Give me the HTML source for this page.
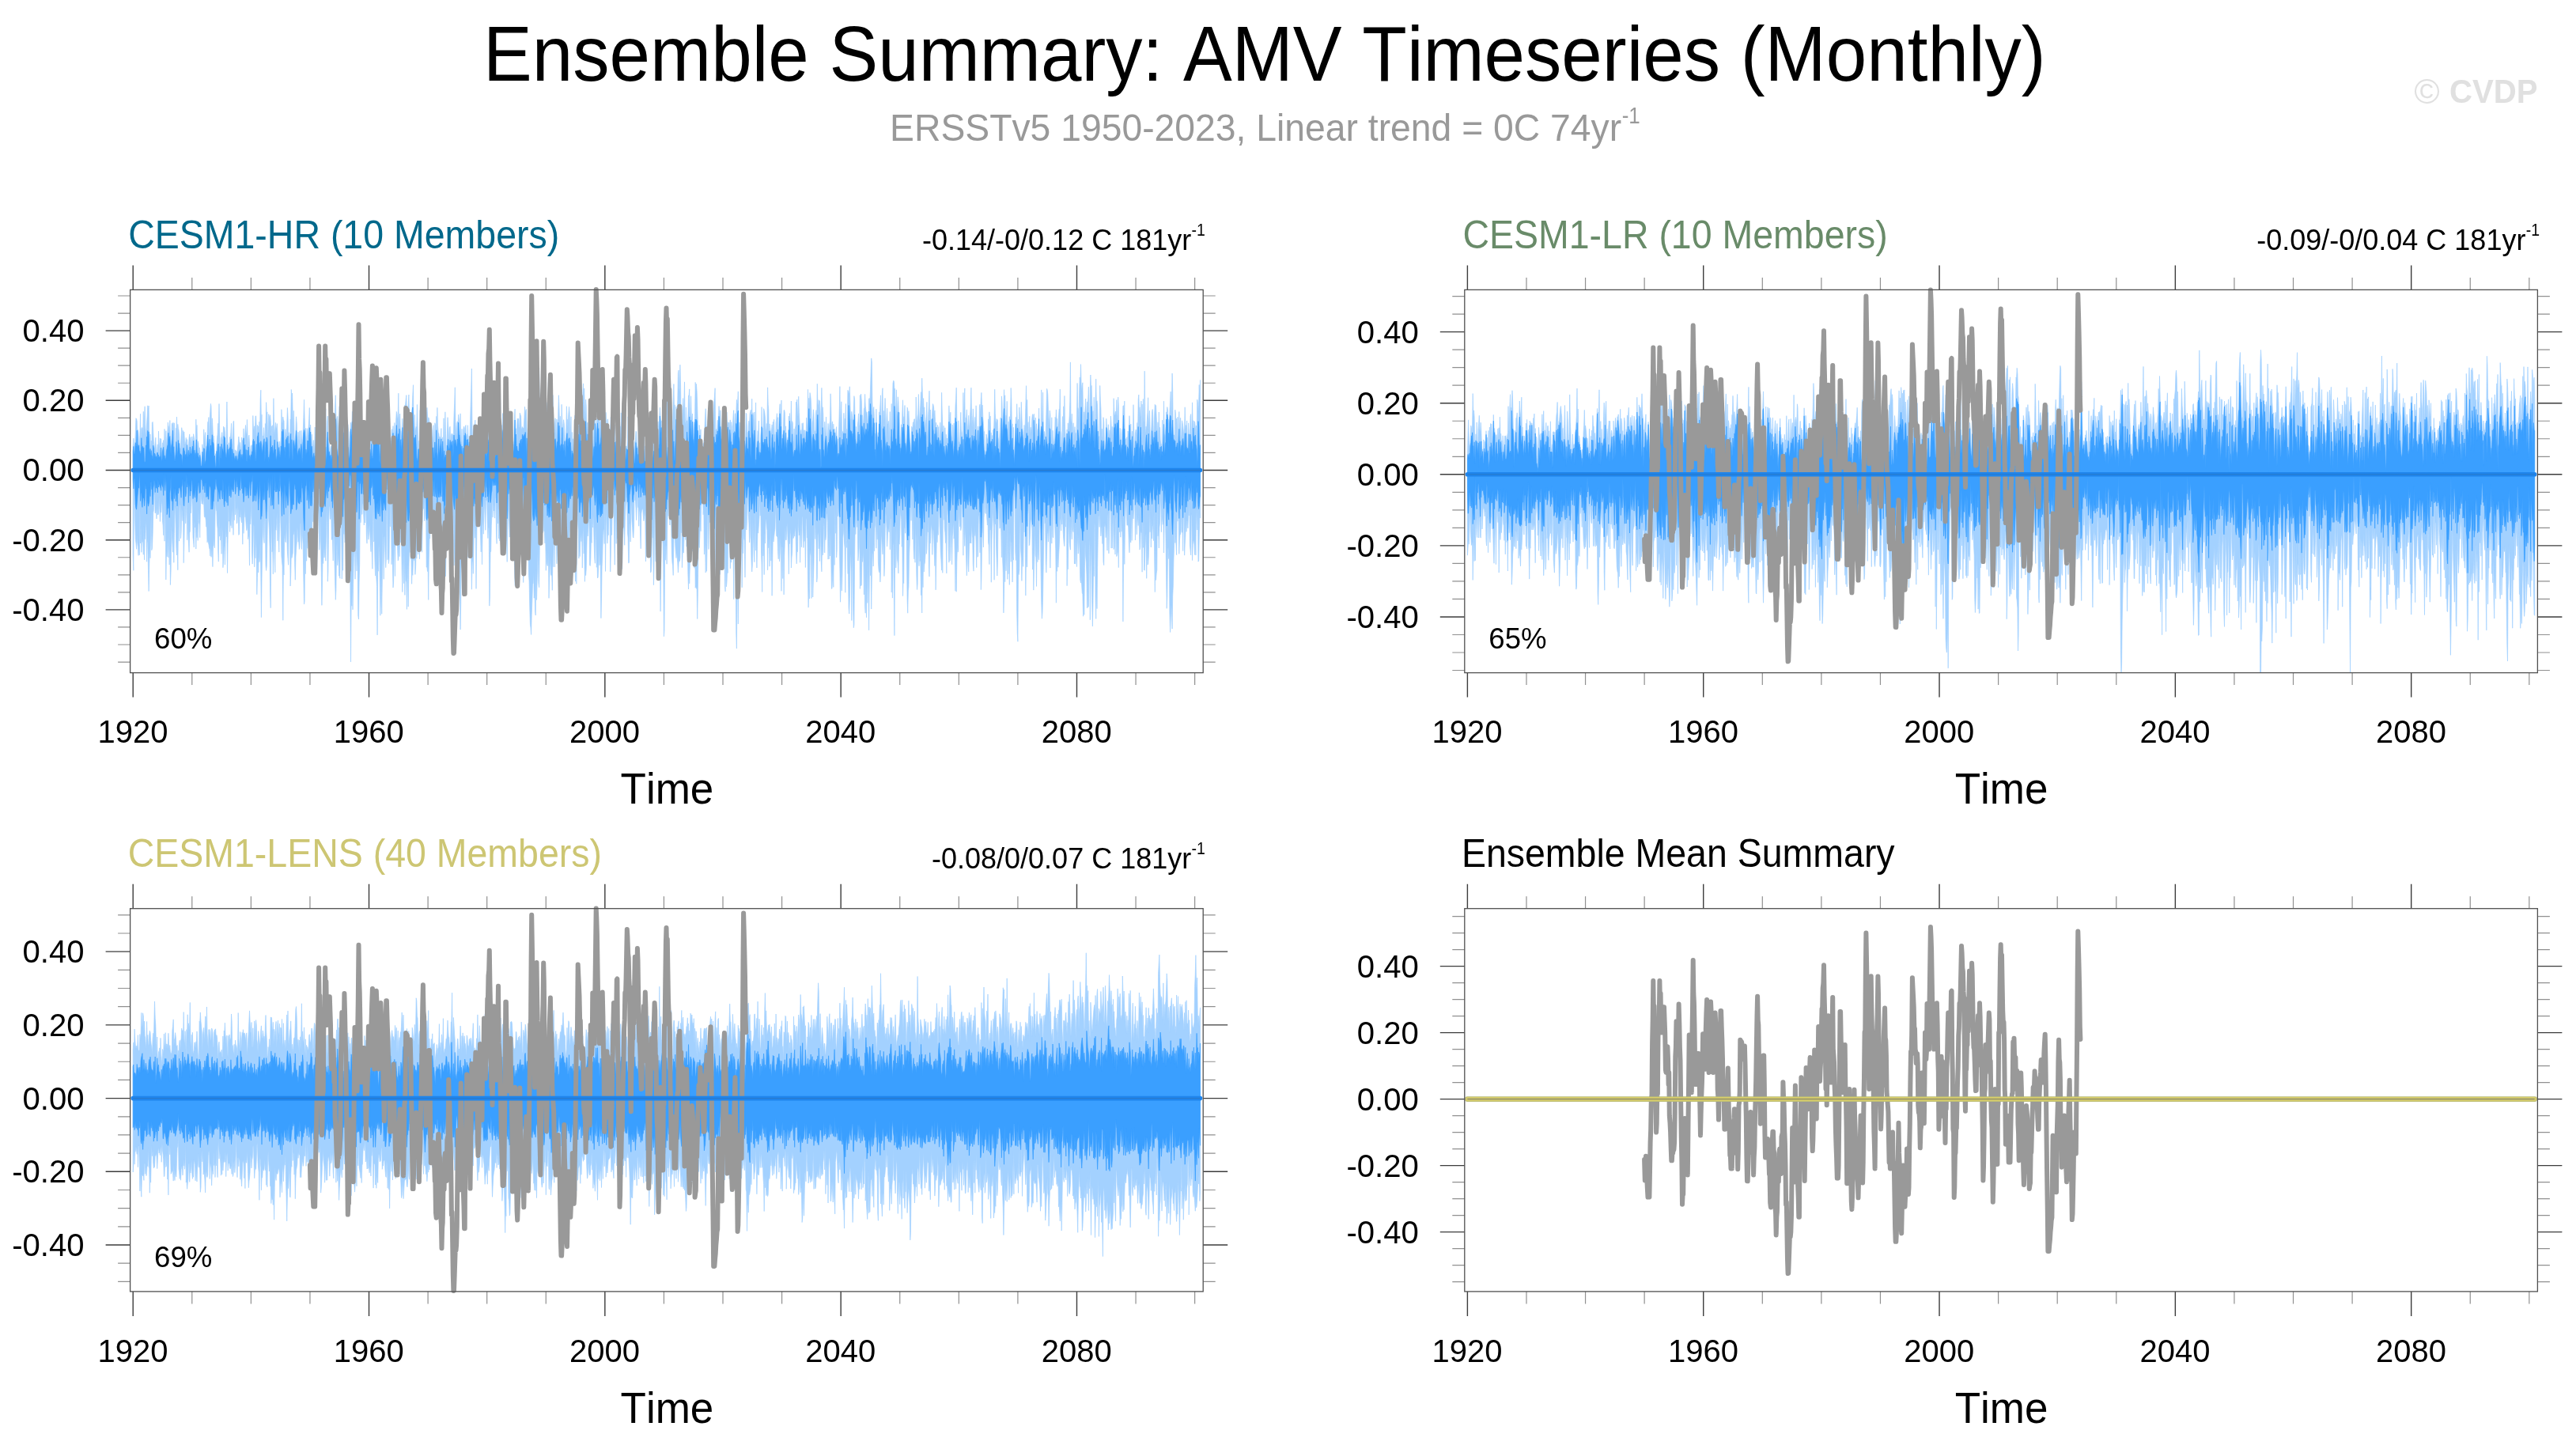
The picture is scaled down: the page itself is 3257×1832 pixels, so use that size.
<!DOCTYPE html>
<html lang="en"><head><meta charset="utf-8"><title>Ensemble Summary: AMV Timeseries (Monthly)</title>
<style>
html,body{margin:0;padding:0;background:#fff;}
body{width:3257px;height:1832px;overflow:hidden;}
svg{display:block;will-change:transform;}
svg text{font-family:"Liberation Sans", sans-serif;font-kerning:none;}
</style></head><body>
<svg width="3257" height="1832" viewBox="0 0 3257 1832">
<rect width="3257" height="1832" fill="#fff"/>
<text transform="translate(611.00 102.00) scale(1 1.065)" font-size="92.6">Ensemble Summary: AMV Timeseries (Monthly)</text>
<text transform="translate(1125.10 177.80) scale(1 1.045)" font-size="46.3" fill="#999">ERSSTv5 1950-2023, Linear trend = 0C 74yr</text>
<text transform="translate(2050.70 155.80) scale(1 1.14)" font-size="26" fill="#999">-1</text>
<text transform="translate(3052.20 130.50) scale(1 1.0)" font-size="44" fill="#e0e0e0">©</text>
<text transform="translate(3097.00 130.30) scale(1 1.06)" font-size="40.2" fill="#e0e0e0" font-weight="bold">CVDP</text>

<g id="panel1">
<clipPath id="cp0"><rect x="164.6" y="366.4" width="1356.6" height="484.2"/></clipPath>
<g clip-path="url(#cp0)">
<polygon points="168.2,564.8 168.8,554.1 169.4,565.1 170.1,562.7 170.7,560.1 171.3,546.3 171.9,528.7 172.6,529.7 173.2,532.4 173.8,555.8 174.4,543.4 175.0,546.5 175.7,557.1 176.3,567.1 176.9,550.7 177.5,523.2 178.1,566.0 178.8,542.6 179.4,540.5 180.0,541.1 180.6,551.1 181.3,520.3 181.9,549.7 182.5,529.1 183.1,513.8 183.7,536.8 184.4,553.6 185.0,546.8 185.6,534.6 186.2,525.5 186.8,512.8 187.5,517.8 188.1,513.0 188.7,552.2 189.3,569.8 190.0,548.8 190.6,570.5 191.2,557.1 191.8,571.6 192.4,534.3 193.1,533.4 193.7,545.3 194.3,557.9 194.9,566.0 195.5,567.2 196.2,560.3 196.8,553.3 197.4,569.7 198.0,578.3 198.7,567.2 199.3,561.9 199.9,574.2 200.5,545.1 201.1,569.9 201.8,560.8 202.4,554.2 203.0,573.2 203.6,554.7 204.2,566.4 204.9,582.0 205.5,560.0 206.1,560.5 206.7,556.5 207.4,569.3 208.0,542.4 208.6,560.4 209.2,577.5 209.8,544.7 210.5,565.8 211.1,554.9 211.7,550.1 212.3,534.0 212.9,537.9 213.6,540.6 214.2,547.1 214.8,531.5 215.4,553.3 216.1,566.6 216.7,556.0 217.3,535.3 217.9,538.5 218.5,534.6 219.2,534.6 219.8,549.8 220.4,534.8 221.0,575.2 221.6,577.4 222.3,541.4 222.9,542.8 223.5,527.0 224.1,551.9 224.8,536.4 225.4,541.7 226.0,544.0 226.6,551.0 227.2,565.4 227.9,567.3 228.5,566.7 229.1,551.4 229.7,540.7 230.3,544.5 231.0,574.8 231.6,544.5 232.2,549.1 232.8,546.0 233.5,560.7 234.1,561.9 234.7,558.9 235.3,553.4 235.9,561.6 236.6,555.6 237.2,575.3 237.8,571.0 238.4,563.9 239.1,553.3 239.7,548.9 240.3,557.1 240.9,552.7 241.5,560.7 242.2,567.9 242.8,551.9 243.4,557.1 244.0,561.8 244.6,548.7 245.3,552.7 245.9,557.0 246.5,564.8 247.1,569.7 247.8,530.2 248.4,546.3 249.0,537.4 249.6,564.9 250.2,557.7 250.9,560.3 251.5,570.2 252.1,565.8 252.7,568.7 253.3,574.0 254.0,581.6 254.6,588.6 255.2,583.6 255.8,561.8 256.5,567.5 257.1,574.4 257.7,542.8 258.3,563.6 258.9,550.5 259.6,546.6 260.2,568.6 260.8,564.3 261.4,564.2 262.0,551.2 262.7,533.5 263.3,533.8 263.9,527.5 264.5,563.6 265.2,530.8 265.8,520.5 266.4,510.4 267.0,513.8 267.6,547.0 268.3,528.8 268.9,539.3 269.5,553.4 270.1,550.9 270.7,557.8 271.4,572.9 272.0,579.6 272.6,573.6 273.2,579.0 273.9,564.3 274.5,553.6 275.1,549.3 275.7,535.3 276.3,546.2 277.0,510.5 277.6,541.9 278.2,560.6 278.8,569.8 279.4,554.3 280.1,552.3 280.7,546.6 281.3,555.3 281.9,555.6 282.6,539.1 283.2,543.5 283.8,540.3 284.4,547.1 285.0,568.0 285.7,576.7 286.3,542.2 286.9,508.0 287.5,542.5 288.1,569.9 288.8,565.1 289.4,559.8 290.0,564.3 290.6,552.4 291.3,554.8 291.9,546.7 292.5,535.3 293.1,561.0 293.7,563.0 294.4,548.7 295.0,532.8 295.6,532.4 296.2,567.2 296.9,580.8 297.5,568.8 298.1,581.5 298.7,569.8 299.3,574.2 300.0,570.1 300.6,564.9 301.2,561.0 301.8,552.0 302.4,557.9 303.1,564.2 303.7,559.4 304.3,567.0 304.9,573.0 305.6,553.0 306.2,556.9 306.8,556.6 307.4,563.4 308.0,541.9 308.7,566.2 309.3,558.9 309.9,546.7 310.5,537.5 311.1,547.0 311.8,550.2 312.4,530.5 313.0,549.2 313.6,568.4 314.3,553.6 314.9,550.1 315.5,561.1 316.1,576.7 316.7,569.4 317.4,563.3 318.0,574.9 318.6,562.5 319.2,564.9 319.8,525.5 320.5,544.0 321.1,542.2 321.7,538.7 322.3,553.0 323.0,526.0 323.6,525.9 324.2,540.1 324.8,578.9 325.4,537.3 326.1,542.9 326.7,538.7 327.3,554.3 327.9,533.1 328.5,550.9 329.2,504.5 329.8,493.2 330.4,535.2 331.0,524.1 331.7,567.9 332.3,550.9 332.9,553.1 333.5,540.6 334.1,548.8 334.8,575.8 335.4,535.5 336.0,541.6 336.6,508.7 337.2,523.0 337.9,520.9 338.5,556.2 339.1,543.0 339.7,523.6 340.4,526.9 341.0,534.2 341.6,524.7 342.2,531.6 342.8,545.5 343.5,538.7 344.1,564.0 344.7,537.6 345.3,553.4 345.9,503.7 346.6,542.2 347.2,550.1 347.8,542.2 348.4,534.3 349.1,542.3 349.7,541.0 350.3,535.5 350.9,547.0 351.5,569.1 352.2,564.9 352.8,562.2 353.4,558.1 354.0,578.3 354.6,563.6 355.3,551.8 355.9,517.7 356.5,533.1 357.1,535.3 357.8,527.0 358.4,531.3 359.0,531.7 359.6,567.6 360.2,553.5 360.9,542.4 361.5,549.2 362.1,552.3 362.7,537.9 363.4,515.6 364.0,525.7 364.6,545.8 365.2,547.2 365.8,549.6 366.5,562.6 367.1,530.1 367.7,531.7 368.3,492.5 368.9,506.3 369.6,497.0 370.2,523.9 370.8,545.1 371.4,519.3 372.1,552.1 372.7,561.5 373.3,554.5 373.9,547.1 374.5,526.8 375.2,535.1 375.8,560.0 376.4,566.9 377.0,546.2 377.6,554.4 378.3,557.6 378.9,544.7 379.5,575.1 380.1,554.8 380.8,544.3 381.4,554.6 382.0,560.2 382.6,558.7 383.2,545.8 383.9,527.3 384.5,505.3 385.1,528.2 385.7,547.0 386.3,541.4 387.0,551.8 387.6,562.3 388.2,541.6 388.8,552.2 389.5,548.0 390.1,540.4 390.7,529.5 391.3,515.5 391.9,568.6 392.6,537.1 393.2,549.7 393.8,563.7 394.4,549.1 395.0,573.1 395.7,562.6 396.3,556.5 396.9,563.3 397.5,574.6 398.2,540.0 398.8,566.8 399.4,546.5 400.0,554.3 400.6,547.3 401.3,558.0 401.9,560.9 402.5,546.4 403.1,560.9 403.7,552.7 404.4,516.1 405.0,551.0 405.6,515.0 406.2,543.9 406.9,535.0 407.5,510.4 408.1,526.8 408.7,534.8 409.3,538.1 410.0,545.8 410.6,529.2 411.2,522.8 411.8,516.8 412.4,546.0 413.1,571.8 413.7,533.0 414.3,526.0 414.9,549.2 415.6,565.4 416.2,560.6 416.8,571.5 417.4,574.4 418.0,566.3 418.7,563.7 419.3,566.2 419.9,531.6 420.5,541.6 421.2,538.1 421.8,524.3 422.4,526.5 423.0,543.2 423.6,515.7 424.3,499.7 424.9,526.2 425.5,530.8 426.1,533.1 426.7,526.3 427.4,550.3 428.0,537.0 428.6,528.7 429.2,513.8 429.9,541.3 430.5,519.6 431.1,527.2 431.7,532.9 432.3,518.1 433.0,521.6 433.6,537.1 434.2,536.3 434.8,538.3 435.4,549.2 436.1,564.0 436.7,567.3 437.3,552.1 437.9,536.9 438.6,561.6 439.2,560.3 439.8,536.7 440.4,544.6 441.0,575.6 441.7,559.4 442.3,545.8 442.9,545.4 443.5,534.2 444.1,535.7 444.8,540.4 445.4,520.2 446.0,522.9 446.6,543.9 447.3,532.0 447.9,537.7 448.5,536.4 449.1,522.2 449.7,523.8 450.4,552.9 451.0,540.3 451.6,554.8 452.2,549.2 452.8,542.4 453.5,543.5 454.1,545.4 454.7,550.9 455.3,565.5 456.0,563.1 456.6,544.7 457.2,572.3 457.8,551.8 458.4,576.3 459.1,560.2 459.7,552.9 460.3,575.7 460.9,571.6 461.5,558.9 462.2,574.3 462.8,554.2 463.4,565.8 464.0,551.1 464.7,541.0 465.3,544.6 465.9,557.2 466.5,540.4 467.1,525.7 467.8,522.6 468.4,521.2 469.0,547.4 469.6,544.5 470.2,518.4 470.9,557.4 471.5,548.2 472.1,556.7 472.7,518.3 473.4,524.8 474.0,498.8 474.6,534.5 475.2,535.8 475.8,513.9 476.5,520.7 477.1,507.0 477.7,507.9 478.3,546.2 479.0,536.4 479.6,541.3 480.2,550.2 480.8,539.6 481.4,531.8 482.1,551.9 482.7,544.4 483.3,510.6 483.9,525.2 484.5,535.8 485.2,528.3 485.8,539.3 486.4,547.2 487.0,528.5 487.7,524.5 488.3,545.8 488.9,517.8 489.5,542.5 490.1,551.9 490.8,551.2 491.4,548.1 492.0,559.4 492.6,558.1 493.2,573.2 493.9,554.0 494.5,566.3 495.1,544.7 495.7,542.5 496.4,550.8 497.0,538.5 497.6,550.2 498.2,561.9 498.8,534.5 499.5,549.2 500.1,558.1 500.7,531.1 501.3,520.4 501.9,522.7 502.6,531.1 503.2,526.9 503.8,497.2 504.4,540.4 505.1,526.1 505.7,523.1 506.3,543.4 506.9,545.1 507.5,552.7 508.2,544.1 508.8,529.1 509.4,539.8 510.0,547.6 510.6,522.1 511.3,526.0 511.9,512.0 512.5,512.8 513.1,506.2 513.8,499.6 514.4,525.9 515.0,541.3 515.6,516.8 516.2,511.9 516.9,499.0 517.5,523.8 518.1,527.3 518.7,532.8 519.3,536.6 520.0,521.6 520.6,519.4 521.2,516.0 521.8,499.4 522.5,486.7 523.1,539.2 523.7,544.2 524.3,524.4 524.9,544.7 525.6,542.3 526.2,539.6 526.8,538.7 527.4,511.5 528.0,537.0 528.7,557.6 529.3,557.2 529.9,573.2 530.5,549.7 531.2,518.5 531.8,539.7 532.4,541.8 533.0,563.0 533.6,560.2 534.3,568.3 534.9,557.7 535.5,564.7 536.1,546.4 536.7,573.7 537.4,568.0 538.0,552.3 538.6,549.2 539.2,526.6 539.9,515.4 540.5,523.7 541.1,537.6 541.7,527.8 542.3,528.9 543.0,534.5 543.6,544.3 544.2,555.7 544.8,556.9 545.5,538.6 546.1,544.1 546.7,560.9 547.3,550.6 547.9,537.6 548.6,562.5 549.2,570.8 549.8,534.7 550.4,536.6 551.0,567.6 551.7,526.4 552.3,564.0 552.9,515.4 553.5,538.4 554.2,547.7 554.8,547.7 555.4,554.1 556.0,552.1 556.6,557.0 557.3,551.8 557.9,541.6 558.5,576.3 559.1,567.6 559.7,552.8 560.4,566.8 561.0,528.7 561.6,562.7 562.2,554.7 562.9,520.8 563.5,548.5 564.1,567.3 564.7,585.1 565.3,549.9 566.0,527.7 566.6,537.0 567.2,548.7 567.8,565.4 568.4,540.8 569.1,539.3 569.7,563.6 570.3,550.9 570.9,548.5 571.6,548.0 572.2,552.2 572.8,549.3 573.4,551.6 574.0,525.5 574.7,509.2 575.3,489.8 575.9,533.7 576.5,546.7 577.1,551.2 577.8,534.8 578.4,532.8 579.0,539.1 579.6,524.1 580.3,529.8 580.9,543.2 581.5,547.4 582.1,522.9 582.7,558.8 583.4,559.1 584.0,542.4 584.6,571.3 585.2,582.3 585.8,543.6 586.5,539.2 587.1,540.7 587.7,553.4 588.3,539.2 589.0,537.5 589.6,574.8 590.2,548.9 590.8,552.3 591.4,537.7 592.1,558.8 592.7,555.7 593.3,551.0 593.9,559.0 594.5,536.3 595.2,511.2 595.8,490.5 596.4,466.0 597.0,540.5 597.7,560.6 598.3,549.9 598.9,536.8 599.5,536.9 600.1,538.4 600.8,531.1 601.4,555.3 602.0,547.5 602.6,538.3 603.2,559.9 603.9,552.2 604.5,560.7 605.1,561.2 605.7,563.5 606.4,561.5 607.0,530.2 607.6,559.9 608.2,555.2 608.8,565.5 609.5,572.6 610.1,553.8 610.7,547.9 611.3,559.2 612.0,548.7 612.6,573.2 613.2,558.1 613.8,564.4 614.4,570.1 615.1,557.6 615.7,580.1 616.3,550.1 616.9,530.0 617.5,551.1 618.2,544.6 618.8,540.6 619.4,549.6 620.0,544.3 620.7,524.4 621.3,499.9 621.9,584.2 622.5,575.6 623.1,557.4 623.8,559.4 624.4,574.6 625.0,566.9 625.6,554.5 626.2,570.2 626.9,565.1 627.5,531.0 628.1,555.2 628.7,565.3 629.4,548.4 630.0,523.4 630.6,533.8 631.2,540.7 631.8,563.9 632.5,495.7 633.1,528.8 633.7,539.8 634.3,537.5 634.9,551.0 635.6,522.6 636.2,528.9 636.8,525.1 637.4,536.8 638.1,573.8 638.7,537.4 639.3,559.6 639.9,573.0 640.5,550.8 641.2,551.7 641.8,545.0 642.4,579.1 643.0,563.6 643.6,560.5 644.3,571.6 644.9,551.7 645.5,540.8 646.1,553.6 646.8,569.5 647.4,574.1 648.0,567.6 648.6,558.5 649.2,568.0 649.9,556.8 650.5,526.1 651.1,517.2 651.7,548.0 652.3,541.7 653.0,567.5 653.6,539.1 654.2,529.0 654.8,532.3 655.5,529.2 656.1,539.7 656.7,540.8 657.3,522.1 657.9,524.0 658.6,526.1 659.2,542.9 659.8,541.4 660.4,539.6 661.0,540.8 661.7,542.2 662.3,540.4 662.9,528.4 663.5,514.2 664.2,523.2 664.8,519.0 665.4,517.5 666.0,540.4 666.6,554.6 667.3,553.9 667.9,547.5 668.5,530.8 669.1,555.8 669.8,540.7 670.4,539.5 671.0,498.7 671.6,516.8 672.2,532.0 672.9,503.7 673.5,500.6 674.1,489.2 674.7,468.0 675.3,486.9 676.0,511.6 676.6,488.2 677.2,482.6 677.8,502.8 678.5,531.1 679.1,499.5 679.7,516.3 680.3,484.3 680.9,487.6 681.6,465.1 682.2,513.5 682.8,530.0 683.4,545.2 684.0,550.4 684.7,535.2 685.3,536.6 685.9,523.3 686.5,543.9 687.2,559.3 687.8,557.8 688.4,549.3 689.0,549.1 689.6,530.8 690.3,536.0 690.9,512.5 691.5,525.0 692.1,508.8 692.7,519.1 693.4,477.3 694.0,474.8 694.6,511.4 695.2,540.4 695.9,524.8 696.5,541.9 697.1,519.0 697.7,520.3 698.3,516.4 699.0,499.6 699.6,526.6 700.2,538.3 700.8,548.6 701.4,536.1 702.1,528.7 702.7,542.4 703.3,554.8 703.9,530.0 704.6,536.5 705.2,554.1 705.8,520.6 706.4,499.7 707.0,514.7 707.7,544.9 708.3,526.3 708.9,552.5 709.5,556.4 710.1,511.3 710.8,530.9 711.4,542.2 712.0,548.6 712.6,530.7 713.3,536.0 713.9,548.7 714.5,567.9 715.1,562.0 715.7,549.4 716.4,513.7 717.0,531.0 717.6,530.5 718.2,547.5 718.8,524.8 719.5,514.3 720.1,521.2 720.7,556.3 721.3,546.9 722.0,526.8 722.6,575.8 723.2,546.4 723.8,566.4 724.4,554.7 725.1,567.2 725.7,569.7 726.3,532.6 726.9,525.1 727.5,543.2 728.2,514.8 728.8,520.0 729.4,536.4 730.0,562.4 730.7,525.2 731.3,501.9 731.9,518.2 732.5,518.5 733.1,521.8 733.8,510.8 734.4,508.8 735.0,509.2 735.6,530.0 736.3,525.6 736.9,494.6 737.5,484.9 738.1,508.8 738.7,491.0 739.4,519.9 740.0,528.3 740.6,505.1 741.2,513.1 741.8,546.3 742.5,534.9 743.1,534.0 743.7,559.3 744.3,563.7 745.0,543.7 745.6,544.1 746.2,504.3 746.8,499.8 747.4,560.0 748.1,517.9 748.7,526.6 749.3,561.9 749.9,564.4 750.5,554.4 751.2,529.4 751.8,527.4 752.4,525.3 753.0,547.9 753.7,540.0 754.3,531.9 754.9,529.7 755.5,498.6 756.1,530.1 756.8,519.4 757.4,522.0 758.0,553.1 758.6,532.8 759.2,535.7 759.9,514.6 760.5,523.5 761.1,498.6 761.7,489.3 762.4,522.8 763.0,529.2 763.6,532.7 764.2,558.6 764.8,579.0 765.5,546.1 766.1,521.4 766.7,536.8 767.3,568.7 767.9,530.5 768.6,529.9 769.2,547.1 769.8,555.0 770.4,571.6 771.1,542.4 771.7,542.5 772.3,527.2 772.9,546.6 773.5,522.2 774.2,562.4 774.8,559.6 775.4,545.0 776.0,567.0 776.6,556.6 777.3,537.1 777.9,559.7 778.5,564.7 779.1,552.5 779.8,550.4 780.4,556.0 781.0,579.2 781.6,553.7 782.2,575.6 782.9,566.4 783.5,566.9 784.1,538.8 784.7,565.6 785.3,521.9 786.0,528.8 786.6,512.6 787.2,513.7 787.8,554.7 788.5,553.6 789.1,563.3 789.7,552.1 790.3,565.3 790.9,563.6 791.6,564.8 792.2,564.3 792.8,565.5 793.4,556.8 794.1,526.8 794.7,539.7 795.3,540.1 795.9,569.9 796.5,553.1 797.2,563.0 797.8,560.4 798.4,564.9 799.0,554.0 799.6,560.9 800.3,546.8 800.9,553.5 801.5,570.0 802.1,583.9 802.8,558.4 803.4,556.5 804.0,545.3 804.6,545.9 805.2,564.6 805.9,564.3 806.5,570.5 807.1,543.9 807.7,526.9 808.3,549.0 809.0,555.6 809.6,538.1 810.2,536.9 810.8,561.2 811.5,560.2 812.1,567.3 812.7,561.3 813.3,566.3 813.9,543.0 814.6,557.5 815.2,574.5 815.8,563.9 816.4,569.9 817.0,561.4 817.7,533.2 818.3,552.2 818.9,551.9 819.5,537.4 820.2,528.6 820.8,528.3 821.4,549.8 822.0,528.1 822.6,530.8 823.3,534.9 823.9,519.9 824.5,563.2 825.1,552.3 825.7,562.7 826.4,563.7 827.0,537.8 827.6,551.8 828.2,550.5 828.9,520.5 829.5,515.2 830.1,531.6 830.7,559.0 831.3,544.0 832.0,532.8 832.6,540.9 833.2,561.3 833.8,526.8 834.4,515.2 835.1,529.0 835.7,534.3 836.3,531.8 836.9,552.3 837.6,549.2 838.2,544.1 838.8,524.3 839.4,506.4 840.0,500.6 840.7,490.7 841.3,491.8 841.9,535.4 842.5,493.6 843.1,496.1 843.8,507.7 844.4,544.3 845.0,544.6 845.6,538.7 846.3,574.7 846.9,547.6 847.5,558.4 848.1,558.3 848.7,553.6 849.4,546.5 850.0,541.7 850.6,532.0 851.2,508.1 851.9,485.5 852.5,519.2 853.1,511.8 853.7,540.0 854.3,534.5 855.0,514.1 855.6,536.6 856.2,515.7 856.8,505.4 857.4,471.7 858.1,468.0 858.7,490.9 859.3,495.6 859.9,461.2 860.6,489.4 861.2,536.1 861.8,559.4 862.4,571.1 863.0,518.9 863.7,503.6 864.3,524.3 864.9,509.9 865.5,482.9 866.1,532.9 866.8,536.5 867.4,514.9 868.0,540.7 868.6,531.8 869.3,537.0 869.9,526.8 870.5,500.1 871.1,500.2 871.7,491.9 872.4,539.7 873.0,523.6 873.6,500.8 874.2,525.0 874.8,531.3 875.5,523.0 876.1,549.1 876.7,542.6 877.3,533.5 878.0,537.5 878.6,526.7 879.2,483.4 879.8,498.9 880.4,485.4 881.1,495.1 881.7,512.8 882.3,535.3 882.9,561.1 883.5,574.4 884.2,537.4 884.8,544.7 885.4,553.9 886.0,542.9 886.7,577.0 887.3,577.0 887.9,566.6 888.5,573.1 889.1,560.3 889.8,561.4 890.4,548.5 891.0,540.2 891.6,526.3 892.2,516.7 892.9,535.5 893.5,545.0 894.1,550.0 894.7,570.5 895.4,551.8 896.0,517.7 896.6,555.0 897.2,547.3 897.8,584.9 898.5,568.3 899.1,537.0 899.7,548.3 900.3,556.0 900.9,570.4 901.6,568.0 902.2,522.8 902.8,508.8 903.4,502.0 904.1,490.7 904.7,549.3 905.3,543.7 905.9,542.7 906.5,541.5 907.2,531.2 907.8,547.5 908.4,528.6 909.0,513.5 909.6,521.3 910.3,532.3 910.9,518.7 911.5,545.2 912.1,542.4 912.8,550.7 913.4,551.1 914.0,573.3 914.6,532.2 915.2,544.9 915.9,546.5 916.5,526.1 917.1,543.0 917.7,543.8 918.4,525.8 919.0,521.1 919.6,539.9 920.2,533.6 920.8,540.7 921.5,534.1 922.1,545.7 922.7,535.0 923.3,530.9 923.9,552.8 924.6,533.5 925.2,539.0 925.8,559.1 926.4,541.6 927.1,525.0 927.7,518.7 928.3,559.2 928.9,535.0 929.5,522.7 930.2,538.6 930.8,524.1 931.4,505.4 932.0,510.7 932.6,509.5 933.3,494.9 933.9,532.5 934.5,548.7 935.1,534.0 935.8,543.6 936.4,538.0 937.0,540.0 937.6,511.5 938.2,533.4 938.9,553.2 939.5,507.4 940.1,517.2 940.7,531.9 941.3,538.2 942.0,556.0 942.6,566.3 943.2,522.3 943.8,523.2 944.5,546.6 945.1,546.3 945.7,566.2 946.3,538.3 946.9,532.1 947.6,535.9 948.2,522.7 948.8,520.3 949.4,518.2 950.0,534.8 950.7,504.2 951.3,534.4 951.9,521.7 952.5,526.0 953.2,533.1 953.8,520.9 954.4,542.7 955.0,542.4 955.6,509.0 956.3,580.2 956.9,561.3 957.5,556.6 958.1,544.7 958.7,549.2 959.4,532.1 960.0,569.7 960.6,559.7 961.2,569.4 961.9,549.8 962.5,543.0 963.1,514.6 963.7,541.5 964.3,541.1 965.0,547.4 965.6,516.6 966.2,518.8 966.8,522.0 967.4,528.0 968.1,543.0 968.7,545.7 969.3,535.4 969.9,542.3 970.6,489.9 971.2,511.4 971.8,518.6 972.4,561.4 973.0,535.8 973.7,541.0 974.3,546.6 974.9,549.1 975.5,543.6 976.1,536.9 976.8,544.1 977.4,533.1 978.0,559.3 978.6,530.3 979.3,549.8 979.9,549.2 980.5,569.9 981.1,534.6 981.7,529.9 982.4,522.7 983.0,549.8 983.6,527.7 984.2,558.2 984.9,535.3 985.5,518.1 986.1,510.7 986.7,540.7 987.3,523.9 988.0,506.0 988.6,551.5 989.2,549.3 989.8,551.4 990.4,541.7 991.1,518.6 991.7,518.4 992.3,521.8 992.9,556.0 993.6,538.8 994.2,559.2 994.8,560.9 995.4,558.6 996.0,553.0 996.7,552.7 997.3,526.1 997.9,551.0 998.5,522.6 999.1,544.5 999.8,533.4 1000.4,507.0 1001.0,538.4 1001.6,532.6 1002.3,534.4 1002.9,557.9 1003.5,557.6 1004.1,542.1 1004.7,562.7 1005.4,541.2 1006.0,538.1 1006.6,508.1 1007.2,511.9 1007.8,505.1 1008.5,525.6 1009.1,525.8 1009.7,501.2 1010.3,521.4 1011.0,534.0 1011.6,544.4 1012.2,548.1 1012.8,543.6 1013.4,555.0 1014.1,535.2 1014.7,543.6 1015.3,534.6 1015.9,545.7 1016.5,543.8 1017.2,552.0 1017.8,543.8 1018.4,547.3 1019.0,558.0 1019.7,528.1 1020.3,541.8 1020.9,533.5 1021.5,492.4 1022.1,525.7 1022.8,503.3 1023.4,511.6 1024.0,496.5 1024.6,499.4 1025.2,504.8 1025.9,519.6 1026.5,565.2 1027.1,534.0 1027.7,531.2 1028.4,517.8 1029.0,524.0 1029.6,552.5 1030.2,544.6 1030.8,551.7 1031.5,523.4 1032.1,518.5 1032.7,529.9 1033.3,485.3 1033.9,510.6 1034.6,513.6 1035.2,505.6 1035.8,527.1 1036.4,506.6 1037.1,521.4 1037.7,553.5 1038.3,517.0 1038.9,490.4 1039.5,518.3 1040.2,514.7 1040.8,523.1 1041.4,556.5 1042.0,568.3 1042.7,533.2 1043.3,547.0 1043.9,550.4 1044.5,527.1 1045.1,550.0 1045.8,573.9 1046.4,549.9 1047.0,535.4 1047.6,543.9 1048.2,559.8 1048.9,536.8 1049.5,532.2 1050.1,497.8 1050.7,515.8 1051.4,550.1 1052.0,535.4 1052.6,532.9 1053.2,557.7 1053.8,536.2 1054.5,550.5 1055.1,542.1 1055.7,550.9 1056.3,549.6 1056.9,546.5 1057.6,539.6 1058.2,554.1 1058.8,571.9 1059.4,554.8 1060.1,556.1 1060.7,539.4 1061.3,516.6 1061.9,488.6 1062.5,544.2 1063.2,523.0 1063.8,507.8 1064.4,542.9 1065.0,549.5 1065.6,545.5 1066.3,547.5 1066.9,522.3 1067.5,549.6 1068.1,529.2 1068.8,530.7 1069.4,510.5 1070.0,556.5 1070.6,542.4 1071.2,542.9 1071.9,493.4 1072.5,494.1 1073.1,496.7 1073.7,498.1 1074.3,488.8 1075.0,512.6 1075.6,529.8 1076.2,530.0 1076.8,520.3 1077.5,525.8 1078.1,532.1 1078.7,533.9 1079.3,517.6 1079.9,500.7 1080.6,505.3 1081.2,548.8 1081.8,555.6 1082.4,539.4 1083.0,558.6 1083.7,557.9 1084.3,537.1 1084.9,532.5 1085.5,522.9 1086.2,537.4 1086.8,538.1 1087.4,499.6 1088.0,520.2 1088.6,498.1 1089.3,506.5 1089.9,525.4 1090.5,525.0 1091.1,542.0 1091.7,535.0 1092.4,516.9 1093.0,515.3 1093.6,498.4 1094.2,513.3 1094.9,519.2 1095.5,523.5 1096.1,520.8 1096.7,527.0 1097.3,537.0 1098.0,536.3 1098.6,504.9 1099.2,503.4 1099.8,511.7 1100.5,492.4 1101.1,471.2 1101.7,452.9 1102.3,457.7 1102.9,506.7 1103.6,532.4 1104.2,516.8 1104.8,514.5 1105.4,527.5 1106.0,548.7 1106.7,547.9 1107.3,552.4 1107.9,517.2 1108.5,545.0 1109.2,549.9 1109.8,553.8 1110.4,546.8 1111.0,554.3 1111.6,521.0 1112.3,521.6 1112.9,511.9 1113.5,499.8 1114.1,537.2 1114.7,544.1 1115.4,496.6 1116.0,490.7 1116.6,534.6 1117.2,519.3 1117.9,532.8 1118.5,519.6 1119.1,503.4 1119.7,527.9 1120.3,566.8 1121.0,527.1 1121.6,516.2 1122.2,535.5 1122.8,536.6 1123.4,532.4 1124.1,558.3 1124.7,539.0 1125.3,520.5 1125.9,551.2 1126.6,552.1 1127.2,510.5 1127.8,554.2 1128.4,513.4 1129.0,484.6 1129.7,481.2 1130.3,482.2 1130.9,492.2 1131.5,491.4 1132.1,531.8 1132.8,514.8 1133.4,492.8 1134.0,525.0 1134.6,519.9 1135.3,501.8 1135.9,508.3 1136.5,528.0 1137.1,521.5 1137.7,543.8 1138.4,566.2 1139.0,550.1 1139.6,536.7 1140.2,554.1 1140.8,522.8 1141.5,505.8 1142.1,538.1 1142.7,526.8 1143.3,526.7 1144.0,512.5 1144.6,548.4 1145.2,560.9 1145.8,563.4 1146.4,558.5 1147.1,515.2 1147.7,517.3 1148.3,530.2 1148.9,519.6 1149.5,532.2 1150.2,550.8 1150.8,564.7 1151.4,568.2 1152.0,559.8 1152.7,539.3 1153.3,540.3 1153.9,542.3 1154.5,533.6 1155.1,538.9 1155.8,529.9 1156.4,529.7 1157.0,537.5 1157.6,548.5 1158.2,502.0 1158.9,530.8 1159.5,534.6 1160.1,526.8 1160.7,523.7 1161.4,498.5 1162.0,529.4 1162.6,532.0 1163.2,521.1 1163.8,513.1 1164.5,495.7 1165.1,502.7 1165.7,478.2 1166.3,495.7 1167.0,516.1 1167.6,503.6 1168.2,521.3 1168.8,514.9 1169.4,547.2 1170.1,534.7 1170.7,530.8 1171.3,523.9 1171.9,508.3 1172.5,553.1 1173.2,543.7 1173.8,523.5 1174.4,512.9 1175.0,494.2 1175.7,538.7 1176.3,518.0 1176.9,540.5 1177.5,530.3 1178.1,532.9 1178.8,519.8 1179.4,510.6 1180.0,511.8 1180.6,515.0 1181.2,528.8 1181.9,518.9 1182.5,532.6 1183.1,538.7 1183.7,534.3 1184.4,557.2 1185.0,548.0 1185.6,537.2 1186.2,542.8 1186.8,539.6 1187.5,563.6 1188.1,557.9 1188.7,534.1 1189.3,544.0 1189.9,552.2 1190.6,496.3 1191.2,521.0 1191.8,538.1 1192.4,555.9 1193.1,538.2 1193.7,548.6 1194.3,569.8 1194.9,540.7 1195.5,560.2 1196.2,549.2 1196.8,559.4 1197.4,554.1 1198.0,568.1 1198.6,551.9 1199.3,534.8 1199.9,512.9 1200.5,526.6 1201.1,533.7 1201.8,521.2 1202.4,550.1 1203.0,552.4 1203.6,557.1 1204.2,536.9 1204.9,554.5 1205.5,543.7 1206.1,534.9 1206.7,548.3 1207.3,543.9 1208.0,512.7 1208.6,504.8 1209.2,490.2 1209.8,528.1 1210.5,561.8 1211.1,552.2 1211.7,531.9 1212.3,558.0 1212.9,559.1 1213.6,559.8 1214.2,537.4 1214.8,521.3 1215.4,544.0 1216.0,546.7 1216.7,558.8 1217.3,553.1 1217.9,496.5 1218.5,534.3 1219.2,509.1 1219.8,490.9 1220.4,559.5 1221.0,528.1 1221.6,529.8 1222.3,517.9 1222.9,534.8 1223.5,546.2 1224.1,535.9 1224.7,525.2 1225.4,544.1 1226.0,536.4 1226.6,526.9 1227.2,514.6 1227.9,490.2 1228.5,525.7 1229.1,541.3 1229.7,530.6 1230.3,516.9 1231.0,530.6 1231.6,539.4 1232.2,549.3 1232.8,527.4 1233.5,535.0 1234.1,512.8 1234.7,530.8 1235.3,560.7 1235.9,545.8 1236.6,538.9 1237.2,542.5 1237.8,558.6 1238.4,514.0 1239.0,511.2 1239.7,525.8 1240.3,505.3 1240.9,496.4 1241.5,515.0 1242.2,512.1 1242.8,526.6 1243.4,535.5 1244.0,546.3 1244.6,545.6 1245.3,583.5 1245.9,574.6 1246.5,568.7 1247.1,549.1 1247.7,552.6 1248.4,554.9 1249.0,556.1 1249.6,529.9 1250.2,534.8 1250.9,520.8 1251.5,532.2 1252.1,526.0 1252.7,547.0 1253.3,547.2 1254.0,568.0 1254.6,550.5 1255.2,555.1 1255.8,543.3 1256.4,547.2 1257.1,527.8 1257.7,492.3 1258.3,522.5 1258.9,532.1 1259.6,537.0 1260.2,529.8 1260.8,530.1 1261.4,531.4 1262.0,552.3 1262.7,557.5 1263.3,564.3 1263.9,550.8 1264.5,539.2 1265.1,528.1 1265.8,551.7 1266.4,500.9 1267.0,509.7 1267.6,544.5 1268.3,528.6 1268.9,516.6 1269.5,492.7 1270.1,503.9 1270.7,499.9 1271.4,534.5 1272.0,525.2 1272.6,526.6 1273.2,507.3 1273.8,532.3 1274.5,555.4 1275.1,533.2 1275.7,535.5 1276.3,526.7 1277.0,537.5 1277.6,522.5 1278.2,490.5 1278.8,505.3 1279.4,540.9 1280.1,535.9 1280.7,575.7 1281.3,540.3 1281.9,576.7 1282.5,573.4 1283.2,561.0 1283.8,544.8 1284.4,527.4 1285.0,544.2 1285.7,510.7 1286.3,531.7 1286.9,532.3 1287.5,530.2 1288.1,541.9 1288.8,515.0 1289.4,526.4 1290.0,560.8 1290.6,539.1 1291.3,508.3 1291.9,526.7 1292.5,540.4 1293.1,543.9 1293.7,548.4 1294.4,562.9 1295.0,537.4 1295.6,547.0 1296.2,535.6 1296.8,515.6 1297.5,487.7 1298.1,522.6 1298.7,505.5 1299.3,540.6 1300.0,533.7 1300.6,558.6 1301.2,537.1 1301.8,526.3 1302.4,552.7 1303.1,540.3 1303.7,547.3 1304.3,541.8 1304.9,528.4 1305.5,523.7 1306.2,524.3 1306.8,534.5 1307.4,523.2 1308.0,535.6 1308.7,561.3 1309.3,528.0 1309.9,542.5 1310.5,535.8 1311.1,558.9 1311.8,543.8 1312.4,541.5 1313.0,534.4 1313.6,516.1 1314.2,549.5 1314.9,560.7 1315.5,557.8 1316.1,539.9 1316.7,492.9 1317.4,532.6 1318.0,533.0 1318.6,496.1 1319.2,541.9 1319.8,549.8 1320.5,545.5 1321.1,550.1 1321.7,570.8 1322.3,545.2 1322.9,523.6 1323.6,491.4 1324.2,493.3 1324.8,498.9 1325.4,517.7 1326.1,530.9 1326.7,543.5 1327.3,519.0 1327.9,524.1 1328.5,577.8 1329.2,564.2 1329.8,527.8 1330.4,569.8 1331.0,544.2 1331.6,551.5 1332.3,567.0 1332.9,557.5 1333.5,552.1 1334.1,527.4 1334.8,531.1 1335.4,517.9 1336.0,529.7 1336.6,529.5 1337.2,569.3 1337.9,538.6 1338.5,527.8 1339.1,517.3 1339.7,517.6 1340.3,492.1 1341.0,544.4 1341.6,548.7 1342.2,570.0 1342.8,558.9 1343.5,526.6 1344.1,568.5 1344.7,513.8 1345.3,538.8 1345.9,500.5 1346.6,542.7 1347.2,551.4 1347.8,568.5 1348.4,570.9 1349.1,543.0 1349.7,553.0 1350.3,534.8 1350.9,545.3 1351.5,537.0 1352.2,525.5 1352.8,507.0 1353.4,457.9 1354.0,532.6 1354.6,535.2 1355.3,523.2 1355.9,565.4 1356.5,541.0 1357.1,534.7 1357.8,558.8 1358.4,546.5 1359.0,539.6 1359.6,549.4 1360.2,547.3 1360.9,557.1 1361.5,523.7 1362.1,484.4 1362.7,514.7 1363.3,517.0 1364.0,530.2 1364.6,497.8 1365.2,477.0 1365.8,483.8 1366.5,460.6 1367.1,485.0 1367.7,494.2 1368.3,487.9 1368.9,483.8 1369.6,534.4 1370.2,534.2 1370.8,520.8 1371.4,526.8 1372.0,515.4 1372.7,504.0 1373.3,539.4 1373.9,519.9 1374.5,507.9 1375.2,515.9 1375.8,504.0 1376.4,489.1 1377.0,550.5 1377.6,535.2 1378.3,493.1 1378.9,474.0 1379.5,490.7 1380.1,487.4 1380.7,506.7 1381.4,528.1 1382.0,519.8 1382.6,544.3 1383.2,502.2 1383.9,556.4 1384.5,556.9 1385.1,504.8 1385.7,479.1 1386.3,508.7 1387.0,506.8 1387.6,513.6 1388.2,539.9 1388.8,565.3 1389.4,553.1 1390.1,550.5 1390.7,487.5 1391.3,506.0 1391.9,516.4 1392.6,548.5 1393.2,542.0 1393.8,551.6 1394.4,556.6 1395.0,527.7 1395.7,533.7 1396.3,556.4 1396.9,562.1 1397.5,568.9 1398.1,557.7 1398.8,529.3 1399.4,540.7 1400.0,542.3 1400.6,549.6 1401.3,536.7 1401.9,548.0 1402.5,551.0 1403.1,543.8 1403.7,551.1 1404.4,526.1 1405.0,535.2 1405.6,551.7 1406.2,539.4 1406.8,545.7 1407.5,558.8 1408.1,503.7 1408.7,518.5 1409.3,525.3 1410.0,524.8 1410.6,520.1 1411.2,525.3 1411.8,505.5 1412.4,524.1 1413.1,531.5 1413.7,502.1 1414.3,514.2 1414.9,561.6 1415.6,560.1 1416.2,541.3 1416.8,547.4 1417.4,576.7 1418.0,558.9 1418.7,543.1 1419.3,541.9 1419.9,513.2 1420.5,512.8 1421.1,527.2 1421.8,507.1 1422.4,565.0 1423.0,563.2 1423.6,554.6 1424.3,579.3 1424.9,552.5 1425.5,560.9 1426.1,545.0 1426.7,551.5 1427.4,544.7 1428.0,525.7 1428.6,539.3 1429.2,546.9 1429.8,536.1 1430.5,558.3 1431.1,555.0 1431.7,545.1 1432.3,571.8 1433.0,511.7 1433.6,541.0 1434.2,567.7 1434.8,562.4 1435.4,547.9 1436.1,543.1 1436.7,545.0 1437.3,550.4 1437.9,534.4 1438.5,551.6 1439.2,505.2 1439.8,499.0 1440.4,516.4 1441.0,514.9 1441.7,528.0 1442.3,525.0 1442.9,507.0 1443.5,576.0 1444.1,511.1 1444.8,557.5 1445.4,504.4 1446.0,533.0 1446.6,532.8 1447.2,469.2 1447.9,538.4 1448.5,550.4 1449.1,539.2 1449.7,543.3 1450.4,530.5 1451.0,521.4 1451.6,502.8 1452.2,543.8 1452.8,530.8 1453.5,519.2 1454.1,545.0 1454.7,564.7 1455.3,549.0 1455.9,539.7 1456.6,521.1 1457.2,517.5 1457.8,527.1 1458.4,553.2 1459.1,545.8 1459.7,522.7 1460.3,511.3 1460.9,524.3 1461.5,512.4 1462.2,527.8 1462.8,542.2 1463.4,549.0 1464.0,533.8 1464.6,562.5 1465.3,521.0 1465.9,546.1 1466.5,540.3 1467.1,555.9 1467.8,561.0 1468.4,562.0 1469.0,567.0 1469.6,531.1 1470.2,564.5 1470.9,554.3 1471.5,507.2 1472.1,547.4 1472.7,552.9 1473.4,548.0 1474.0,539.1 1474.6,520.9 1475.2,522.9 1475.8,514.6 1476.5,518.9 1477.1,560.3 1477.7,530.3 1478.3,537.2 1478.9,522.3 1479.6,506.5 1480.2,495.0 1480.8,539.0 1481.4,512.3 1482.1,472.0 1482.7,494.4 1483.3,549.2 1483.9,549.8 1484.5,550.2 1485.2,549.7 1485.8,518.2 1486.4,522.9 1487.0,563.3 1487.6,529.0 1488.3,546.1 1488.9,527.2 1489.5,571.1 1490.1,545.1 1490.8,520.5 1491.4,539.4 1492.0,545.3 1492.6,528.3 1493.2,556.9 1493.9,549.4 1494.5,531.8 1495.1,534.5 1495.7,538.9 1496.3,544.7 1497.0,557.2 1497.6,541.1 1498.2,514.8 1498.8,542.5 1499.5,537.7 1500.1,542.0 1500.7,531.9 1501.3,568.1 1501.9,562.8 1502.6,534.8 1503.2,545.0 1503.8,571.5 1504.4,564.0 1505.0,526.6 1505.7,523.6 1506.3,552.1 1506.9,550.7 1507.5,508.9 1508.2,543.3 1508.8,531.8 1509.4,558.3 1510.0,532.6 1510.6,533.8 1511.3,539.5 1511.9,548.5 1512.5,538.0 1513.1,557.8 1513.7,505.1 1514.4,508.6 1515.0,519.9 1515.6,512.3 1516.2,486.5 1516.9,503.1 1517.5,480.5 1517.5,654.9 1516.9,649.1 1516.2,681.1 1515.6,708.9 1515.0,710.1 1514.4,634.7 1513.7,670.0 1513.1,657.7 1512.5,638.0 1511.9,701.9 1511.3,677.5 1510.6,701.5 1510.0,688.6 1509.4,682.2 1508.8,684.3 1508.2,688.1 1507.5,708.5 1506.9,652.6 1506.3,649.8 1505.7,701.9 1505.0,695.3 1504.4,689.0 1503.8,627.7 1503.2,651.8 1502.6,650.2 1501.9,667.9 1501.3,658.4 1500.7,659.1 1500.1,672.3 1499.5,654.9 1498.8,678.0 1498.2,688.1 1497.6,702.1 1497.0,626.0 1496.3,652.1 1495.7,696.6 1495.1,666.9 1494.5,673.2 1493.9,636.9 1493.2,670.6 1492.6,675.6 1492.0,676.2 1491.4,683.2 1490.8,700.3 1490.1,652.6 1489.5,635.1 1488.9,659.1 1488.3,639.5 1487.6,701.6 1487.0,689.3 1486.4,678.6 1485.8,686.4 1485.2,641.3 1484.5,689.9 1483.9,709.1 1483.3,740.7 1482.7,753.8 1482.1,795.1 1481.4,771.2 1480.8,764.7 1480.2,781.7 1479.6,799.4 1478.9,774.9 1478.3,699.3 1477.7,706.5 1477.1,692.1 1476.5,696.1 1475.8,753.7 1475.2,769.3 1474.6,724.3 1474.0,682.1 1473.4,646.2 1472.7,631.9 1472.1,658.8 1471.5,699.0 1470.9,657.2 1470.2,663.3 1469.6,656.7 1469.0,638.1 1468.4,672.7 1467.8,624.9 1467.1,637.9 1466.5,661.2 1465.9,666.7 1465.3,693.0 1464.6,669.9 1464.0,677.7 1463.4,625.0 1462.8,720.6 1462.2,724.7 1461.5,733.5 1460.9,682.5 1460.3,748.5 1459.7,707.9 1459.1,644.5 1458.4,683.6 1457.8,665.8 1457.2,663.9 1456.6,681.1 1455.9,656.2 1455.3,692.0 1454.7,647.5 1454.1,672.7 1453.5,643.1 1452.8,681.9 1452.2,704.3 1451.6,713.0 1451.0,714.1 1450.4,682.0 1449.7,731.3 1449.1,674.0 1448.5,679.7 1447.9,692.9 1447.2,721.2 1446.6,720.4 1446.0,652.9 1445.4,692.4 1444.8,639.2 1444.1,723.2 1443.5,674.5 1442.9,673.1 1442.3,670.1 1441.7,691.8 1441.0,695.1 1440.4,671.7 1439.8,650.8 1439.2,664.5 1438.5,653.5 1437.9,660.3 1437.3,675.7 1436.7,634.2 1436.1,665.7 1435.4,683.0 1434.8,631.7 1434.2,621.3 1433.6,646.0 1433.0,655.9 1432.3,646.6 1431.7,662.9 1431.1,683.4 1430.5,637.5 1429.8,686.0 1429.2,683.8 1428.6,677.7 1428.0,698.8 1427.4,688.5 1426.7,666.5 1426.1,663.4 1425.5,663.8 1424.9,664.2 1424.3,643.1 1423.6,630.4 1423.0,649.3 1422.4,666.6 1421.8,713.4 1421.1,676.1 1420.5,715.0 1419.9,785.9 1419.3,685.9 1418.7,662.5 1418.0,672.1 1417.4,645.5 1416.8,679.2 1416.2,637.0 1415.6,672.7 1414.9,653.2 1414.3,717.6 1413.7,678.4 1413.1,697.9 1412.4,701.7 1411.8,703.5 1411.2,652.6 1410.6,658.9 1410.0,701.0 1409.3,658.2 1408.7,691.8 1408.1,694.6 1407.5,651.8 1406.8,664.6 1406.2,693.0 1405.6,649.9 1405.0,693.1 1404.4,638.3 1403.7,644.7 1403.1,642.3 1402.5,679.9 1401.9,699.8 1401.3,645.7 1400.6,655.6 1400.0,696.0 1399.4,677.8 1398.8,663.7 1398.1,679.7 1397.5,660.7 1396.9,665.7 1396.3,660.6 1395.7,714.6 1395.0,710.5 1394.4,669.7 1393.8,687.5 1393.2,665.1 1392.6,669.1 1391.9,677.8 1391.3,665.6 1390.7,642.6 1390.1,666.4 1389.4,652.0 1388.8,652.7 1388.2,682.2 1387.6,717.7 1387.0,769.6 1386.3,736.7 1385.7,782.4 1385.1,755.6 1384.5,667.5 1383.9,660.2 1383.2,728.7 1382.6,717.6 1382.0,762.0 1381.4,791.9 1380.7,762.1 1380.1,708.9 1379.5,682.6 1378.9,728.0 1378.3,783.7 1377.6,679.7 1377.0,690.7 1376.4,766.5 1375.8,767.8 1375.2,744.3 1374.5,768.9 1373.9,726.2 1373.3,711.2 1372.7,702.9 1372.0,684.0 1371.4,718.7 1370.8,777.3 1370.2,751.2 1369.6,779.2 1368.9,751.1 1368.3,750.1 1367.7,740.5 1367.1,728.2 1366.5,737.1 1365.8,733.0 1365.2,702.5 1364.6,687.1 1364.0,676.1 1363.3,700.0 1362.7,685.0 1362.1,674.4 1361.5,716.5 1360.9,707.1 1360.2,661.1 1359.6,713.1 1359.0,710.5 1358.4,712.9 1357.8,659.5 1357.1,672.6 1356.5,669.6 1355.9,635.5 1355.3,681.7 1354.6,667.8 1354.0,658.9 1353.4,695.2 1352.8,691.3 1352.2,685.7 1351.5,652.1 1350.9,675.1 1350.3,719.8 1349.7,688.7 1349.1,740.6 1348.4,626.1 1347.8,646.7 1347.2,666.2 1346.6,663.4 1345.9,690.6 1345.3,687.3 1344.7,680.5 1344.1,670.0 1343.5,652.3 1342.8,663.0 1342.2,638.5 1341.6,671.1 1341.0,658.5 1340.3,654.6 1339.7,678.9 1339.1,693.0 1338.5,702.9 1337.9,717.2 1337.2,696.5 1336.6,722.3 1336.0,701.7 1335.4,762.2 1334.8,696.2 1334.1,675.9 1333.5,656.1 1332.9,644.8 1332.3,619.8 1331.6,679.9 1331.0,678.7 1330.4,645.8 1329.8,687.1 1329.2,646.4 1328.5,679.0 1327.9,718.1 1327.3,688.4 1326.7,658.7 1326.1,669.8 1325.4,685.1 1324.8,670.8 1324.2,675.3 1323.6,695.4 1322.9,724.0 1322.3,711.3 1321.7,660.5 1321.1,661.7 1320.5,643.6 1319.8,671.4 1319.2,715.1 1318.6,752.5 1318.0,773.9 1317.4,782.2 1316.7,758.8 1316.1,722.5 1315.5,674.3 1314.9,646.4 1314.2,651.4 1313.6,707.8 1313.0,704.0 1312.4,690.0 1311.8,710.6 1311.1,677.1 1310.5,741.4 1309.9,704.8 1309.3,702.3 1308.7,660.7 1308.0,699.7 1307.4,720.1 1306.8,746.1 1306.2,692.8 1305.5,720.1 1304.9,667.9 1304.3,661.7 1303.7,656.2 1303.1,658.1 1302.4,675.8 1301.8,688.4 1301.2,689.7 1300.6,626.9 1300.0,645.5 1299.3,650.6 1298.7,716.7 1298.1,716.7 1297.5,700.6 1296.8,753.0 1296.2,679.1 1295.6,639.4 1295.0,672.8 1294.4,659.5 1293.7,716.3 1293.1,709.1 1292.5,708.6 1291.9,734.4 1291.3,706.1 1290.6,694.8 1290.0,653.6 1289.4,666.8 1288.8,720.7 1288.1,726.6 1287.5,723.6 1286.9,811.2 1286.3,800.5 1285.7,772.4 1285.0,689.4 1284.4,708.5 1283.8,698.2 1283.2,629.9 1282.5,615.6 1281.9,636.8 1281.3,708.1 1280.7,704.6 1280.1,736.0 1279.4,685.7 1278.8,685.6 1278.2,710.3 1277.6,685.6 1277.0,673.1 1276.3,739.4 1275.7,698.4 1275.1,725.6 1274.5,655.6 1273.8,732.4 1273.2,660.4 1272.6,704.4 1272.0,721.7 1271.4,688.7 1270.7,735.7 1270.1,710.1 1269.5,750.8 1268.9,774.9 1268.3,723.9 1267.6,705.3 1267.0,667.2 1266.4,704.7 1265.8,673.4 1265.1,652.4 1264.5,667.3 1263.9,668.2 1263.3,645.1 1262.7,631.1 1262.0,658.9 1261.4,711.4 1260.8,728.1 1260.2,709.0 1259.6,691.2 1258.9,656.3 1258.3,662.9 1257.7,658.5 1257.1,733.2 1256.4,667.2 1255.8,655.9 1255.2,639.1 1254.6,661.1 1254.0,683.1 1253.3,736.2 1252.7,666.4 1252.1,670.2 1251.5,661.1 1250.9,713.6 1250.2,689.6 1249.6,685.7 1249.0,657.0 1248.4,664.0 1247.7,653.9 1247.1,641.5 1246.5,649.5 1245.9,648.4 1245.3,616.3 1244.6,645.4 1244.0,654.6 1243.4,691.9 1242.8,674.9 1242.2,666.5 1241.5,687.8 1240.9,730.4 1240.3,745.6 1239.7,677.3 1239.0,698.8 1238.4,663.5 1237.8,650.9 1237.2,652.8 1236.6,703.0 1235.9,704.3 1235.3,656.4 1234.7,717.6 1234.1,684.8 1233.5,670.4 1232.8,677.5 1232.2,665.1 1231.6,688.0 1231.0,722.1 1230.3,713.9 1229.7,680.6 1229.1,673.8 1228.5,661.3 1227.9,687.0 1227.2,684.9 1226.6,686.9 1226.0,674.9 1225.4,691.1 1224.7,723.0 1224.1,712.3 1223.5,667.3 1222.9,712.2 1222.3,727.8 1221.6,702.8 1221.0,680.7 1220.4,665.0 1219.8,690.4 1219.2,677.5 1218.5,634.8 1217.9,702.2 1217.3,630.2 1216.7,616.2 1216.0,644.7 1215.4,667.1 1214.8,670.7 1214.2,664.0 1213.6,665.8 1212.9,654.6 1212.3,629.7 1211.7,695.0 1211.1,698.1 1210.5,687.1 1209.8,710.5 1209.2,748.2 1208.6,691.8 1208.0,747.2 1207.3,701.6 1206.7,676.1 1206.1,681.0 1205.5,659.5 1204.9,666.9 1204.2,678.3 1203.6,713.7 1203.0,693.6 1202.4,653.0 1201.8,679.3 1201.1,709.2 1200.5,668.7 1199.9,711.1 1199.3,693.6 1198.6,646.4 1198.0,643.4 1197.4,652.5 1196.8,724.9 1196.2,683.5 1195.5,686.5 1194.9,673.2 1194.3,667.7 1193.7,641.5 1193.1,657.4 1192.4,633.1 1191.8,724.3 1191.2,685.0 1190.6,721.1 1189.9,707.7 1189.3,698.1 1188.7,676.3 1188.1,664.6 1187.5,630.6 1186.8,651.4 1186.2,676.5 1185.6,671.3 1185.0,685.7 1184.4,675.3 1183.7,712.1 1183.1,745.8 1182.5,694.5 1181.9,715.5 1181.2,695.6 1180.6,676.8 1180.0,669.6 1179.4,670.7 1178.8,701.4 1178.1,669.0 1177.5,661.4 1176.9,671.5 1176.3,686.9 1175.7,687.3 1175.0,729.0 1174.4,716.2 1173.8,645.0 1173.2,672.7 1172.5,670.8 1171.9,693.8 1171.3,700.3 1170.7,643.8 1170.1,699.4 1169.4,711.1 1168.8,713.7 1168.2,723.1 1167.6,699.7 1167.0,742.6 1166.3,723.9 1165.7,775.0 1165.1,746.3 1164.5,752.5 1163.8,706.9 1163.2,709.7 1162.6,687.4 1162.0,715.6 1161.4,698.2 1160.7,665.9 1160.1,738.8 1159.5,745.5 1158.9,728.3 1158.2,680.7 1157.6,663.5 1157.0,711.2 1156.4,687.4 1155.8,706.8 1155.1,693.6 1154.5,644.5 1153.9,682.0 1153.3,646.0 1152.7,630.9 1152.0,658.3 1151.4,630.2 1150.8,657.0 1150.2,687.4 1149.5,703.9 1148.9,741.8 1148.3,746.9 1147.7,775.2 1147.1,757.3 1146.4,701.2 1145.8,636.9 1145.2,656.3 1144.6,674.2 1144.0,666.0 1143.3,668.8 1142.7,737.5 1142.1,733.6 1141.5,753.5 1140.8,683.2 1140.2,691.3 1139.6,656.3 1139.0,651.6 1138.4,645.4 1137.7,674.0 1137.1,688.2 1136.5,684.8 1135.9,724.9 1135.3,712.5 1134.6,707.3 1134.0,662.8 1133.4,698.7 1132.8,717.9 1132.1,670.2 1131.5,716.9 1130.9,803.6 1130.3,746.7 1129.7,689.2 1129.0,685.8 1128.4,756.1 1127.8,718.7 1127.2,748.9 1126.6,656.3 1125.9,655.4 1125.3,694.8 1124.7,651.0 1124.1,672.8 1123.4,669.2 1122.8,667.2 1122.2,681.3 1121.6,691.0 1121.0,667.9 1120.3,652.5 1119.7,647.2 1119.1,673.8 1118.5,715.7 1117.9,728.5 1117.2,695.1 1116.6,676.2 1116.0,700.9 1115.4,692.0 1114.7,679.8 1114.1,672.8 1113.5,723.6 1112.9,735.9 1112.3,720.8 1111.6,723.7 1111.0,720.5 1110.4,710.7 1109.8,661.8 1109.2,682.1 1108.5,665.2 1107.9,693.2 1107.3,642.7 1106.7,661.7 1106.0,668.3 1105.4,696.7 1104.8,687.8 1104.2,716.0 1103.6,701.1 1102.9,698.7 1102.3,732.4 1101.7,770.0 1101.1,705.8 1100.5,727.7 1099.8,675.7 1099.2,733.2 1098.6,796.8 1098.0,752.1 1097.3,711.4 1096.7,762.3 1096.1,714.8 1095.5,780.7 1094.9,734.6 1094.2,775.2 1093.6,766.0 1093.0,708.2 1092.4,751.8 1091.7,694.2 1091.1,705.7 1090.5,710.4 1089.9,700.4 1089.3,739.7 1088.6,740.7 1088.0,716.1 1087.4,744.4 1086.8,661.6 1086.2,692.2 1085.5,701.9 1084.9,709.0 1084.3,667.1 1083.7,666.1 1083.0,643.0 1082.4,659.8 1081.8,675.6 1081.2,662.4 1080.6,703.3 1079.9,789.8 1079.3,793.7 1078.7,767.2 1078.1,709.0 1077.5,700.1 1076.8,784.5 1076.2,722.8 1075.6,705.5 1075.0,700.5 1074.3,756.6 1073.7,776.0 1073.1,768.5 1072.5,726.3 1071.9,724.9 1071.2,684.2 1070.6,692.4 1070.0,656.2 1069.4,683.7 1068.8,749.2 1068.1,692.5 1067.5,685.5 1066.9,663.4 1066.3,674.0 1065.6,680.7 1065.0,725.1 1064.4,746.9 1063.8,714.3 1063.2,742.9 1062.5,761.2 1061.9,719.8 1061.3,688.5 1060.7,636.9 1060.1,650.3 1059.4,652.8 1058.8,631.4 1058.2,695.9 1057.6,704.9 1056.9,646.7 1056.3,674.3 1055.7,638.0 1055.1,714.4 1054.5,683.6 1053.8,742.4 1053.2,720.6 1052.6,730.8 1052.0,744.2 1051.4,744.3 1050.7,701.3 1050.1,672.1 1049.5,703.0 1048.9,669.3 1048.2,706.9 1047.6,679.3 1047.0,707.1 1046.4,660.6 1045.8,650.0 1045.1,648.8 1044.5,677.7 1043.9,682.7 1043.3,676.4 1042.7,698.9 1042.0,660.6 1041.4,665.6 1040.8,697.6 1040.2,702.0 1039.5,687.6 1038.9,722.8 1038.3,710.9 1037.7,656.2 1037.1,690.1 1036.4,709.5 1035.8,676.2 1035.2,693.8 1034.6,671.7 1033.9,676.8 1033.3,730.4 1032.7,736.0 1032.1,689.8 1031.5,665.0 1030.8,681.5 1030.2,643.9 1029.6,660.4 1029.0,710.8 1028.4,731.7 1027.7,755.0 1027.1,704.5 1026.5,677.2 1025.9,756.5 1025.2,703.3 1024.6,698.9 1024.0,695.3 1023.4,757.0 1022.8,745.6 1022.1,768.1 1021.5,734.7 1020.9,679.6 1020.3,680.0 1019.7,654.7 1019.0,656.9 1018.4,717.5 1017.8,680.2 1017.2,684.4 1016.5,669.4 1015.9,692.5 1015.3,680.6 1014.7,652.8 1014.1,653.9 1013.4,691.7 1012.8,660.9 1012.2,679.0 1011.6,711.2 1011.0,672.3 1010.3,676.9 1009.7,668.5 1009.1,653.2 1008.5,697.6 1007.8,697.2 1007.2,712.8 1006.6,699.2 1006.0,672.4 1005.4,664.4 1004.7,678.1 1004.1,672.6 1003.5,679.6 1002.9,680.7 1002.3,671.6 1001.6,699.3 1001.0,704.9 1000.4,718.0 999.8,676.0 999.1,669.1 998.5,687.2 997.9,688.1 997.3,725.8 996.7,694.0 996.0,679.6 995.4,661.0 994.8,666.3 994.2,682.8 993.6,682.7 992.9,666.7 992.3,685.3 991.7,703.5 991.1,751.8 990.4,678.8 989.8,731.5 989.2,692.0 988.6,690.8 988.0,747.3 987.3,695.3 986.7,676.5 986.1,700.2 985.5,709.9 984.9,673.3 984.2,706.8 983.6,697.6 983.0,679.4 982.4,678.3 981.7,677.4 981.1,656.5 980.5,639.2 979.9,668.5 979.3,672.5 978.6,679.2 978.0,685.0 977.4,672.4 976.8,704.6 976.1,753.2 975.5,695.0 974.9,709.1 974.3,662.7 973.7,694.3 973.0,716.1 972.4,678.9 971.8,692.8 971.2,681.8 970.6,720.8 969.9,670.5 969.3,664.9 968.7,657.6 968.1,656.4 967.4,687.0 966.8,672.0 966.2,726.6 965.6,688.8 965.0,702.9 964.3,664.9 963.7,748.4 963.1,714.1 962.5,696.4 961.9,645.7 961.2,652.2 960.6,627.3 960.0,653.7 959.4,662.8 958.7,674.1 958.1,666.5 957.5,690.3 956.9,718.0 956.3,685.9 955.6,696.0 955.0,643.5 954.4,675.2 953.8,710.6 953.2,700.8 952.5,677.9 951.9,656.6 951.3,714.8 950.7,722.9 950.0,707.1 949.4,673.9 948.8,646.6 948.2,679.4 947.6,686.0 946.9,661.1 946.3,650.0 945.7,627.0 945.1,631.8 944.5,658.7 943.8,670.0 943.2,645.2 942.6,679.2 942.0,730.0 941.3,683.8 940.7,681.0 940.1,660.0 939.5,699.6 938.9,686.2 938.2,742.8 937.6,679.1 937.0,679.9 936.4,645.5 935.8,656.7 935.1,745.5 934.5,696.2 933.9,731.7 933.3,788.9 932.6,731.8 932.0,735.6 931.4,820.0 930.8,801.0 930.2,721.6 929.5,690.4 928.9,698.5 928.3,687.4 927.7,757.6 927.1,696.6 926.4,675.5 925.8,658.5 925.2,668.8 924.6,711.1 923.9,701.3 923.3,718.8 922.7,695.8 922.1,660.4 921.5,671.2 920.8,649.2 920.2,724.6 919.6,718.9 919.0,735.8 918.4,741.8 917.7,693.3 917.1,747.9 916.5,739.9 915.9,686.5 915.2,697.4 914.6,674.7 914.0,658.2 913.4,652.0 912.8,671.7 912.1,657.7 911.5,648.9 910.9,703.1 910.3,726.4 909.6,707.8 909.0,705.5 908.4,742.5 907.8,717.0 907.2,695.0 906.5,649.1 905.9,703.3 905.3,715.2 904.7,667.4 904.1,722.5 903.4,748.1 902.8,735.5 902.2,652.5 901.6,636.7 900.9,673.7 900.3,685.1 899.7,698.1 899.1,657.4 898.5,632.8 897.8,641.9 897.2,660.8 896.6,653.0 896.0,694.5 895.4,662.8 894.7,631.8 894.1,688.5 893.5,722.3 892.9,673.1 892.2,724.0 891.6,685.9 891.0,693.5 890.4,701.0 889.8,640.1 889.1,650.8 888.5,622.3 887.9,632.0 887.3,626.6 886.7,633.5 886.0,671.7 885.4,659.0 884.8,677.8 884.2,692.6 883.5,688.4 882.9,701.2 882.3,752.0 881.7,782.5 881.1,741.4 880.4,744.3 879.8,739.9 879.2,743.2 878.6,681.2 878.0,718.3 877.3,693.0 876.7,695.0 876.1,667.5 875.5,697.1 874.8,675.7 874.2,708.3 873.6,699.2 873.0,687.8 872.4,712.2 871.7,737.8 871.1,714.8 870.5,745.0 869.9,726.5 869.3,690.7 868.6,682.8 868.0,691.1 867.4,650.0 866.8,682.6 866.1,644.9 865.5,649.1 864.9,683.7 864.3,699.0 863.7,695.1 863.0,701.5 862.4,717.6 861.8,637.2 861.2,673.8 860.6,667.3 859.9,705.1 859.3,709.7 858.7,706.7 858.1,712.1 857.4,723.9 856.8,711.6 856.2,705.1 855.6,697.8 855.0,705.5 854.3,697.6 853.7,687.5 853.1,667.7 852.5,672.7 851.9,681.8 851.2,727.4 850.6,715.3 850.0,711.3 849.4,701.1 848.7,663.0 848.1,629.6 847.5,646.7 846.9,664.0 846.3,635.8 845.6,635.3 845.0,652.5 844.4,642.2 843.8,661.2 843.1,713.2 842.5,691.7 841.9,689.1 841.3,708.2 840.7,682.2 840.0,796.5 839.4,804.7 838.8,716.1 838.2,687.7 837.6,681.8 836.9,667.1 836.3,665.3 835.7,727.0 835.1,773.1 834.4,699.5 833.8,691.2 833.2,653.2 832.6,677.2 832.0,626.7 831.3,663.6 830.7,698.9 830.1,677.2 829.5,710.4 828.9,709.4 828.2,659.0 827.6,647.2 827.0,717.1 826.4,739.7 825.7,666.2 825.1,680.2 824.5,669.1 823.9,709.7 823.3,722.5 822.6,723.9 822.0,676.5 821.4,687.8 820.8,666.5 820.2,682.5 819.5,688.3 818.9,677.0 818.3,638.6 817.7,688.8 817.0,695.8 816.4,709.9 815.8,653.7 815.2,645.5 814.6,653.7 813.9,658.7 813.3,651.5 812.7,641.9 812.1,643.9 811.5,644.8 810.8,649.5 810.2,693.7 809.6,677.0 809.0,647.8 808.3,642.7 807.7,665.2 807.1,642.6 806.5,640.8 805.9,608.8 805.2,640.2 804.6,657.7 804.0,642.7 803.4,631.2 802.8,632.6 802.1,612.2 801.5,665.4 800.9,680.0 800.3,678.3 799.6,666.4 799.0,657.9 798.4,631.1 797.8,646.8 797.2,685.1 796.5,661.2 795.9,663.2 795.3,711.4 794.7,711.9 794.1,679.9 793.4,672.9 792.8,638.9 792.2,629.5 791.6,628.6 790.9,643.2 790.3,659.9 789.7,689.3 789.1,668.7 788.5,664.4 787.8,672.2 787.2,681.1 786.6,719.4 786.0,678.7 785.3,675.8 784.7,676.0 784.1,698.6 783.5,646.7 782.9,638.2 782.2,635.7 781.6,676.0 781.0,631.6 780.4,681.1 779.8,655.0 779.1,687.4 778.5,641.7 777.9,662.2 777.3,714.2 776.6,681.6 776.0,633.2 775.4,648.2 774.8,652.7 774.2,645.7 773.5,676.5 772.9,667.3 772.3,699.1 771.7,722.9 771.1,659.6 770.4,641.2 769.8,649.0 769.2,676.7 768.6,672.8 767.9,687.1 767.3,672.2 766.7,637.1 766.1,664.6 765.5,722.4 764.8,629.6 764.2,687.5 763.6,668.0 763.0,669.9 762.4,676.8 761.7,704.2 761.1,716.6 760.5,756.4 759.9,781.6 759.2,715.0 758.6,707.5 758.0,714.7 757.4,685.9 756.8,715.1 756.1,730.0 755.5,730.9 754.9,706.1 754.3,717.3 753.7,683.5 753.0,666.1 752.4,712.2 751.8,706.6 751.2,688.6 750.5,658.9 749.9,651.5 749.3,667.0 748.7,649.0 748.1,686.4 747.4,682.5 746.8,707.1 746.2,715.4 745.6,714.1 745.0,662.3 744.3,655.0 743.7,669.6 743.1,678.0 742.5,666.6 741.8,694.7 741.2,719.9 740.6,727.6 740.0,716.9 739.4,735.3 738.7,687.7 738.1,699.9 737.5,663.5 736.9,675.8 736.3,718.1 735.6,673.4 735.0,684.6 734.4,672.3 733.8,683.2 733.1,703.6 732.5,691.7 731.9,706.1 731.3,671.1 730.7,660.8 730.0,644.7 729.4,696.3 728.8,738.2 728.2,686.9 727.5,735.1 726.9,715.2 726.3,676.9 725.7,631.7 725.1,662.6 724.4,701.5 723.8,675.5 723.2,660.2 722.6,683.5 722.0,665.0 721.3,678.9 720.7,670.8 720.1,660.3 719.5,692.2 718.8,723.0 718.2,683.7 717.6,712.1 717.0,718.9 716.4,732.3 715.7,655.3 715.1,713.6 714.5,695.2 713.9,680.2 713.3,698.0 712.6,670.1 712.0,703.3 711.4,722.9 710.8,658.7 710.1,656.3 709.5,681.0 708.9,670.0 708.3,714.5 707.7,686.2 707.0,683.3 706.4,689.1 705.8,706.0 705.2,670.9 704.6,695.0 703.9,712.8 703.3,680.8 702.7,674.9 702.1,654.4 701.4,716.8 700.8,657.9 700.2,688.6 699.6,716.7 699.0,697.2 698.3,746.3 697.7,726.8 697.1,727.6 696.5,726.0 695.9,703.0 695.2,717.1 694.6,733.0 694.0,756.3 693.4,695.9 692.7,715.1 692.1,715.6 691.5,711.4 690.9,694.7 690.3,721.3 689.6,672.7 689.0,686.9 688.4,672.8 687.8,670.9 687.2,653.4 686.5,673.5 685.9,655.8 685.3,670.1 684.7,657.2 684.0,668.2 683.4,666.8 682.8,641.7 682.2,696.6 681.6,742.7 680.9,736.9 680.3,688.6 679.7,712.7 679.1,737.1 678.5,758.5 677.8,720.7 677.2,778.0 676.6,773.2 676.0,744.4 675.3,756.2 674.7,723.7 674.1,737.7 673.5,738.0 672.9,758.0 672.2,777.7 671.6,802.4 671.0,793.8 670.4,789.2 669.8,768.8 669.1,734.9 668.5,727.2 667.9,693.0 667.3,647.0 666.6,621.9 666.0,636.6 665.4,641.3 664.8,667.1 664.2,724.4 663.5,711.5 662.9,699.5 662.3,683.4 661.7,736.5 661.0,657.4 660.4,710.4 659.8,682.5 659.2,686.7 658.6,689.0 657.9,690.6 657.3,652.6 656.7,662.3 656.1,717.2 655.5,742.9 654.8,719.7 654.2,689.3 653.6,699.8 653.0,679.8 652.3,695.3 651.7,740.5 651.1,740.5 650.5,717.2 649.9,678.9 649.2,702.0 648.6,695.3 648.0,683.6 647.4,631.7 646.8,631.5 646.1,685.8 645.5,636.9 644.9,664.6 644.3,679.1 643.6,659.2 643.0,647.3 642.4,644.5 641.8,669.9 641.2,710.4 640.5,685.1 639.9,675.4 639.3,685.7 638.7,696.5 638.1,669.2 637.4,641.6 636.8,696.1 636.2,659.8 635.6,691.2 634.9,697.4 634.3,673.3 633.7,673.5 633.1,680.7 632.5,677.1 631.8,683.9 631.2,675.5 630.6,681.0 630.0,641.4 629.4,661.9 628.7,634.7 628.1,687.5 627.5,675.8 626.9,626.3 626.2,630.8 625.6,655.1 625.0,644.2 624.4,645.8 623.8,633.5 623.1,654.1 622.5,613.4 621.9,651.8 621.3,664.7 620.7,697.1 620.0,698.5 619.4,754.9 618.8,766.1 618.2,667.4 617.5,667.6 616.9,680.6 616.3,662.6 615.7,633.1 615.1,632.9 614.4,631.2 613.8,670.3 613.2,654.8 612.6,639.9 612.0,632.2 611.3,675.2 610.7,654.7 610.1,665.3 609.5,713.7 608.8,665.4 608.2,697.8 607.6,678.0 607.0,659.1 606.4,665.8 605.7,628.9 605.1,647.9 604.5,636.6 603.9,625.8 603.2,647.4 602.6,691.5 602.0,744.4 601.4,670.2 600.8,680.2 600.1,656.6 599.5,663.6 598.9,696.9 598.3,725.3 597.7,706.6 597.0,711.6 596.4,745.2 595.8,703.6 595.2,684.8 594.5,696.6 593.9,703.1 593.3,679.0 592.7,666.8 592.1,705.6 591.4,640.6 590.8,645.0 590.2,710.3 589.6,670.1 589.0,711.5 588.3,703.0 587.7,687.2 587.1,674.9 586.5,652.5 585.8,629.2 585.2,621.7 584.6,633.0 584.0,649.2 583.4,651.5 582.7,763.4 582.1,796.1 581.5,754.9 580.9,701.4 580.3,678.4 579.6,679.4 579.0,677.7 578.4,682.4 577.8,715.5 577.1,701.4 576.5,720.9 575.9,707.6 575.3,710.5 574.7,689.9 574.0,715.0 573.4,674.8 572.8,640.8 572.2,697.7 571.6,715.9 570.9,684.1 570.3,715.7 569.7,679.5 569.1,698.4 568.4,676.4 567.8,661.7 567.2,670.5 566.6,638.5 566.0,673.3 565.3,661.3 564.7,643.0 564.1,689.8 563.5,728.7 562.9,722.0 562.2,684.9 561.6,696.8 561.0,654.3 560.4,679.0 559.7,669.2 559.1,664.9 558.5,629.3 557.9,683.7 557.3,663.1 556.6,673.9 556.0,680.8 555.4,643.5 554.8,674.1 554.2,674.0 553.5,636.4 552.9,700.3 552.3,697.7 551.7,710.5 551.0,681.5 550.4,687.8 549.8,670.3 549.2,692.6 548.6,675.3 547.9,665.9 547.3,651.4 546.7,655.7 546.1,656.5 545.5,651.3 544.8,670.5 544.2,654.1 543.6,680.8 543.0,680.4 542.3,707.0 541.7,758.4 541.1,713.3 540.5,722.6 539.9,716.9 539.2,717.1 538.6,642.0 538.0,624.5 537.4,650.8 536.7,658.7 536.1,634.2 535.5,643.0 534.9,643.4 534.3,646.5 533.6,698.2 533.0,663.1 532.4,691.3 531.8,680.3 531.2,657.9 530.5,706.8 529.9,635.7 529.3,661.8 528.7,701.1 528.0,679.3 527.4,676.7 526.8,706.1 526.2,690.7 525.6,717.2 524.9,726.4 524.3,696.6 523.7,708.7 523.1,696.9 522.5,708.4 521.8,727.3 521.2,719.4 520.6,738.3 520.0,705.8 519.3,706.9 518.7,676.4 518.1,698.5 517.5,695.2 516.9,717.0 516.2,767.1 515.6,732.6 515.0,712.9 514.4,770.4 513.8,735.8 513.1,734.6 512.5,710.3 511.9,752.4 511.3,693.3 510.6,737.6 510.0,693.1 509.4,715.2 508.8,748.5 508.2,722.4 507.5,677.4 506.9,629.4 506.3,686.1 505.7,677.4 505.1,703.7 504.4,679.1 503.8,707.6 503.2,708.9 502.6,691.6 501.9,660.4 501.3,680.2 500.7,685.9 500.1,664.1 499.5,728.4 498.8,689.5 498.2,692.5 497.6,735.9 497.0,743.0 496.4,716.0 495.7,688.4 495.1,713.6 494.5,640.8 493.9,623.1 493.2,665.8 492.6,652.3 492.0,707.1 491.4,712.6 490.8,702.1 490.1,707.7 489.5,623.6 488.9,648.2 488.3,707.1 487.7,717.7 487.0,698.4 486.4,677.3 485.8,679.4 485.2,732.3 484.5,694.9 483.9,672.7 483.3,733.1 482.7,776.2 482.1,729.3 481.4,759.3 480.8,778.2 480.2,730.3 479.6,698.0 479.0,688.0 478.3,722.3 477.7,717.5 477.1,802.9 476.5,741.6 475.8,728.9 475.2,694.2 474.6,728.0 474.0,711.7 473.4,682.3 472.7,685.0 472.1,637.3 471.5,659.4 470.9,719.2 470.2,697.0 469.6,666.2 469.0,697.5 468.4,686.3 467.8,674.2 467.1,661.9 466.5,673.8 465.9,682.2 465.3,671.0 464.7,660.2 464.0,687.1 463.4,678.3 462.8,645.0 462.2,633.9 461.5,661.0 460.9,641.7 460.3,664.0 459.7,650.7 459.1,637.9 458.4,636.2 457.8,650.4 457.2,624.4 456.6,649.3 456.0,660.8 455.3,645.8 454.7,713.8 454.1,736.2 453.5,783.0 452.8,778.2 452.2,717.2 451.6,700.2 451.0,721.9 450.4,694.1 449.7,693.0 449.1,732.2 448.5,689.5 447.9,691.7 447.3,705.3 446.6,738.7 446.0,770.8 445.4,733.3 444.8,766.2 444.1,758.8 443.5,836.9 442.9,749.1 442.3,623.1 441.7,637.2 441.0,662.9 440.4,664.0 439.8,671.2 439.2,644.9 438.6,665.2 437.9,687.3 437.3,639.9 436.7,682.2 436.1,685.9 435.4,669.7 434.8,675.4 434.2,665.7 433.6,721.2 433.0,705.3 432.3,731.9 431.7,664.9 431.1,658.1 430.5,636.2 429.9,731.3 429.2,727.5 428.6,728.2 428.0,699.4 427.4,707.0 426.7,714.9 426.1,685.3 425.5,697.4 424.9,744.9 424.3,758.3 423.6,734.5 423.0,710.1 422.4,667.5 421.8,646.7 421.2,708.9 420.5,683.9 419.9,679.2 419.3,682.5 418.7,644.4 418.0,656.6 417.4,656.1 416.8,640.0 416.2,640.7 415.6,660.7 414.9,721.9 414.3,735.2 413.7,660.4 413.1,640.7 412.4,682.1 411.8,709.2 411.2,686.8 410.6,700.4 410.0,705.1 409.3,686.5 408.7,712.5 408.1,701.2 407.5,736.9 406.9,765.3 406.2,718.2 405.6,686.9 405.0,651.8 404.4,682.4 403.7,695.3 403.1,649.1 402.5,637.7 401.9,665.6 401.3,692.0 400.6,719.4 400.0,692.3 399.4,646.0 398.8,636.0 398.2,668.0 397.5,662.9 396.9,660.6 396.3,649.0 395.7,659.7 395.0,640.3 394.4,699.4 393.8,700.9 393.2,688.6 392.6,680.5 391.9,700.4 391.3,696.5 390.7,689.6 390.1,669.0 389.5,672.2 388.8,693.3 388.2,676.1 387.6,709.3 387.0,668.4 386.3,725.6 385.7,673.6 385.1,760.4 384.5,764.0 383.9,732.8 383.2,687.7 382.6,679.2 382.0,667.3 381.4,694.4 380.8,683.1 380.1,660.7 379.5,663.8 378.9,691.9 378.3,694.5 377.6,682.4 377.0,685.2 376.4,672.6 375.8,666.4 375.2,686.2 374.5,695.1 373.9,704.7 373.3,733.2 372.7,713.9 372.1,671.2 371.4,675.3 370.8,676.5 370.2,699.0 369.6,702.5 368.9,705.5 368.3,697.5 367.7,725.7 367.1,741.0 366.5,662.1 365.8,609.3 365.2,662.4 364.6,714.3 364.0,706.4 363.4,697.5 362.7,674.0 362.1,660.1 361.5,685.7 360.9,685.3 360.2,673.9 359.6,682.3 359.0,726.9 358.4,715.1 357.8,784.3 357.1,715.9 356.5,710.0 355.9,703.0 355.3,674.7 354.6,651.7 354.0,608.8 353.4,662.6 352.8,698.1 352.2,684.0 351.5,645.6 350.9,683.8 350.3,648.3 349.7,657.5 349.1,670.3 348.4,668.8 347.8,723.7 347.2,696.3 346.6,638.1 345.9,703.3 345.3,725.8 344.7,689.5 344.1,697.8 343.5,652.7 342.8,687.3 342.2,768.6 341.6,749.2 341.0,691.3 340.4,669.4 339.7,656.3 339.1,609.3 338.5,648.7 337.9,684.2 337.2,716.3 336.6,721.4 336.0,714.9 335.4,659.7 334.8,636.6 334.1,686.6 333.5,680.4 332.9,645.0 332.3,673.1 331.7,689.6 331.0,732.9 330.4,780.6 329.8,725.1 329.2,677.0 328.5,707.5 327.9,710.8 327.3,697.7 326.7,723.9 326.1,703.5 325.4,730.6 324.8,751.6 324.2,696.0 323.6,674.0 323.0,705.7 322.3,689.6 321.7,716.8 321.1,665.4 320.5,661.8 319.8,699.2 319.2,713.1 318.6,699.9 318.0,623.5 317.4,650.8 316.7,662.8 316.1,646.2 315.5,715.0 314.9,679.9 314.3,676.0 313.6,681.7 313.0,659.2 312.4,667.5 311.8,670.7 311.1,662.6 310.5,652.7 309.9,653.7 309.3,640.4 308.7,656.5 308.0,674.4 307.4,649.9 306.8,688.2 306.2,650.1 305.6,660.8 304.9,656.5 304.3,644.3 303.7,654.0 303.1,645.9 302.4,675.6 301.8,676.4 301.2,645.8 300.6,637.0 300.0,660.6 299.3,662.0 298.7,641.8 298.1,643.5 297.5,650.8 296.9,617.0 296.2,657.9 295.6,649.1 295.0,676.4 294.4,640.1 293.7,649.9 293.1,667.7 292.5,644.3 291.9,664.6 291.3,657.7 290.6,672.5 290.0,657.4 289.4,659.1 288.8,633.5 288.1,682.6 287.5,724.5 286.9,673.2 286.3,678.8 285.7,664.3 285.0,688.7 284.4,714.0 283.8,688.5 283.2,692.1 282.6,709.2 281.9,717.7 281.3,674.4 280.7,663.3 280.1,700.4 279.4,678.7 278.8,683.1 278.2,666.1 277.6,678.2 277.0,654.8 276.3,710.1 275.7,696.0 275.1,668.3 274.5,662.5 273.9,646.4 273.2,643.9 272.6,626.1 272.0,652.3 271.4,692.8 270.7,678.3 270.1,689.6 269.5,691.5 268.9,716.6 268.3,691.8 267.6,700.6 267.0,704.3 266.4,684.2 265.8,702.9 265.2,694.7 264.5,692.4 263.9,688.0 263.3,686.3 262.7,681.7 262.0,685.7 261.4,662.2 260.8,666.3 260.2,657.1 259.6,652.8 258.9,654.1 258.3,652.5 257.7,634.6 257.1,629.0 256.5,637.7 255.8,633.0 255.2,637.1 254.6,631.0 254.0,622.0 253.3,645.8 252.7,679.6 252.1,663.2 251.5,660.2 250.9,644.3 250.2,683.4 249.6,659.4 249.0,679.7 248.4,671.3 247.8,694.1 247.1,664.4 246.5,667.0 245.9,658.0 245.3,692.0 244.6,684.5 244.0,679.1 243.4,644.2 242.8,630.2 242.2,624.2 241.5,648.8 240.9,638.4 240.3,671.9 239.7,673.4 239.1,698.2 238.4,686.3 237.8,673.6 237.2,642.2 236.6,682.7 235.9,610.6 235.3,649.3 234.7,661.9 234.1,632.0 233.5,647.8 232.8,686.0 232.2,711.7 231.6,649.6 231.0,658.7 230.3,647.2 229.7,641.8 229.1,672.7 228.5,680.7 227.9,637.3 227.2,639.4 226.6,684.1 226.0,639.3 225.4,671.2 224.8,720.7 224.1,680.0 223.5,702.0 222.9,693.3 222.3,668.2 221.6,640.4 221.0,643.4 220.4,674.4 219.8,711.3 219.2,670.1 218.5,698.2 217.9,687.8 217.3,675.5 216.7,664.3 216.1,721.7 215.4,739.5 214.8,669.2 214.2,714.1 213.6,679.2 212.9,704.8 212.3,672.6 211.7,694.7 211.1,703.9 210.5,697.0 209.8,733.0 209.2,655.9 208.6,640.1 208.0,684.2 207.4,615.6 206.7,676.8 206.1,664.5 205.5,658.4 204.9,633.6 204.2,637.4 203.6,647.9 203.0,643.9 202.4,659.4 201.8,641.9 201.1,628.4 200.5,649.1 199.9,651.0 199.3,650.2 198.7,634.8 198.0,655.9 197.4,643.4 196.8,647.8 196.2,648.9 195.5,624.8 194.9,625.5 194.3,645.3 193.7,648.2 193.1,675.4 192.4,693.0 191.8,695.7 191.2,646.6 190.6,672.9 190.0,705.6 189.3,691.4 188.7,717.6 188.1,747.5 187.5,721.3 186.8,686.2 186.2,680.8 185.6,710.2 185.0,667.8 184.4,657.5 183.7,681.7 183.1,672.1 182.5,707.9 181.9,665.5 181.3,701.2 180.6,680.8 180.0,685.5 179.4,679.0 178.8,698.3 178.1,665.1 177.5,686.9 176.9,635.4 176.3,701.8 175.7,689.7 175.0,702.3 174.4,691.7 173.8,686.4 173.2,676.6 172.6,694.3 171.9,686.6 171.3,681.3 170.7,659.3 170.1,610.2 169.4,639.5 168.8,721.3 168.2,701.2" fill="#a3d1ff" stroke="#a3d1ff" stroke-width="0.7" stroke-linejoin="round"/>
<polygon points="168.2,570.8 168.8,564.4 169.4,573.9 170.1,574.0 170.7,569.3 171.3,559.7 171.9,564.4 172.6,563.6 173.2,544.2 173.8,561.1 174.4,564.2 175.0,565.6 175.7,562.8 176.3,573.0 176.9,570.2 177.5,574.5 178.1,572.4 178.8,553.7 179.4,565.0 180.0,565.9 180.6,564.4 181.3,567.8 181.9,565.9 182.5,584.4 183.1,583.8 183.7,585.1 184.4,563.0 185.0,563.7 185.6,552.1 186.2,559.8 186.8,544.4 187.5,558.8 188.1,545.9 188.7,567.4 189.3,573.6 190.0,567.5 190.6,576.8 191.2,569.6 191.8,575.1 192.4,576.9 193.1,581.3 193.7,563.2 194.3,566.4 194.9,579.0 195.5,573.0 196.2,574.5 196.8,577.8 197.4,577.1 198.0,579.4 198.7,572.3 199.3,572.2 199.9,580.0 200.5,574.9 201.1,578.8 201.8,577.3 202.4,579.8 203.0,575.7 203.6,566.0 204.2,580.9 204.9,583.5 205.5,570.4 206.1,567.4 206.7,565.4 207.4,579.2 208.0,575.8 208.6,578.5 209.2,582.3 209.8,578.6 210.5,569.7 211.1,567.2 211.7,563.8 212.3,561.9 212.9,547.3 213.6,556.1 214.2,554.2 214.8,551.6 215.4,564.3 216.1,575.2 216.7,563.7 217.3,560.6 217.9,555.5 218.5,544.2 219.2,573.0 219.8,564.8 220.4,579.0 221.0,583.6 221.6,579.6 222.3,571.5 222.9,558.5 223.5,565.7 224.1,578.8 224.8,569.4 225.4,556.6 226.0,571.8 226.6,560.5 227.2,572.6 227.9,575.5 228.5,573.8 229.1,575.8 229.7,575.5 230.3,589.1 231.0,578.2 231.6,567.2 232.2,566.2 232.8,569.1 233.5,570.9 234.1,579.6 234.7,574.5 235.3,578.2 235.9,572.2 236.6,562.5 237.2,577.5 237.8,577.4 238.4,569.3 239.1,574.9 239.7,576.0 240.3,565.1 240.9,573.0 241.5,573.9 242.2,573.2 242.8,567.4 243.4,564.2 244.0,572.3 244.6,557.2 245.3,579.7 245.9,569.2 246.5,575.6 247.1,572.7 247.8,578.7 248.4,555.9 249.0,568.9 249.6,578.9 250.2,572.8 250.9,577.0 251.5,578.9 252.1,581.9 252.7,575.4 253.3,578.3 254.0,590.0 254.6,588.9 255.2,588.4 255.8,571.2 256.5,578.9 257.1,589.6 257.7,566.7 258.3,567.3 258.9,587.2 259.6,583.6 260.2,581.8 260.8,572.0 261.4,567.4 262.0,562.7 262.7,550.0 263.3,559.2 263.9,564.7 264.5,579.7 265.2,555.3 265.8,571.3 266.4,563.2 267.0,568.4 267.6,558.3 268.3,549.7 268.9,558.6 269.5,559.5 270.1,561.4 270.7,579.3 271.4,576.1 272.0,584.3 272.6,592.7 273.2,588.5 273.9,570.4 274.5,580.6 275.1,566.7 275.7,561.4 276.3,561.1 277.0,591.4 277.6,576.9 278.2,564.5 278.8,578.5 279.4,580.0 280.1,561.2 280.7,564.9 281.3,567.9 281.9,569.7 282.6,573.6 283.2,551.6 283.8,556.3 284.4,553.2 285.0,571.1 285.7,578.0 286.3,578.2 286.9,572.3 287.5,562.2 288.1,572.5 288.8,568.2 289.4,581.3 290.0,567.1 290.6,566.5 291.3,564.8 291.9,555.6 292.5,555.1 293.1,584.6 293.7,567.8 294.4,572.6 295.0,579.1 295.6,573.0 296.2,578.7 296.9,582.6 297.5,576.5 298.1,582.1 298.7,579.2 299.3,576.3 300.0,582.9 300.6,581.8 301.2,579.6 301.8,574.3 302.4,570.8 303.1,571.2 303.7,568.6 304.3,584.0 304.9,574.4 305.6,576.2 306.2,580.7 306.8,574.4 307.4,574.3 308.0,553.8 308.7,570.6 309.3,564.1 309.9,562.1 310.5,579.6 311.1,568.5 311.8,582.7 312.4,583.6 313.0,569.1 313.6,574.1 314.3,565.0 314.9,580.8 315.5,575.7 316.1,582.4 316.7,577.2 317.4,574.8 318.0,576.2 318.6,570.8 319.2,571.6 319.8,557.9 320.5,555.3 321.1,573.2 321.7,557.6 322.3,568.5 323.0,584.1 323.6,578.3 324.2,561.5 324.8,583.7 325.4,552.4 326.1,550.6 326.7,546.8 327.3,564.1 327.9,559.6 328.5,570.3 329.2,559.9 329.8,557.7 330.4,560.7 331.0,567.9 331.7,574.5 332.3,566.2 332.9,561.6 333.5,557.2 334.1,554.7 334.8,584.3 335.4,574.8 336.0,558.5 336.6,566.2 337.2,553.0 337.9,555.4 338.5,568.5 339.1,584.2 339.7,577.9 340.4,581.4 341.0,573.4 341.6,565.4 342.2,550.8 342.8,571.7 343.5,565.1 344.1,570.0 344.7,563.2 345.3,574.1 345.9,572.2 346.6,564.3 347.2,556.0 347.8,569.8 348.4,568.3 349.1,582.6 349.7,579.3 350.3,575.1 350.9,558.5 351.5,581.6 352.2,568.8 352.8,565.6 353.4,573.5 354.0,579.0 354.6,574.8 355.3,563.9 355.9,571.2 356.5,545.4 357.1,554.9 357.8,542.9 358.4,546.2 359.0,564.6 359.6,572.0 360.2,565.4 360.9,579.5 361.5,555.6 362.1,568.4 362.7,553.3 363.4,563.7 364.0,551.2 364.6,572.0 365.2,560.5 365.8,581.5 366.5,574.9 367.1,552.0 367.7,548.3 368.3,576.7 368.9,555.8 369.6,583.4 370.2,580.3 370.8,559.6 371.4,556.7 372.1,561.8 372.7,567.0 373.3,567.0 373.9,558.6 374.5,544.4 375.2,552.5 375.8,571.7 376.4,577.6 377.0,570.6 377.6,569.0 378.3,566.6 378.9,569.0 379.5,577.1 380.1,566.9 380.8,561.4 381.4,565.9 382.0,585.6 382.6,578.3 383.2,559.9 383.9,546.9 384.5,543.4 385.1,545.6 385.7,554.0 386.3,577.6 387.0,568.2 387.6,574.4 388.2,571.7 388.8,557.0 389.5,557.4 390.1,573.2 390.7,552.3 391.3,540.7 391.9,577.1 392.6,546.0 393.2,562.8 393.8,570.1 394.4,564.3 395.0,578.3 395.7,578.5 396.3,575.1 396.9,572.8 397.5,581.3 398.2,576.3 398.8,582.7 399.4,556.2 400.0,568.6 400.6,563.3 401.3,576.1 401.9,570.6 402.5,564.2 403.1,567.1 403.7,566.4 404.4,566.5 405.0,564.6 405.6,558.6 406.2,555.5 406.9,543.6 407.5,548.4 408.1,564.8 408.7,558.4 409.3,554.8 410.0,555.6 410.6,557.4 411.2,568.4 411.8,565.5 412.4,585.4 413.1,576.2 413.7,556.3 414.3,546.2 414.9,562.9 415.6,575.5 416.2,570.8 416.8,576.2 417.4,577.1 418.0,575.4 418.7,585.1 419.3,575.5 419.9,565.6 420.5,566.8 421.2,551.1 421.8,556.8 422.4,579.0 423.0,556.3 423.6,533.5 424.3,529.7 424.9,538.0 425.5,566.3 426.1,569.3 426.7,573.5 427.4,577.3 428.0,577.0 428.6,558.2 429.2,567.7 429.9,557.9 430.5,564.0 431.1,538.7 431.7,563.0 432.3,550.7 433.0,541.4 433.6,544.9 434.2,555.9 434.8,546.8 435.4,555.6 436.1,570.7 436.7,576.2 437.3,571.3 437.9,565.3 438.6,567.6 439.2,564.4 439.8,564.6 440.4,566.8 441.0,577.1 441.7,581.4 442.3,574.2 442.9,564.3 443.5,542.6 444.1,553.2 444.8,548.6 445.4,533.0 446.0,575.0 446.6,561.7 447.3,554.7 447.9,560.6 448.5,544.5 449.1,548.7 449.7,544.1 450.4,557.3 451.0,551.6 451.6,560.3 452.2,564.0 452.8,550.0 453.5,557.5 454.1,554.6 454.7,569.9 455.3,580.0 456.0,566.8 456.6,562.1 457.2,579.6 457.8,571.7 458.4,577.8 459.1,571.5 459.7,573.6 460.3,576.6 460.9,583.6 461.5,572.7 462.2,575.5 462.8,575.5 463.4,569.1 464.0,569.6 464.7,561.7 465.3,552.7 465.9,562.7 466.5,558.4 467.1,580.5 467.8,568.1 468.4,573.1 469.0,581.4 469.6,561.3 470.2,575.7 470.9,579.7 471.5,578.6 472.1,564.0 472.7,545.5 473.4,538.2 474.0,542.9 474.6,547.3 475.2,552.3 475.8,540.3 476.5,540.1 477.1,528.2 477.7,574.8 478.3,553.6 479.0,558.0 479.6,581.5 480.2,586.1 480.8,569.5 481.4,551.4 482.1,557.2 482.7,551.7 483.3,528.9 483.9,542.6 484.5,544.9 485.2,544.3 485.8,572.8 486.4,569.1 487.0,542.6 487.7,554.1 488.3,555.5 488.9,555.5 489.5,570.8 490.1,562.9 490.8,565.3 491.4,568.8 492.0,567.6 492.6,570.1 493.2,582.2 493.9,578.4 494.5,570.7 495.1,557.9 495.7,555.6 496.4,556.3 497.0,547.5 497.6,562.0 498.2,568.0 498.8,581.0 499.5,568.8 500.1,576.7 500.7,553.8 501.3,537.6 501.9,547.9 502.6,557.4 503.2,554.5 503.8,548.3 504.4,554.3 505.1,542.1 505.7,573.8 506.3,558.8 506.9,555.6 507.5,572.7 508.2,559.2 508.8,540.5 509.4,565.2 510.0,554.7 510.6,553.5 511.3,549.3 511.9,549.0 512.5,561.7 513.1,549.3 513.8,515.6 514.4,547.6 515.0,555.6 515.6,550.4 516.2,538.1 516.9,562.0 517.5,551.7 518.1,558.3 518.7,571.5 519.3,553.9 520.0,550.3 520.6,563.2 521.2,540.9 521.8,515.0 522.5,531.5 523.1,561.4 523.7,553.6 524.3,553.1 524.9,556.5 525.6,549.9 526.2,564.3 526.8,578.1 527.4,581.4 528.0,582.7 528.7,569.0 529.3,567.6 529.9,579.2 530.5,572.9 531.2,578.9 531.8,563.2 532.4,562.9 533.0,571.6 533.6,570.7 534.3,579.9 534.9,574.0 535.5,569.6 536.1,579.1 536.7,580.1 537.4,576.6 538.0,575.0 538.6,576.7 539.2,537.7 539.9,559.5 540.5,548.9 541.1,557.2 541.7,539.7 542.3,553.5 543.0,546.8 543.6,557.1 544.2,565.5 544.8,575.5 545.5,550.0 546.1,573.9 546.7,565.8 547.3,567.2 547.9,565.8 548.6,579.2 549.2,578.5 549.8,558.9 550.4,571.8 551.0,574.4 551.7,543.8 552.3,571.7 552.9,575.6 553.5,586.6 554.2,565.5 554.8,554.9 555.4,576.4 556.0,570.1 556.6,565.7 557.3,560.2 557.9,554.8 558.5,581.1 559.1,571.2 559.7,557.9 560.4,574.0 561.0,583.5 561.6,569.9 562.2,578.5 562.9,578.2 563.5,575.0 564.1,576.5 564.7,587.1 565.3,563.2 566.0,566.9 566.6,555.4 567.2,566.9 567.8,569.3 568.4,565.2 569.1,556.4 569.7,567.9 570.3,558.5 570.9,562.5 571.6,564.0 572.2,557.6 572.8,580.3 573.4,566.8 574.0,550.0 574.7,561.6 575.3,560.1 575.9,555.8 576.5,558.8 577.1,563.9 577.8,564.9 578.4,555.0 579.0,562.2 579.6,534.1 580.3,551.0 580.9,549.9 581.5,556.8 582.1,561.6 582.7,562.4 583.4,573.3 584.0,564.0 584.6,575.6 585.2,584.9 585.8,567.0 586.5,565.5 587.1,550.3 587.7,561.7 588.3,547.7 589.0,551.9 589.6,578.5 590.2,556.1 590.8,569.1 591.4,555.3 592.1,568.2 592.7,568.4 593.3,559.1 593.9,563.8 594.5,551.1 595.2,560.2 595.8,576.9 596.4,576.3 597.0,555.6 597.7,568.7 598.3,559.7 598.9,569.9 599.5,556.2 600.1,552.2 600.8,540.1 601.4,560.1 602.0,553.0 602.6,559.5 603.2,566.9 603.9,588.0 604.5,567.0 605.1,575.5 605.7,584.9 606.4,570.7 607.0,569.1 607.6,569.3 608.2,569.9 608.8,582.0 609.5,581.6 610.1,569.0 610.7,584.0 611.3,570.8 612.0,591.2 612.6,579.8 613.2,564.7 613.8,571.6 614.4,579.9 615.1,569.2 615.7,581.3 616.3,568.6 616.9,560.1 617.5,557.1 618.2,555.3 618.8,552.2 619.4,556.3 620.0,552.5 620.7,569.3 621.3,590.3 621.9,588.7 622.5,586.2 623.1,570.8 623.8,571.5 624.4,580.3 625.0,579.5 625.6,578.4 626.2,577.4 626.9,568.8 627.5,578.5 628.1,567.7 628.7,573.1 629.4,560.4 630.0,580.4 630.6,572.2 631.2,554.6 631.8,582.5 632.5,588.8 633.1,570.1 633.7,577.2 634.3,555.8 634.9,559.6 635.6,546.3 636.2,543.3 636.8,546.6 637.4,567.3 638.1,577.9 638.7,546.7 639.3,579.6 639.9,573.9 640.5,572.3 641.2,556.9 641.8,570.3 642.4,579.7 643.0,567.5 643.6,592.7 644.3,577.4 644.9,565.4 645.5,561.1 646.1,574.3 646.8,572.6 647.4,581.1 648.0,569.7 648.6,561.6 649.2,573.2 649.9,568.5 650.5,552.1 651.1,531.0 651.7,560.1 652.3,549.1 653.0,569.9 653.6,564.2 654.2,570.1 654.8,569.7 655.5,570.9 656.1,569.9 656.7,560.4 657.3,564.6 657.9,556.8 658.6,556.5 659.2,555.1 659.8,566.2 660.4,549.3 661.0,550.6 661.7,551.4 662.3,554.6 662.9,549.3 663.5,550.7 664.2,546.4 664.8,556.2 665.4,581.4 666.0,553.9 666.6,564.0 667.3,575.5 667.9,555.1 668.5,562.9 669.1,563.4 669.8,559.9 670.4,553.6 671.0,554.1 671.6,546.8 672.2,557.3 672.9,520.4 673.5,523.0 674.1,521.4 674.7,533.3 675.3,523.7 676.0,541.7 676.6,527.9 677.2,546.7 677.8,553.9 678.5,547.1 679.1,556.6 679.7,573.6 680.3,575.8 680.9,542.1 681.6,571.6 682.2,568.1 682.8,543.4 683.4,564.6 684.0,569.6 684.7,576.9 685.3,581.3 685.9,568.9 686.5,577.3 687.2,569.1 687.8,564.4 688.4,566.6 689.0,561.5 689.6,559.4 690.3,547.4 690.9,530.6 691.5,542.2 692.1,535.4 692.7,544.5 693.4,578.2 694.0,555.4 694.6,526.3 695.2,548.5 695.9,534.3 696.5,564.9 697.1,562.5 697.7,543.1 698.3,552.9 699.0,547.5 699.6,555.8 700.2,547.2 700.8,581.1 701.4,557.1 702.1,554.7 702.7,558.9 703.3,569.8 703.9,565.8 704.6,558.6 705.2,558.0 705.8,534.1 706.4,559.8 707.0,538.2 707.7,562.2 708.3,563.5 708.9,571.1 709.5,561.6 710.1,570.6 710.8,540.5 711.4,571.0 712.0,561.8 712.6,570.7 713.3,568.5 713.9,557.6 714.5,574.3 715.1,578.5 715.7,558.1 716.4,553.4 717.0,547.7 717.6,562.3 718.2,565.8 718.8,555.3 719.5,553.8 720.1,553.9 720.7,562.0 721.3,559.4 722.0,571.2 722.6,581.9 723.2,569.9 723.8,572.4 724.4,573.5 725.1,576.8 725.7,574.6 726.3,559.7 726.9,534.6 727.5,551.0 728.2,563.3 728.8,553.5 729.4,546.3 730.0,569.8 730.7,551.0 731.3,549.0 731.9,555.6 732.5,561.7 733.1,536.3 733.8,562.2 734.4,557.2 735.0,570.7 735.6,553.3 736.3,543.8 736.9,538.3 737.5,584.6 738.1,565.0 738.7,578.2 739.4,553.6 740.0,538.6 740.6,532.6 741.2,552.3 741.8,565.7 742.5,578.4 743.1,548.8 743.7,568.3 744.3,566.8 745.0,567.6 745.6,565.3 746.2,548.4 746.8,556.3 747.4,573.3 748.1,571.7 748.7,539.4 749.3,575.8 749.9,579.6 750.5,568.8 751.2,564.5 751.8,572.4 752.4,535.5 753.0,558.2 753.7,563.7 754.3,565.4 754.9,543.4 755.5,534.9 756.1,542.6 756.8,541.8 757.4,568.7 758.0,561.9 758.6,562.4 759.2,559.1 759.9,552.3 760.5,534.5 761.1,545.2 761.7,572.4 762.4,582.7 763.0,592.7 763.6,558.2 764.2,566.0 764.8,579.0 765.5,556.7 766.1,569.7 766.7,592.0 767.3,575.5 767.9,554.6 768.6,544.9 769.2,563.5 769.8,565.8 770.4,580.2 771.1,547.7 771.7,549.6 772.3,554.2 772.9,568.7 773.5,552.9 774.2,566.3 774.8,567.5 775.4,563.2 776.0,569.3 776.6,573.6 777.3,559.0 777.9,573.9 778.5,568.1 779.1,558.0 779.8,578.3 780.4,567.7 781.0,581.4 781.6,568.6 782.2,579.7 782.9,575.6 783.5,577.2 784.1,564.2 784.7,570.6 785.3,573.6 786.0,571.3 786.6,523.5 787.2,565.0 787.8,566.4 788.5,558.8 789.1,573.6 789.7,570.6 790.3,569.5 790.9,578.8 791.6,583.3 792.2,567.4 792.8,571.6 793.4,568.3 794.1,582.6 794.7,561.5 795.3,567.2 795.9,574.6 796.5,579.6 797.2,566.6 797.8,572.4 798.4,584.5 799.0,576.5 799.6,565.7 800.3,561.6 800.9,564.9 801.5,571.3 802.1,587.1 802.8,584.6 803.4,573.3 804.0,559.5 804.6,568.9 805.2,566.2 805.9,585.9 806.5,575.4 807.1,573.5 807.7,561.5 808.3,576.4 809.0,582.2 809.6,581.7 810.2,574.8 810.8,576.9 811.5,576.8 812.1,582.4 812.7,564.7 813.3,569.6 813.9,568.2 814.6,575.2 815.2,584.1 815.8,583.1 816.4,585.5 817.0,566.1 817.7,566.6 818.3,592.7 818.9,560.0 819.5,546.0 820.2,554.0 820.8,568.4 821.4,564.2 822.0,567.5 822.6,539.3 823.3,547.3 823.9,540.6 824.5,574.9 825.1,577.9 825.7,578.6 826.4,570.7 827.0,570.4 827.6,571.6 828.2,572.1 828.9,556.1 829.5,561.6 830.1,541.0 830.7,567.9 831.3,577.9 832.0,584.7 832.6,567.1 833.2,567.0 833.8,560.3 834.4,526.0 835.1,555.0 835.7,545.2 836.3,540.5 836.9,561.7 837.6,561.0 838.2,556.2 838.8,540.7 839.4,544.3 840.0,524.0 840.7,553.0 841.3,552.9 841.9,552.5 842.5,568.2 843.1,575.4 843.8,584.0 844.4,565.6 845.0,581.6 845.6,592.7 846.3,589.4 846.9,554.0 847.5,564.4 848.1,581.8 848.7,568.5 849.4,574.0 850.0,566.8 850.6,543.7 851.2,565.6 851.9,557.9 852.5,584.0 853.1,581.3 853.7,565.1 854.3,555.5 855.0,530.2 855.6,543.6 856.2,531.7 856.8,569.5 857.4,578.0 858.1,560.7 858.7,560.4 859.3,538.4 859.9,591.1 860.6,574.4 861.2,565.6 861.8,588.6 862.4,573.5 863.0,565.6 863.7,572.5 864.3,555.1 864.9,570.8 865.5,574.5 866.1,568.9 866.8,574.4 867.4,587.0 868.0,571.9 868.6,546.1 869.3,556.4 869.9,559.1 870.5,570.5 871.1,566.4 871.7,526.9 872.4,559.3 873.0,544.2 873.6,531.2 874.2,548.9 874.8,558.9 875.5,533.2 876.1,555.1 876.7,556.5 877.3,565.2 878.0,551.0 878.6,539.5 879.2,530.0 879.8,535.0 880.4,530.4 881.1,532.2 881.7,552.8 882.3,544.2 882.9,563.8 883.5,575.0 884.2,560.6 884.8,550.1 885.4,567.3 886.0,558.7 886.7,578.8 887.3,585.1 887.9,579.4 888.5,580.3 889.1,568.4 889.8,579.6 890.4,564.5 891.0,570.2 891.6,552.5 892.2,551.3 892.9,566.2 893.5,549.8 894.1,566.7 894.7,572.6 895.4,562.6 896.0,553.1 896.6,564.1 897.2,557.3 897.8,585.1 898.5,587.7 899.1,547.6 899.7,553.2 900.3,567.6 900.9,576.1 901.6,573.5 902.2,555.3 902.8,552.3 903.4,559.5 904.1,561.4 904.7,558.9 905.3,563.6 905.9,549.2 906.5,555.9 907.2,544.8 907.8,555.0 908.4,547.1 909.0,526.3 909.6,538.2 910.3,548.3 910.9,539.4 911.5,559.0 912.1,554.7 912.8,566.0 913.4,563.6 914.0,576.5 914.6,553.8 915.2,562.5 915.9,556.0 916.5,548.1 917.1,552.9 917.7,549.3 918.4,552.1 919.0,542.9 919.6,557.2 920.2,540.1 920.8,552.2 921.5,564.1 922.1,556.1 922.7,543.4 923.3,549.1 923.9,558.5 924.6,558.8 925.2,574.7 925.8,562.0 926.4,562.8 927.1,562.8 927.7,547.2 928.3,566.0 928.9,545.6 929.5,548.8 930.2,552.3 930.8,535.4 931.4,544.7 932.0,534.5 932.6,522.9 933.3,519.0 933.9,551.7 934.5,555.0 935.1,558.4 935.8,576.6 936.4,584.6 937.0,548.5 937.6,552.6 938.2,555.5 938.9,556.4 939.5,534.2 940.1,551.6 940.7,559.3 941.3,557.5 942.0,563.4 942.6,578.1 943.2,567.3 943.8,552.7 944.5,565.1 945.1,568.1 945.7,567.6 946.3,574.7 946.9,544.8 947.6,562.8 948.2,553.4 948.8,573.6 949.4,584.7 950.0,558.9 950.7,523.9 951.3,546.8 951.9,549.5 952.5,564.0 953.2,555.2 953.8,544.1 954.4,554.9 955.0,589.3 955.6,581.3 956.3,581.6 956.9,565.6 957.5,570.0 958.1,558.3 958.7,557.5 959.4,575.9 960.0,571.4 960.6,579.3 961.2,572.1 961.9,575.4 962.5,564.9 963.1,539.6 963.7,551.8 964.3,563.1 965.0,559.1 965.6,564.0 966.2,561.3 966.8,555.2 967.4,565.9 968.1,555.1 968.7,574.5 969.3,552.3 969.9,559.8 970.6,565.4 971.2,565.3 971.8,568.9 972.4,572.0 973.0,544.7 973.7,562.6 974.3,570.3 974.9,582.0 975.5,576.0 976.1,554.3 976.8,549.3 977.4,566.7 978.0,565.7 978.6,573.2 979.3,558.5 979.9,592.1 980.5,576.0 981.1,569.7 981.7,546.2 982.4,553.7 983.0,556.4 983.6,542.9 984.2,564.2 984.9,563.2 985.5,538.8 986.1,522.8 986.7,547.2 987.3,539.2 988.0,566.9 988.6,567.6 989.2,554.1 989.8,563.8 990.4,553.4 991.1,544.3 991.7,552.6 992.3,569.1 992.9,563.1 993.6,547.2 994.2,564.3 994.8,575.5 995.4,566.0 996.0,556.1 996.7,567.8 997.3,543.6 997.9,562.6 998.5,532.2 999.1,561.7 999.8,558.8 1000.4,560.7 1001.0,561.3 1001.6,548.8 1002.3,570.1 1002.9,577.4 1003.5,576.6 1004.1,571.4 1004.7,569.2 1005.4,570.1 1006.0,569.0 1006.6,565.4 1007.2,549.7 1007.8,568.0 1008.5,572.0 1009.1,558.6 1009.7,537.5 1010.3,562.9 1011.0,573.2 1011.6,574.9 1012.2,561.9 1012.8,548.8 1013.4,558.2 1014.1,562.6 1014.7,572.8 1015.3,554.4 1015.9,565.3 1016.5,553.6 1017.2,555.5 1017.8,568.7 1018.4,559.3 1019.0,561.3 1019.7,545.3 1020.3,558.9 1020.9,545.9 1021.5,565.0 1022.1,543.2 1022.8,516.6 1023.4,540.0 1024.0,541.5 1024.6,529.4 1025.2,548.8 1025.9,555.5 1026.5,572.3 1027.1,569.9 1027.7,553.9 1028.4,549.0 1029.0,554.6 1029.6,555.7 1030.2,569.5 1030.8,556.7 1031.5,576.5 1032.1,548.2 1032.7,563.7 1033.3,531.2 1033.9,524.4 1034.6,546.9 1035.2,568.2 1035.8,575.2 1036.4,567.8 1037.1,568.6 1037.7,592.7 1038.3,588.8 1038.9,549.4 1039.5,561.6 1040.2,540.6 1040.8,567.9 1041.4,569.2 1042.0,578.4 1042.7,575.7 1043.3,559.8 1043.9,554.9 1044.5,551.3 1045.1,562.5 1045.8,577.1 1046.4,568.2 1047.0,562.4 1047.6,559.3 1048.2,562.3 1048.9,554.3 1049.5,543.5 1050.1,554.7 1050.7,545.8 1051.4,555.3 1052.0,559.7 1052.6,550.7 1053.2,568.5 1053.8,542.9 1054.5,569.3 1055.1,546.9 1055.7,555.5 1056.3,562.7 1056.9,561.9 1057.6,551.5 1058.2,558.2 1058.8,579.8 1059.4,574.4 1060.1,573.0 1060.7,577.1 1061.3,572.5 1061.9,553.1 1062.5,566.9 1063.2,565.6 1063.8,562.2 1064.4,568.2 1065.0,555.3 1065.6,564.7 1066.3,557.9 1066.9,547.7 1067.5,564.8 1068.1,573.1 1068.8,547.9 1069.4,581.6 1070.0,573.3 1070.6,554.4 1071.2,563.9 1071.9,561.6 1072.5,544.2 1073.1,512.5 1073.7,520.6 1074.3,535.1 1075.0,550.0 1075.6,544.3 1076.2,547.2 1076.8,545.4 1077.5,556.4 1078.1,548.1 1078.7,557.8 1079.3,530.7 1079.9,540.9 1080.6,524.2 1081.2,554.8 1081.8,558.9 1082.4,572.3 1083.0,560.8 1083.7,562.3 1084.3,558.6 1084.9,546.0 1085.5,568.6 1086.2,549.0 1086.8,565.3 1087.4,559.0 1088.0,555.4 1088.6,524.6 1089.3,550.2 1089.9,538.7 1090.5,541.2 1091.1,555.8 1091.7,545.2 1092.4,534.9 1093.0,549.0 1093.6,551.3 1094.2,546.2 1094.9,542.3 1095.5,543.9 1096.1,550.7 1096.7,535.2 1097.3,546.5 1098.0,545.1 1098.6,520.0 1099.2,526.8 1099.8,543.4 1100.5,510.5 1101.1,523.9 1101.7,524.7 1102.3,551.1 1102.9,552.4 1103.6,543.7 1104.2,528.6 1104.8,549.0 1105.4,534.7 1106.0,573.3 1106.7,568.3 1107.3,586.1 1107.9,534.4 1108.5,557.2 1109.2,561.8 1109.8,566.8 1110.4,552.3 1111.0,557.2 1111.6,535.9 1112.3,544.5 1112.9,525.0 1113.5,558.3 1114.1,556.4 1114.7,564.2 1115.4,571.2 1116.0,589.8 1116.6,541.8 1117.2,554.9 1117.9,539.4 1118.5,549.3 1119.1,559.8 1119.7,568.2 1120.3,571.1 1121.0,560.8 1121.6,558.8 1122.2,569.0 1122.8,563.1 1123.4,569.7 1124.1,563.6 1124.7,564.8 1125.3,587.8 1125.9,567.7 1126.6,566.2 1127.2,542.8 1127.8,559.7 1128.4,558.1 1129.0,563.4 1129.7,544.2 1130.3,540.5 1130.9,513.5 1131.5,541.8 1132.1,561.1 1132.8,554.7 1133.4,563.0 1134.0,564.2 1134.6,560.2 1135.3,527.2 1135.9,520.9 1136.5,549.5 1137.1,563.6 1137.7,561.2 1138.4,576.4 1139.0,566.3 1139.6,570.4 1140.2,559.3 1140.8,540.2 1141.5,549.0 1142.1,543.6 1142.7,536.0 1143.3,547.6 1144.0,561.4 1144.6,560.5 1145.2,565.4 1145.8,575.3 1146.4,566.9 1147.1,553.2 1147.7,537.0 1148.3,540.3 1148.9,538.8 1149.5,552.7 1150.2,560.1 1150.8,573.9 1151.4,573.6 1152.0,570.7 1152.7,574.0 1153.3,545.7 1153.9,565.7 1154.5,549.8 1155.1,571.1 1155.8,557.6 1156.4,558.9 1157.0,567.1 1157.6,554.4 1158.2,559.2 1158.9,543.5 1159.5,557.6 1160.1,547.4 1160.7,559.5 1161.4,584.7 1162.0,550.4 1162.6,541.7 1163.2,553.0 1163.8,556.9 1164.5,547.4 1165.1,527.0 1165.7,546.6 1166.3,524.1 1167.0,541.0 1167.6,532.9 1168.2,539.4 1168.8,547.2 1169.4,553.8 1170.1,546.1 1170.7,550.9 1171.3,576.0 1171.9,576.0 1172.5,574.8 1173.2,564.9 1173.8,577.0 1174.4,543.5 1175.0,531.7 1175.7,559.0 1176.3,560.7 1176.9,571.4 1177.5,562.0 1178.1,574.2 1178.8,529.4 1179.4,541.9 1180.0,545.0 1180.6,569.6 1181.2,577.9 1181.9,548.5 1182.5,572.6 1183.1,546.8 1183.7,540.2 1184.4,561.7 1185.0,556.0 1185.6,561.5 1186.2,553.0 1186.8,553.8 1187.5,569.3 1188.1,562.9 1188.7,556.7 1189.3,562.3 1189.9,560.9 1190.6,566.1 1191.2,548.4 1191.8,545.8 1192.4,565.2 1193.1,573.7 1193.7,564.2 1194.3,572.1 1194.9,574.7 1195.5,579.3 1196.2,563.1 1196.8,564.3 1197.4,570.8 1198.0,574.3 1198.6,560.6 1199.3,562.0 1199.9,533.2 1200.5,546.2 1201.1,557.3 1201.8,535.5 1202.4,556.6 1203.0,559.9 1203.6,564.6 1204.2,557.5 1204.9,567.4 1205.5,579.1 1206.1,570.1 1206.7,563.5 1207.3,553.3 1208.0,528.4 1208.6,544.3 1209.2,533.0 1209.8,566.6 1210.5,577.9 1211.1,569.4 1211.7,578.4 1212.3,571.7 1212.9,565.3 1213.6,566.0 1214.2,561.7 1214.8,582.3 1215.4,561.8 1216.0,552.1 1216.7,583.0 1217.3,567.8 1217.9,555.4 1218.5,583.5 1219.2,573.6 1219.8,534.3 1220.4,562.0 1221.0,557.6 1221.6,548.8 1222.3,553.6 1222.9,553.1 1223.5,552.8 1224.1,543.3 1224.7,554.1 1225.4,554.5 1226.0,563.4 1226.6,553.2 1227.2,566.0 1227.9,569.3 1228.5,567.7 1229.1,550.5 1229.7,558.1 1230.3,558.3 1231.0,556.0 1231.6,551.1 1232.2,555.9 1232.8,564.6 1233.5,543.0 1234.1,559.8 1234.7,556.5 1235.3,568.7 1235.9,583.5 1236.6,544.0 1237.2,561.8 1237.8,564.4 1238.4,556.3 1239.0,539.3 1239.7,543.7 1240.3,538.2 1240.9,553.0 1241.5,527.3 1242.2,534.0 1242.8,546.4 1243.4,560.6 1244.0,568.5 1244.6,571.9 1245.3,585.0 1245.9,574.8 1246.5,576.1 1247.1,570.6 1247.7,574.3 1248.4,560.7 1249.0,567.0 1249.6,565.4 1250.2,557.4 1250.9,544.3 1251.5,557.2 1252.1,560.8 1252.7,561.3 1253.3,557.8 1254.0,572.7 1254.6,555.1 1255.2,560.1 1255.8,585.0 1256.4,562.0 1257.1,541.8 1257.7,581.9 1258.3,564.1 1258.9,577.2 1259.6,568.5 1260.2,557.8 1260.8,545.0 1261.4,566.9 1262.0,566.9 1262.7,567.7 1263.3,575.6 1263.9,572.2 1264.5,592.7 1265.1,570.9 1265.8,554.8 1266.4,529.1 1267.0,541.4 1267.6,563.9 1268.3,542.8 1268.9,531.8 1269.5,516.5 1270.1,534.2 1270.7,542.1 1271.4,542.1 1272.0,536.6 1272.6,540.7 1273.2,543.0 1273.8,552.1 1274.5,561.8 1275.1,567.0 1275.7,557.0 1276.3,564.8 1277.0,561.4 1277.6,530.7 1278.2,540.4 1278.8,576.3 1279.4,559.1 1280.1,553.9 1280.7,576.4 1281.3,568.6 1281.9,578.1 1282.5,588.8 1283.2,570.4 1283.8,555.6 1284.4,535.8 1285.0,555.8 1285.7,562.1 1286.3,541.2 1286.9,541.7 1287.5,558.4 1288.1,560.6 1288.8,562.1 1289.4,546.0 1290.0,563.6 1290.6,554.6 1291.3,550.5 1291.9,542.5 1292.5,548.7 1293.1,553.6 1293.7,565.9 1294.4,571.9 1295.0,565.5 1295.6,563.1 1296.2,563.8 1296.8,553.9 1297.5,556.0 1298.1,547.5 1298.7,554.6 1299.3,550.8 1300.0,568.8 1300.6,583.2 1301.2,560.7 1301.8,560.3 1302.4,556.6 1303.1,554.9 1303.7,580.7 1304.3,569.0 1304.9,571.7 1305.5,559.8 1306.2,565.8 1306.8,570.9 1307.4,531.3 1308.0,559.7 1308.7,565.0 1309.3,572.6 1309.9,577.2 1310.5,557.2 1311.1,562.5 1311.8,556.4 1312.4,551.4 1313.0,555.4 1313.6,529.6 1314.2,577.0 1314.9,563.3 1315.5,560.9 1316.1,546.5 1316.7,539.2 1317.4,544.4 1318.0,552.6 1318.6,533.6 1319.2,562.7 1319.8,566.5 1320.5,555.8 1321.1,564.1 1321.7,575.0 1322.3,552.1 1322.9,556.2 1323.6,562.3 1324.2,561.5 1324.8,566.6 1325.4,570.5 1326.1,560.3 1326.7,559.8 1327.3,541.7 1327.9,543.4 1328.5,580.7 1329.2,578.3 1329.8,561.1 1330.4,572.8 1331.0,573.4 1331.6,562.3 1332.3,570.6 1332.9,571.6 1333.5,561.9 1334.1,560.6 1334.8,552.8 1335.4,544.6 1336.0,541.7 1336.6,539.6 1337.2,570.2 1337.9,548.7 1338.5,551.2 1339.1,545.4 1339.7,565.9 1340.3,583.9 1341.0,565.0 1341.6,576.5 1342.2,580.3 1342.8,573.6 1343.5,570.2 1344.1,573.4 1344.7,560.9 1345.3,554.4 1345.9,553.0 1346.6,558.0 1347.2,580.8 1347.8,572.4 1348.4,571.8 1349.1,548.0 1349.7,576.8 1350.3,566.3 1350.9,558.6 1351.5,545.5 1352.2,554.6 1352.8,556.6 1353.4,576.8 1354.0,557.3 1354.6,549.3 1355.3,546.7 1355.9,567.0 1356.5,565.3 1357.1,575.7 1357.8,562.0 1358.4,570.8 1359.0,571.2 1359.6,566.0 1360.2,580.8 1360.9,563.0 1361.5,557.0 1362.1,592.7 1362.7,543.6 1363.3,549.8 1364.0,555.3 1364.6,570.3 1365.2,589.2 1365.8,559.8 1366.5,543.7 1367.1,514.7 1367.7,557.8 1368.3,553.6 1368.9,555.0 1369.6,549.2 1370.2,554.1 1370.8,542.5 1371.4,550.2 1372.0,536.5 1372.7,543.7 1373.3,549.0 1373.9,539.0 1374.5,530.3 1375.2,541.2 1375.8,521.5 1376.4,554.1 1377.0,560.4 1377.6,541.1 1378.3,551.6 1378.9,563.0 1379.5,544.3 1380.1,513.6 1380.7,547.6 1381.4,537.7 1382.0,558.0 1382.6,556.7 1383.2,532.5 1383.9,565.2 1384.5,567.5 1385.1,541.0 1385.7,530.3 1386.3,530.5 1387.0,548.3 1387.6,572.1 1388.2,545.1 1388.8,583.0 1389.4,568.2 1390.1,574.7 1390.7,588.4 1391.3,583.8 1391.9,568.3 1392.6,556.7 1393.2,570.4 1393.8,567.4 1394.4,558.9 1395.0,557.3 1395.7,569.6 1396.3,572.2 1396.9,568.5 1397.5,570.2 1398.1,566.0 1398.8,540.5 1399.4,547.9 1400.0,570.1 1400.6,560.7 1401.3,552.9 1401.9,553.4 1402.5,563.6 1403.1,553.6 1403.7,566.4 1404.4,573.8 1405.0,558.7 1405.6,575.4 1406.2,576.3 1406.8,578.6 1407.5,565.3 1408.1,567.6 1408.7,540.5 1409.3,544.9 1410.0,535.7 1410.6,539.4 1411.2,563.3 1411.8,543.3 1412.4,534.6 1413.1,543.9 1413.7,536.4 1414.3,531.1 1414.9,566.4 1415.6,562.5 1416.2,573.6 1416.8,555.9 1417.4,576.9 1418.0,567.1 1418.7,562.4 1419.3,570.7 1419.9,548.1 1420.5,525.1 1421.1,542.9 1421.8,542.2 1422.4,566.1 1423.0,564.4 1423.6,562.6 1424.3,579.3 1424.9,575.4 1425.5,564.8 1426.1,566.6 1426.7,567.8 1427.4,582.2 1428.0,537.4 1428.6,562.5 1429.2,556.0 1429.8,560.5 1430.5,583.6 1431.1,557.3 1431.7,551.7 1432.3,591.1 1433.0,586.1 1433.6,576.7 1434.2,575.9 1434.8,566.1 1435.4,578.0 1436.1,557.6 1436.7,566.0 1437.3,564.8 1437.9,560.6 1438.5,559.2 1439.2,539.5 1439.8,588.9 1440.4,569.3 1441.0,564.2 1441.7,551.1 1442.3,540.2 1442.9,571.4 1443.5,582.7 1444.1,562.7 1444.8,571.2 1445.4,568.9 1446.0,592.7 1446.6,571.3 1447.2,583.5 1447.9,572.4 1448.5,563.9 1449.1,554.1 1449.7,549.8 1450.4,568.7 1451.0,571.6 1451.6,564.1 1452.2,548.3 1452.8,566.9 1453.5,568.3 1454.1,579.6 1454.7,573.5 1455.3,562.1 1455.9,576.0 1456.6,544.7 1457.2,554.7 1457.8,559.0 1458.4,562.2 1459.1,552.9 1459.7,573.1 1460.3,546.2 1460.9,561.7 1461.5,558.4 1462.2,544.7 1462.8,555.8 1463.4,567.6 1464.0,558.7 1464.6,565.1 1465.3,576.2 1465.9,567.8 1466.5,572.1 1467.1,565.1 1467.8,581.2 1468.4,564.2 1469.0,577.1 1469.6,570.9 1470.2,573.1 1470.9,560.7 1471.5,536.4 1472.1,568.4 1472.7,575.4 1473.4,561.6 1474.0,558.7 1474.6,530.2 1475.2,535.7 1475.8,524.1 1476.5,529.7 1477.1,568.6 1477.7,547.4 1478.3,559.4 1478.9,533.4 1479.6,525.2 1480.2,526.5 1480.8,546.7 1481.4,554.2 1482.1,540.9 1482.7,531.1 1483.3,552.8 1483.9,559.1 1484.5,555.8 1485.2,560.9 1485.8,557.2 1486.4,571.8 1487.0,565.0 1487.6,565.9 1488.3,560.4 1488.9,559.9 1489.5,576.5 1490.1,558.9 1490.8,542.3 1491.4,564.8 1492.0,557.7 1492.6,575.3 1493.2,567.3 1493.9,562.8 1494.5,564.7 1495.1,556.5 1495.7,554.5 1496.3,559.9 1497.0,576.9 1497.6,564.2 1498.2,547.8 1498.8,571.6 1499.5,547.6 1500.1,564.6 1500.7,567.6 1501.3,569.1 1501.9,566.3 1502.6,571.9 1503.2,548.8 1503.8,573.3 1504.4,572.4 1505.0,549.1 1505.7,561.7 1506.3,558.3 1506.9,557.8 1507.5,569.8 1508.2,566.9 1508.8,541.0 1509.4,560.9 1510.0,551.4 1510.6,563.4 1511.3,550.0 1511.9,561.7 1512.5,563.8 1513.1,568.5 1513.7,590.1 1514.4,575.5 1515.0,532.6 1515.6,539.5 1516.2,561.4 1516.9,575.1 1517.5,562.6 1517.5,627.6 1516.9,629.1 1516.2,640.5 1515.6,643.6 1515.0,639.2 1514.4,618.0 1513.7,622.9 1513.1,615.1 1512.5,620.9 1511.9,630.9 1511.3,640.5 1510.6,642.6 1510.0,633.1 1509.4,614.1 1508.8,643.1 1508.2,615.2 1507.5,633.4 1506.9,628.8 1506.3,606.1 1505.7,615.6 1505.0,625.6 1504.4,631.8 1503.8,614.4 1503.2,617.4 1502.6,610.7 1501.9,633.7 1501.3,618.6 1500.7,629.9 1500.1,641.2 1499.5,630.5 1498.8,602.0 1498.2,647.9 1497.6,609.9 1497.0,611.6 1496.3,629.6 1495.7,654.7 1495.1,625.3 1494.5,639.1 1493.9,616.2 1493.2,614.3 1492.6,643.6 1492.0,640.5 1491.4,636.8 1490.8,655.5 1490.1,605.5 1489.5,609.2 1488.9,623.5 1488.3,619.9 1487.6,647.4 1487.0,646.5 1486.4,637.9 1485.8,632.1 1485.2,613.8 1484.5,600.9 1483.9,614.3 1483.3,651.2 1482.7,675.8 1482.1,668.6 1481.4,646.6 1480.8,642.1 1480.2,616.4 1479.6,622.9 1478.9,636.4 1478.3,633.6 1477.7,657.2 1477.1,650.4 1476.5,647.1 1475.8,642.8 1475.2,665.1 1474.6,636.7 1474.0,634.1 1473.4,621.6 1472.7,615.6 1472.1,634.6 1471.5,643.1 1470.9,617.5 1470.2,607.2 1469.6,620.5 1469.0,613.1 1468.4,609.4 1467.8,611.7 1467.1,619.5 1466.5,624.9 1465.9,624.9 1465.3,617.4 1464.6,637.4 1464.0,620.4 1463.4,612.0 1462.8,626.2 1462.2,620.4 1461.5,647.9 1460.9,626.7 1460.3,632.3 1459.7,630.1 1459.1,607.3 1458.4,613.8 1457.8,621.6 1457.2,631.7 1456.6,637.6 1455.9,630.8 1455.3,623.9 1454.7,617.0 1454.1,622.8 1453.5,623.8 1452.8,638.0 1452.2,629.1 1451.6,645.2 1451.0,628.6 1450.4,638.4 1449.7,627.7 1449.1,625.5 1448.5,638.9 1447.9,620.2 1447.2,630.3 1446.6,628.7 1446.0,623.2 1445.4,635.7 1444.8,619.8 1444.1,660.4 1443.5,640.1 1442.9,641.3 1442.3,639.0 1441.7,618.7 1441.0,615.7 1440.4,639.3 1439.8,625.9 1439.2,637.6 1438.5,619.2 1437.9,635.3 1437.3,626.8 1436.7,618.6 1436.1,628.9 1435.4,638.4 1434.8,609.6 1434.2,612.3 1433.6,625.4 1433.0,631.5 1432.3,615.0 1431.7,625.6 1431.1,645.3 1430.5,602.5 1429.8,638.8 1429.2,627.6 1428.6,640.0 1428.0,650.9 1427.4,607.5 1426.7,631.8 1426.1,629.9 1425.5,632.3 1424.9,608.5 1424.3,620.9 1423.6,613.3 1423.0,624.2 1422.4,620.5 1421.8,630.6 1421.1,628.5 1420.5,652.4 1419.9,628.2 1419.3,606.0 1418.7,634.1 1418.0,629.8 1417.4,626.9 1416.8,644.8 1416.2,617.3 1415.6,638.8 1414.9,625.9 1414.3,666.9 1413.7,629.3 1413.1,605.2 1412.4,648.3 1411.8,642.4 1411.2,626.4 1410.6,627.1 1410.0,638.6 1409.3,629.3 1408.7,622.7 1408.1,651.3 1407.5,613.1 1406.8,620.7 1406.2,620.7 1405.6,618.4 1405.0,646.3 1404.4,610.6 1403.7,622.2 1403.1,618.6 1402.5,620.5 1401.9,645.6 1401.3,622.5 1400.6,629.2 1400.0,634.1 1399.4,628.0 1398.8,629.3 1398.1,642.7 1397.5,635.6 1396.9,599.7 1396.3,632.7 1395.7,630.3 1395.0,623.9 1394.4,626.9 1393.8,624.5 1393.2,631.5 1392.6,640.1 1391.9,620.9 1391.3,636.2 1390.7,622.6 1390.1,628.0 1389.4,625.2 1388.8,629.6 1388.2,646.0 1387.6,625.0 1387.0,634.8 1386.3,619.8 1385.7,631.3 1385.1,649.7 1384.5,628.3 1383.9,630.2 1383.2,627.5 1382.6,626.3 1382.0,636.3 1381.4,626.7 1380.7,619.3 1380.1,634.3 1379.5,626.9 1378.9,650.5 1378.3,650.8 1377.6,638.5 1377.0,625.7 1376.4,634.4 1375.8,641.2 1375.2,655.7 1374.5,669.8 1373.9,653.1 1373.3,648.9 1372.7,654.6 1372.0,636.5 1371.4,639.1 1370.8,627.3 1370.2,671.9 1369.6,660.3 1368.9,683.4 1368.3,672.5 1367.7,668.6 1367.1,668.0 1366.5,657.5 1365.8,648.9 1365.2,629.5 1364.6,645.5 1364.0,638.0 1363.3,648.1 1362.7,639.2 1362.1,638.2 1361.5,656.3 1360.9,637.4 1360.2,632.9 1359.6,660.9 1359.0,620.5 1358.4,628.4 1357.8,625.9 1357.1,641.2 1356.5,632.2 1355.9,612.0 1355.3,626.7 1354.6,636.2 1354.0,633.6 1353.4,653.4 1352.8,650.0 1352.2,645.0 1351.5,622.7 1350.9,636.7 1350.3,620.6 1349.7,631.8 1349.1,626.8 1348.4,610.7 1347.8,622.6 1347.2,633.3 1346.6,613.3 1345.9,648.9 1345.3,630.9 1344.7,632.5 1344.1,622.8 1343.5,618.6 1342.8,634.6 1342.2,620.3 1341.6,619.3 1341.0,614.7 1340.3,623.1 1339.7,637.3 1339.1,640.0 1338.5,616.6 1337.9,620.1 1337.2,616.7 1336.6,665.8 1336.0,647.0 1335.4,662.3 1334.8,640.6 1334.1,620.2 1333.5,625.4 1332.9,624.6 1332.3,608.7 1331.6,638.1 1331.0,640.3 1330.4,623.7 1329.8,642.1 1329.2,626.7 1328.5,625.9 1327.9,664.6 1327.3,630.5 1326.7,627.4 1326.1,638.5 1325.4,618.5 1324.8,639.0 1324.2,630.0 1323.6,654.4 1322.9,643.2 1322.3,651.4 1321.7,624.5 1321.1,635.6 1320.5,625.4 1319.8,635.0 1319.2,623.4 1318.6,652.8 1318.0,650.1 1317.4,654.7 1316.7,683.1 1316.1,663.7 1315.5,639.2 1314.9,619.6 1314.2,610.6 1313.6,658.4 1313.0,656.8 1312.4,637.2 1311.8,619.6 1311.1,644.2 1310.5,614.9 1309.9,600.5 1309.3,611.7 1308.7,632.0 1308.0,647.8 1307.4,665.5 1306.8,622.2 1306.2,621.5 1305.5,663.3 1304.9,639.0 1304.3,631.7 1303.7,610.8 1303.1,624.8 1302.4,633.3 1301.8,632.9 1301.2,637.3 1300.6,613.1 1300.0,612.8 1299.3,625.0 1298.7,665.6 1298.1,633.1 1297.5,646.2 1296.8,678.4 1296.2,609.2 1295.6,619.7 1295.0,627.7 1294.4,616.3 1293.7,613.9 1293.1,620.9 1292.5,660.7 1291.9,645.9 1291.3,643.6 1290.6,626.1 1290.0,631.1 1289.4,617.8 1288.8,609.5 1288.1,612.1 1287.5,611.3 1286.9,608.2 1286.3,599.9 1285.7,607.6 1285.0,630.1 1284.4,642.8 1283.8,613.5 1283.2,604.8 1282.5,602.9 1281.9,619.7 1281.3,616.7 1280.7,623.2 1280.1,628.0 1279.4,646.7 1278.8,620.9 1278.2,652.6 1277.6,648.4 1277.0,634.5 1276.3,626.1 1275.7,642.8 1275.1,656.6 1274.5,632.1 1273.8,633.2 1273.2,635.1 1272.6,655.4 1272.0,662.8 1271.4,642.0 1270.7,623.5 1270.1,641.7 1269.5,670.5 1268.9,660.3 1268.3,660.4 1267.6,630.7 1267.0,637.6 1266.4,629.3 1265.8,622.6 1265.1,626.5 1264.5,624.3 1263.9,618.0 1263.3,623.7 1262.7,617.9 1262.0,625.5 1261.4,624.5 1260.8,656.2 1260.2,647.2 1259.6,639.7 1258.9,632.9 1258.3,628.0 1257.7,634.3 1257.1,629.7 1256.4,629.3 1255.8,618.7 1255.2,606.8 1254.6,634.6 1254.0,621.7 1253.3,616.3 1252.7,617.9 1252.1,631.2 1251.5,633.7 1250.9,654.7 1250.2,636.1 1249.6,635.2 1249.0,608.8 1248.4,636.4 1247.7,622.6 1247.1,616.0 1246.5,608.1 1245.9,605.4 1245.3,608.6 1244.6,607.0 1244.0,624.2 1243.4,630.7 1242.8,636.4 1242.2,630.4 1241.5,644.0 1240.9,667.0 1240.3,679.2 1239.7,636.3 1239.0,647.5 1238.4,634.2 1237.8,624.9 1237.2,630.8 1236.6,629.3 1235.9,616.0 1235.3,626.3 1234.7,644.0 1234.1,635.1 1233.5,638.3 1232.8,641.2 1232.2,636.5 1231.6,644.4 1231.0,630.0 1230.3,644.1 1229.7,641.6 1229.1,628.8 1228.5,621.4 1227.9,639.5 1227.2,639.5 1226.6,635.2 1226.0,633.6 1225.4,621.6 1224.7,627.9 1224.1,638.6 1223.5,636.5 1222.9,630.3 1222.3,632.3 1221.6,639.1 1221.0,642.8 1220.4,630.7 1219.8,631.3 1219.2,634.3 1218.5,615.7 1217.9,653.9 1217.3,616.6 1216.7,602.2 1216.0,624.0 1215.4,637.7 1214.8,638.1 1214.2,636.4 1213.6,628.4 1212.9,630.9 1212.3,606.3 1211.7,639.3 1211.1,633.3 1210.5,630.8 1209.8,644.8 1209.2,633.8 1208.6,640.1 1208.0,658.5 1207.3,632.2 1206.7,615.5 1206.1,614.6 1205.5,619.3 1204.9,638.6 1204.2,630.1 1203.6,604.9 1203.0,613.0 1202.4,630.6 1201.8,641.5 1201.1,645.6 1200.5,628.0 1199.9,660.9 1199.3,647.7 1198.6,614.3 1198.0,619.3 1197.4,613.1 1196.8,608.5 1196.2,634.7 1195.5,631.2 1194.9,624.0 1194.3,626.9 1193.7,609.1 1193.1,616.9 1192.4,610.6 1191.8,639.3 1191.2,629.4 1190.6,628.3 1189.9,619.2 1189.3,654.6 1188.7,637.9 1188.1,611.1 1187.5,612.4 1186.8,618.4 1186.2,642.0 1185.6,640.7 1185.0,646.5 1184.4,615.6 1183.7,631.2 1183.1,622.7 1182.5,621.7 1181.9,622.3 1181.2,636.6 1180.6,628.5 1180.0,637.9 1179.4,633.9 1178.8,650.3 1178.1,639.9 1177.5,628.2 1176.9,637.5 1176.3,625.0 1175.7,628.5 1175.0,641.5 1174.4,654.3 1173.8,625.7 1173.2,633.8 1172.5,620.6 1171.9,631.5 1171.3,646.5 1170.7,621.1 1170.1,636.8 1169.4,625.0 1168.8,660.3 1168.2,654.9 1167.6,643.5 1167.0,633.2 1166.3,668.5 1165.7,647.9 1165.1,669.7 1164.5,677.7 1163.8,635.0 1163.2,655.1 1162.6,645.5 1162.0,609.3 1161.4,636.3 1160.7,636.8 1160.1,633.0 1159.5,654.2 1158.9,653.0 1158.2,628.4 1157.6,634.2 1157.0,619.0 1156.4,642.2 1155.8,623.6 1155.1,618.8 1154.5,618.6 1153.9,608.1 1153.3,616.4 1152.7,612.8 1152.0,613.5 1151.4,615.6 1150.8,622.7 1150.2,641.9 1149.5,630.9 1148.9,677.5 1148.3,648.7 1147.7,683.0 1147.1,675.5 1146.4,632.1 1145.8,614.2 1145.2,617.1 1144.6,640.6 1144.0,628.0 1143.3,628.3 1142.7,626.7 1142.1,605.3 1141.5,645.1 1140.8,633.1 1140.2,620.5 1139.6,630.6 1139.0,609.8 1138.4,624.6 1137.7,635.5 1137.1,639.8 1136.5,630.4 1135.9,625.9 1135.3,632.0 1134.6,632.5 1134.0,635.5 1133.4,651.2 1132.8,638.3 1132.1,626.1 1131.5,659.9 1130.9,661.4 1130.3,665.8 1129.7,637.7 1129.0,623.3 1128.4,606.1 1127.8,611.1 1127.2,600.9 1126.6,627.5 1125.9,617.1 1125.3,621.3 1124.7,629.1 1124.1,631.4 1123.4,622.5 1122.8,632.5 1122.2,634.3 1121.6,629.6 1121.0,628.0 1120.3,630.8 1119.7,622.0 1119.1,641.3 1118.5,624.6 1117.9,661.6 1117.2,628.0 1116.6,634.4 1116.0,611.9 1115.4,644.6 1114.7,622.2 1114.1,624.1 1113.5,656.6 1112.9,637.7 1112.3,664.1 1111.6,632.0 1111.0,643.9 1110.4,633.0 1109.8,625.2 1109.2,630.0 1108.5,620.2 1107.9,653.2 1107.3,622.2 1106.7,624.5 1106.0,626.2 1105.4,646.1 1104.8,645.6 1104.2,636.1 1103.6,636.0 1102.9,653.3 1102.3,660.9 1101.7,646.4 1101.1,657.4 1100.5,667.6 1099.8,640.0 1099.2,645.6 1098.6,647.9 1098.0,658.5 1097.3,643.5 1096.7,668.4 1096.1,661.9 1095.5,693.7 1094.9,661.6 1094.2,667.1 1093.6,662.2 1093.0,638.1 1092.4,637.8 1091.7,647.3 1091.1,644.1 1090.5,657.6 1089.9,654.4 1089.3,659.1 1088.6,670.2 1088.0,642.4 1087.4,622.7 1086.8,635.2 1086.2,631.6 1085.5,624.7 1084.9,658.3 1084.3,631.0 1083.7,628.4 1083.0,607.5 1082.4,608.4 1081.8,631.1 1081.2,619.4 1080.6,642.8 1079.9,666.6 1079.3,662.0 1078.7,637.6 1078.1,639.0 1077.5,623.3 1076.8,614.0 1076.2,639.5 1075.6,635.8 1075.0,654.0 1074.3,653.7 1073.7,681.9 1073.1,680.6 1072.5,653.7 1071.9,656.1 1071.2,647.2 1070.6,644.3 1070.0,626.0 1069.4,615.0 1068.8,616.3 1068.1,622.1 1067.5,615.8 1066.9,625.0 1066.3,614.8 1065.6,625.2 1065.0,662.2 1064.4,615.0 1063.8,636.5 1063.2,616.9 1062.5,621.1 1061.9,653.7 1061.3,646.7 1060.7,610.6 1060.1,618.0 1059.4,615.3 1058.8,602.1 1058.2,603.9 1057.6,619.6 1056.9,616.7 1056.3,617.6 1055.7,615.2 1055.1,606.9 1054.5,608.9 1053.8,638.6 1053.2,623.8 1052.6,623.4 1052.0,633.3 1051.4,621.8 1050.7,632.3 1050.1,639.7 1049.5,628.9 1048.9,627.3 1048.2,621.7 1047.6,636.0 1047.0,630.4 1046.4,628.4 1045.8,623.0 1045.1,617.0 1044.5,642.1 1043.9,638.4 1043.3,641.7 1042.7,655.3 1042.0,618.5 1041.4,634.9 1040.8,654.6 1040.2,640.1 1039.5,631.7 1038.9,653.1 1038.3,654.4 1037.7,624.4 1037.1,633.9 1036.4,657.6 1035.8,634.5 1035.2,642.8 1034.6,637.9 1033.9,637.4 1033.3,658.4 1032.7,657.8 1032.1,630.4 1031.5,624.4 1030.8,627.2 1030.2,622.8 1029.6,634.8 1029.0,639.7 1028.4,624.3 1027.7,664.2 1027.1,615.3 1026.5,641.6 1025.9,640.7 1025.2,648.3 1024.6,640.4 1024.0,639.5 1023.4,646.8 1022.8,634.0 1022.1,638.2 1021.5,643.3 1020.9,641.4 1020.3,635.1 1019.7,629.5 1019.0,623.6 1018.4,644.2 1017.8,612.3 1017.2,638.3 1016.5,637.4 1015.9,627.1 1015.3,634.3 1014.7,624.8 1014.1,623.6 1013.4,621.3 1012.8,631.2 1012.2,621.6 1011.6,620.2 1011.0,640.4 1010.3,626.5 1009.7,635.8 1009.1,629.4 1008.5,631.6 1007.8,624.1 1007.2,646.7 1006.6,627.5 1006.0,628.7 1005.4,617.0 1004.7,620.4 1004.1,620.7 1003.5,597.7 1002.9,619.5 1002.3,630.0 1001.6,644.2 1001.0,634.7 1000.4,652.7 999.8,636.7 999.1,635.8 998.5,649.1 997.9,638.6 997.3,633.0 996.7,643.0 996.0,636.7 995.4,624.7 994.8,626.6 994.2,614.5 993.6,631.3 992.9,617.9 992.3,634.7 991.7,634.1 991.1,626.1 990.4,642.4 989.8,604.2 989.2,632.5 988.6,614.5 988.0,604.2 987.3,613.8 986.7,637.2 986.1,638.7 985.5,657.7 984.9,619.5 984.2,632.0 983.6,642.2 983.0,631.2 982.4,639.1 981.7,634.2 981.1,621.9 980.5,620.5 979.9,604.0 979.3,626.9 978.6,626.2 978.0,626.0 977.4,618.8 976.8,647.0 976.1,611.2 975.5,621.2 974.9,633.0 974.3,620.5 973.7,644.7 973.0,631.8 972.4,623.6 971.8,646.9 971.2,634.5 970.6,642.5 969.9,626.8 969.3,623.7 968.7,630.5 968.1,614.5 967.4,630.0 966.8,640.8 966.2,614.5 965.6,625.9 965.0,610.3 964.3,621.2 963.7,610.8 963.1,634.6 962.5,624.8 961.9,626.0 961.2,613.3 960.6,609.5 960.0,614.3 959.4,616.2 958.7,627.4 958.1,627.5 957.5,623.2 956.9,628.6 956.3,647.1 955.6,622.6 955.0,621.9 954.4,628.2 953.8,648.9 953.2,645.1 952.5,627.4 951.9,620.3 951.3,636.0 950.7,638.5 950.0,644.2 949.4,626.9 948.8,621.8 948.2,630.0 947.6,646.9 946.9,615.6 946.3,615.6 945.7,614.3 945.1,618.1 944.5,625.0 943.8,629.5 943.2,617.5 942.6,604.0 942.0,623.9 941.3,637.4 940.7,631.4 940.1,630.7 939.5,633.7 938.9,628.4 938.2,620.9 937.6,631.4 937.0,641.5 936.4,620.9 935.8,629.7 935.1,627.4 934.5,638.1 933.9,620.5 933.3,653.0 932.6,654.6 932.0,635.3 931.4,648.9 930.8,628.2 930.2,660.9 929.5,635.4 928.9,614.3 928.3,615.1 927.7,610.6 927.1,614.0 926.4,620.4 925.8,627.7 925.2,631.0 924.6,644.2 923.9,642.1 923.3,650.0 922.7,648.4 922.1,625.5 921.5,629.1 920.8,614.8 920.2,643.3 919.6,625.7 919.0,623.0 918.4,627.6 917.7,620.5 917.1,613.3 916.5,620.8 915.9,640.2 915.2,635.1 914.6,635.1 914.0,629.9 913.4,626.7 912.8,623.9 912.1,631.4 911.5,617.7 910.9,655.4 910.3,636.3 909.6,646.8 909.0,656.8 908.4,661.1 907.8,610.1 907.2,627.0 906.5,626.0 905.9,638.0 905.3,618.2 904.7,630.8 904.1,637.0 903.4,668.6 902.8,625.4 902.2,621.1 901.6,610.0 900.9,618.3 900.3,624.1 899.7,635.2 899.1,628.3 898.5,613.5 897.8,605.4 897.2,613.4 896.6,628.5 896.0,651.1 895.4,619.0 894.7,615.1 894.1,618.8 893.5,640.8 892.9,640.2 892.2,626.8 891.6,636.5 891.0,619.7 890.4,597.6 889.8,619.4 889.1,620.0 888.5,608.8 887.9,610.8 887.3,604.1 886.7,607.7 886.0,638.4 885.4,609.9 884.8,623.1 884.2,644.0 883.5,627.8 882.9,629.5 882.3,648.7 881.7,632.9 881.1,652.8 880.4,640.5 879.8,648.5 879.2,648.1 878.6,644.0 878.0,663.6 877.3,646.0 876.7,641.9 876.1,635.8 875.5,642.0 874.8,620.8 874.2,632.6 873.6,649.7 873.0,640.7 872.4,658.1 871.7,640.0 871.1,650.6 870.5,639.3 869.9,654.4 869.3,639.0 868.6,627.6 868.0,637.0 867.4,619.5 866.8,621.4 866.1,617.3 865.5,627.2 864.9,638.3 864.3,654.1 863.7,631.0 863.0,646.0 862.4,631.3 861.8,619.0 861.2,635.1 860.6,625.3 859.9,635.0 859.3,643.4 858.7,641.6 858.1,651.6 857.4,620.9 856.8,648.8 856.2,637.1 855.6,635.1 855.0,655.2 854.3,650.3 853.7,622.1 853.1,634.6 852.5,609.7 851.9,643.7 851.2,643.4 850.6,649.9 850.0,631.7 849.4,625.0 848.7,633.7 848.1,616.2 847.5,622.9 846.9,635.4 846.3,610.0 845.6,619.0 845.0,621.8 844.4,623.2 843.8,631.5 843.1,630.4 842.5,643.8 841.9,641.6 841.3,646.8 840.7,637.7 840.0,652.1 839.4,645.8 838.8,651.3 838.2,633.0 837.6,635.0 836.9,614.0 836.3,615.9 835.7,620.3 835.1,619.4 834.4,653.5 833.8,634.0 833.2,617.1 832.6,634.3 832.0,609.3 831.3,625.3 830.7,649.9 830.1,637.3 829.5,653.5 828.9,619.5 828.2,627.8 827.6,622.0 827.0,634.5 826.4,601.6 825.7,629.8 825.1,612.8 824.5,637.0 823.9,657.2 823.3,637.8 822.6,643.8 822.0,630.6 821.4,641.8 820.8,632.4 820.2,633.0 819.5,637.3 818.9,640.0 818.3,620.4 817.7,633.1 817.0,628.3 816.4,621.1 815.8,626.3 815.2,623.0 814.6,611.6 813.9,626.4 813.3,618.4 812.7,622.9 812.1,616.3 811.5,615.4 810.8,618.6 810.2,628.5 809.6,613.3 809.0,612.5 808.3,609.9 807.7,629.2 807.1,617.0 806.5,607.9 805.9,603.7 805.2,620.2 804.6,621.7 804.0,621.5 803.4,609.7 802.8,614.5 802.1,602.3 801.5,623.3 800.9,626.7 800.3,635.1 799.6,631.1 799.0,616.8 798.4,607.0 797.8,610.2 797.2,616.3 796.5,622.5 795.9,626.2 795.3,649.3 794.7,648.9 794.1,625.0 793.4,634.7 792.8,618.2 792.2,611.3 791.6,611.0 790.9,607.9 790.3,607.8 789.7,634.1 789.1,614.5 788.5,621.2 787.8,623.0 787.2,638.8 786.6,634.4 786.0,626.4 785.3,636.3 784.7,614.6 784.1,609.0 783.5,625.4 782.9,608.0 782.2,612.6 781.6,610.6 781.0,617.1 780.4,626.1 779.8,609.3 779.1,620.3 778.5,611.8 777.9,616.5 777.3,626.2 776.6,606.7 776.0,605.3 775.4,618.7 774.8,611.1 774.2,616.9 773.5,624.3 772.9,626.7 772.3,625.9 771.7,643.3 771.1,628.6 770.4,607.3 769.8,605.4 769.2,608.9 768.6,619.7 767.9,615.9 767.3,636.2 766.7,619.1 766.1,632.8 765.5,613.9 764.8,611.8 764.2,622.4 763.6,633.1 763.0,615.7 762.4,634.0 761.7,649.7 761.1,639.5 760.5,651.9 759.9,645.3 759.2,653.7 758.6,649.0 758.0,635.9 757.4,639.4 756.8,651.2 756.1,632.3 755.5,660.6 754.9,652.9 754.3,630.8 753.7,618.1 753.0,634.4 752.4,639.0 751.8,630.6 751.2,618.6 750.5,612.8 749.9,617.3 749.3,626.3 748.7,625.1 748.1,624.7 747.4,615.7 746.8,631.1 746.2,656.0 745.6,620.6 745.0,615.4 744.3,612.2 743.7,635.0 743.1,640.4 742.5,613.0 741.8,635.7 741.2,657.8 740.6,648.6 740.0,635.9 739.4,630.5 738.7,625.9 738.1,630.0 737.5,633.2 736.9,639.7 736.3,653.4 735.6,626.4 735.0,635.5 734.4,631.2 733.8,638.8 733.1,648.2 732.5,646.7 731.9,626.4 731.3,628.3 730.7,630.4 730.0,613.2 729.4,621.2 728.8,633.5 728.2,639.9 727.5,660.5 726.9,632.0 726.3,620.4 725.7,615.2 725.1,626.5 724.4,616.0 723.8,616.2 723.2,627.2 722.6,621.1 722.0,626.0 721.3,630.8 720.7,624.5 720.1,629.0 719.5,635.3 718.8,642.2 718.2,622.9 717.6,617.6 717.0,647.1 716.4,648.7 715.7,626.5 715.1,616.3 714.5,634.9 713.9,620.5 713.3,629.0 712.6,625.5 712.0,647.3 711.4,625.8 710.8,628.2 710.1,630.2 709.5,643.2 708.9,617.8 708.3,618.8 707.7,621.2 707.0,642.3 706.4,639.4 705.8,628.9 705.2,620.9 704.6,633.8 703.9,624.1 703.3,627.0 702.7,635.7 702.1,611.4 701.4,615.1 700.8,613.3 700.2,644.6 699.6,641.2 699.0,648.5 698.3,637.5 697.7,658.9 697.1,624.1 696.5,624.2 695.9,653.6 695.2,638.9 694.6,649.5 694.0,654.2 693.4,644.3 692.7,639.8 692.1,652.1 691.5,637.2 690.9,638.0 690.3,628.7 689.6,630.2 689.0,638.9 688.4,623.7 687.8,636.1 687.2,623.4 686.5,622.8 685.9,624.0 685.3,634.3 684.7,625.7 684.0,627.1 683.4,634.0 682.8,620.0 682.2,648.8 681.6,655.2 680.9,645.6 680.3,642.3 679.7,650.5 679.1,664.6 678.5,655.3 677.8,652.3 677.2,643.9 676.6,642.6 676.0,657.3 675.3,641.6 674.7,658.7 674.1,655.8 673.5,649.9 672.9,624.9 672.2,618.1 671.6,645.5 671.0,661.7 670.4,596.8 669.8,601.6 669.1,596.3 668.5,613.5 667.9,620.0 667.3,596.3 666.6,604.1 666.0,618.7 665.4,622.2 664.8,614.0 664.2,642.2 663.5,652.7 662.9,641.8 662.3,603.8 661.7,604.8 661.0,628.2 660.4,651.4 659.8,630.2 659.2,634.9 658.6,644.8 657.9,639.8 657.3,622.5 656.7,618.1 656.1,606.6 655.5,601.7 654.8,632.9 654.2,618.1 653.6,619.0 653.0,618.3 652.3,618.7 651.7,631.0 651.1,647.3 650.5,622.1 649.9,634.6 649.2,616.1 648.6,619.9 648.0,631.6 647.4,610.9 646.8,614.4 646.1,605.8 645.5,607.8 644.9,617.8 644.3,618.5 643.6,617.1 643.0,624.6 642.4,598.8 641.8,633.4 641.2,655.8 640.5,642.1 639.9,628.4 639.3,639.5 638.7,624.5 638.1,635.5 637.4,619.6 636.8,625.0 636.2,621.1 635.6,646.6 634.9,633.0 634.3,631.4 633.7,630.2 633.1,622.2 632.5,637.1 631.8,630.7 631.2,621.0 630.6,621.7 630.0,610.4 629.4,623.3 628.7,616.9 628.1,636.0 627.5,607.7 626.9,613.7 626.2,607.5 625.6,613.7 625.0,608.8 624.4,611.3 623.8,614.2 623.1,608.4 622.5,606.2 621.9,620.5 621.3,623.3 620.7,631.4 620.0,635.6 619.4,631.9 618.8,605.8 618.2,620.7 617.5,635.1 616.9,621.1 616.3,628.0 615.7,617.5 615.1,615.3 614.4,596.4 613.8,629.0 613.2,609.1 612.6,612.0 612.0,617.0 611.3,627.7 610.7,627.7 610.1,625.8 609.5,640.7 608.8,633.5 608.2,625.4 607.6,626.0 607.0,631.0 606.4,622.0 605.7,600.6 605.1,618.2 604.5,615.9 603.9,605.1 603.2,621.6 602.6,617.5 602.0,621.3 601.4,619.4 600.8,637.2 600.1,629.4 599.5,631.8 598.9,640.2 598.3,631.8 597.7,630.5 597.0,651.1 596.4,638.7 595.8,651.5 595.2,631.1 594.5,643.8 593.9,640.0 593.3,628.4 592.7,618.7 592.1,601.3 591.4,621.1 590.8,618.1 590.2,626.7 589.6,603.0 589.0,621.6 588.3,649.9 587.7,620.5 587.1,629.8 586.5,615.0 585.8,615.2 585.2,611.0 584.6,611.9 584.0,615.7 583.4,616.6 582.7,612.0 582.1,622.7 581.5,613.3 580.9,600.9 580.3,614.4 579.6,628.3 579.0,630.2 578.4,639.2 577.8,636.0 577.1,636.4 576.5,650.8 575.9,624.0 575.3,627.6 574.7,644.2 574.0,640.3 573.4,632.7 572.8,618.6 572.2,629.3 571.6,649.4 570.9,635.5 570.3,625.8 569.7,627.3 569.1,645.4 568.4,630.0 567.8,624.8 567.2,621.6 566.6,611.9 566.0,633.9 565.3,627.8 564.7,621.8 564.1,614.0 563.5,610.8 562.9,639.4 562.2,632.4 561.6,649.4 561.0,624.3 560.4,634.1 559.7,633.3 559.1,612.8 558.5,598.2 557.9,627.8 557.3,623.2 556.6,623.7 556.0,628.6 555.4,617.8 554.8,628.7 554.2,626.6 553.5,617.0 552.9,636.2 552.3,607.3 551.7,628.7 551.0,615.1 550.4,623.2 549.8,628.0 549.2,605.1 548.6,616.6 547.9,627.3 547.3,609.2 546.7,603.7 546.1,623.1 545.5,617.3 544.8,621.4 544.2,626.3 543.6,637.6 543.0,639.4 542.3,637.0 541.7,633.7 541.1,655.5 540.5,638.1 539.9,657.6 539.2,655.4 538.6,614.4 538.0,612.0 537.4,621.5 536.7,622.1 536.1,616.9 535.5,617.9 534.9,622.3 534.3,616.7 533.6,612.2 533.0,630.3 532.4,638.0 531.8,638.8 531.2,624.6 530.5,603.9 529.9,610.4 529.3,627.8 528.7,629.1 528.0,626.1 527.4,627.0 526.8,640.3 526.2,634.2 525.6,651.4 524.9,640.6 524.3,637.7 523.7,630.0 523.1,637.8 522.5,655.2 521.8,649.5 521.2,657.1 520.6,642.8 520.0,641.0 519.3,639.9 518.7,631.0 518.1,648.3 517.5,648.5 516.9,658.9 516.2,658.6 515.6,656.9 515.0,643.2 514.4,628.0 513.8,660.7 513.1,650.5 512.5,640.3 511.9,626.5 511.3,632.7 510.6,640.5 510.0,646.8 509.4,628.1 508.8,636.6 508.2,622.4 507.5,634.4 506.9,614.7 506.3,637.1 505.7,630.5 505.1,634.3 504.4,638.3 503.8,650.5 503.2,645.6 502.6,642.8 501.9,628.5 501.3,633.1 500.7,640.3 500.1,616.1 499.5,617.8 498.8,614.2 498.2,598.2 497.6,614.0 497.0,613.9 496.4,616.8 495.7,615.0 495.1,612.1 494.5,619.7 493.9,611.2 493.2,601.0 492.6,623.0 492.0,624.7 491.4,618.5 490.8,620.8 490.1,603.7 489.5,605.9 488.9,619.0 488.3,609.5 487.7,645.3 487.0,643.6 486.4,639.1 485.8,636.2 485.2,634.0 484.5,645.2 483.9,630.8 483.3,659.4 482.7,646.2 482.1,637.1 481.4,622.2 480.8,630.4 480.2,652.8 479.6,640.0 479.0,631.4 478.3,649.9 477.7,646.9 477.1,635.2 476.5,638.2 475.8,656.4 475.2,640.0 474.6,655.6 474.0,638.0 473.4,627.9 472.7,631.0 472.1,610.9 471.5,626.3 470.9,604.0 470.2,614.3 469.6,616.8 469.0,616.4 468.4,638.7 467.8,632.5 467.1,615.9 466.5,634.8 465.9,627.5 465.3,633.3 464.7,621.9 464.0,620.8 463.4,616.2 462.8,622.5 462.2,613.6 461.5,614.2 460.9,614.4 460.3,613.6 459.7,625.2 459.1,610.6 458.4,612.5 457.8,624.4 457.2,611.7 456.6,624.4 456.0,607.4 455.3,611.3 454.7,612.0 454.1,656.4 453.5,609.2 452.8,609.2 452.2,609.0 451.6,641.4 451.0,647.7 450.4,630.5 449.7,623.9 449.1,627.5 448.5,638.5 447.9,624.7 447.3,615.1 446.6,623.4 446.0,625.6 445.4,634.5 444.8,631.8 444.1,621.5 443.5,602.4 442.9,600.2 442.3,599.2 441.7,614.5 441.0,609.6 440.4,627.1 439.8,632.4 439.2,619.4 438.6,621.2 437.9,622.5 437.3,619.2 436.7,638.8 436.1,631.3 435.4,626.1 434.8,631.6 434.2,632.3 433.6,653.4 433.0,629.5 432.3,623.3 431.7,624.1 431.1,616.9 430.5,618.0 429.9,637.2 429.2,620.0 428.6,643.0 428.0,645.9 427.4,642.4 426.7,632.3 426.1,624.7 425.5,633.1 424.9,646.8 424.3,632.0 423.6,644.2 423.0,619.8 422.4,625.3 421.8,622.7 421.2,623.8 420.5,642.2 419.9,627.7 419.3,634.1 418.7,619.8 418.0,605.4 417.4,610.3 416.8,616.3 416.2,615.3 415.6,621.4 414.9,608.2 414.3,629.8 413.7,620.6 413.1,614.7 412.4,624.1 411.8,630.7 411.2,640.5 410.6,637.3 410.0,637.0 409.3,624.6 408.7,641.3 408.1,642.2 407.5,647.3 406.9,631.8 406.2,653.4 405.6,639.8 405.0,622.1 404.4,624.4 403.7,606.7 403.1,617.9 402.5,612.9 401.9,624.3 401.3,630.5 400.6,640.7 400.0,640.2 399.4,620.7 398.8,611.5 398.2,613.2 397.5,629.9 396.9,604.4 396.3,617.6 395.7,621.9 395.0,604.8 394.4,637.3 393.8,639.9 393.2,627.4 392.6,639.4 391.9,607.1 391.3,628.9 390.7,643.1 390.1,634.4 389.5,619.9 388.8,619.6 388.2,632.6 387.6,603.7 387.0,614.1 386.3,614.3 385.7,624.0 385.1,670.8 384.5,666.6 383.9,655.6 383.2,627.8 382.6,615.8 382.0,617.3 381.4,606.2 380.8,634.9 380.1,628.8 379.5,629.1 378.9,637.0 378.3,637.0 377.6,635.5 377.0,635.4 376.4,621.7 375.8,633.4 375.2,643.0 374.5,644.7 373.9,611.5 373.3,618.7 372.7,612.5 372.1,612.4 371.4,637.8 370.8,638.2 370.2,632.1 369.6,643.8 368.9,636.2 368.3,645.2 367.7,649.6 367.1,634.1 366.5,615.9 365.8,602.4 365.2,612.4 364.6,632.8 364.0,639.3 363.4,633.8 362.7,625.1 362.1,627.0 361.5,642.2 360.9,627.7 360.2,615.7 359.6,610.2 359.0,650.5 358.4,636.2 357.8,618.2 357.1,623.8 356.5,652.4 355.9,629.0 355.3,621.1 354.6,612.9 354.0,597.5 353.4,621.1 352.8,608.5 352.2,637.6 351.5,622.5 350.9,620.5 350.3,616.0 349.7,622.0 349.1,615.0 348.4,622.1 347.8,598.8 347.2,620.1 346.6,619.4 345.9,643.6 345.3,627.5 344.7,638.8 344.1,599.7 343.5,625.7 342.8,639.4 342.2,620.5 341.6,602.2 341.0,613.7 340.4,629.3 339.7,611.7 339.1,603.3 338.5,619.3 337.9,620.9 337.2,644.5 336.6,655.6 336.0,637.6 335.4,630.3 334.8,608.5 334.1,631.7 333.5,632.0 332.9,618.7 332.3,628.5 331.7,636.7 331.0,652.7 330.4,651.3 329.8,656.6 329.2,624.7 328.5,605.4 327.9,626.6 327.3,631.6 326.7,645.0 326.1,628.8 325.4,611.5 324.8,620.4 324.2,625.1 323.6,633.6 323.0,621.5 322.3,626.5 321.7,626.6 321.1,633.2 320.5,619.0 319.8,634.3 319.2,599.4 318.6,608.3 318.0,609.3 317.4,613.5 316.7,626.7 316.1,609.3 315.5,610.0 314.9,618.9 314.3,629.9 313.6,621.0 313.0,626.5 312.4,618.4 311.8,616.4 311.1,627.1 310.5,616.5 309.9,615.6 309.3,615.9 308.7,626.8 308.0,634.7 307.4,624.3 306.8,623.7 306.2,612.5 305.6,617.9 304.9,608.6 304.3,597.0 303.7,620.0 303.1,615.5 302.4,619.4 301.8,627.0 301.2,619.7 300.6,611.0 300.0,616.0 299.3,604.8 298.7,610.4 298.1,621.5 297.5,624.8 296.9,604.2 296.2,607.8 295.6,617.5 295.0,621.9 294.4,620.2 293.7,618.8 293.1,613.8 292.5,622.6 291.9,628.9 291.3,613.0 290.6,626.1 290.0,627.2 289.4,608.9 288.8,616.6 288.1,639.4 287.5,618.6 286.9,635.5 286.3,622.3 285.7,611.2 285.0,633.7 284.4,627.1 283.8,640.8 283.2,638.2 282.6,622.8 281.9,604.7 281.3,631.0 280.7,627.6 280.1,618.6 279.4,620.2 278.8,618.7 278.2,631.3 277.6,629.8 277.0,623.2 276.3,619.2 275.7,634.2 275.1,620.4 274.5,617.0 273.9,614.8 273.2,606.4 272.6,606.0 272.0,618.7 271.4,616.7 270.7,624.2 270.1,634.0 269.5,633.6 268.9,643.4 268.3,643.9 267.6,616.9 267.0,644.0 266.4,620.0 265.8,614.5 265.2,615.4 264.5,611.4 263.9,631.3 263.3,631.0 262.7,626.0 262.0,628.0 261.4,616.0 260.8,628.6 260.2,609.9 259.6,611.7 258.9,622.9 258.3,610.6 257.7,614.7 257.1,610.0 256.5,619.2 255.8,608.8 255.2,604.6 254.6,606.6 254.0,603.7 253.3,622.4 252.7,621.9 252.1,623.5 251.5,610.3 250.9,610.2 250.2,615.4 249.6,623.6 249.0,634.3 248.4,634.7 247.8,621.4 247.1,613.8 246.5,629.1 245.9,626.3 245.3,619.5 244.6,627.4 244.0,630.6 243.4,622.4 242.8,605.7 242.2,608.4 241.5,621.0 240.9,619.4 240.3,627.1 239.7,615.4 239.1,611.4 238.4,635.5 237.8,614.2 237.2,608.9 236.6,615.9 235.9,598.8 235.3,623.7 234.7,627.9 234.1,607.2 233.5,611.1 232.8,639.7 232.2,638.9 231.6,624.2 231.0,604.9 230.3,613.0 229.7,616.2 229.1,629.3 228.5,623.8 227.9,618.9 227.2,615.0 226.6,616.9 226.0,616.8 225.4,623.9 224.8,619.7 224.1,639.8 223.5,624.8 222.9,625.9 222.3,633.9 221.6,619.5 221.0,617.4 220.4,630.6 219.8,616.1 219.2,629.8 218.5,645.3 217.9,630.0 217.3,633.6 216.7,630.9 216.1,601.1 215.4,617.7 214.8,623.6 214.2,654.5 213.6,632.7 212.9,642.7 212.3,629.6 211.7,647.4 211.1,650.6 210.5,624.0 209.8,600.8 209.2,610.7 208.6,620.3 208.0,612.7 207.4,598.5 206.7,626.4 206.1,616.5 205.5,614.9 204.9,613.2 204.2,609.0 203.6,620.3 203.0,617.0 202.4,615.8 201.8,612.8 201.1,612.3 200.5,616.0 199.9,605.4 199.3,622.9 198.7,617.1 198.0,617.4 197.4,616.4 196.8,609.2 196.2,622.6 195.5,610.1 194.9,606.5 194.3,614.0 193.7,617.9 193.1,638.0 192.4,619.4 191.8,618.8 191.2,608.4 190.6,610.7 190.0,627.6 189.3,616.5 188.7,634.1 188.1,637.3 187.5,640.1 186.8,635.8 186.2,627.7 185.6,649.9 185.0,617.8 184.4,617.9 183.7,610.6 183.1,632.4 182.5,639.7 181.9,629.5 181.3,629.9 180.6,628.0 180.0,641.4 179.4,638.1 178.8,623.5 178.1,623.0 177.5,633.4 176.9,608.5 176.3,596.3 175.7,617.2 175.0,614.7 174.4,622.1 173.8,628.2 173.2,636.7 172.6,644.2 171.9,642.4 171.3,637.6 170.7,618.5 170.1,604.1 169.4,606.6 168.8,617.9 168.2,606.2" fill="#3a9fff" stroke="#3a9fff" stroke-width="0.7" stroke-linejoin="round"/>
</g>
<polyline points="391.9,674.8 392.6,702.5 393.2,683.1 393.8,670.4 394.4,696.1 395.0,697.3 395.7,713.6 396.3,724.6 396.9,713.6 397.5,713.6 398.2,724.6 398.8,691.2 399.4,651.8 400.0,634.8 400.6,594.5 401.3,589.0 401.9,520.5 402.5,489.6 403.1,437.5 403.7,482.3 404.4,471.1 405.0,532.1 405.6,578.3 406.2,578.9 406.9,638.6 407.5,627.7 408.1,585.0 408.7,587.5 409.3,509.4 410.0,505.4 410.6,483.8 411.2,437.5 411.8,473.1 412.4,454.1 413.1,506.3 413.7,502.1 414.3,506.3 414.9,476.0 415.6,472.3 416.2,488.6 416.8,472.3 417.4,489.8 418.0,506.7 418.7,555.5 419.3,559.2 419.9,559.2 420.5,529.4 421.2,524.8 421.8,540.8 422.4,575.0 423.0,559.3 423.6,616.5 424.3,625.9 424.9,638.4 425.5,659.1 426.1,676.1 426.7,676.1 427.4,661.2 428.0,666.2 428.6,651.8 429.2,662.0 429.9,651.8 430.5,611.6 431.1,538.4 431.7,525.2 432.3,491.3 433.0,528.4 433.6,528.4 434.2,520.3 434.8,514.3 435.4,468.4 436.1,494.7 436.7,526.0 437.3,542.8 437.9,594.5 438.6,645.6 439.2,676.7 439.8,734.3 440.4,720.8 441.0,720.8 441.7,658.8 442.3,630.6 442.9,620.1 443.5,647.0 444.1,648.4 444.8,667.0 445.4,675.1 446.0,663.1 446.6,695.0 447.3,626.9 447.9,573.9 448.5,509.4 449.1,520.6 449.7,537.9 450.4,563.5 451.0,570.3 451.6,585.7 452.2,514.5 452.8,475.8 453.5,410.2 454.1,453.9 454.7,466.8 455.3,498.6 456.0,558.9 456.6,575.1 457.2,575.1 457.8,540.3 458.4,552.8 459.1,534.1 459.7,548.2 460.3,534.1 460.9,556.6 461.5,571.9 462.2,606.5 462.8,642.6 463.4,614.8 464.0,591.9 464.7,573.6 465.3,551.6 465.9,508.1 466.5,521.9 467.1,540.6 467.8,529.3 468.4,554.8 469.0,539.7 469.6,501.6 470.2,481.2 470.9,462.6 471.5,471.6 472.1,507.1 472.7,546.0 473.4,559.2 474.0,543.7 474.6,510.8 475.2,509.0 475.8,465.3 476.5,480.7 477.1,525.1 477.7,557.1 478.3,559.2 479.0,559.2 479.6,524.0 480.2,522.3 480.8,513.8 481.4,479.8 482.1,495.7 482.7,499.4 483.3,506.3 483.9,528.4 484.5,581.9 485.2,592.2 485.8,621.8 486.4,589.5 487.0,544.8 487.7,507.7 488.3,477.2 488.9,477.2 489.5,499.0 490.1,514.9 490.8,541.2 491.4,593.4 492.0,594.5 492.6,594.5 493.2,634.6 493.9,634.6 494.5,601.5 495.1,615.0 495.7,580.9 496.4,592.0 497.0,573.6 497.6,553.5 498.2,589.5 498.8,620.3 499.5,638.6 500.1,669.4 500.7,669.9 501.3,686.7 501.9,671.8 502.6,686.7 503.2,647.9 503.8,654.4 504.4,629.9 505.1,620.1 505.7,607.7 506.3,607.7 506.9,654.7 507.5,659.6 508.2,639.6 508.8,667.2 509.4,658.1 510.0,687.6 510.6,664.5 511.3,602.9 511.9,598.7 512.5,584.6 513.1,516.0 513.8,541.6 514.4,517.7 515.0,519.2 515.6,541.6 516.2,541.6 516.9,523.9 517.5,541.6 518.1,541.6 518.7,523.9 519.3,548.1 520.0,590.5 520.6,617.5 521.2,671.7 521.8,703.4 522.5,703.4 523.1,682.0 523.7,654.0 524.3,653.9 524.9,628.1 525.6,630.3 526.2,611.7 526.8,628.3 527.4,645.2 528.0,646.3 528.7,666.0 529.3,655.2 529.9,695.0 530.5,672.0 531.2,658.5 531.8,616.0 532.4,594.5 533.0,569.6 533.6,527.5 534.3,484.3 534.9,458.2 535.5,490.0 536.1,496.1 536.7,538.8 537.4,563.4 538.0,580.6 538.6,627.1 539.2,618.5 539.9,607.5 540.5,581.3 541.1,574.1 541.7,587.6 542.3,536.7 543.0,536.7 543.6,575.3 544.2,639.9 544.8,672.1 545.5,672.1 546.1,664.9 546.7,672.1 547.3,654.4 547.9,647.4 548.6,668.4 549.2,673.6 549.8,694.3 550.4,695.1 551.0,732.2 551.7,738.3 552.3,714.7 552.9,683.2 553.5,652.1 554.2,637.7 554.8,637.7 555.4,661.8 556.0,665.9 556.6,708.3 557.3,738.0 557.9,746.0 558.5,774.9 559.1,750.8 559.7,743.9 560.4,705.3 561.0,702.2 561.6,704.2 562.2,666.8 562.9,660.6 563.5,682.5 564.1,692.4 564.7,693.7 565.3,644.6 566.0,641.5 566.6,639.1 567.2,572.0 567.8,591.7 568.4,600.2 569.1,637.0 569.7,652.1 570.3,682.7 570.9,734.6 571.6,731.0 572.2,767.8 572.8,806.6 573.4,826.0 574.0,825.7 574.7,806.4 575.3,788.5 575.9,770.9 576.5,777.6 577.1,770.9 577.8,747.9 578.4,690.6 579.0,632.9 579.6,673.3 580.3,674.6 580.9,704.8 581.5,662.3 582.1,621.2 582.7,576.4 583.4,624.6 584.0,660.3 584.6,679.2 585.2,704.8 585.8,704.8 586.5,724.6 587.1,751.1 587.7,751.1 588.3,651.7 589.0,664.2 589.6,625.4 590.2,565.8 590.8,571.1 591.4,595.6 592.1,631.2 592.7,638.6 593.3,646.5 593.9,677.6 594.5,703.0 595.2,647.8 595.8,604.8 596.4,553.0 597.0,565.9 597.7,570.9 598.3,597.6 598.9,607.7 599.5,607.7 600.1,604.9 600.8,558.2 601.4,539.4 602.0,557.2 602.6,582.6 603.2,577.8 603.9,646.6 604.5,663.3 605.1,649.1 605.7,620.3 606.4,575.8 607.0,529.2 607.6,541.2 608.2,552.1 608.8,613.8 609.5,620.5 610.1,551.5 610.7,554.9 611.3,556.7 612.0,498.4 612.6,525.2 613.2,570.7 613.8,570.7 614.4,553.3 615.1,542.3 615.7,506.3 616.3,474.7 616.9,477.9 617.5,447.0 618.2,440.8 618.8,416.8 619.4,456.6 620.0,481.2 620.7,528.4 621.3,581.0 621.9,562.0 622.5,602.4 623.1,570.0 623.8,501.0 624.4,483.8 625.0,520.6 625.6,543.8 626.2,522.2 626.9,559.5 627.5,572.5 628.1,526.6 628.7,517.5 629.4,497.3 630.0,459.6 630.6,527.7 631.2,535.8 631.8,545.7 632.5,579.6 633.1,594.5 633.7,634.4 634.3,656.1 634.9,672.5 635.6,699.5 636.2,696.4 636.8,699.5 637.4,682.7 638.1,615.2 638.7,553.0 639.3,478.5 639.9,478.5 640.5,516.8 641.2,528.3 641.8,585.7 642.4,585.7 643.0,568.8 643.6,583.2 644.3,525.0 644.9,543.8 645.5,522.6 646.1,577.3 646.8,596.3 647.4,632.2 648.0,706.5 648.6,706.5 649.2,658.4 649.9,613.3 650.5,602.2 651.1,581.3 651.7,616.0 652.3,694.5 653.0,690.5 653.6,730.0 654.2,740.9 654.8,724.0 655.5,696.9 656.1,652.3 656.7,636.6 657.3,582.2 657.9,618.5 658.6,638.8 659.2,669.0 659.8,682.7 660.4,694.3 661.0,694.4 661.7,704.9 662.3,725.5 662.9,700.6 663.5,679.8 664.2,656.2 664.8,643.0 665.4,616.5 666.0,627.4 666.6,625.6 667.3,691.9 667.9,705.6 668.5,678.3 669.1,610.3 669.8,565.4 670.4,505.5 671.0,514.7 671.6,430.6 672.2,374.0 672.9,413.6 673.5,458.8 674.1,493.3 674.7,508.7 675.3,525.7 676.0,581.3 676.6,545.4 677.2,503.6 677.8,476.2 678.5,431.3 679.1,472.9 679.7,501.1 680.3,509.8 680.9,538.9 681.6,588.5 682.2,637.4 682.8,657.5 683.4,686.7 684.0,626.9 684.7,590.7 685.3,559.3 685.9,504.0 686.5,482.3 687.2,431.8 687.8,454.8 688.4,524.3 689.0,532.7 689.6,587.6 690.3,588.9 690.9,634.2 691.5,614.7 692.1,575.4 692.7,577.1 693.4,560.0 694.0,538.5 694.6,511.5 695.2,494.0 695.9,473.7 696.5,513.4 697.1,516.3 697.7,536.6 698.3,584.2 699.0,594.5 699.6,602.3 700.2,611.0 700.8,646.1 701.4,678.6 702.1,669.7 702.7,686.7 703.3,686.7 703.9,659.3 704.6,662.2 705.2,661.2 705.8,638.6 706.4,681.1 707.0,679.0 707.7,685.9 708.3,726.0 708.9,764.8 709.5,783.7 710.1,783.7 710.8,768.5 711.4,687.4 712.0,688.0 712.6,672.3 713.3,626.3 713.9,666.2 714.5,680.2 715.1,720.1 715.7,699.7 716.4,762.4 717.0,772.7 717.6,741.4 718.2,700.5 718.8,682.7 719.5,682.7 720.1,697.6 720.7,714.0 721.3,737.4 722.0,721.0 722.6,717.8 723.2,701.0 723.8,660.6 724.4,697.4 725.1,676.0 725.7,721.1 726.3,711.7 726.9,662.3 727.5,626.7 728.2,572.5 728.8,531.5 729.4,535.2 730.0,508.5 730.7,433.5 731.3,446.8 731.9,458.9 732.5,471.9 733.1,498.9 733.8,501.1 734.4,528.4 735.0,531.6 735.6,546.9 736.3,546.9 736.9,534.2 737.5,546.9 738.1,602.8 738.7,612.7 739.4,613.4 740.0,623.9 740.6,659.3 741.2,635.5 741.8,631.5 742.5,559.7 743.1,559.7 743.7,562.1 744.3,585.6 745.0,601.2 745.6,626.7 746.2,572.0 746.8,506.3 747.4,515.0 748.1,541.6 748.7,531.3 749.3,467.9 749.9,467.9 750.5,476.7 751.2,513.0 751.8,528.4 752.4,464.5 753.0,419.9 753.7,366.1 754.3,378.3 754.9,396.6 755.5,435.5 756.1,472.7 756.8,470.1 757.4,486.7 758.0,528.4 758.6,516.1 759.2,489.5 759.9,502.4 760.5,475.3 761.1,488.6 761.7,467.1 762.4,495.4 763.0,540.6 763.6,558.1 764.2,634.6 764.8,618.5 765.5,618.2 766.1,611.3 766.7,591.7 767.3,538.1 767.9,564.7 768.6,544.3 769.2,554.9 769.8,596.4 770.4,581.6 771.1,618.8 771.7,620.1 772.3,652.7 772.9,608.2 773.5,607.7 774.2,553.7 774.8,540.5 775.4,505.6 776.0,479.8 776.6,491.1 777.3,506.4 777.9,515.1 778.5,482.8 779.1,499.1 779.8,451.7 780.4,450.7 781.0,530.8 781.6,560.6 782.2,634.4 782.9,639.1 783.5,725.0 784.1,711.1 784.7,668.3 785.3,665.9 786.0,631.3 786.6,633.6 787.2,603.1 787.8,572.5 788.5,551.8 789.1,510.2 789.7,500.1 790.3,467.4 790.9,474.4 791.6,449.6 792.2,420.6 792.8,391.2 793.4,400.3 794.1,420.5 794.7,425.1 795.3,451.4 795.9,460.9 796.5,505.5 797.2,589.3 797.8,610.4 798.4,553.9 799.0,555.3 799.6,524.2 800.3,522.6 800.9,461.2 801.5,504.3 802.1,465.3 802.8,424.3 803.4,424.3 804.0,462.2 804.6,457.8 805.2,456.9 805.9,414.1 806.5,428.5 807.1,467.2 807.7,505.8 808.3,526.1 809.0,528.4 809.6,546.4 810.2,568.1 810.8,583.5 811.5,583.1 812.1,532.2 812.7,506.3 813.3,498.7 813.9,483.7 814.6,492.9 815.2,489.9 815.8,467.1 816.4,484.8 817.0,520.0 817.7,550.4 818.3,550.4 818.9,587.1 819.5,626.8 820.2,702.5 820.8,684.0 821.4,643.6 822.0,586.6 822.6,580.4 823.3,522.6 823.9,541.6 824.5,529.9 825.1,541.6 825.7,523.8 826.4,520.6 827.0,499.7 827.6,479.8 828.2,489.1 828.9,559.3 829.5,544.0 830.1,594.5 830.7,622.9 831.3,632.1 832.0,686.3 832.6,731.2 833.2,704.3 833.8,664.2 834.4,587.5 835.1,581.3 835.7,599.2 836.3,614.6 836.9,655.0 837.6,680.9 838.2,680.9 838.8,597.1 839.4,601.8 840.0,506.3 840.7,506.3 841.3,452.3 841.9,407.5 842.5,389.4 843.1,413.3 843.8,403.3 844.4,442.0 845.0,476.5 845.6,492.2 846.3,492.2 846.9,517.8 847.5,581.6 848.1,594.2 848.7,654.5 849.4,654.0 850.0,640.1 850.6,616.5 851.2,624.8 851.9,638.3 852.5,678.3 853.1,678.3 853.7,678.3 854.3,678.3 855.0,641.5 855.6,608.1 856.2,594.5 856.8,587.5 857.4,587.1 858.1,518.6 858.7,533.7 859.3,513.8 859.9,540.5 860.6,558.5 861.2,539.2 861.8,581.3 862.4,577.9 863.0,556.6 863.7,561.4 864.3,627.0 864.9,640.5 865.5,676.1 866.1,641.4 866.8,632.8 867.4,583.3 868.0,559.7 868.6,578.7 869.3,618.5 869.9,650.7 870.5,654.2 871.1,687.7 871.7,708.3 872.4,687.7 873.0,691.5 873.6,637.5 874.2,626.7 874.8,603.3 875.5,611.3 876.1,620.2 876.7,653.2 877.3,686.7 878.0,675.2 878.6,713.6 879.2,709.1 879.8,705.8 880.4,665.2 881.1,665.2 881.7,640.8 882.3,616.5 882.9,604.8 883.5,578.5 884.2,578.4 884.8,578.2 885.4,557.5 886.0,573.0 886.7,566.4 887.3,587.2 887.9,605.0 888.5,596.8 889.1,619.5 889.8,634.6 890.4,634.6 891.0,597.0 891.6,582.7 892.2,568.3 892.9,558.4 893.5,542.5 894.1,556.5 894.7,556.6 895.4,569.3 896.0,572.5 896.6,560.8 897.2,533.6 897.8,520.5 898.5,508.5 899.1,539.0 899.7,583.4 900.3,638.6 900.9,691.8 901.6,741.8 902.2,796.5 902.8,780.5 903.4,796.5 904.1,787.5 904.7,781.5 905.3,770.9 905.9,764.5 906.5,755.5 907.2,751.9 907.8,697.5 908.4,643.0 909.0,653.4 909.6,668.4 910.3,687.0 910.9,690.7 911.5,683.2 912.1,718.0 912.8,718.0 913.4,645.3 914.0,623.7 914.6,601.3 915.2,546.0 915.9,516.0 916.5,541.9 917.1,545.7 917.7,568.1 918.4,651.3 919.0,641.7 919.6,684.9 920.2,682.0 920.8,655.8 921.5,622.9 922.1,640.0 922.7,616.5 923.3,632.7 923.9,679.7 924.6,662.9 925.2,689.2 925.8,704.3 926.4,649.6 927.1,649.3 927.7,643.5 928.3,608.8 928.9,590.5 929.5,569.4 930.2,622.9 930.8,653.6 931.4,702.1 932.0,696.0 932.6,754.6 933.3,746.8 933.9,718.0 934.5,685.6 935.1,638.6 935.8,649.6 936.4,660.7 937.0,639.9 937.6,666.8 938.2,591.1 938.9,522.0 939.5,429.0 940.1,371.8 940.7,392.5 941.3,415.9 942.0,449.0 942.6,498.5 943.2,515.1" fill="none" stroke="#999999" stroke-width="6" stroke-linejoin="round" stroke-linecap="round"/>
<path d="M168.2 594.5H1517.5" stroke="#1f85ec" stroke-width="5.6" stroke-linecap="round" fill="none"/>
<path d="M168.2 594.5H1517.5" stroke="#2a78c8" stroke-width="1" fill="none"/>
<path d="M242.78 366.40v-15.5M242.78 850.60v15.5M317.36 366.40v-15.5M317.36 850.60v15.5M391.94 366.40v-15.5M391.94 850.60v15.5M541.10 366.40v-15.5M541.10 850.60v15.5M615.68 366.40v-15.5M615.68 850.60v15.5M690.26 366.40v-15.5M690.26 850.60v15.5M839.42 366.40v-15.5M839.42 850.60v15.5M914.00 366.40v-15.5M914.00 850.60v15.5M988.58 366.40v-15.5M988.58 850.60v15.5M1137.74 366.40v-15.5M1137.74 850.60v15.5M1212.32 366.40v-15.5M1212.32 850.60v15.5M1286.90 366.40v-15.5M1286.90 850.60v15.5M1436.06 366.40v-15.5M1436.06 850.60v15.5M1510.64 366.40v-15.5M1510.64 850.60v15.5M164.60 837.05h-15.5M1521.20 837.05h15.5M164.60 815.00h-15.5M1521.20 815.00h15.5M164.60 792.95h-15.5M1521.20 792.95h15.5M164.60 748.85h-15.5M1521.20 748.85h15.5M164.60 726.80h-15.5M1521.20 726.80h15.5M164.60 704.75h-15.5M1521.20 704.75h15.5M164.60 660.65h-15.5M1521.20 660.65h15.5M164.60 638.60h-15.5M1521.20 638.60h15.5M164.60 616.55h-15.5M1521.20 616.55h15.5M164.60 572.45h-15.5M1521.20 572.45h15.5M164.60 550.40h-15.5M1521.20 550.40h15.5M164.60 528.35h-15.5M1521.20 528.35h15.5M164.60 484.25h-15.5M1521.20 484.25h15.5M164.60 462.20h-15.5M1521.20 462.20h15.5M164.60 440.15h-15.5M1521.20 440.15h15.5M164.60 396.05h-15.5M1521.20 396.05h15.5M164.60 374.00h-15.5M1521.20 374.00h15.5" stroke="#909090" stroke-width="1.2" fill="none"/>
<path d="M168.20 366.40v-31M168.20 850.60v31M466.52 366.40v-31M466.52 850.60v31M764.84 366.40v-31M764.84 850.60v31M1063.16 366.40v-31M1063.16 850.60v31M1361.48 366.40v-31M1361.48 850.60v31M164.60 770.90h-31M1521.20 770.90h31M164.60 682.70h-31M1521.20 682.70h31M164.60 594.50h-31M1521.20 594.50h31M164.60 506.30h-31M1521.20 506.30h31M164.60 418.10h-31M1521.20 418.10h31" stroke="#3c3c3c" stroke-width="1.4" fill="none"/>
<rect x="164.60" y="366.40" width="1356.60" height="484.20" fill="none" stroke="#505050" stroke-width="1.3"/>
<text transform="translate(106.60 432.00) scale(1 1.025)" font-size="40.1" text-anchor="end">0.40</text>
<text transform="translate(106.60 520.20) scale(1 1.025)" font-size="40.1" text-anchor="end">0.20</text>
<text transform="translate(106.60 608.40) scale(1 1.025)" font-size="40.1" text-anchor="end">0.00</text>
<text transform="translate(106.60 696.60) scale(1 1.025)" font-size="40.1" text-anchor="end">-0.20</text>
<text transform="translate(106.60 784.80) scale(1 1.025)" font-size="40.1" text-anchor="end">-0.40</text>
<text transform="translate(167.90 939.30) scale(1 1.025)" font-size="40.0" text-anchor="middle">1920</text>
<text transform="translate(466.22 939.30) scale(1 1.025)" font-size="40.0" text-anchor="middle">1960</text>
<text transform="translate(764.54 939.30) scale(1 1.025)" font-size="40.0" text-anchor="middle">2000</text>
<text transform="translate(1062.86 939.30) scale(1 1.025)" font-size="40.0" text-anchor="middle">2040</text>
<text transform="translate(1361.18 939.30) scale(1 1.025)" font-size="40.0" text-anchor="middle">2080</text>
<text transform="translate(843.40 1016.20) scale(1 1.06)" font-size="53.0" text-anchor="middle">Time</text>
<text transform="translate(162.20 313.80) scale(1 1.055)" font-size="46.5" fill="#00688b">CESM1-HR (10 Members)</text>
<text transform="translate(1506.20 315.80) scale(1 1.02)" font-size="36.0" text-anchor="end">-0.14/-0/0.12 C 181yr</text>
<text transform="translate(1506.60 298.00) scale(1 1.1)" font-size="19.5">-1</text>
<text transform="translate(195.10 820.10) scale(1 1.02)" font-size="36.6">60%</text>
</g>
<g id="panel2">
<clipPath id="cp1"><rect x="1851.8" y="366.4" width="1356.6" height="484.2"/></clipPath>
<g clip-path="url(#cp1)">
<polygon points="1855.4,577.4 1856.0,550.4 1856.6,530.9 1857.3,556.9 1857.9,563.1 1858.5,569.0 1859.1,556.9 1859.8,538.1 1860.4,540.5 1861.0,554.2 1861.6,537.1 1862.2,497.6 1862.9,527.5 1863.5,518.9 1864.1,526.9 1864.7,561.1 1865.3,572.5 1866.0,548.8 1866.6,563.4 1867.2,533.9 1867.8,561.4 1868.5,572.3 1869.1,543.0 1869.7,534.9 1870.3,525.3 1870.9,542.7 1871.6,546.8 1872.2,534.2 1872.8,544.4 1873.4,560.6 1874.0,570.1 1874.7,567.9 1875.3,583.1 1875.9,555.9 1876.5,558.5 1877.2,570.4 1877.8,558.2 1878.4,562.9 1879.0,544.7 1879.6,564.7 1880.3,553.0 1880.9,562.9 1881.5,557.4 1882.1,544.4 1882.7,579.9 1883.4,540.1 1884.0,557.6 1884.6,535.5 1885.2,554.6 1885.9,535.9 1886.5,552.8 1887.1,560.1 1887.7,550.4 1888.3,524.4 1889.0,543.9 1889.6,541.5 1890.2,549.5 1890.8,549.2 1891.4,551.9 1892.1,549.6 1892.7,556.9 1893.3,559.3 1893.9,541.9 1894.6,556.5 1895.2,540.8 1895.8,555.4 1896.4,527.2 1897.0,548.3 1897.7,548.5 1898.3,560.1 1898.9,557.3 1899.5,575.8 1900.1,550.8 1900.8,561.6 1901.4,574.0 1902.0,567.4 1902.6,551.3 1903.3,551.5 1903.9,550.8 1904.5,557.3 1905.1,556.1 1905.7,551.6 1906.4,546.9 1907.0,513.7 1907.6,543.1 1908.2,546.0 1908.8,517.1 1909.5,498.7 1910.1,540.4 1910.7,515.3 1911.3,515.9 1912.0,493.7 1912.6,505.9 1913.2,537.4 1913.8,560.9 1914.4,565.1 1915.1,544.3 1915.7,545.9 1916.3,557.5 1916.9,528.5 1917.5,528.5 1918.2,521.9 1918.8,533.5 1919.4,561.1 1920.0,546.0 1920.7,528.4 1921.3,507.0 1921.9,518.5 1922.5,525.8 1923.1,535.7 1923.8,502.2 1924.4,547.2 1925.0,540.0 1925.6,561.5 1926.3,576.2 1926.9,550.9 1927.5,551.9 1928.1,557.4 1928.7,562.4 1929.4,535.2 1930.0,540.7 1930.6,530.4 1931.2,549.3 1931.8,550.5 1932.5,543.3 1933.1,545.7 1933.7,548.4 1934.3,532.1 1935.0,545.4 1935.6,534.3 1936.2,556.7 1936.8,534.9 1937.4,543.3 1938.1,560.0 1938.7,528.6 1939.3,541.5 1939.9,523.1 1940.5,563.8 1941.2,541.6 1941.8,565.6 1942.4,552.0 1943.0,554.2 1943.7,578.4 1944.3,582.4 1944.9,564.0 1945.5,540.3 1946.1,549.1 1946.8,551.5 1947.4,564.3 1948.0,548.2 1948.6,561.9 1949.2,546.3 1949.9,523.8 1950.5,548.8 1951.1,538.5 1951.7,519.6 1952.4,551.0 1953.0,543.8 1953.6,546.9 1954.2,557.0 1954.8,534.4 1955.5,567.2 1956.1,548.4 1956.7,538.6 1957.3,538.5 1957.9,554.9 1958.6,544.8 1959.2,554.4 1959.8,556.2 1960.4,532.8 1961.1,566.5 1961.7,569.6 1962.3,562.1 1962.9,561.9 1963.5,546.0 1964.2,546.0 1964.8,545.9 1965.4,554.8 1966.0,546.3 1966.6,569.1 1967.3,535.8 1967.9,525.5 1968.5,520.5 1969.1,508.5 1969.8,537.1 1970.4,550.0 1971.0,532.7 1971.6,532.0 1972.2,523.9 1972.9,515.7 1973.5,513.5 1974.1,522.5 1974.7,527.2 1975.3,545.7 1976.0,541.4 1976.6,567.8 1977.2,555.5 1977.8,536.5 1978.5,512.5 1979.1,547.0 1979.7,569.3 1980.3,564.4 1980.9,556.3 1981.6,520.1 1982.2,532.3 1982.8,554.0 1983.4,566.5 1984.1,545.6 1984.7,498.9 1985.3,533.1 1985.9,546.2 1986.5,579.5 1987.2,570.1 1987.8,566.4 1988.4,548.9 1989.0,560.7 1989.6,564.1 1990.3,561.6 1990.9,563.8 1991.5,559.0 1992.1,542.7 1992.8,535.4 1993.4,525.5 1994.0,491.1 1994.6,543.0 1995.2,517.1 1995.9,557.3 1996.5,550.9 1997.1,553.9 1997.7,564.5 1998.3,565.1 1999.0,570.1 1999.6,584.0 2000.2,568.8 2000.8,568.2 2001.5,567.8 2002.1,545.9 2002.7,538.3 2003.3,518.4 2003.9,544.3 2004.6,538.1 2005.2,542.7 2005.8,549.0 2006.4,558.1 2007.0,554.1 2007.7,561.9 2008.3,567.5 2008.9,570.9 2009.5,542.2 2010.2,565.5 2010.8,577.8 2011.4,551.4 2012.0,580.3 2012.6,544.1 2013.3,553.4 2013.9,525.3 2014.5,539.3 2015.1,539.0 2015.7,558.8 2016.4,547.5 2017.0,560.5 2017.6,563.3 2018.2,547.9 2018.9,532.4 2019.5,516.4 2020.1,527.9 2020.7,521.1 2021.3,531.5 2022.0,492.8 2022.6,543.6 2023.2,558.4 2023.8,532.6 2024.4,564.9 2025.1,542.4 2025.7,560.9 2026.3,561.8 2026.9,560.4 2027.6,526.6 2028.2,509.1 2028.8,551.6 2029.4,532.6 2030.0,515.8 2030.7,507.3 2031.3,545.4 2031.9,542.2 2032.5,550.5 2033.1,554.9 2033.8,539.0 2034.4,532.0 2035.0,571.6 2035.6,532.3 2036.3,565.8 2036.9,549.0 2037.5,544.2 2038.1,548.6 2038.7,576.4 2039.4,576.1 2040.0,532.1 2040.6,546.5 2041.2,547.8 2041.8,542.7 2042.5,528.4 2043.1,534.6 2043.7,546.6 2044.3,539.3 2045.0,526.8 2045.6,528.0 2046.2,523.8 2046.8,537.4 2047.4,550.7 2048.1,536.7 2048.7,517.3 2049.3,548.1 2049.9,529.0 2050.6,535.1 2051.2,551.4 2051.8,544.6 2052.4,558.6 2053.0,556.2 2053.7,528.2 2054.3,533.0 2054.9,557.4 2055.5,570.1 2056.1,542.8 2056.8,543.7 2057.4,525.1 2058.0,528.3 2058.6,524.7 2059.3,515.2 2059.9,541.4 2060.5,540.5 2061.1,537.6 2061.7,527.5 2062.4,543.2 2063.0,533.4 2063.6,525.4 2064.2,550.2 2064.8,547.5 2065.5,536.4 2066.1,526.2 2066.7,532.7 2067.3,553.7 2068.0,542.5 2068.6,530.4 2069.2,560.5 2069.8,502.3 2070.4,527.7 2071.1,547.5 2071.7,552.6 2072.3,511.9 2072.9,518.5 2073.5,514.4 2074.2,515.8 2074.8,520.1 2075.4,518.4 2076.0,497.8 2076.7,522.6 2077.3,529.5 2077.9,542.5 2078.5,543.4 2079.1,552.0 2079.8,537.0 2080.4,531.7 2081.0,523.8 2081.6,560.2 2082.2,558.8 2082.9,551.4 2083.5,549.7 2084.1,533.3 2084.7,543.5 2085.4,566.5 2086.0,558.5 2086.6,550.9 2087.2,540.1 2087.8,535.5 2088.5,552.5 2089.1,517.6 2089.7,554.7 2090.3,546.4 2090.9,529.7 2091.6,521.7 2092.2,533.3 2092.8,545.3 2093.4,547.8 2094.1,550.9 2094.7,561.8 2095.3,566.6 2095.9,543.6 2096.5,532.4 2097.2,539.8 2097.8,539.5 2098.4,521.9 2099.0,503.1 2099.6,516.2 2100.3,517.6 2100.9,501.3 2101.5,494.4 2102.1,526.2 2102.8,525.2 2103.4,512.4 2104.0,525.7 2104.6,517.9 2105.2,514.2 2105.9,528.0 2106.5,533.5 2107.1,525.0 2107.7,550.2 2108.4,529.0 2109.0,524.6 2109.6,517.2 2110.2,545.1 2110.8,499.2 2111.5,518.0 2112.1,543.7 2112.7,505.5 2113.3,508.9 2113.9,514.8 2114.6,534.1 2115.2,536.9 2115.8,528.3 2116.4,545.7 2117.1,527.6 2117.7,542.0 2118.3,528.5 2118.9,542.9 2119.5,538.8 2120.2,537.3 2120.8,533.1 2121.4,529.9 2122.0,529.7 2122.6,512.1 2123.3,505.8 2123.9,518.0 2124.5,504.4 2125.1,525.4 2125.8,519.9 2126.4,506.9 2127.0,527.9 2127.6,532.2 2128.2,564.8 2128.9,531.2 2129.5,556.6 2130.1,511.7 2130.7,515.7 2131.3,513.6 2132.0,538.9 2132.6,558.6 2133.2,518.7 2133.8,517.4 2134.5,534.1 2135.1,544.9 2135.7,549.9 2136.3,551.4 2136.9,548.5 2137.6,559.2 2138.2,544.1 2138.8,552.1 2139.4,570.7 2140.0,546.7 2140.7,536.7 2141.3,517.9 2141.9,527.7 2142.5,547.5 2143.2,533.9 2143.8,547.0 2144.4,520.6 2145.0,516.0 2145.6,546.2 2146.3,524.2 2146.9,498.0 2147.5,532.6 2148.1,495.7 2148.7,524.9 2149.4,529.6 2150.0,527.7 2150.6,533.7 2151.2,533.0 2151.9,544.2 2152.5,542.9 2153.1,519.2 2153.7,487.6 2154.3,536.0 2155.0,566.1 2155.6,532.9 2156.2,522.2 2156.8,507.8 2157.4,528.9 2158.1,526.6 2158.7,553.4 2159.3,541.2 2159.9,556.1 2160.6,537.6 2161.2,540.8 2161.8,534.6 2162.4,492.9 2163.0,550.8 2163.7,544.0 2164.3,546.4 2164.9,554.4 2165.5,544.4 2166.2,530.4 2166.8,524.9 2167.4,545.5 2168.0,540.8 2168.6,534.0 2169.3,547.1 2169.9,536.7 2170.5,549.7 2171.1,543.1 2171.7,553.9 2172.4,549.2 2173.0,508.6 2173.6,528.2 2174.2,534.9 2174.9,560.4 2175.5,541.5 2176.1,533.0 2176.7,549.0 2177.3,540.5 2178.0,514.4 2178.6,539.8 2179.2,557.6 2179.8,519.9 2180.4,524.2 2181.1,541.3 2181.7,509.8 2182.3,497.9 2182.9,529.3 2183.6,540.8 2184.2,510.9 2184.8,553.3 2185.4,531.7 2186.0,535.8 2186.7,555.9 2187.3,541.1 2187.9,545.9 2188.5,536.7 2189.1,548.9 2189.8,524.4 2190.4,524.7 2191.0,500.4 2191.6,519.3 2192.3,530.3 2192.9,520.6 2193.5,527.2 2194.1,537.3 2194.7,531.2 2195.4,523.6 2196.0,513.1 2196.6,498.5 2197.2,523.1 2197.8,520.6 2198.5,544.7 2199.1,558.5 2199.7,558.7 2200.3,565.0 2201.0,562.9 2201.6,558.2 2202.2,531.2 2202.8,538.5 2203.4,572.2 2204.1,568.7 2204.7,567.4 2205.3,549.1 2205.9,545.6 2206.5,561.4 2207.2,561.2 2207.8,565.2 2208.4,540.2 2209.0,556.9 2209.7,536.2 2210.3,519.5 2210.9,489.4 2211.5,553.4 2212.1,513.8 2212.8,540.4 2213.4,556.9 2214.0,541.6 2214.6,563.7 2215.2,548.3 2215.9,546.0 2216.5,559.9 2217.1,551.8 2217.7,559.6 2218.4,554.8 2219.0,558.8 2219.6,523.3 2220.2,525.5 2220.8,545.7 2221.5,557.5 2222.1,525.8 2222.7,498.9 2223.3,547.7 2223.9,532.1 2224.6,523.7 2225.2,527.3 2225.8,541.4 2226.4,537.8 2227.1,549.4 2227.7,530.3 2228.3,541.1 2228.9,510.8 2229.5,494.9 2230.2,527.8 2230.8,539.8 2231.4,538.4 2232.0,551.9 2232.7,514.1 2233.3,552.9 2233.9,565.3 2234.5,529.6 2235.1,514.8 2235.8,536.7 2236.4,524.6 2237.0,516.1 2237.6,531.5 2238.2,527.8 2238.9,529.8 2239.5,551.3 2240.1,542.3 2240.7,557.5 2241.4,528.1 2242.0,561.0 2242.6,552.2 2243.2,567.4 2243.8,542.5 2244.5,531.7 2245.1,544.5 2245.7,555.1 2246.3,557.7 2246.9,535.5 2247.6,549.9 2248.2,575.9 2248.8,573.4 2249.4,545.0 2250.1,546.8 2250.7,529.2 2251.3,551.0 2251.9,549.4 2252.5,558.0 2253.2,562.2 2253.8,554.2 2254.4,563.0 2255.0,572.0 2255.6,560.2 2256.3,549.3 2256.9,565.6 2257.5,556.1 2258.1,558.1 2258.8,525.7 2259.4,562.0 2260.0,556.2 2260.6,561.2 2261.2,535.3 2261.9,530.1 2262.5,571.7 2263.1,554.8 2263.7,552.1 2264.3,529.5 2265.0,557.8 2265.6,545.3 2266.2,534.7 2266.8,534.7 2267.5,550.2 2268.1,499.3 2268.7,564.8 2269.3,538.4 2269.9,531.1 2270.6,527.4 2271.2,531.6 2271.8,543.7 2272.4,510.8 2273.0,515.3 2273.7,562.0 2274.3,548.8 2274.9,573.1 2275.5,544.1 2276.2,532.4 2276.8,569.9 2277.4,541.2 2278.0,548.2 2278.6,543.3 2279.3,561.3 2279.9,556.1 2280.5,545.3 2281.1,515.8 2281.7,537.1 2282.4,549.1 2283.0,525.4 2283.6,535.6 2284.2,540.5 2284.9,556.8 2285.5,564.1 2286.1,573.8 2286.7,578.3 2287.3,535.5 2288.0,535.1 2288.6,559.0 2289.2,557.5 2289.8,541.2 2290.4,545.6 2291.1,529.9 2291.7,536.3 2292.3,513.4 2292.9,484.6 2293.6,498.6 2294.2,551.9 2294.8,528.9 2295.4,523.8 2296.0,519.9 2296.7,545.5 2297.3,552.5 2297.9,548.9 2298.5,515.3 2299.2,518.1 2299.8,514.1 2300.4,492.5 2301.0,504.8 2301.6,477.0 2302.3,489.4 2302.9,517.9 2303.5,501.2 2304.1,523.5 2304.7,517.9 2305.4,512.5 2306.0,520.3 2306.6,558.9 2307.2,552.0 2307.9,558.8 2308.5,545.5 2309.1,548.4 2309.7,524.0 2310.3,508.8 2311.0,506.4 2311.6,539.5 2312.2,523.9 2312.8,545.8 2313.4,498.2 2314.1,513.6 2314.7,554.0 2315.3,543.1 2315.9,556.8 2316.6,574.1 2317.2,550.5 2317.8,563.3 2318.4,524.3 2319.0,554.1 2319.7,542.3 2320.3,566.2 2320.9,517.6 2321.5,510.3 2322.1,536.6 2322.8,533.4 2323.4,537.9 2324.0,532.7 2324.6,525.5 2325.3,496.8 2325.9,515.6 2326.5,515.7 2327.1,503.9 2327.7,483.6 2328.4,513.0 2329.0,520.5 2329.6,513.3 2330.2,550.5 2330.8,544.4 2331.5,546.2 2332.1,551.1 2332.7,523.2 2333.3,552.4 2334.0,504.6 2334.6,561.5 2335.2,543.1 2335.8,557.0 2336.4,557.1 2337.1,527.9 2337.7,556.0 2338.3,553.5 2338.9,553.0 2339.5,570.7 2340.2,571.5 2340.8,540.8 2341.4,572.5 2342.0,548.4 2342.7,580.9 2343.3,559.7 2343.9,557.7 2344.5,549.5 2345.1,539.6 2345.8,534.7 2346.4,550.7 2347.0,532.7 2347.6,525.7 2348.2,515.3 2348.9,540.8 2349.5,539.2 2350.1,563.3 2350.7,564.6 2351.4,552.7 2352.0,566.9 2352.6,544.7 2353.2,572.8 2353.8,521.0 2354.5,505.1 2355.1,508.1 2355.7,530.6 2356.3,548.3 2357.0,526.4 2357.6,519.8 2358.2,547.0 2358.8,548.8 2359.4,575.6 2360.1,560.5 2360.7,555.5 2361.3,547.3 2361.9,571.6 2362.5,556.2 2363.2,511.0 2363.8,539.1 2364.4,541.6 2365.0,538.2 2365.7,559.7 2366.3,558.0 2366.9,559.7 2367.5,572.7 2368.1,533.0 2368.8,558.2 2369.4,561.4 2370.0,517.5 2370.6,512.1 2371.2,481.3 2371.9,526.6 2372.5,547.1 2373.1,523.7 2373.7,525.8 2374.4,581.7 2375.0,561.5 2375.6,561.4 2376.2,554.7 2376.8,520.7 2377.5,523.1 2378.1,544.5 2378.7,531.5 2379.3,552.1 2379.9,552.7 2380.6,572.9 2381.2,546.9 2381.8,534.6 2382.4,560.9 2383.1,515.9 2383.7,521.3 2384.3,501.1 2384.9,514.5 2385.5,525.3 2386.2,527.9 2386.8,544.3 2387.4,553.8 2388.0,541.7 2388.6,511.8 2389.3,516.5 2389.9,508.0 2390.5,495.6 2391.1,491.6 2391.8,509.9 2392.4,498.7 2393.0,505.5 2393.6,560.2 2394.2,583.2 2394.9,545.6 2395.5,525.5 2396.1,533.4 2396.7,565.0 2397.3,543.2 2398.0,538.8 2398.6,559.6 2399.2,544.9 2399.8,536.3 2400.5,518.6 2401.1,493.9 2401.7,536.8 2402.3,503.1 2402.9,532.2 2403.6,489.7 2404.2,496.2 2404.8,528.3 2405.4,497.1 2406.0,520.7 2406.7,493.4 2407.3,497.2 2407.9,492.9 2408.5,526.4 2409.2,508.0 2409.8,522.2 2410.4,551.4 2411.0,530.5 2411.6,505.5 2412.3,534.7 2412.9,532.0 2413.5,500.8 2414.1,523.1 2414.8,545.5 2415.4,565.3 2416.0,536.4 2416.6,526.4 2417.2,563.3 2417.9,576.1 2418.5,536.9 2419.1,530.6 2419.7,550.3 2420.3,528.4 2421.0,535.4 2421.6,565.2 2422.2,540.5 2422.8,552.1 2423.5,575.7 2424.1,509.5 2424.7,535.0 2425.3,568.5 2425.9,551.4 2426.6,554.9 2427.2,549.6 2427.8,552.6 2428.4,572.9 2429.0,547.5 2429.7,568.8 2430.3,549.8 2430.9,561.4 2431.5,549.4 2432.2,551.7 2432.8,553.7 2433.4,564.7 2434.0,535.6 2434.6,539.4 2435.3,536.1 2435.9,572.0 2436.5,570.5 2437.1,565.7 2437.7,543.6 2438.4,515.7 2439.0,537.6 2439.6,518.6 2440.2,573.0 2440.9,556.3 2441.5,541.4 2442.1,517.3 2442.7,546.3 2443.3,532.7 2444.0,548.3 2444.6,480.3 2445.2,499.0 2445.8,525.1 2446.4,539.2 2447.1,476.8 2447.7,500.9 2448.3,545.2 2448.9,537.9 2449.6,559.9 2450.2,548.2 2450.8,524.0 2451.4,546.6 2452.0,540.6 2452.7,564.1 2453.3,534.4 2453.9,544.3 2454.5,521.4 2455.1,525.4 2455.8,514.4 2456.4,490.8 2457.0,487.4 2457.6,521.9 2458.3,523.4 2458.9,548.4 2459.5,519.7 2460.1,499.2 2460.7,520.8 2461.4,513.4 2462.0,501.5 2462.6,482.9 2463.2,509.8 2463.8,525.1 2464.5,528.3 2465.1,547.4 2465.7,542.0 2466.3,547.9 2467.0,548.1 2467.6,552.3 2468.2,549.4 2468.8,544.1 2469.4,538.8 2470.1,534.4 2470.7,558.8 2471.3,544.6 2471.9,559.8 2472.5,533.1 2473.2,557.8 2473.8,546.7 2474.4,566.6 2475.0,556.8 2475.7,496.2 2476.3,506.4 2476.9,486.0 2477.5,497.5 2478.1,498.8 2478.8,462.0 2479.4,530.7 2480.0,560.1 2480.6,550.4 2481.3,571.2 2481.9,521.5 2482.5,541.6 2483.1,549.9 2483.7,548.0 2484.4,570.0 2485.0,547.9 2485.6,539.1 2486.2,535.8 2486.8,565.8 2487.5,539.3 2488.1,557.8 2488.7,549.6 2489.3,542.7 2490.0,541.5 2490.6,534.3 2491.2,541.4 2491.8,561.8 2492.4,569.5 2493.1,572.6 2493.7,514.0 2494.3,516.0 2494.9,526.7 2495.5,518.9 2496.2,499.8 2496.8,511.1 2497.4,524.8 2498.0,542.4 2498.7,514.3 2499.3,489.1 2499.9,518.6 2500.5,536.2 2501.1,499.4 2501.8,525.9 2502.4,489.3 2503.0,506.0 2503.6,542.6 2504.2,541.3 2504.9,536.9 2505.5,529.5 2506.1,543.5 2506.7,547.2 2507.4,549.5 2508.0,564.3 2508.6,550.7 2509.2,568.7 2509.8,541.0 2510.5,536.2 2511.1,535.7 2511.7,545.0 2512.3,542.7 2512.9,558.6 2513.6,565.2 2514.2,562.2 2514.8,546.6 2515.4,547.5 2516.1,557.8 2516.7,517.9 2517.3,515.3 2517.9,510.8 2518.5,516.4 2519.2,511.1 2519.8,535.6 2520.4,536.4 2521.0,515.1 2521.6,519.9 2522.3,531.7 2522.9,538.1 2523.5,552.3 2524.1,542.5 2524.8,526.0 2525.4,536.7 2526.0,503.5 2526.6,527.3 2527.2,514.1 2527.9,556.4 2528.5,559.4 2529.1,565.4 2529.7,528.9 2530.3,539.2 2531.0,558.6 2531.6,544.0 2532.2,523.2 2532.8,519.0 2533.5,530.8 2534.1,524.2 2534.7,521.2 2535.3,555.4 2535.9,555.5 2536.6,485.3 2537.2,465.5 2537.8,469.4 2538.4,462.4 2539.1,537.4 2539.7,508.3 2540.3,479.9 2540.9,494.8 2541.5,476.8 2542.2,520.9 2542.8,536.9 2543.4,558.8 2544.0,498.5 2544.6,484.7 2545.3,493.3 2545.9,513.5 2546.5,542.8 2547.1,516.4 2547.8,527.9 2548.4,513.7 2549.0,477.1 2549.6,478.8 2550.2,465.3 2550.9,472.8 2551.5,499.6 2552.1,502.5 2552.7,522.9 2553.3,546.9 2554.0,561.9 2554.6,539.3 2555.2,562.6 2555.8,558.6 2556.5,552.6 2557.1,554.3 2557.7,555.5 2558.3,525.4 2558.9,529.2 2559.6,552.7 2560.2,552.1 2560.8,540.0 2561.4,531.5 2562.0,514.9 2562.7,531.0 2563.3,541.5 2563.9,511.6 2564.5,527.6 2565.2,520.0 2565.8,524.8 2566.4,531.0 2567.0,550.4 2567.6,567.6 2568.3,569.6 2568.9,552.1 2569.5,558.0 2570.1,552.8 2570.7,546.9 2571.4,564.0 2572.0,586.6 2572.6,532.6 2573.2,485.4 2573.9,515.0 2574.5,578.7 2575.1,572.1 2575.7,537.9 2576.3,554.9 2577.0,547.4 2577.6,506.4 2578.2,534.0 2578.8,538.8 2579.4,523.5 2580.1,521.5 2580.7,535.7 2581.3,552.8 2581.9,572.4 2582.6,570.8 2583.2,567.3 2583.8,509.8 2584.4,550.8 2585.0,552.5 2585.7,535.8 2586.3,531.9 2586.9,514.2 2587.5,510.8 2588.1,540.1 2588.8,512.2 2589.4,521.7 2590.0,542.9 2590.6,550.9 2591.3,555.1 2591.9,538.2 2592.5,539.0 2593.1,537.6 2593.7,551.5 2594.4,561.7 2595.0,534.5 2595.6,539.4 2596.2,557.7 2596.8,533.0 2597.5,544.6 2598.1,557.9 2598.7,516.5 2599.3,505.2 2600.0,548.9 2600.6,526.9 2601.2,515.7 2601.8,541.8 2602.4,549.6 2603.1,521.8 2603.7,501.1 2604.3,475.8 2604.9,462.4 2605.6,466.2 2606.2,555.2 2606.8,503.7 2607.4,533.7 2608.0,568.8 2608.7,499.7 2609.3,536.8 2609.9,534.8 2610.5,525.1 2611.1,534.0 2611.8,554.2 2612.4,524.6 2613.0,536.9 2613.6,519.2 2614.3,543.1 2614.9,561.4 2615.5,566.3 2616.1,559.3 2616.7,546.3 2617.4,555.8 2618.0,545.1 2618.6,518.0 2619.2,543.5 2619.8,518.1 2620.5,523.9 2621.1,539.6 2621.7,529.7 2622.3,555.8 2623.0,559.6 2623.6,570.7 2624.2,541.8 2624.8,567.3 2625.4,546.6 2626.1,501.0 2626.7,517.9 2627.3,564.8 2627.9,535.2 2628.5,546.1 2629.2,543.0 2629.8,566.0 2630.4,547.4 2631.0,512.1 2631.7,482.9 2632.3,513.3 2632.9,536.7 2633.5,566.5 2634.1,561.1 2634.8,557.3 2635.4,559.0 2636.0,565.0 2636.6,549.8 2637.2,561.4 2637.9,544.3 2638.5,551.9 2639.1,570.1 2639.7,574.1 2640.4,571.0 2641.0,519.4 2641.6,577.0 2642.2,557.6 2642.8,569.6 2643.5,533.3 2644.1,525.6 2644.7,544.1 2645.3,543.2 2645.9,530.6 2646.6,517.6 2647.2,526.2 2647.8,503.3 2648.4,554.7 2649.1,525.8 2649.7,532.4 2650.3,535.6 2650.9,545.1 2651.5,526.3 2652.2,556.0 2652.8,551.9 2653.4,521.1 2654.0,542.0 2654.6,520.4 2655.3,530.0 2655.9,517.3 2656.5,512.2 2657.1,527.1 2657.8,512.9 2658.4,539.5 2659.0,559.7 2659.6,546.6 2660.2,572.4 2660.9,561.7 2661.5,569.5 2662.1,576.8 2662.7,552.6 2663.3,561.8 2664.0,554.4 2664.6,551.2 2665.2,565.1 2665.8,561.4 2666.5,565.6 2667.1,525.5 2667.7,540.2 2668.3,551.7 2668.9,533.3 2669.6,537.4 2670.2,547.1 2670.8,563.3 2671.4,531.8 2672.1,549.3 2672.7,548.1 2673.3,519.2 2673.9,551.6 2674.5,546.0 2675.2,550.5 2675.8,529.7 2676.4,552.6 2677.0,568.1 2677.6,567.2 2678.3,567.9 2678.9,569.2 2679.5,530.7 2680.1,548.0 2680.8,524.6 2681.4,493.4 2682.0,516.8 2682.6,511.7 2683.2,491.5 2683.9,519.2 2684.5,510.6 2685.1,521.9 2685.7,569.5 2686.3,511.5 2687.0,522.2 2687.6,511.1 2688.2,507.4 2688.8,554.9 2689.5,512.2 2690.1,534.1 2690.7,484.4 2691.3,534.1 2691.9,504.7 2692.6,520.8 2693.2,539.9 2693.8,561.9 2694.4,561.7 2695.0,568.9 2695.7,571.4 2696.3,549.0 2696.9,548.3 2697.5,533.3 2698.2,521.4 2698.8,511.0 2699.4,539.7 2700.0,506.5 2700.6,528.4 2701.3,544.5 2701.9,558.7 2702.5,562.2 2703.1,552.1 2703.7,539.7 2704.4,536.6 2705.0,550.4 2705.6,551.9 2706.2,534.8 2706.9,508.4 2707.5,533.8 2708.1,526.2 2708.7,549.2 2709.3,514.3 2710.0,463.4 2710.6,546.4 2711.2,547.5 2711.8,501.8 2712.4,500.7 2713.1,520.4 2713.7,493.6 2714.3,502.2 2714.9,555.5 2715.6,509.8 2716.2,520.2 2716.8,522.8 2717.4,530.6 2718.0,550.7 2718.7,531.5 2719.3,523.2 2719.9,526.9 2720.5,554.3 2721.1,559.5 2721.8,531.1 2722.4,514.8 2723.0,522.5 2723.6,527.8 2724.3,543.6 2724.9,558.3 2725.5,537.0 2726.1,534.3 2726.7,549.5 2727.4,544.8 2728.0,527.4 2728.6,522.7 2729.2,491.5 2729.9,510.5 2730.5,475.5 2731.1,498.1 2731.7,537.4 2732.3,525.4 2733.0,527.8 2733.6,544.4 2734.2,532.4 2734.8,532.3 2735.4,527.7 2736.1,521.2 2736.7,537.5 2737.3,529.5 2737.9,506.8 2738.6,549.7 2739.2,512.2 2739.8,512.7 2740.4,496.8 2741.0,551.8 2741.7,541.7 2742.3,536.8 2742.9,534.5 2743.5,543.5 2744.1,522.0 2744.8,537.8 2745.4,544.1 2746.0,542.0 2746.6,523.1 2747.3,567.4 2747.9,545.2 2748.5,504.2 2749.1,512.9 2749.7,500.2 2750.4,492.6 2751.0,471.9 2751.6,468.2 2752.2,478.6 2752.8,512.7 2753.5,495.1 2754.1,536.9 2754.7,560.6 2755.3,550.6 2756.0,539.3 2756.6,548.9 2757.2,560.9 2757.8,524.6 2758.4,491.3 2759.1,512.7 2759.7,521.9 2760.3,529.0 2760.9,539.1 2761.5,543.7 2762.2,482.2 2762.8,502.5 2763.4,541.0 2764.0,540.9 2764.7,543.0 2765.3,522.4 2765.9,535.9 2766.5,561.8 2767.1,530.5 2767.8,540.9 2768.4,549.9 2769.0,548.6 2769.6,523.9 2770.2,532.7 2770.9,528.8 2771.5,559.8 2772.1,533.7 2772.7,511.8 2773.4,510.5 2774.0,527.0 2774.6,536.0 2775.2,519.2 2775.8,547.0 2776.5,524.4 2777.1,531.0 2777.7,530.2 2778.3,508.2 2778.9,508.9 2779.6,495.2 2780.2,514.6 2780.8,442.9 2781.4,483.1 2782.1,521.7 2782.7,499.4 2783.3,486.2 2783.9,480.5 2784.5,508.7 2785.2,519.5 2785.8,538.3 2786.4,530.1 2787.0,541.8 2787.6,529.9 2788.3,507.6 2788.9,481.3 2789.5,525.4 2790.1,507.5 2790.8,510.0 2791.4,522.1 2792.0,508.9 2792.6,513.8 2793.2,510.5 2793.9,526.2 2794.5,485.8 2795.1,474.0 2795.7,475.4 2796.4,541.8 2797.0,542.7 2797.6,538.2 2798.2,530.9 2798.8,515.9 2799.5,538.4 2800.1,508.4 2800.7,517.2 2801.3,487.1 2801.9,459.0 2802.6,456.6 2803.2,514.4 2803.8,528.9 2804.4,524.2 2805.1,531.7 2805.7,538.6 2806.3,501.8 2806.9,542.1 2807.5,557.4 2808.2,504.6 2808.8,543.3 2809.4,505.1 2810.0,568.5 2810.6,524.1 2811.3,533.8 2811.9,519.1 2812.5,507.1 2813.1,540.9 2813.8,511.9 2814.4,535.8 2815.0,519.7 2815.6,510.6 2816.2,536.1 2816.9,536.1 2817.5,504.9 2818.1,595.3 2818.7,523.1 2819.3,525.6 2820.0,503.4 2820.6,501.2 2821.2,541.6 2821.8,532.7 2822.5,514.2 2823.1,532.5 2823.7,515.2 2824.3,555.2 2824.9,536.8 2825.6,539.5 2826.2,544.6 2826.8,531.6 2827.4,561.1 2828.0,481.4 2828.7,543.6 2829.3,554.1 2829.9,525.1 2830.5,513.7 2831.2,468.1 2831.8,452.8 2832.4,445.5 2833.0,486.5 2833.6,488.9 2834.3,542.3 2834.9,527.8 2835.5,527.6 2836.1,496.2 2836.7,460.8 2837.4,493.1 2838.0,522.3 2838.6,508.0 2839.2,471.8 2839.9,504.8 2840.5,509.5 2841.1,508.8 2841.7,570.8 2842.3,569.9 2843.0,561.9 2843.6,515.5 2844.2,509.2 2844.8,472.3 2845.4,527.7 2846.1,518.1 2846.7,533.1 2847.3,531.4 2847.9,525.6 2848.6,528.0 2849.2,541.1 2849.8,509.2 2850.4,541.8 2851.0,548.1 2851.7,517.8 2852.3,505.4 2852.9,496.8 2853.5,528.0 2854.2,501.7 2854.8,512.7 2855.4,532.3 2856.0,528.5 2856.6,531.5 2857.3,521.8 2857.9,456.9 2858.5,442.4 2859.1,453.4 2859.7,503.9 2860.4,509.6 2861.0,487.5 2861.6,506.3 2862.2,498.1 2862.9,524.3 2863.5,511.0 2864.1,529.6 2864.7,514.9 2865.3,507.7 2866.0,515.1 2866.6,510.4 2867.2,460.1 2867.8,525.1 2868.4,490.9 2869.1,519.3 2869.7,532.3 2870.3,524.1 2870.9,494.3 2871.6,506.6 2872.2,492.0 2872.8,508.7 2873.4,516.9 2874.0,534.2 2874.7,521.9 2875.3,567.1 2875.9,576.6 2876.5,530.9 2877.1,521.4 2877.8,530.0 2878.4,518.2 2879.0,486.8 2879.6,499.3 2880.3,496.5 2880.9,510.4 2881.5,545.9 2882.1,534.1 2882.7,543.3 2883.4,529.6 2884.0,572.6 2884.6,532.6 2885.2,515.2 2885.8,539.3 2886.5,547.8 2887.1,525.7 2887.7,529.1 2888.3,527.4 2889.0,534.3 2889.6,510.9 2890.2,488.8 2890.8,511.8 2891.4,552.4 2892.1,554.9 2892.7,547.1 2893.3,537.5 2893.9,555.6 2894.5,512.6 2895.2,508.4 2895.8,514.3 2896.4,500.3 2897.0,494.6 2897.7,463.6 2898.3,523.5 2898.9,526.6 2899.5,515.0 2900.1,478.9 2900.8,506.1 2901.4,537.5 2902.0,481.2 2902.6,504.9 2903.2,487.8 2903.9,474.2 2904.5,445.7 2905.1,491.1 2905.7,489.2 2906.4,480.5 2907.0,486.0 2907.6,530.0 2908.2,495.7 2908.8,499.2 2909.5,539.3 2910.1,532.8 2910.7,513.8 2911.3,520.5 2911.9,494.1 2912.6,531.8 2913.2,521.2 2913.8,509.2 2914.4,527.1 2915.1,545.5 2915.7,523.0 2916.3,537.4 2916.9,550.5 2917.5,514.5 2918.2,563.1 2918.8,562.8 2919.4,565.1 2920.0,574.4 2920.7,569.9 2921.3,568.8 2921.9,514.4 2922.5,512.3 2923.1,510.0 2923.8,490.6 2924.4,551.6 2925.0,547.6 2925.6,512.4 2926.2,568.7 2926.9,562.0 2927.5,541.7 2928.1,495.8 2928.7,547.2 2929.4,555.9 2930.0,525.4 2930.6,510.1 2931.2,491.4 2931.8,476.9 2932.5,479.6 2933.1,494.1 2933.7,548.8 2934.3,509.8 2934.9,513.1 2935.6,492.6 2936.2,532.3 2936.8,526.3 2937.4,556.5 2938.1,519.2 2938.7,529.8 2939.3,551.5 2939.9,546.9 2940.5,551.9 2941.2,547.5 2941.8,551.0 2942.4,517.0 2943.0,495.4 2943.6,521.9 2944.3,529.8 2944.9,524.5 2945.5,493.3 2946.1,540.9 2946.8,500.9 2947.4,489.3 2948.0,514.6 2948.6,553.5 2949.2,565.7 2949.9,557.9 2950.5,505.4 2951.1,518.0 2951.7,537.1 2952.3,540.7 2953.0,546.1 2953.6,529.8 2954.2,533.0 2954.8,541.2 2955.5,502.7 2956.1,519.9 2956.7,536.5 2957.3,520.3 2957.9,539.6 2958.6,530.1 2959.2,553.1 2959.8,523.1 2960.4,528.5 2961.0,554.4 2961.7,512.0 2962.3,535.5 2962.9,570.9 2963.5,567.5 2964.2,507.4 2964.8,510.8 2965.4,548.2 2966.0,511.5 2966.6,533.7 2967.3,489.8 2967.9,531.7 2968.5,551.2 2969.1,501.5 2969.7,567.3 2970.4,521.4 2971.0,519.8 2971.6,516.3 2972.2,502.2 2972.9,511.1 2973.5,534.9 2974.1,556.1 2974.7,555.0 2975.3,530.9 2976.0,572.6 2976.6,548.4 2977.2,561.1 2977.8,537.6 2978.5,566.9 2979.1,577.7 2979.7,562.7 2980.3,567.0 2980.9,540.7 2981.6,520.5 2982.2,532.1 2982.8,519.7 2983.4,545.6 2984.0,554.3 2984.7,550.6 2985.3,555.6 2985.9,545.3 2986.5,529.3 2987.2,512.8 2987.8,493.0 2988.4,550.1 2989.0,547.7 2989.6,564.1 2990.3,496.5 2990.9,523.5 2991.5,534.7 2992.1,489.1 2992.7,536.9 2993.4,504.4 2994.0,505.8 2994.6,501.9 2995.2,550.9 2995.9,537.5 2996.5,522.6 2997.1,520.8 2997.7,514.1 2998.3,541.5 2999.0,528.9 2999.6,549.9 3000.2,507.9 3000.8,567.2 3001.4,562.0 3002.1,544.1 3002.7,541.8 3003.3,512.1 3003.9,559.5 3004.6,535.5 3005.2,528.2 3005.8,550.1 3006.4,551.5 3007.0,536.4 3007.7,549.5 3008.3,533.6 3008.9,546.8 3009.5,497.3 3010.1,530.8 3010.8,514.8 3011.4,450.0 3012.0,505.5 3012.6,504.4 3013.3,478.4 3013.9,550.5 3014.5,513.8 3015.1,511.1 3015.7,567.3 3016.4,532.2 3017.0,577.1 3017.6,527.6 3018.2,467.0 3018.8,502.2 3019.5,536.6 3020.1,569.7 3020.7,508.4 3021.3,533.5 3022.0,536.9 3022.6,524.6 3023.2,513.4 3023.8,513.1 3024.4,522.5 3025.1,466.5 3025.7,478.1 3026.3,511.8 3026.9,509.1 3027.5,495.8 3028.2,503.5 3028.8,494.7 3029.4,493.1 3030.0,503.6 3030.7,459.1 3031.3,521.3 3031.9,539.4 3032.5,532.1 3033.1,520.2 3033.8,497.4 3034.4,512.3 3035.0,523.1 3035.6,528.2 3036.3,574.8 3036.9,555.1 3037.5,533.8 3038.1,513.1 3038.7,503.5 3039.4,529.1 3040.0,526.4 3040.6,509.2 3041.2,525.6 3041.8,532.8 3042.5,540.5 3043.1,523.9 3043.7,531.9 3044.3,547.5 3045.0,540.3 3045.6,556.6 3046.2,537.1 3046.8,516.8 3047.4,531.0 3048.1,524.4 3048.7,501.4 3049.3,515.9 3049.9,501.2 3050.5,538.0 3051.2,533.3 3051.8,544.0 3052.4,519.3 3053.0,510.9 3053.7,533.8 3054.3,518.4 3054.9,532.6 3055.5,497.1 3056.1,552.8 3056.8,565.3 3057.4,548.4 3058.0,536.0 3058.6,532.5 3059.2,515.6 3059.9,556.6 3060.5,502.5 3061.1,483.6 3061.7,505.7 3062.4,517.1 3063.0,556.8 3063.6,491.2 3064.2,480.4 3064.8,498.1 3065.5,541.0 3066.1,510.2 3066.7,481.2 3067.3,488.2 3067.9,495.6 3068.6,526.5 3069.2,512.4 3069.8,529.6 3070.4,539.2 3071.1,505.8 3071.7,516.8 3072.3,525.5 3072.9,527.9 3073.5,509.7 3074.2,555.5 3074.8,556.3 3075.4,546.9 3076.0,543.4 3076.6,555.6 3077.3,528.6 3077.9,548.3 3078.5,541.1 3079.1,567.3 3079.8,561.8 3080.4,553.5 3081.0,562.3 3081.6,563.0 3082.2,543.4 3082.9,547.5 3083.5,541.3 3084.1,546.0 3084.7,532.6 3085.3,537.2 3086.0,536.5 3086.6,505.8 3087.2,543.3 3087.8,507.7 3088.5,534.5 3089.1,519.1 3089.7,535.7 3090.3,525.9 3090.9,565.3 3091.6,534.4 3092.2,535.3 3092.8,505.1 3093.4,533.5 3094.0,524.9 3094.7,499.5 3095.3,505.9 3095.9,497.5 3096.5,536.0 3097.2,524.9 3097.8,496.7 3098.4,524.3 3099.0,530.4 3099.6,507.2 3100.3,558.4 3100.9,552.8 3101.5,554.0 3102.1,529.9 3102.8,521.1 3103.4,525.4 3104.0,525.1 3104.6,526.1 3105.2,491.1 3105.9,496.0 3106.5,510.0 3107.1,533.4 3107.7,517.8 3108.3,519.6 3109.0,537.1 3109.6,536.2 3110.2,542.6 3110.8,548.5 3111.5,534.9 3112.1,553.2 3112.7,537.0 3113.3,573.1 3113.9,529.2 3114.6,525.5 3115.2,539.2 3115.8,546.1 3116.4,497.1 3117.0,533.3 3117.7,539.3 3118.3,472.4 3118.9,489.5 3119.5,495.9 3120.2,528.6 3120.8,528.0 3121.4,493.1 3122.0,464.8 3122.6,496.3 3123.3,497.9 3123.9,496.6 3124.5,467.6 3125.1,542.3 3125.7,465.2 3126.4,469.9 3127.0,491.4 3127.6,490.4 3128.2,482.5 3128.9,499.4 3129.5,481.3 3130.1,514.0 3130.7,505.4 3131.3,541.8 3132.0,550.8 3132.6,479.5 3133.2,509.4 3133.8,507.5 3134.4,473.4 3135.1,546.2 3135.7,525.0 3136.3,535.4 3136.9,508.7 3137.6,525.4 3138.2,535.3 3138.8,554.3 3139.4,548.1 3140.0,532.0 3140.7,542.3 3141.3,544.3 3141.9,543.2 3142.5,534.7 3143.1,545.0 3143.8,523.5 3144.4,450.3 3145.0,461.7 3145.6,503.5 3146.3,506.5 3146.9,507.7 3147.5,539.7 3148.1,539.5 3148.7,535.9 3149.4,573.1 3150.0,562.8 3150.6,502.7 3151.2,524.9 3151.8,543.9 3152.5,533.8 3153.1,510.0 3153.7,515.5 3154.3,498.9 3155.0,515.3 3155.6,529.7 3156.2,513.8 3156.8,484.9 3157.4,506.5 3158.1,473.4 3158.7,556.7 3159.3,542.1 3159.9,533.9 3160.6,513.0 3161.2,458.6 3161.8,475.4 3162.4,489.9 3163.0,487.5 3163.7,537.7 3164.3,497.3 3164.9,527.0 3165.5,536.1 3166.1,539.1 3166.8,549.5 3167.4,522.0 3168.0,532.4 3168.6,546.3 3169.3,550.5 3169.9,479.1 3170.5,487.4 3171.1,505.6 3171.7,538.0 3172.4,550.0 3173.0,550.9 3173.6,518.8 3174.2,506.8 3174.8,518.2 3175.5,494.5 3176.1,543.1 3176.7,536.0 3177.3,532.4 3178.0,551.1 3178.6,478.7 3179.2,499.3 3179.8,508.2 3180.4,504.2 3181.1,569.6 3181.7,543.8 3182.3,535.9 3182.9,534.4 3183.5,550.7 3184.2,532.9 3184.8,526.5 3185.4,512.9 3186.0,507.4 3186.7,500.1 3187.3,527.2 3187.9,531.9 3188.5,502.8 3189.1,510.7 3189.8,475.6 3190.4,528.5 3191.0,463.6 3191.6,488.6 3192.2,482.2 3192.9,487.3 3193.5,515.4 3194.1,512.4 3194.7,525.9 3195.4,516.2 3196.0,463.9 3196.6,527.1 3197.2,530.6 3197.8,551.4 3198.5,522.3 3199.1,508.9 3199.7,495.1 3200.3,509.5 3200.9,542.1 3201.6,467.3 3202.2,474.2 3202.8,531.4 3203.4,481.9 3204.1,477.2 3204.7,504.9 3204.7,778.3 3204.1,776.8 3203.4,740.1 3202.8,678.4 3202.2,698.8 3201.6,693.8 3200.9,734.1 3200.3,704.5 3199.7,754.3 3199.1,738.0 3198.5,742.5 3197.8,686.7 3197.2,676.2 3196.6,739.0 3196.0,729.2 3195.4,728.2 3194.7,749.3 3194.1,763.4 3193.5,707.6 3192.9,730.7 3192.2,772.4 3191.6,779.3 3191.0,764.9 3190.4,717.5 3189.8,708.1 3189.1,738.0 3188.5,788.4 3187.9,759.9 3187.3,782.6 3186.7,794.3 3186.0,752.1 3185.4,750.9 3184.8,696.4 3184.2,674.4 3183.5,717.3 3182.9,649.3 3182.3,690.5 3181.7,675.2 3181.1,662.9 3180.4,702.5 3179.8,675.8 3179.2,705.9 3178.6,706.8 3178.0,733.3 3177.3,725.3 3176.7,794.2 3176.1,721.9 3175.5,715.0 3174.8,760.5 3174.2,749.9 3173.6,758.9 3173.0,707.1 3172.4,688.9 3171.7,732.0 3171.1,745.3 3170.5,836.0 3169.9,816.7 3169.3,777.6 3168.6,722.4 3168.0,723.8 3167.4,690.6 3166.8,697.0 3166.1,697.5 3165.5,691.5 3164.9,718.2 3164.3,730.0 3163.7,728.9 3163.0,752.2 3162.4,695.3 3161.8,708.6 3161.2,757.2 3160.6,744.7 3159.9,667.7 3159.3,689.2 3158.7,664.5 3158.1,665.0 3157.4,687.6 3156.8,703.3 3156.2,666.3 3155.6,756.9 3155.0,740.2 3154.3,721.8 3153.7,782.0 3153.1,757.3 3152.5,699.9 3151.8,736.8 3151.2,712.5 3150.6,725.4 3150.0,685.2 3149.4,662.0 3148.7,695.7 3148.1,678.4 3147.5,674.6 3146.9,718.3 3146.3,713.4 3145.6,763.9 3145.0,697.1 3144.4,695.5 3143.8,796.9 3143.1,747.6 3142.5,676.2 3141.9,695.6 3141.3,690.7 3140.7,680.8 3140.0,653.1 3139.4,660.5 3138.8,673.8 3138.2,733.0 3137.6,653.7 3136.9,703.1 3136.3,675.8 3135.7,686.4 3135.1,672.9 3134.4,748.3 3133.8,709.8 3133.2,809.2 3132.6,720.0 3132.0,699.3 3131.3,711.4 3130.7,735.0 3130.1,688.8 3129.5,706.7 3128.9,737.5 3128.2,732.4 3127.6,701.2 3127.0,724.8 3126.4,715.5 3125.7,759.5 3125.1,726.5 3124.5,723.4 3123.9,735.1 3123.3,733.1 3122.6,736.9 3122.0,702.3 3121.4,739.1 3120.8,736.1 3120.2,782.3 3119.5,798.2 3118.9,725.6 3118.3,722.6 3117.7,699.4 3117.0,681.7 3116.4,718.2 3115.8,707.2 3115.2,709.3 3114.6,699.7 3113.9,685.8 3113.3,641.4 3112.7,705.6 3112.1,667.3 3111.5,650.4 3110.8,668.6 3110.2,681.5 3109.6,677.2 3109.0,712.7 3108.3,724.6 3107.7,704.6 3107.1,675.3 3106.5,731.0 3105.9,792.0 3105.2,783.5 3104.6,689.6 3104.0,724.2 3103.4,761.2 3102.8,740.7 3102.1,716.7 3101.5,695.0 3100.9,668.6 3100.3,693.0 3099.6,743.3 3099.0,793.0 3098.4,828.3 3097.8,783.7 3097.2,684.5 3096.5,738.8 3095.9,739.0 3095.3,748.3 3094.7,773.6 3094.0,772.8 3093.4,729.5 3092.8,757.2 3092.2,693.5 3091.6,730.8 3090.9,686.5 3090.3,720.6 3089.7,697.7 3089.1,670.1 3088.5,698.0 3087.8,694.0 3087.2,675.2 3086.6,702.9 3086.0,754.4 3085.3,695.4 3084.7,685.5 3084.1,674.6 3083.5,652.5 3082.9,648.1 3082.2,725.5 3081.6,638.8 3081.0,681.0 3080.4,689.2 3079.8,659.5 3079.1,661.6 3078.5,700.1 3077.9,659.9 3077.3,633.4 3076.6,704.6 3076.0,699.8 3075.4,701.9 3074.8,674.1 3074.2,651.8 3073.5,703.2 3072.9,730.7 3072.3,761.2 3071.7,729.3 3071.1,698.0 3070.4,691.2 3069.8,642.7 3069.2,711.7 3068.6,734.3 3067.9,755.1 3067.3,678.3 3066.7,725.3 3066.1,703.4 3065.5,777.5 3064.8,716.8 3064.2,713.6 3063.6,682.5 3063.0,683.0 3062.4,668.3 3061.7,667.1 3061.1,687.5 3060.5,721.4 3059.9,719.5 3059.2,714.0 3058.6,695.9 3058.0,706.9 3057.4,676.3 3056.8,676.5 3056.1,679.4 3055.5,701.3 3054.9,705.0 3054.3,697.9 3053.7,761.6 3053.0,728.1 3052.4,698.6 3051.8,668.7 3051.2,656.3 3050.5,691.1 3049.9,749.9 3049.3,746.8 3048.7,777.0 3048.1,739.4 3047.4,737.8 3046.8,695.6 3046.2,660.0 3045.6,669.5 3045.0,686.1 3044.3,676.3 3043.7,690.9 3043.1,679.8 3042.5,719.4 3041.8,699.1 3041.2,661.3 3040.6,706.1 3040.0,735.8 3039.4,730.1 3038.7,671.5 3038.1,707.3 3037.5,682.8 3036.9,663.1 3036.3,663.8 3035.6,693.2 3035.0,685.5 3034.4,695.0 3033.8,732.7 3033.1,756.3 3032.5,734.8 3031.9,743.1 3031.3,714.1 3030.7,757.6 3030.0,734.4 3029.4,770.9 3028.8,760.5 3028.2,717.9 3027.5,739.7 3026.9,707.1 3026.3,719.1 3025.7,720.8 3025.1,697.2 3024.4,697.6 3023.8,714.4 3023.2,684.0 3022.6,667.0 3022.0,678.0 3021.3,739.2 3020.7,690.1 3020.1,683.2 3019.5,752.1 3018.8,708.2 3018.2,769.6 3017.6,758.5 3017.0,692.0 3016.4,677.1 3015.7,712.8 3015.1,692.9 3014.5,729.6 3013.9,701.1 3013.3,721.9 3012.6,677.9 3012.0,690.9 3011.4,713.7 3010.8,734.4 3010.1,788.5 3009.5,692.9 3008.9,702.8 3008.3,703.7 3007.7,691.3 3007.0,729.2 3006.4,691.8 3005.8,679.5 3005.2,678.4 3004.6,672.6 3003.9,683.4 3003.3,693.4 3002.7,719.4 3002.1,665.4 3001.4,679.8 3000.8,681.3 3000.2,677.2 2999.6,662.4 2999.0,718.7 2998.3,671.5 2997.7,758.7 2997.1,742.7 2996.5,780.5 2995.9,664.7 2995.2,684.9 2994.6,706.0 2994.0,659.7 2993.4,717.3 2992.7,668.2 2992.1,719.8 2991.5,647.0 2990.9,697.9 2990.3,710.1 2989.6,690.7 2989.0,690.0 2988.4,673.8 2987.8,702.5 2987.2,682.7 2986.5,692.8 2985.9,730.6 2985.3,686.0 2984.7,680.3 2984.0,705.0 2983.4,644.9 2982.8,742.2 2982.2,703.2 2981.6,720.7 2980.9,663.5 2980.3,656.5 2979.7,650.9 2979.1,674.9 2978.5,668.9 2977.8,660.4 2977.2,655.5 2976.6,661.9 2976.0,675.8 2975.3,678.2 2974.7,688.5 2974.1,664.5 2973.5,692.6 2972.9,736.0 2972.2,743.0 2971.6,851.5 2971.0,793.2 2970.4,715.7 2969.7,663.2 2969.1,664.1 2968.5,676.7 2967.9,714.1 2967.3,718.6 2966.6,714.9 2966.0,727.1 2965.4,680.9 2964.8,719.8 2964.2,708.8 2963.5,642.9 2962.9,661.7 2962.3,690.1 2961.7,767.2 2961.0,676.2 2960.4,678.6 2959.8,684.2 2959.2,706.5 2958.6,733.3 2957.9,724.7 2957.3,724.7 2956.7,724.5 2956.1,771.7 2955.5,659.0 2954.8,685.7 2954.2,690.7 2953.6,672.6 2953.0,700.4 2952.3,639.0 2951.7,706.7 2951.1,705.4 2950.5,682.3 2949.9,721.2 2949.2,693.2 2948.6,680.9 2948.0,697.4 2947.4,700.8 2946.8,718.3 2946.1,677.8 2945.5,715.5 2944.9,722.4 2944.3,733.7 2943.6,765.6 2943.0,783.7 2942.4,796.0 2941.8,740.1 2941.2,678.0 2940.5,661.6 2939.9,694.2 2939.3,681.4 2938.7,752.0 2938.1,813.4 2937.4,737.8 2936.8,701.6 2936.2,661.3 2935.6,714.7 2934.9,694.4 2934.3,692.7 2933.7,654.0 2933.1,704.0 2932.5,741.3 2931.8,759.8 2931.2,711.3 2930.6,664.5 2930.0,716.9 2929.4,729.8 2928.7,663.4 2928.1,655.6 2927.5,683.8 2926.9,704.0 2926.2,686.8 2925.6,701.3 2925.0,678.8 2924.4,666.0 2923.8,699.9 2923.1,694.7 2922.5,736.3 2921.9,727.2 2921.3,685.9 2920.7,646.7 2920.0,653.0 2919.4,633.4 2918.8,645.9 2918.2,706.5 2917.5,746.0 2916.9,742.0 2916.3,744.0 2915.7,657.5 2915.1,686.0 2914.4,717.5 2913.8,726.1 2913.2,724.8 2912.6,706.6 2911.9,688.7 2911.3,758.6 2910.7,698.2 2910.1,745.4 2909.5,724.6 2908.8,726.5 2908.2,691.4 2907.6,739.6 2907.0,670.4 2906.4,726.5 2905.7,711.3 2905.1,715.0 2904.5,753.7 2903.9,759.3 2903.2,685.6 2902.6,739.4 2902.0,738.4 2901.4,721.4 2900.8,679.8 2900.1,763.4 2899.5,732.5 2898.9,696.8 2898.3,643.3 2897.7,706.5 2897.0,805.1 2896.4,735.3 2895.8,693.7 2895.2,760.9 2894.5,675.5 2893.9,669.3 2893.3,673.1 2892.7,659.1 2892.1,664.5 2891.4,684.1 2890.8,726.6 2890.2,782.0 2889.6,721.2 2889.0,754.6 2888.3,712.8 2887.7,662.7 2887.1,693.1 2886.5,680.5 2885.8,731.6 2885.2,751.5 2884.6,691.7 2884.0,675.6 2883.4,655.1 2882.7,646.1 2882.1,681.4 2881.5,638.9 2880.9,694.2 2880.3,733.2 2879.6,762.9 2879.0,736.7 2878.4,707.8 2877.8,800.2 2877.1,739.4 2876.5,747.6 2875.9,725.0 2875.3,670.6 2874.7,748.9 2874.0,710.0 2873.4,772.0 2872.8,813.1 2872.2,774.3 2871.6,758.3 2870.9,733.8 2870.3,707.2 2869.7,715.6 2869.1,710.7 2868.4,688.5 2867.8,716.8 2867.2,762.7 2866.6,714.5 2866.0,785.7 2865.3,731.9 2864.7,759.7 2864.1,713.2 2863.5,748.1 2862.9,725.5 2862.2,735.4 2861.6,709.1 2861.0,735.9 2860.4,793.9 2859.7,810.8 2859.1,799.7 2858.5,855.8 2857.9,911.3 2857.3,731.2 2856.6,715.6 2856.0,687.0 2855.4,704.5 2854.8,715.6 2854.2,734.3 2853.5,718.0 2852.9,787.3 2852.3,733.8 2851.7,733.9 2851.0,696.8 2850.4,705.7 2849.8,739.0 2849.2,762.5 2848.6,692.1 2847.9,647.9 2847.3,705.0 2846.7,670.4 2846.1,718.3 2845.4,748.8 2844.8,761.8 2844.2,742.9 2843.6,691.9 2843.0,664.2 2842.3,656.0 2841.7,674.5 2841.1,668.8 2840.5,682.8 2839.9,715.4 2839.2,774.4 2838.6,718.1 2838.0,703.6 2837.4,711.9 2836.7,715.7 2836.1,681.7 2835.5,717.8 2834.9,682.9 2834.3,718.5 2833.6,796.0 2833.0,740.4 2832.4,754.4 2831.8,719.0 2831.2,765.4 2830.5,781.1 2829.9,713.0 2829.3,760.0 2828.7,704.2 2828.0,720.5 2827.4,719.4 2826.8,742.9 2826.2,731.3 2825.6,677.9 2824.9,739.7 2824.3,695.2 2823.7,703.0 2823.1,696.8 2822.5,707.9 2821.8,684.5 2821.2,644.0 2820.6,699.4 2820.0,730.7 2819.3,710.2 2818.7,775.0 2818.1,693.9 2817.5,675.8 2816.9,722.3 2816.2,724.6 2815.6,777.9 2815.0,705.1 2814.4,690.1 2813.8,676.6 2813.1,733.6 2812.5,792.4 2811.9,777.4 2811.3,731.4 2810.6,665.2 2810.0,684.1 2809.4,690.3 2808.8,735.7 2808.2,689.5 2807.5,731.2 2806.9,671.9 2806.3,701.3 2805.7,743.7 2805.1,675.4 2804.4,720.3 2803.8,712.2 2803.2,694.8 2802.6,714.3 2801.9,692.9 2801.3,739.7 2800.7,771.9 2800.1,713.0 2799.5,688.9 2798.8,709.4 2798.2,738.9 2797.6,724.9 2797.0,731.3 2796.4,724.8 2795.7,805.2 2795.1,790.8 2794.5,743.3 2793.9,742.2 2793.2,730.1 2792.6,775.3 2792.0,762.0 2791.4,743.6 2790.8,737.3 2790.1,742.7 2789.5,731.5 2788.9,711.3 2788.3,719.5 2787.6,672.9 2787.0,685.5 2786.4,658.7 2785.8,681.2 2785.2,693.7 2784.5,749.6 2783.9,721.3 2783.3,707.6 2782.7,744.1 2782.1,727.4 2781.4,760.8 2780.8,747.5 2780.2,802.7 2779.6,803.4 2778.9,758.1 2778.3,723.9 2777.7,723.3 2777.1,738.4 2776.5,741.1 2775.8,723.8 2775.2,711.8 2774.6,695.9 2774.0,769.1 2773.4,790.4 2772.7,752.1 2772.1,684.8 2771.5,736.2 2770.9,737.1 2770.2,711.0 2769.6,673.6 2769.0,645.2 2768.4,684.1 2767.8,688.4 2767.1,722.8 2766.5,650.9 2765.9,661.2 2765.3,692.2 2764.7,674.4 2764.0,666.0 2763.4,680.0 2762.8,722.0 2762.2,703.6 2761.5,654.1 2760.9,712.6 2760.3,667.6 2759.7,749.5 2759.1,710.9 2758.4,706.1 2757.8,684.8 2757.2,670.6 2756.6,720.7 2756.0,693.3 2755.3,682.8 2754.7,728.6 2754.1,681.4 2753.5,713.8 2752.8,746.2 2752.2,751.9 2751.6,755.9 2751.0,751.5 2750.4,701.4 2749.7,728.2 2749.1,739.3 2748.5,702.5 2747.9,673.1 2747.3,652.3 2746.6,673.5 2746.0,664.3 2745.4,698.2 2744.8,703.3 2744.1,741.8 2743.5,719.7 2742.9,733.4 2742.3,697.3 2741.7,708.5 2741.0,692.8 2740.4,702.5 2739.8,757.2 2739.2,706.2 2738.6,798.5 2737.9,747.2 2737.3,697.4 2736.7,682.6 2736.1,667.6 2735.4,725.4 2734.8,719.2 2734.2,718.6 2733.6,802.7 2733.0,713.9 2732.3,750.4 2731.7,773.8 2731.1,745.5 2730.5,725.3 2729.9,737.8 2729.2,660.8 2728.6,698.0 2728.0,708.1 2727.4,706.9 2726.7,740.6 2726.1,676.6 2725.5,727.1 2724.9,664.4 2724.3,663.1 2723.6,691.7 2723.0,697.1 2722.4,683.7 2721.8,705.2 2721.1,682.9 2720.5,686.9 2719.9,689.9 2719.3,738.1 2718.7,731.1 2718.0,675.8 2717.4,689.7 2716.8,716.7 2716.2,676.1 2715.6,737.6 2714.9,673.3 2714.3,693.5 2713.7,725.9 2713.1,705.5 2712.4,715.2 2711.8,713.6 2711.2,748.7 2710.6,728.1 2710.0,748.4 2709.3,707.9 2708.7,753.3 2708.1,707.2 2707.5,672.5 2706.9,715.5 2706.2,697.2 2705.6,666.8 2705.0,737.7 2704.4,678.2 2703.7,669.8 2703.1,674.6 2702.5,712.6 2701.9,692.7 2701.3,659.7 2700.6,680.7 2700.0,707.2 2699.4,683.1 2698.8,731.6 2698.2,731.4 2697.5,683.8 2696.9,683.0 2696.3,664.0 2695.7,657.9 2695.0,675.6 2694.4,666.1 2693.8,672.6 2693.2,700.4 2692.6,710.1 2691.9,719.9 2691.3,699.2 2690.7,712.5 2690.1,732.1 2689.5,772.7 2688.8,686.5 2688.2,687.2 2687.6,717.3 2687.0,721.9 2686.3,736.5 2685.7,684.4 2685.1,709.7 2684.5,723.1 2683.9,751.2 2683.2,783.3 2682.6,838.7 2682.0,851.1 2681.4,824.9 2680.8,712.6 2680.1,670.6 2679.5,678.4 2678.9,654.0 2678.3,681.9 2677.6,682.7 2677.0,673.4 2676.4,682.1 2675.8,717.7 2675.2,711.1 2674.5,652.3 2673.9,676.7 2673.3,734.0 2672.7,723.4 2672.1,701.4 2671.4,680.3 2670.8,687.6 2670.2,646.7 2669.6,676.0 2668.9,677.1 2668.3,654.6 2667.7,710.1 2667.1,739.6 2666.5,647.7 2665.8,652.4 2665.2,645.0 2664.6,720.3 2664.0,672.6 2663.3,667.2 2662.7,670.0 2662.1,670.5 2661.5,678.9 2660.9,682.8 2660.2,673.6 2659.6,688.0 2659.0,682.9 2658.4,737.1 2657.8,737.3 2657.1,685.1 2656.5,673.3 2655.9,673.0 2655.3,737.9 2654.6,681.2 2654.0,732.7 2653.4,722.8 2652.8,661.2 2652.2,637.8 2651.5,686.2 2650.9,693.6 2650.3,703.0 2649.7,676.0 2649.1,676.7 2648.4,683.2 2647.8,666.3 2647.2,677.7 2646.6,711.5 2645.9,768.0 2645.3,725.6 2644.7,683.9 2644.1,689.9 2643.5,689.2 2642.8,666.0 2642.2,655.1 2641.6,647.2 2641.0,677.3 2640.4,708.4 2639.7,653.1 2639.1,676.8 2638.5,675.6 2637.9,687.5 2637.2,661.0 2636.6,695.4 2636.0,666.5 2635.4,639.0 2634.8,664.1 2634.1,658.7 2633.5,695.7 2632.9,673.0 2632.3,708.8 2631.7,759.5 2631.0,717.7 2630.4,678.1 2629.8,693.1 2629.2,696.7 2628.5,705.6 2627.9,699.8 2627.3,685.4 2626.7,706.5 2626.1,707.1 2625.4,684.9 2624.8,644.5 2624.2,700.8 2623.6,716.6 2623.0,717.7 2622.3,684.6 2621.7,704.2 2621.1,713.0 2620.5,669.4 2619.8,738.6 2619.2,631.2 2618.6,678.1 2618.0,671.4 2617.4,684.2 2616.7,636.9 2616.1,686.8 2615.5,681.9 2614.9,726.5 2614.3,690.8 2613.6,708.6 2613.0,661.6 2612.4,712.3 2611.8,745.3 2611.1,697.4 2610.5,712.6 2609.9,679.7 2609.3,669.1 2608.7,662.8 2608.0,694.3 2607.4,727.4 2606.8,725.1 2606.2,676.8 2605.6,726.1 2604.9,762.3 2604.3,735.9 2603.7,738.0 2603.1,743.2 2602.4,707.8 2601.8,689.6 2601.2,740.4 2600.6,745.1 2600.0,730.8 2599.3,721.7 2598.7,704.0 2598.1,736.7 2597.5,675.7 2596.8,696.4 2596.2,656.8 2595.6,692.1 2595.0,681.7 2594.4,671.4 2593.7,642.0 2593.1,689.5 2592.5,695.6 2591.9,686.8 2591.3,669.5 2590.6,678.2 2590.0,693.9 2589.4,674.0 2588.8,758.5 2588.1,785.0 2587.5,738.3 2586.9,708.2 2586.3,733.2 2585.7,697.3 2585.0,719.6 2584.4,706.6 2583.8,723.3 2583.2,651.8 2582.6,716.3 2581.9,673.3 2581.3,710.6 2580.7,680.1 2580.1,693.7 2579.4,732.7 2578.8,715.4 2578.2,762.1 2577.6,755.0 2577.0,703.2 2576.3,662.8 2575.7,674.4 2575.1,677.3 2574.5,638.0 2573.9,712.5 2573.2,695.9 2572.6,658.6 2572.0,631.0 2571.4,663.3 2570.7,688.4 2570.1,697.3 2569.5,659.2 2568.9,656.3 2568.3,668.1 2567.6,682.9 2567.0,686.3 2566.4,746.1 2565.8,704.9 2565.2,730.2 2564.5,755.1 2563.9,776.6 2563.3,712.8 2562.7,689.0 2562.0,715.8 2561.4,715.5 2560.8,726.9 2560.2,689.9 2559.6,671.9 2558.9,673.6 2558.3,696.8 2557.7,708.7 2557.1,651.6 2556.5,694.6 2555.8,731.2 2555.2,670.9 2554.6,704.0 2554.0,663.5 2553.3,622.4 2552.7,668.9 2552.1,803.0 2551.5,823.0 2550.9,768.6 2550.2,759.1 2549.6,755.6 2549.0,686.0 2548.4,684.7 2547.8,689.5 2547.1,717.2 2546.5,745.9 2545.9,657.6 2545.3,708.8 2544.6,744.7 2544.0,734.2 2543.4,713.1 2542.8,751.4 2542.2,724.5 2541.5,748.0 2540.9,754.1 2540.3,737.7 2539.7,703.5 2539.1,670.1 2538.4,679.2 2537.8,761.6 2537.2,782.7 2536.6,699.5 2535.9,672.5 2535.3,671.3 2534.7,694.3 2534.1,707.6 2533.5,702.1 2532.8,687.9 2532.2,694.3 2531.6,667.5 2531.0,702.0 2530.3,662.5 2529.7,691.9 2529.1,670.1 2528.5,726.2 2527.9,660.2 2527.2,692.7 2526.6,742.7 2526.0,698.2 2525.4,674.7 2524.8,698.7 2524.1,722.3 2523.5,703.6 2522.9,666.7 2522.3,707.7 2521.6,715.2 2521.0,743.0 2520.4,708.4 2519.8,708.4 2519.2,683.5 2518.5,724.1 2517.9,735.3 2517.3,753.0 2516.7,717.1 2516.1,675.7 2515.4,640.6 2514.8,728.5 2514.2,703.5 2513.6,680.5 2512.9,658.1 2512.3,720.2 2511.7,694.2 2511.1,679.3 2510.5,705.7 2509.8,680.4 2509.2,667.1 2508.6,667.8 2508.0,650.6 2507.4,676.9 2506.7,671.6 2506.1,642.3 2505.5,658.7 2504.9,705.5 2504.2,717.9 2503.6,703.7 2503.0,774.9 2502.4,775.5 2501.8,727.9 2501.1,770.1 2500.5,728.4 2499.9,730.7 2499.3,694.5 2498.7,735.6 2498.0,760.7 2497.4,774.5 2496.8,757.7 2496.2,702.4 2495.5,687.7 2494.9,677.0 2494.3,670.4 2493.7,682.6 2493.1,639.9 2492.4,658.9 2491.8,644.3 2491.2,665.7 2490.6,708.6 2490.0,699.5 2489.3,703.6 2488.7,703.2 2488.1,728.2 2487.5,653.3 2486.8,730.6 2486.2,715.4 2485.6,727.8 2485.0,692.5 2484.4,657.7 2483.7,692.5 2483.1,706.8 2482.5,692.7 2481.9,731.6 2481.3,676.2 2480.6,690.0 2480.0,674.2 2479.4,682.5 2478.8,720.2 2478.1,704.9 2477.5,727.1 2476.9,732.3 2476.3,723.5 2475.7,705.2 2475.0,645.5 2474.4,659.7 2473.8,659.1 2473.2,717.5 2472.5,703.4 2471.9,714.0 2471.3,698.3 2470.7,673.9 2470.1,719.3 2469.4,679.2 2468.8,754.9 2468.2,758.2 2467.6,655.5 2467.0,645.5 2466.3,628.5 2465.7,653.2 2465.1,679.9 2464.5,690.5 2463.8,728.6 2463.2,844.8 2462.6,787.8 2462.0,807.6 2461.4,825.0 2460.7,819.5 2460.1,807.7 2459.5,739.0 2458.9,720.2 2458.3,703.5 2457.6,720.0 2457.0,782.2 2456.4,737.8 2455.8,739.2 2455.1,695.4 2454.5,749.6 2453.9,751.6 2453.3,695.6 2452.7,627.7 2452.0,713.1 2451.4,672.2 2450.8,657.8 2450.2,695.0 2449.6,652.8 2448.9,734.5 2448.3,795.5 2447.7,681.0 2447.1,767.1 2446.4,648.4 2445.8,678.9 2445.2,694.7 2444.6,697.5 2444.0,660.8 2443.3,675.9 2442.7,701.6 2442.1,687.2 2441.5,719.6 2440.9,696.6 2440.2,667.0 2439.6,671.5 2439.0,676.9 2438.4,727.1 2437.7,685.2 2437.1,691.7 2436.5,644.3 2435.9,676.0 2435.3,672.0 2434.6,669.1 2434.0,651.6 2433.4,633.1 2432.8,659.6 2432.2,658.9 2431.5,671.3 2430.9,705.3 2430.3,690.6 2429.7,687.3 2429.0,671.7 2428.4,646.9 2427.8,691.5 2427.2,677.3 2426.6,667.1 2425.9,685.9 2425.3,648.8 2424.7,720.1 2424.1,661.3 2423.5,645.9 2422.8,739.1 2422.2,693.6 2421.6,681.9 2421.0,711.4 2420.3,670.3 2419.7,682.2 2419.1,661.6 2418.5,682.6 2417.9,631.2 2417.2,668.2 2416.6,674.2 2416.0,678.6 2415.4,623.0 2414.8,689.0 2414.1,696.7 2413.5,742.8 2412.9,669.4 2412.3,699.5 2411.6,732.9 2411.0,708.4 2410.4,664.2 2409.8,684.6 2409.2,692.7 2408.5,723.9 2407.9,746.8 2407.3,748.7 2406.7,730.5 2406.0,748.3 2405.4,744.4 2404.8,753.9 2404.2,764.0 2403.6,726.9 2402.9,754.0 2402.3,789.0 2401.7,760.6 2401.1,750.9 2400.5,769.5 2399.8,744.7 2399.2,740.9 2398.6,685.6 2398.0,660.8 2397.3,695.3 2396.7,691.4 2396.1,698.1 2395.5,696.2 2394.9,689.7 2394.2,685.3 2393.6,670.2 2393.0,709.8 2392.4,678.4 2391.8,698.9 2391.1,718.2 2390.5,722.5 2389.9,698.2 2389.3,730.4 2388.6,702.6 2388.0,691.7 2387.4,673.3 2386.8,632.9 2386.2,660.4 2385.5,671.0 2384.9,735.7 2384.3,669.9 2383.7,754.7 2383.1,704.9 2382.4,758.0 2381.8,728.6 2381.2,695.5 2380.6,656.5 2379.9,669.3 2379.3,669.2 2378.7,666.4 2378.1,711.3 2377.5,716.9 2376.8,715.3 2376.2,646.4 2375.6,639.7 2375.0,659.2 2374.4,652.0 2373.7,673.5 2373.1,703.0 2372.5,683.7 2371.9,692.3 2371.2,705.6 2370.6,716.3 2370.0,712.9 2369.4,672.5 2368.8,659.5 2368.1,650.8 2367.5,655.5 2366.9,660.5 2366.3,716.6 2365.7,669.7 2365.0,670.7 2364.4,647.3 2363.8,661.4 2363.2,667.1 2362.5,668.8 2361.9,631.4 2361.3,709.4 2360.7,675.2 2360.1,663.1 2359.4,626.3 2358.8,654.7 2358.2,650.3 2357.6,726.5 2357.0,732.6 2356.3,704.3 2355.7,705.9 2355.1,698.6 2354.5,639.5 2353.8,678.6 2353.2,663.5 2352.6,675.7 2352.0,676.6 2351.4,667.9 2350.7,655.7 2350.1,682.2 2349.5,679.1 2348.9,670.2 2348.2,696.5 2347.6,662.5 2347.0,680.1 2346.4,709.3 2345.8,709.3 2345.1,678.4 2344.5,693.1 2343.9,664.3 2343.3,676.6 2342.7,638.2 2342.0,652.6 2341.4,645.3 2340.8,671.1 2340.2,637.0 2339.5,666.2 2338.9,705.3 2338.3,706.7 2337.7,683.6 2337.1,698.0 2336.4,657.4 2335.8,687.1 2335.2,741.9 2334.6,716.2 2334.0,738.7 2333.3,718.2 2332.7,727.4 2332.1,672.6 2331.5,675.6 2330.8,684.5 2330.2,683.3 2329.6,662.0 2329.0,663.5 2328.4,705.7 2327.7,705.2 2327.1,697.6 2326.5,699.1 2325.9,710.0 2325.3,679.2 2324.6,697.9 2324.0,678.7 2323.4,691.4 2322.8,678.7 2322.1,752.2 2321.5,727.4 2320.9,709.3 2320.3,682.7 2319.7,726.8 2319.0,670.2 2318.4,664.3 2317.8,648.0 2317.2,664.5 2316.6,657.8 2315.9,652.6 2315.3,684.0 2314.7,649.4 2314.1,686.9 2313.4,704.9 2312.8,696.7 2312.2,682.3 2311.6,710.9 2311.0,722.5 2310.3,742.8 2309.7,697.4 2309.1,664.3 2308.5,690.0 2307.9,638.6 2307.2,735.2 2306.6,726.9 2306.0,719.7 2305.4,740.2 2304.7,778.2 2304.1,788.5 2303.5,759.3 2302.9,735.0 2302.3,752.6 2301.6,748.1 2301.0,784.7 2300.4,764.6 2299.8,717.5 2299.2,717.6 2298.5,736.4 2297.9,682.9 2297.3,701.1 2296.7,681.2 2296.0,694.4 2295.4,742.4 2294.8,677.2 2294.2,708.1 2293.6,670.0 2292.9,714.1 2292.3,697.0 2291.7,698.6 2291.1,719.6 2290.4,671.3 2289.8,651.5 2289.2,647.1 2288.6,672.9 2288.0,722.2 2287.3,745.5 2286.7,682.5 2286.1,641.5 2285.5,687.8 2284.9,655.4 2284.2,701.7 2283.6,688.2 2283.0,751.7 2282.4,749.3 2281.7,749.9 2281.1,712.4 2280.5,702.5 2279.9,669.9 2279.3,659.8 2278.6,691.0 2278.0,669.1 2277.4,692.8 2276.8,703.0 2276.2,741.4 2275.5,676.0 2274.9,647.7 2274.3,662.2 2273.7,683.9 2273.0,685.6 2272.4,667.5 2271.8,685.7 2271.2,714.6 2270.6,689.5 2269.9,674.2 2269.3,710.8 2268.7,659.4 2268.1,710.2 2267.5,697.6 2266.8,672.7 2266.2,689.8 2265.6,689.0 2265.0,753.0 2264.3,723.7 2263.7,669.2 2263.1,666.7 2262.5,681.9 2261.9,647.3 2261.2,658.0 2260.6,648.9 2260.0,712.1 2259.4,672.4 2258.8,669.6 2258.1,666.5 2257.5,681.1 2256.9,651.2 2256.3,651.1 2255.6,661.2 2255.0,644.1 2254.4,673.1 2253.8,662.7 2253.2,663.6 2252.5,663.2 2251.9,651.5 2251.3,659.0 2250.7,710.0 2250.1,713.8 2249.4,674.3 2248.8,633.6 2248.2,617.0 2247.6,681.6 2246.9,700.2 2246.3,659.1 2245.7,671.8 2245.1,712.5 2244.5,705.7 2243.8,657.7 2243.2,682.7 2242.6,636.3 2242.0,662.7 2241.4,672.2 2240.7,635.2 2240.1,678.2 2239.5,661.1 2238.9,669.7 2238.2,699.9 2237.6,692.3 2237.0,715.7 2236.4,716.1 2235.8,695.3 2235.1,702.1 2234.5,714.8 2233.9,651.1 2233.3,668.2 2232.7,700.5 2232.0,660.4 2231.4,677.0 2230.8,692.3 2230.2,732.7 2229.5,762.2 2228.9,731.2 2228.3,690.1 2227.7,708.8 2227.1,639.9 2226.4,668.4 2225.8,661.6 2225.2,710.9 2224.6,663.1 2223.9,675.6 2223.3,723.0 2222.7,733.0 2222.1,726.1 2221.5,685.6 2220.8,750.9 2220.2,749.3 2219.6,710.6 2219.0,659.3 2218.4,687.7 2217.7,649.1 2217.1,717.2 2216.5,704.8 2215.9,716.9 2215.2,707.1 2214.6,718.5 2214.0,689.3 2213.4,703.5 2212.8,707.0 2212.1,689.4 2211.5,670.8 2210.9,762.3 2210.3,744.6 2209.7,685.5 2209.0,651.6 2208.4,679.7 2207.8,665.2 2207.2,652.5 2206.5,667.0 2205.9,643.6 2205.3,638.2 2204.7,685.8 2204.1,655.9 2203.4,640.4 2202.8,694.1 2202.2,707.1 2201.6,667.9 2201.0,675.3 2200.3,707.3 2199.7,724.5 2199.1,629.8 2198.5,703.2 2197.8,733.2 2197.2,729.9 2196.6,701.0 2196.0,729.4 2195.4,716.1 2194.7,681.1 2194.1,705.3 2193.5,681.0 2192.9,710.6 2192.3,683.3 2191.6,682.3 2191.0,679.5 2190.4,695.2 2189.8,689.8 2189.1,682.3 2188.5,683.4 2187.9,705.1 2187.3,683.3 2186.7,657.3 2186.0,694.3 2185.4,680.8 2184.8,697.9 2184.2,711.8 2183.6,671.8 2182.9,714.6 2182.3,709.6 2181.7,716.3 2181.1,672.6 2180.4,688.6 2179.8,657.8 2179.2,715.7 2178.6,747.1 2178.0,702.4 2177.3,699.2 2176.7,688.3 2176.1,650.8 2175.5,691.7 2174.9,670.6 2174.2,703.2 2173.6,707.8 2173.0,662.0 2172.4,636.5 2171.7,676.0 2171.1,688.7 2170.5,705.7 2169.9,684.1 2169.3,682.5 2168.6,704.2 2168.0,692.9 2167.4,703.5 2166.8,681.8 2166.2,711.5 2165.5,747.1 2164.9,722.8 2164.3,686.5 2163.7,721.7 2163.0,676.6 2162.4,733.5 2161.8,676.7 2161.2,714.0 2160.6,734.0 2159.9,733.1 2159.3,698.7 2158.7,693.3 2158.1,695.7 2157.4,661.1 2156.8,670.4 2156.2,684.3 2155.6,709.1 2155.0,671.6 2154.3,699.1 2153.7,679.3 2153.1,687.1 2152.5,696.8 2151.9,682.3 2151.2,651.2 2150.6,695.5 2150.0,653.2 2149.4,720.6 2148.7,700.0 2148.1,730.4 2147.5,699.6 2146.9,669.7 2146.3,713.5 2145.6,765.3 2145.0,749.3 2144.4,728.3 2143.8,714.6 2143.2,709.7 2142.5,678.0 2141.9,696.3 2141.3,695.2 2140.7,728.4 2140.0,683.4 2139.4,637.0 2138.8,663.7 2138.2,674.9 2137.6,661.7 2136.9,678.0 2136.3,667.2 2135.7,706.0 2135.1,719.1 2134.5,733.3 2133.8,702.0 2133.2,742.0 2132.6,690.1 2132.0,684.7 2131.3,681.2 2130.7,683.2 2130.1,719.7 2129.5,721.1 2128.9,709.8 2128.2,651.8 2127.6,651.0 2127.0,685.6 2126.4,703.5 2125.8,717.4 2125.1,733.5 2124.5,714.9 2123.9,659.8 2123.3,654.8 2122.6,669.4 2122.0,698.6 2121.4,750.7 2120.8,684.7 2120.2,656.7 2119.5,714.7 2118.9,643.0 2118.3,665.2 2117.7,717.7 2117.1,724.5 2116.4,712.6 2115.8,745.6 2115.2,717.0 2114.6,751.3 2113.9,759.9 2113.3,732.4 2112.7,682.6 2112.1,695.5 2111.5,752.4 2110.8,767.2 2110.2,746.4 2109.6,721.3 2109.0,718.2 2108.4,743.1 2107.7,715.9 2107.1,738.8 2106.5,737.6 2105.9,757.7 2105.2,728.4 2104.6,699.4 2104.0,682.7 2103.4,720.5 2102.8,756.4 2102.1,716.6 2101.5,701.8 2100.9,714.5 2100.3,739.8 2099.6,700.4 2099.0,736.1 2098.4,701.7 2097.8,699.2 2097.2,700.9 2096.5,717.5 2095.9,721.7 2095.3,716.2 2094.7,663.3 2094.1,671.2 2093.4,667.8 2092.8,680.0 2092.2,659.5 2091.6,680.9 2090.9,685.1 2090.3,716.8 2089.7,674.2 2089.1,660.3 2088.5,646.8 2087.8,694.6 2087.2,683.1 2086.6,651.8 2086.0,674.0 2085.4,654.2 2084.7,702.2 2084.1,690.6 2083.5,700.7 2082.9,691.0 2082.2,645.4 2081.6,697.4 2081.0,713.1 2080.4,674.4 2079.8,680.5 2079.1,681.7 2078.5,672.1 2077.9,669.6 2077.3,661.1 2076.7,697.4 2076.0,692.5 2075.4,704.2 2074.8,694.8 2074.2,707.9 2073.5,702.7 2072.9,713.4 2072.3,682.2 2071.7,670.3 2071.1,712.7 2070.4,717.1 2069.8,700.6 2069.2,696.4 2068.6,721.7 2068.0,655.1 2067.3,637.4 2066.7,654.4 2066.1,665.4 2065.5,666.8 2064.8,670.3 2064.2,715.0 2063.6,706.3 2063.0,680.7 2062.4,651.2 2061.7,748.7 2061.1,733.3 2060.5,711.7 2059.9,690.1 2059.3,684.5 2058.6,675.2 2058.0,733.0 2057.4,719.6 2056.8,702.3 2056.1,697.4 2055.5,644.0 2054.9,660.7 2054.3,687.4 2053.7,685.8 2053.0,664.1 2052.4,682.8 2051.8,688.8 2051.2,681.5 2050.6,674.8 2049.9,716.3 2049.3,676.6 2048.7,679.2 2048.1,697.8 2047.4,729.1 2046.8,710.0 2046.2,743.3 2045.6,724.7 2045.0,722.5 2044.3,716.7 2043.7,697.3 2043.1,661.0 2042.5,682.4 2041.8,684.8 2041.2,693.7 2040.6,692.8 2040.0,673.0 2039.4,641.9 2038.7,668.6 2038.1,666.1 2037.5,656.7 2036.9,663.0 2036.3,628.0 2035.6,694.0 2035.0,621.3 2034.4,644.4 2033.8,691.4 2033.1,668.3 2032.5,673.7 2031.9,677.4 2031.3,671.2 2030.7,685.6 2030.0,682.2 2029.4,698.1 2028.8,746.3 2028.2,723.1 2027.6,654.5 2026.9,641.4 2026.3,667.7 2025.7,664.6 2025.1,655.6 2024.4,641.5 2023.8,664.1 2023.2,678.1 2022.6,704.5 2022.0,664.9 2021.3,735.2 2020.7,764.4 2020.1,750.2 2019.5,682.7 2018.9,690.1 2018.2,687.8 2017.6,678.9 2017.0,691.1 2016.4,666.2 2015.7,669.4 2015.1,690.1 2014.5,690.5 2013.9,645.5 2013.3,647.8 2012.6,661.8 2012.0,661.1 2011.4,651.5 2010.8,638.5 2010.2,641.4 2009.5,692.4 2008.9,639.7 2008.3,640.2 2007.7,681.7 2007.0,719.5 2006.4,684.6 2005.8,669.7 2005.2,682.2 2004.6,691.8 2003.9,678.7 2003.3,693.8 2002.7,689.9 2002.1,683.3 2001.5,664.0 2000.8,641.1 2000.2,666.5 1999.6,646.0 1999.0,630.6 1998.3,648.4 1997.7,650.3 1997.1,703.4 1996.5,702.8 1995.9,692.0 1995.2,709.4 1994.6,714.3 1994.0,715.1 1993.4,742.1 1992.8,745.1 1992.1,723.8 1991.5,632.4 1990.9,634.8 1990.3,675.2 1989.6,662.4 1989.0,685.2 1988.4,656.2 1987.8,671.2 1987.2,647.8 1986.5,652.6 1985.9,668.9 1985.3,687.3 1984.7,653.3 1984.1,707.9 1983.4,660.6 1982.8,678.9 1982.2,688.6 1981.6,727.9 1980.9,680.7 1980.3,676.8 1979.7,626.2 1979.1,708.2 1978.5,682.6 1977.8,649.3 1977.2,657.0 1976.6,670.3 1976.0,692.7 1975.3,652.2 1974.7,681.0 1974.1,669.1 1973.5,680.8 1972.9,695.4 1972.2,720.5 1971.6,741.2 1971.0,708.9 1970.4,692.0 1969.8,670.6 1969.1,677.3 1968.5,688.3 1967.9,696.3 1967.3,700.3 1966.6,688.8 1966.0,698.9 1965.4,724.1 1964.8,716.6 1964.2,707.2 1963.5,643.0 1962.9,640.3 1962.3,675.3 1961.7,689.4 1961.1,659.0 1960.4,674.5 1959.8,649.7 1959.2,676.1 1958.6,681.9 1957.9,708.3 1957.3,702.2 1956.7,668.8 1956.1,680.8 1955.5,622.5 1954.8,707.2 1954.2,720.1 1953.6,676.5 1953.0,655.2 1952.4,708.6 1951.7,727.7 1951.1,686.1 1950.5,685.0 1949.9,707.4 1949.2,683.3 1948.6,659.4 1948.0,703.0 1947.4,691.0 1946.8,640.8 1946.1,664.4 1945.5,696.4 1944.9,661.4 1944.3,677.0 1943.7,649.7 1943.0,633.9 1942.4,643.7 1941.8,652.8 1941.2,711.7 1940.5,676.2 1939.9,660.4 1939.3,664.2 1938.7,668.0 1938.1,669.9 1937.4,659.2 1936.8,669.8 1936.2,651.2 1935.6,656.8 1935.0,693.2 1934.3,687.7 1933.7,732.1 1933.1,695.9 1932.5,690.8 1931.8,664.2 1931.2,648.5 1930.6,693.8 1930.0,690.0 1929.4,690.6 1928.7,645.0 1928.1,659.0 1927.5,650.1 1926.9,676.0 1926.3,634.4 1925.6,648.7 1925.0,669.2 1924.4,683.3 1923.8,694.9 1923.1,687.7 1922.5,715.8 1921.9,703.5 1921.3,700.8 1920.7,688.6 1920.0,705.9 1919.4,649.5 1918.8,683.7 1918.2,669.6 1917.5,676.0 1916.9,693.7 1916.3,672.3 1915.7,670.7 1915.1,691.4 1914.4,690.2 1913.8,677.4 1913.2,694.0 1912.6,701.2 1912.0,725.7 1911.3,739.2 1910.7,687.5 1910.1,661.0 1909.5,682.6 1908.8,666.7 1908.2,673.6 1907.6,663.4 1907.0,658.1 1906.4,722.0 1905.7,677.8 1905.1,685.5 1904.5,659.1 1903.9,661.4 1903.3,700.8 1902.6,665.3 1902.0,683.4 1901.4,664.7 1900.8,662.5 1900.1,645.5 1899.5,649.6 1898.9,666.3 1898.3,673.7 1897.7,666.5 1897.0,682.4 1896.4,671.2 1895.8,676.4 1895.2,724.0 1894.6,660.7 1893.9,660.5 1893.3,645.7 1892.7,648.4 1892.1,661.1 1891.4,713.6 1890.8,650.2 1890.2,666.6 1889.6,689.2 1889.0,712.2 1888.3,696.2 1887.7,671.4 1887.1,627.9 1886.5,668.8 1885.9,654.3 1885.2,652.6 1884.6,663.2 1884.0,685.9 1883.4,680.1 1882.7,652.0 1882.1,659.0 1881.5,698.7 1880.9,655.3 1880.3,655.3 1879.6,690.1 1879.0,684.5 1878.4,646.9 1877.8,646.8 1877.2,652.8 1876.5,641.8 1875.9,643.4 1875.3,639.5 1874.7,653.8 1874.0,669.0 1873.4,623.4 1872.8,657.1 1872.2,680.1 1871.6,678.2 1870.9,653.7 1870.3,655.2 1869.7,680.0 1869.1,656.1 1868.5,649.0 1867.8,679.6 1867.2,676.2 1866.6,658.6 1866.0,654.7 1865.3,708.8 1864.7,678.1 1864.1,709.6 1863.5,667.2 1862.9,691.8 1862.2,733.4 1861.6,684.6 1861.0,687.1 1860.4,689.4 1859.8,679.5 1859.1,656.1 1858.5,638.8 1857.9,670.4 1857.3,688.1 1856.6,681.2 1856.0,693.4 1855.4,702.1" fill="#a3d1ff" stroke="#a3d1ff" stroke-width="0.7" stroke-linejoin="round"/>
<polygon points="1855.4,579.7 1856.0,574.5 1856.6,577.1 1857.3,579.1 1857.9,573.2 1858.5,580.7 1859.1,563.4 1859.8,559.6 1860.4,550.9 1861.0,556.2 1861.6,546.8 1862.2,564.1 1862.9,563.7 1863.5,586.0 1864.1,558.8 1864.7,573.2 1865.3,586.6 1866.0,556.9 1866.6,575.0 1867.2,558.2 1867.8,565.5 1868.5,577.4 1869.1,559.9 1869.7,562.4 1870.3,590.3 1870.9,558.4 1871.6,580.6 1872.2,577.7 1872.8,557.9 1873.4,577.6 1874.0,575.6 1874.7,570.6 1875.3,584.6 1875.9,586.4 1876.5,567.0 1877.2,578.3 1877.8,571.5 1878.4,572.5 1879.0,549.4 1879.6,566.7 1880.3,572.5 1880.9,574.7 1881.5,569.8 1882.1,595.6 1882.7,586.8 1883.4,580.7 1884.0,564.6 1884.6,581.8 1885.2,559.8 1885.9,563.4 1886.5,573.6 1887.1,578.6 1887.7,565.2 1888.3,532.2 1889.0,563.6 1889.6,546.7 1890.2,584.7 1890.8,573.4 1891.4,565.2 1892.1,559.2 1892.7,574.0 1893.3,573.7 1893.9,583.7 1894.6,557.9 1895.2,555.6 1895.8,573.9 1896.4,572.3 1897.0,558.4 1897.7,560.8 1898.3,573.2 1898.9,571.5 1899.5,582.0 1900.1,583.6 1900.8,571.3 1901.4,578.0 1902.0,572.8 1902.6,562.1 1903.3,582.4 1903.9,580.0 1904.5,581.8 1905.1,575.3 1905.7,567.3 1906.4,555.1 1907.0,568.3 1907.6,556.5 1908.2,572.3 1908.8,573.1 1909.5,570.5 1910.1,570.3 1910.7,576.2 1911.3,519.2 1912.0,543.1 1912.6,542.1 1913.2,544.4 1913.8,563.2 1914.4,591.8 1915.1,564.7 1915.7,559.1 1916.3,561.3 1916.9,546.5 1917.5,565.4 1918.2,568.7 1918.8,573.3 1919.4,575.1 1920.0,570.7 1920.7,543.1 1921.3,527.2 1921.9,540.2 1922.5,538.4 1923.1,555.6 1923.8,562.3 1924.4,558.8 1925.0,551.2 1925.6,565.4 1926.3,578.0 1926.9,567.9 1927.5,557.5 1928.1,571.9 1928.7,573.3 1929.4,544.1 1930.0,549.8 1930.6,544.2 1931.2,559.4 1931.8,565.2 1932.5,576.5 1933.1,559.4 1933.7,564.7 1934.3,537.7 1935.0,555.6 1935.6,556.7 1936.2,572.0 1936.8,537.4 1937.4,578.1 1938.1,565.4 1938.7,565.7 1939.3,586.0 1939.9,561.2 1940.5,569.4 1941.2,547.9 1941.8,567.5 1942.4,587.6 1943.0,585.8 1943.7,590.3 1944.3,591.9 1944.9,596.6 1945.5,566.2 1946.1,569.4 1946.8,587.1 1947.4,568.9 1948.0,556.4 1948.6,570.6 1949.2,564.5 1949.9,547.5 1950.5,555.6 1951.1,545.1 1951.7,550.1 1952.4,568.0 1953.0,562.0 1953.6,578.4 1954.2,561.4 1954.8,558.4 1955.5,570.4 1956.1,551.3 1956.7,565.9 1957.3,552.6 1957.9,570.8 1958.6,583.6 1959.2,565.2 1959.8,586.5 1960.4,571.1 1961.1,572.6 1961.7,571.0 1962.3,571.9 1962.9,591.3 1963.5,581.6 1964.2,550.0 1964.8,555.2 1965.4,557.5 1966.0,557.8 1966.6,578.8 1967.3,563.8 1967.9,543.8 1968.5,551.7 1969.1,577.2 1969.8,542.4 1970.4,558.1 1971.0,537.2 1971.6,544.9 1972.2,547.3 1972.9,534.4 1973.5,561.0 1974.1,574.3 1974.7,556.7 1975.3,560.6 1976.0,558.5 1976.6,570.0 1977.2,582.1 1977.8,555.4 1978.5,559.9 1979.1,564.5 1979.7,574.9 1980.3,589.1 1980.9,564.7 1981.6,575.4 1982.2,584.0 1982.8,556.5 1983.4,580.2 1984.1,561.9 1984.7,578.3 1985.3,574.9 1985.9,567.9 1986.5,585.3 1987.2,575.9 1987.8,573.1 1988.4,575.5 1989.0,567.6 1989.6,567.8 1990.3,566.3 1990.9,587.4 1991.5,562.7 1992.1,547.0 1992.8,543.5 1993.4,564.5 1994.0,534.5 1994.6,547.1 1995.2,567.3 1995.9,558.9 1996.5,565.8 1997.1,561.6 1997.7,575.1 1998.3,569.1 1999.0,574.2 1999.6,585.2 2000.2,579.4 2000.8,591.2 2001.5,572.8 2002.1,552.7 2002.7,569.9 2003.3,554.2 2003.9,573.0 2004.6,557.2 2005.2,553.4 2005.8,578.3 2006.4,573.5 2007.0,565.7 2007.7,570.3 2008.3,581.7 2008.9,577.3 2009.5,573.1 2010.2,580.8 2010.8,580.0 2011.4,570.3 2012.0,587.9 2012.6,556.1 2013.3,584.4 2013.9,556.5 2014.5,572.1 2015.1,579.2 2015.7,577.5 2016.4,574.1 2017.0,570.6 2017.6,567.6 2018.2,570.1 2018.9,569.1 2019.5,522.9 2020.1,575.8 2020.7,559.5 2021.3,560.0 2022.0,588.0 2022.6,553.3 2023.2,561.6 2023.8,588.7 2024.4,575.8 2025.1,559.8 2025.7,579.5 2026.3,563.7 2026.9,564.0 2027.6,557.2 2028.2,554.6 2028.8,564.0 2029.4,537.4 2030.0,555.4 2030.7,567.7 2031.3,582.0 2031.9,577.5 2032.5,575.3 2033.1,570.5 2033.8,561.9 2034.4,570.6 2035.0,584.3 2035.6,572.4 2036.3,570.6 2036.9,565.9 2037.5,559.3 2038.1,552.2 2038.7,583.0 2039.4,578.3 2040.0,552.0 2040.6,550.9 2041.2,558.4 2041.8,579.5 2042.5,568.4 2043.1,540.5 2043.7,554.9 2044.3,544.3 2045.0,555.0 2045.6,531.6 2046.2,538.3 2046.8,546.4 2047.4,557.5 2048.1,557.0 2048.7,548.5 2049.3,577.9 2049.9,560.8 2050.6,583.4 2051.2,556.7 2051.8,578.6 2052.4,574.0 2053.0,561.1 2053.7,549.6 2054.3,551.2 2054.9,571.8 2055.5,584.2 2056.1,549.9 2056.8,545.8 2057.4,551.2 2058.0,569.9 2058.6,539.0 2059.3,556.8 2059.9,564.8 2060.5,543.2 2061.1,550.7 2061.7,545.2 2062.4,566.5 2063.0,538.1 2063.6,560.0 2064.2,564.3 2064.8,562.6 2065.5,581.2 2066.1,544.0 2066.7,574.1 2067.3,564.2 2068.0,550.7 2068.6,548.9 2069.2,564.6 2069.8,521.0 2070.4,533.3 2071.1,555.7 2071.7,566.4 2072.3,525.9 2072.9,527.9 2073.5,551.5 2074.2,537.1 2074.8,557.9 2075.4,575.7 2076.0,577.9 2076.7,528.9 2077.3,567.6 2077.9,591.4 2078.5,565.6 2079.1,567.2 2079.8,563.3 2080.4,546.6 2081.0,550.0 2081.6,566.1 2082.2,571.7 2082.9,557.0 2083.5,554.8 2084.1,536.7 2084.7,560.3 2085.4,582.6 2086.0,579.3 2086.6,577.0 2087.2,562.8 2087.8,579.6 2088.5,564.6 2089.1,556.4 2089.7,574.8 2090.3,559.9 2090.9,562.7 2091.6,578.1 2092.2,555.4 2092.8,556.9 2093.4,550.5 2094.1,569.8 2094.7,564.4 2095.3,568.9 2095.9,570.1 2096.5,553.3 2097.2,549.4 2097.8,574.0 2098.4,542.2 2099.0,544.6 2099.6,534.3 2100.3,541.9 2100.9,559.4 2101.5,563.6 2102.1,535.6 2102.8,549.3 2103.4,539.3 2104.0,564.4 2104.6,548.6 2105.2,531.0 2105.9,536.3 2106.5,537.0 2107.1,554.8 2107.7,558.5 2108.4,544.3 2109.0,540.6 2109.6,552.6 2110.2,551.8 2110.8,543.7 2111.5,550.5 2112.1,553.4 2112.7,534.7 2113.3,517.0 2113.9,520.0 2114.6,548.6 2115.2,545.7 2115.8,539.4 2116.4,550.0 2117.1,566.3 2117.7,554.4 2118.3,564.2 2118.9,548.6 2119.5,541.7 2120.2,556.7 2120.8,554.7 2121.4,545.7 2122.0,534.2 2122.6,567.2 2123.3,543.3 2123.9,546.1 2124.5,574.8 2125.1,535.4 2125.8,529.0 2126.4,537.8 2127.0,535.7 2127.6,579.9 2128.2,566.3 2128.9,559.1 2129.5,562.2 2130.1,519.2 2130.7,563.9 2131.3,548.1 2132.0,547.9 2132.6,563.5 2133.2,532.5 2133.8,550.1 2134.5,546.1 2135.1,553.6 2135.7,565.4 2136.3,572.3 2136.9,554.4 2137.6,566.9 2138.2,547.5 2138.8,567.6 2139.4,577.6 2140.0,568.6 2140.7,564.0 2141.3,554.1 2141.9,537.7 2142.5,583.7 2143.2,548.2 2143.8,559.4 2144.4,550.7 2145.0,529.1 2145.6,553.4 2146.3,548.0 2146.9,576.2 2147.5,560.0 2148.1,549.3 2148.7,530.9 2149.4,541.5 2150.0,537.4 2150.6,552.8 2151.2,562.7 2151.9,548.1 2152.5,551.2 2153.1,525.9 2153.7,574.2 2154.3,553.9 2155.0,584.1 2155.6,556.7 2156.2,577.9 2156.8,551.4 2157.4,550.5 2158.1,566.2 2158.7,558.7 2159.3,544.1 2159.9,566.0 2160.6,546.6 2161.2,549.3 2161.8,557.6 2162.4,545.9 2163.0,558.5 2163.7,572.4 2164.3,574.7 2164.9,560.9 2165.5,551.7 2166.2,546.8 2166.8,584.0 2167.4,547.7 2168.0,564.4 2168.6,541.4 2169.3,565.9 2169.9,550.6 2170.5,553.2 2171.1,556.3 2171.7,560.8 2172.4,565.3 2173.0,562.4 2173.6,567.9 2174.2,553.3 2174.9,581.7 2175.5,550.8 2176.1,586.4 2176.7,560.9 2177.3,568.5 2178.0,557.4 2178.6,575.0 2179.2,560.2 2179.8,577.7 2180.4,574.8 2181.1,549.8 2181.7,567.4 2182.3,577.4 2182.9,539.1 2183.6,583.8 2184.2,573.7 2184.8,567.9 2185.4,584.1 2186.0,580.4 2186.7,573.4 2187.3,553.5 2187.9,567.0 2188.5,559.3 2189.1,562.6 2189.8,577.9 2190.4,573.5 2191.0,554.0 2191.6,563.5 2192.3,567.7 2192.9,548.1 2193.5,549.8 2194.1,542.3 2194.7,536.6 2195.4,540.6 2196.0,535.5 2196.6,523.1 2197.2,529.0 2197.8,540.0 2198.5,552.2 2199.1,598.0 2199.7,562.1 2200.3,581.8 2201.0,574.3 2201.6,564.4 2202.2,551.7 2202.8,544.4 2203.4,576.1 2204.1,573.6 2204.7,574.1 2205.3,580.9 2205.9,577.1 2206.5,568.6 2207.2,564.3 2207.8,568.4 2208.4,558.5 2209.0,566.4 2209.7,549.3 2210.3,536.4 2210.9,548.5 2211.5,561.8 2212.1,534.1 2212.8,550.4 2213.4,572.0 2214.0,555.4 2214.6,569.9 2215.2,555.2 2215.9,553.4 2216.5,561.9 2217.1,566.6 2217.7,581.8 2218.4,571.6 2219.0,566.9 2219.6,538.9 2220.2,538.4 2220.8,551.1 2221.5,566.8 2222.1,552.4 2222.7,567.4 2223.3,562.0 2223.9,557.6 2224.6,581.3 2225.2,570.3 2225.8,555.6 2226.4,576.3 2227.1,558.8 2227.7,540.3 2228.3,577.9 2228.9,518.7 2229.5,516.6 2230.2,543.4 2230.8,559.6 2231.4,574.4 2232.0,565.3 2232.7,571.5 2233.3,584.2 2233.9,570.4 2234.5,554.7 2235.1,528.2 2235.8,547.6 2236.4,534.2 2237.0,568.0 2237.6,551.8 2238.2,547.2 2238.9,577.2 2239.5,574.8 2240.1,548.7 2240.7,563.7 2241.4,558.5 2242.0,582.8 2242.6,568.2 2243.2,575.3 2243.8,559.4 2244.5,548.0 2245.1,562.8 2245.7,581.5 2246.3,565.7 2246.9,560.9 2247.6,583.2 2248.2,594.1 2248.8,578.9 2249.4,573.6 2250.1,553.1 2250.7,540.3 2251.3,569.1 2251.9,561.9 2252.5,567.9 2253.2,570.5 2253.8,559.3 2254.4,575.7 2255.0,576.1 2255.6,574.7 2256.3,573.9 2256.9,578.4 2257.5,572.0 2258.1,572.0 2258.8,577.8 2259.4,567.6 2260.0,566.4 2260.6,566.7 2261.2,557.3 2261.9,574.8 2262.5,578.6 2263.1,572.8 2263.7,569.0 2264.3,559.7 2265.0,562.4 2265.6,559.6 2266.2,554.6 2266.8,562.0 2267.5,552.7 2268.1,566.8 2268.7,576.2 2269.3,560.7 2269.9,539.2 2270.6,560.4 2271.2,551.9 2271.8,579.5 2272.4,592.4 2273.0,559.5 2273.7,578.2 2274.3,556.0 2274.9,583.9 2275.5,549.9 2276.2,567.6 2276.8,573.7 2277.4,557.0 2278.0,554.9 2278.6,577.8 2279.3,572.9 2279.9,565.4 2280.5,554.7 2281.1,525.8 2281.7,554.6 2282.4,556.0 2283.0,556.7 2283.6,546.8 2284.2,568.8 2284.9,565.2 2285.5,585.7 2286.1,577.6 2286.7,582.8 2287.3,548.0 2288.0,546.8 2288.6,572.0 2289.2,562.3 2289.8,578.6 2290.4,590.2 2291.1,577.4 2291.7,575.9 2292.3,569.6 2292.9,584.7 2293.6,587.4 2294.2,561.9 2294.8,533.8 2295.4,547.4 2296.0,560.2 2296.7,554.8 2297.3,564.9 2297.9,561.5 2298.5,533.4 2299.2,525.0 2299.8,533.4 2300.4,541.3 2301.0,554.1 2301.6,554.6 2302.3,527.1 2302.9,523.6 2303.5,536.5 2304.1,535.3 2304.7,553.8 2305.4,549.3 2306.0,536.4 2306.6,560.9 2307.2,576.5 2307.9,581.1 2308.5,550.2 2309.1,564.9 2309.7,546.0 2310.3,527.2 2311.0,512.2 2311.6,553.5 2312.2,536.0 2312.8,549.4 2313.4,571.8 2314.1,568.6 2314.7,563.8 2315.3,568.4 2315.9,582.7 2316.6,579.0 2317.2,562.9 2317.8,572.1 2318.4,547.2 2319.0,597.5 2319.7,554.7 2320.3,573.2 2320.9,536.8 2321.5,535.9 2322.1,548.5 2322.8,539.9 2323.4,555.2 2324.0,574.4 2324.6,568.6 2325.3,587.6 2325.9,552.6 2326.5,561.3 2327.1,556.2 2327.7,539.2 2328.4,545.0 2329.0,563.0 2329.6,543.2 2330.2,559.2 2330.8,551.6 2331.5,557.8 2332.1,555.4 2332.7,560.7 2333.3,560.1 2334.0,557.5 2334.6,564.7 2335.2,559.9 2335.8,574.6 2336.4,581.8 2337.1,565.7 2337.7,571.6 2338.3,565.9 2338.9,559.7 2339.5,577.5 2340.2,579.2 2340.8,562.1 2341.4,583.6 2342.0,585.0 2342.7,585.1 2343.3,573.0 2343.9,578.9 2344.5,553.6 2345.1,548.5 2345.8,541.2 2346.4,567.9 2347.0,558.8 2347.6,577.1 2348.2,560.6 2348.9,565.0 2349.5,552.9 2350.1,577.2 2350.7,586.1 2351.4,555.4 2352.0,583.2 2352.6,557.9 2353.2,579.1 2353.8,586.9 2354.5,582.4 2355.1,552.9 2355.7,552.0 2356.3,563.7 2357.0,554.0 2357.6,552.4 2358.2,575.1 2358.8,562.2 2359.4,594.0 2360.1,572.2 2360.7,570.2 2361.3,561.5 2361.9,574.7 2362.5,583.0 2363.2,527.2 2363.8,577.5 2364.4,595.3 2365.0,584.0 2365.7,572.3 2366.3,580.6 2366.9,572.8 2367.5,576.3 2368.1,557.3 2368.8,568.7 2369.4,564.8 2370.0,536.1 2370.6,534.9 2371.2,564.8 2371.9,559.3 2372.5,552.3 2373.1,549.5 2373.7,562.6 2374.4,587.7 2375.0,574.5 2375.6,575.2 2376.2,571.5 2376.8,545.1 2377.5,533.1 2378.1,558.8 2378.7,586.5 2379.3,587.1 2379.9,572.2 2380.6,578.7 2381.2,569.2 2381.8,571.4 2382.4,566.2 2383.1,531.2 2383.7,530.1 2384.3,566.8 2384.9,545.1 2385.5,538.9 2386.2,586.3 2386.8,560.1 2387.4,556.2 2388.0,578.6 2388.6,571.1 2389.3,579.3 2389.9,555.8 2390.5,539.1 2391.1,586.5 2391.8,588.3 2392.4,569.0 2393.0,579.8 2393.6,587.8 2394.2,585.4 2394.9,557.8 2395.5,546.7 2396.1,552.6 2396.7,567.4 2397.3,556.1 2398.0,581.6 2398.6,562.1 2399.2,558.5 2399.8,547.1 2400.5,548.6 2401.1,540.0 2401.7,547.7 2402.3,536.6 2402.9,538.9 2403.6,521.3 2404.2,542.1 2404.8,543.7 2405.4,530.0 2406.0,533.0 2406.7,560.4 2407.3,555.9 2407.9,557.3 2408.5,537.6 2409.2,534.4 2409.8,536.3 2410.4,564.0 2411.0,555.5 2411.6,551.1 2412.3,575.4 2412.9,578.0 2413.5,539.1 2414.1,543.9 2414.8,552.4 2415.4,570.3 2416.0,554.3 2416.6,567.0 2417.2,579.9 2417.9,583.1 2418.5,560.1 2419.1,572.6 2419.7,581.3 2420.3,541.6 2421.0,558.4 2421.6,569.3 2422.2,549.4 2422.8,559.9 2423.5,586.3 2424.1,572.7 2424.7,553.9 2425.3,587.6 2425.9,564.8 2426.6,559.8 2427.2,560.1 2427.8,582.2 2428.4,578.8 2429.0,564.6 2429.7,583.1 2430.3,555.2 2430.9,564.0 2431.5,572.6 2432.2,564.1 2432.8,561.3 2433.4,590.9 2434.0,564.8 2434.6,567.7 2435.3,562.4 2435.9,574.8 2436.5,591.7 2437.1,577.0 2437.7,554.0 2438.4,554.2 2439.0,577.2 2439.6,578.9 2440.2,577.7 2440.9,577.1 2441.5,553.2 2442.1,531.4 2442.7,555.2 2443.3,545.2 2444.0,560.3 2444.6,542.5 2445.2,519.0 2445.8,551.4 2446.4,573.1 2447.1,579.3 2447.7,577.9 2448.3,554.3 2448.9,555.2 2449.6,565.0 2450.2,562.6 2450.8,586.2 2451.4,560.2 2452.0,550.0 2452.7,568.5 2453.3,573.5 2453.9,559.9 2454.5,566.2 2455.1,565.6 2455.8,547.4 2456.4,545.0 2457.0,521.0 2457.6,529.9 2458.3,535.9 2458.9,551.8 2459.5,557.7 2460.1,535.7 2460.7,533.8 2461.4,524.3 2462.0,541.9 2462.6,530.4 2463.2,517.7 2463.8,548.7 2464.5,553.2 2465.1,564.3 2465.7,579.4 2466.3,573.9 2467.0,550.9 2467.6,564.4 2468.2,570.9 2468.8,550.9 2469.4,567.4 2470.1,564.5 2470.7,574.8 2471.3,567.6 2471.9,564.8 2472.5,579.1 2473.2,567.2 2473.8,562.8 2474.4,572.7 2475.0,575.3 2475.7,568.9 2476.3,545.5 2476.9,560.9 2477.5,540.9 2478.1,544.0 2478.8,543.0 2479.4,570.2 2480.0,573.6 2480.6,556.8 2481.3,578.0 2481.9,548.0 2482.5,565.7 2483.1,561.3 2483.7,553.0 2484.4,583.3 2485.0,554.6 2485.6,553.2 2486.2,565.4 2486.8,576.5 2487.5,560.1 2488.1,564.2 2488.7,559.1 2489.3,562.9 2490.0,554.1 2490.6,541.7 2491.2,566.1 2491.8,573.1 2492.4,577.0 2493.1,581.4 2493.7,548.6 2494.3,575.6 2494.9,546.3 2495.5,574.6 2496.2,512.0 2496.8,521.0 2497.4,544.7 2498.0,554.0 2498.7,526.8 2499.3,540.2 2499.9,538.7 2500.5,546.2 2501.1,558.3 2501.8,552.7 2502.4,520.8 2503.0,556.7 2503.6,557.8 2504.2,561.9 2504.9,558.0 2505.5,578.1 2506.1,579.6 2506.7,558.6 2507.4,559.1 2508.0,573.2 2508.6,554.3 2509.2,583.2 2509.8,567.8 2510.5,553.3 2511.1,550.2 2511.7,571.9 2512.3,573.0 2512.9,565.0 2513.6,567.7 2514.2,573.3 2514.8,562.6 2515.4,567.5 2516.1,560.6 2516.7,529.4 2517.3,554.1 2517.9,526.2 2518.5,523.9 2519.2,583.1 2519.8,563.7 2520.4,545.3 2521.0,540.1 2521.6,553.4 2522.3,558.2 2522.9,567.3 2523.5,563.0 2524.1,553.7 2524.8,536.9 2525.4,546.2 2526.0,525.1 2526.6,543.6 2527.2,578.6 2527.9,563.0 2528.5,573.5 2529.1,581.3 2529.7,548.9 2530.3,556.0 2531.0,563.4 2531.6,550.6 2532.2,547.8 2532.8,529.7 2533.5,542.9 2534.1,529.1 2534.7,535.9 2535.3,575.1 2535.9,561.0 2536.6,538.1 2537.2,525.9 2537.8,550.7 2538.4,574.0 2539.1,553.4 2539.7,538.7 2540.3,545.2 2540.9,537.8 2541.5,568.9 2542.2,555.7 2542.8,554.5 2543.4,563.8 2544.0,557.0 2544.6,564.4 2545.3,569.2 2545.9,555.9 2546.5,548.9 2547.1,522.5 2547.8,553.2 2548.4,568.6 2549.0,543.8 2549.6,503.8 2550.2,507.2 2550.9,507.9 2551.5,510.4 2552.1,510.9 2552.7,541.2 2553.3,574.7 2554.0,567.3 2554.6,564.9 2555.2,576.5 2555.8,567.4 2556.5,566.5 2557.1,585.7 2557.7,574.3 2558.3,531.0 2558.9,583.1 2559.6,576.7 2560.2,573.8 2560.8,563.3 2561.4,556.1 2562.0,575.3 2562.7,582.1 2563.3,571.8 2563.9,537.3 2564.5,549.6 2565.2,543.5 2565.8,537.4 2566.4,550.5 2567.0,570.9 2567.6,570.1 2568.3,577.4 2568.9,581.8 2569.5,582.0 2570.1,564.0 2570.7,556.5 2571.4,586.2 2572.0,591.9 2572.6,551.3 2573.2,555.9 2573.9,547.8 2574.5,589.2 2575.1,574.1 2575.7,558.6 2576.3,569.6 2577.0,563.6 2577.6,543.9 2578.2,556.6 2578.8,544.0 2579.4,542.5 2580.1,537.4 2580.7,570.4 2581.3,556.6 2581.9,575.2 2582.6,577.0 2583.2,570.2 2583.8,589.5 2584.4,565.1 2585.0,555.5 2585.7,542.4 2586.3,556.2 2586.9,530.6 2587.5,530.5 2588.1,546.2 2588.8,521.5 2589.4,573.3 2590.0,551.4 2590.6,574.7 2591.3,566.7 2591.9,555.7 2592.5,550.3 2593.1,571.6 2593.7,567.1 2594.4,573.2 2595.0,580.0 2595.6,550.0 2596.2,573.1 2596.8,573.1 2597.5,562.6 2598.1,561.7 2598.7,536.7 2599.3,545.0 2600.0,552.0 2600.6,531.9 2601.2,548.0 2601.8,555.2 2602.4,591.7 2603.1,541.9 2603.7,520.9 2604.3,545.7 2604.9,537.9 2605.6,546.2 2606.2,564.8 2606.8,538.4 2607.4,563.3 2608.0,571.9 2608.7,582.7 2609.3,562.1 2609.9,565.7 2610.5,533.3 2611.1,574.1 2611.8,568.9 2612.4,562.3 2613.0,596.1 2613.6,555.7 2614.3,552.9 2614.9,572.5 2615.5,576.7 2616.1,564.9 2616.7,573.4 2617.4,568.0 2618.0,555.2 2618.6,529.5 2619.2,561.6 2619.8,527.9 2620.5,538.2 2621.1,545.9 2621.7,544.8 2622.3,576.9 2623.0,575.9 2623.6,576.0 2624.2,566.3 2624.8,587.2 2625.4,588.5 2626.1,570.9 2626.7,572.4 2627.3,572.4 2627.9,549.7 2628.5,551.4 2629.2,568.4 2629.8,576.1 2630.4,554.7 2631.0,548.5 2631.7,492.7 2632.3,550.7 2632.9,566.7 2633.5,568.6 2634.1,566.6 2634.8,562.4 2635.4,575.2 2636.0,572.7 2636.6,553.6 2637.2,578.9 2637.9,562.7 2638.5,557.8 2639.1,573.0 2639.7,579.1 2640.4,577.4 2641.0,581.9 2641.6,581.6 2642.2,571.3 2642.8,579.0 2643.5,545.7 2644.1,569.0 2644.7,552.7 2645.3,561.9 2645.9,539.5 2646.6,531.3 2647.2,541.0 2647.8,579.7 2648.4,563.1 2649.1,576.4 2649.7,565.3 2650.3,551.6 2650.9,566.3 2651.5,540.8 2652.2,565.8 2652.8,567.5 2653.4,531.4 2654.0,555.7 2654.6,561.7 2655.3,547.7 2655.9,551.6 2656.5,555.8 2657.1,555.9 2657.8,542.4 2658.4,544.3 2659.0,562.6 2659.6,563.0 2660.2,579.6 2660.9,571.1 2661.5,574.4 2662.1,585.8 2662.7,573.7 2663.3,573.5 2664.0,559.9 2664.6,564.8 2665.2,568.7 2665.8,588.2 2666.5,572.6 2667.1,552.1 2667.7,556.8 2668.3,558.4 2668.9,581.7 2669.6,563.6 2670.2,580.0 2670.8,571.6 2671.4,537.7 2672.1,562.9 2672.7,555.4 2673.3,567.8 2673.9,575.9 2674.5,585.4 2675.2,556.6 2675.8,561.1 2676.4,568.7 2677.0,579.1 2677.6,569.7 2678.3,575.1 2678.9,591.3 2679.5,555.9 2680.1,566.7 2680.8,535.4 2681.4,556.1 2682.0,548.2 2682.6,519.5 2683.2,499.0 2683.9,541.2 2684.5,539.1 2685.1,567.7 2685.7,572.1 2686.3,583.4 2687.0,539.0 2687.6,582.3 2688.2,559.6 2688.8,568.2 2689.5,542.0 2690.1,544.1 2690.7,571.3 2691.3,568.3 2691.9,564.5 2692.6,549.5 2693.2,569.5 2693.8,591.7 2694.4,573.7 2695.0,580.2 2695.7,576.0 2696.3,581.8 2696.9,580.8 2697.5,538.1 2698.2,543.9 2698.8,553.5 2699.4,545.7 2700.0,559.3 2700.6,552.3 2701.3,568.1 2701.9,567.7 2702.5,570.5 2703.1,571.3 2703.7,578.7 2704.4,542.7 2705.0,565.5 2705.6,564.1 2706.2,541.2 2706.9,533.6 2707.5,554.6 2708.1,567.9 2708.7,557.6 2709.3,555.6 2710.0,567.8 2710.6,574.9 2711.2,562.2 2711.8,537.9 2712.4,554.4 2713.1,536.8 2713.7,546.4 2714.3,520.3 2714.9,560.4 2715.6,559.0 2716.2,574.0 2716.8,551.5 2717.4,552.1 2718.0,556.2 2718.7,569.3 2719.3,570.6 2719.9,566.3 2720.5,575.3 2721.1,571.2 2721.8,546.0 2722.4,546.1 2723.0,542.5 2723.6,550.0 2724.3,552.5 2724.9,579.1 2725.5,554.7 2726.1,563.7 2726.7,574.4 2727.4,555.0 2728.0,555.9 2728.6,577.0 2729.2,570.2 2729.9,525.7 2730.5,514.4 2731.1,507.9 2731.7,551.6 2732.3,564.7 2733.0,558.7 2733.6,548.4 2734.2,544.2 2734.8,552.0 2735.4,557.3 2736.1,570.3 2736.7,581.9 2737.3,535.2 2737.9,554.6 2738.6,561.2 2739.2,557.0 2739.8,540.6 2740.4,566.0 2741.0,564.1 2741.7,567.8 2742.3,553.8 2742.9,549.6 2743.5,556.0 2744.1,532.6 2744.8,546.5 2745.4,574.5 2746.0,549.1 2746.6,547.1 2747.3,575.0 2747.9,571.5 2748.5,577.6 2749.1,561.6 2749.7,550.6 2750.4,554.6 2751.0,555.3 2751.6,572.3 2752.2,570.2 2752.8,548.7 2753.5,547.3 2754.1,565.1 2754.7,565.4 2755.3,561.9 2756.0,559.9 2756.6,555.0 2757.2,569.9 2757.8,547.0 2758.4,571.6 2759.1,541.9 2759.7,529.7 2760.3,542.7 2760.9,546.0 2761.5,551.1 2762.2,558.8 2762.8,525.1 2763.4,553.7 2764.0,567.2 2764.7,568.3 2765.3,571.2 2765.9,579.0 2766.5,574.5 2767.1,540.5 2767.8,553.9 2768.4,563.0 2769.0,576.8 2769.6,543.3 2770.2,562.7 2770.9,535.1 2771.5,563.7 2772.1,544.5 2772.7,525.9 2773.4,523.9 2774.0,538.3 2774.6,546.2 2775.2,545.5 2775.8,556.1 2776.5,545.9 2777.1,559.8 2777.7,545.8 2778.3,539.8 2778.9,521.9 2779.6,506.0 2780.2,527.0 2780.8,502.7 2781.4,520.9 2782.1,533.3 2782.7,518.5 2783.3,576.3 2783.9,562.5 2784.5,541.0 2785.2,558.9 2785.8,582.9 2786.4,574.9 2787.0,575.8 2787.6,576.3 2788.3,562.2 2788.9,592.8 2789.5,542.9 2790.1,552.2 2790.8,552.4 2791.4,534.6 2792.0,514.8 2792.6,522.2 2793.2,519.2 2793.9,539.4 2794.5,526.6 2795.1,553.1 2795.7,525.7 2796.4,566.4 2797.0,552.3 2797.6,546.5 2798.2,556.0 2798.8,533.6 2799.5,556.2 2800.1,546.3 2800.7,538.5 2801.3,542.6 2801.9,524.9 2802.6,567.8 2803.2,530.8 2803.8,567.2 2804.4,566.9 2805.1,545.9 2805.7,588.9 2806.3,542.7 2806.9,559.3 2807.5,582.7 2808.2,571.4 2808.8,561.9 2809.4,551.7 2810.0,571.1 2810.6,543.6 2811.3,547.9 2811.9,526.5 2812.5,513.9 2813.1,554.6 2813.8,525.8 2814.4,581.2 2815.0,577.8 2815.6,550.3 2816.2,547.8 2816.9,569.6 2817.5,564.2 2818.1,597.4 2818.7,573.0 2819.3,533.2 2820.0,572.8 2820.6,575.7 2821.2,588.0 2821.8,539.2 2822.5,537.6 2823.1,569.7 2823.7,577.9 2824.3,558.4 2824.9,559.2 2825.6,573.1 2826.2,553.2 2826.8,540.3 2827.4,570.3 2828.0,572.4 2828.7,583.4 2829.3,563.7 2829.9,537.9 2830.5,519.8 2831.2,517.5 2831.8,483.5 2832.4,492.3 2833.0,515.3 2833.6,527.6 2834.3,548.2 2834.9,557.6 2835.5,545.4 2836.1,540.9 2836.7,552.3 2837.4,532.4 2838.0,556.0 2838.6,519.6 2839.2,528.9 2839.9,533.2 2840.5,572.4 2841.1,560.3 2841.7,579.2 2842.3,572.6 2843.0,564.9 2843.6,528.7 2844.2,533.1 2844.8,523.2 2845.4,543.8 2846.1,557.9 2846.7,577.0 2847.3,556.7 2847.9,573.1 2848.6,549.8 2849.2,553.2 2849.8,554.6 2850.4,546.1 2851.0,560.2 2851.7,526.3 2852.3,547.1 2852.9,515.6 2853.5,558.6 2854.2,557.5 2854.8,523.4 2855.4,552.7 2856.0,569.1 2856.6,567.6 2857.3,550.9 2857.9,504.5 2858.5,538.8 2859.1,508.1 2859.7,518.7 2860.4,528.7 2861.0,547.2 2861.6,533.0 2862.2,506.6 2862.9,542.0 2863.5,520.4 2864.1,541.9 2864.7,567.6 2865.3,571.9 2866.0,545.3 2866.6,547.6 2867.2,533.6 2867.8,541.7 2868.4,596.2 2869.1,541.5 2869.7,555.6 2870.3,541.2 2870.9,512.8 2871.6,522.7 2872.2,543.5 2872.8,538.7 2873.4,523.4 2874.0,540.5 2874.7,541.7 2875.3,575.4 2875.9,580.5 2876.5,560.2 2877.1,544.9 2877.8,541.8 2878.4,566.4 2879.0,589.9 2879.6,566.3 2880.3,542.9 2880.9,544.0 2881.5,578.4 2882.1,555.5 2882.7,549.8 2883.4,578.0 2884.0,576.8 2884.6,556.4 2885.2,527.3 2885.8,554.7 2886.5,569.1 2887.1,539.0 2887.7,534.4 2888.3,555.3 2889.0,559.4 2889.6,539.7 2890.2,513.8 2890.8,532.1 2891.4,557.6 2892.1,581.9 2892.7,565.1 2893.3,569.8 2893.9,574.5 2894.5,581.6 2895.2,534.7 2895.8,527.7 2896.4,517.9 2897.0,538.1 2897.7,529.1 2898.3,568.4 2898.9,576.1 2899.5,550.1 2900.1,512.7 2900.8,520.8 2901.4,546.9 2902.0,550.0 2902.6,556.1 2903.2,552.2 2903.9,559.7 2904.5,575.8 2905.1,537.5 2905.7,560.0 2906.4,538.5 2907.0,569.2 2907.6,570.2 2908.2,557.1 2908.8,539.0 2909.5,568.0 2910.1,539.8 2910.7,566.4 2911.3,538.1 2911.9,511.5 2912.6,536.7 2913.2,531.4 2913.8,516.7 2914.4,547.1 2915.1,555.8 2915.7,582.7 2916.3,545.5 2916.9,565.6 2917.5,550.7 2918.2,570.7 2918.8,574.4 2919.4,588.4 2920.0,582.2 2920.7,571.8 2921.3,570.7 2921.9,552.5 2922.5,561.0 2923.1,545.0 2923.8,578.7 2924.4,564.9 2925.0,555.3 2925.6,536.9 2926.2,579.3 2926.9,572.0 2927.5,571.3 2928.1,552.3 2928.7,580.6 2929.4,559.8 2930.0,553.7 2930.6,540.4 2931.2,560.8 2931.8,513.1 2932.5,539.2 2933.1,546.4 2933.7,560.9 2934.3,575.9 2934.9,532.8 2935.6,555.6 2936.2,584.1 2936.8,561.1 2937.4,565.5 2938.1,536.5 2938.7,542.7 2939.3,555.1 2939.9,559.0 2940.5,583.8 2941.2,560.5 2941.8,555.6 2942.4,524.8 2943.0,515.5 2943.6,536.1 2944.3,556.1 2944.9,531.2 2945.5,549.3 2946.1,589.2 2946.8,574.8 2947.4,546.4 2948.0,561.5 2948.6,558.1 2949.2,593.5 2949.9,570.0 2950.5,584.9 2951.1,534.0 2951.7,553.4 2952.3,564.1 2953.0,563.9 2953.6,544.8 2954.2,560.2 2954.8,560.5 2955.5,598.0 2956.1,541.5 2956.7,560.5 2957.3,556.6 2957.9,566.7 2958.6,535.3 2959.2,558.3 2959.8,545.2 2960.4,571.0 2961.0,565.4 2961.7,539.6 2962.3,546.0 2962.9,579.0 2963.5,572.6 2964.2,557.9 2964.8,544.2 2965.4,557.4 2966.0,539.6 2966.6,538.7 2967.3,556.5 2967.9,566.3 2968.5,590.2 2969.1,577.1 2969.7,571.9 2970.4,548.9 2971.0,551.4 2971.6,549.2 2972.2,563.4 2972.9,525.2 2973.5,545.8 2974.1,563.5 2974.7,559.8 2975.3,593.4 2976.0,577.5 2976.6,561.9 2977.2,565.8 2977.8,577.9 2978.5,572.2 2979.1,585.7 2979.7,569.1 2980.3,585.3 2980.9,576.8 2981.6,535.0 2982.2,538.8 2982.8,536.2 2983.4,598.0 2984.0,581.9 2984.7,566.1 2985.3,568.4 2985.9,559.1 2986.5,581.7 2987.2,582.1 2987.8,552.5 2988.4,585.3 2989.0,564.8 2989.6,596.3 2990.3,553.9 2990.9,542.8 2991.5,579.7 2992.1,560.0 2992.7,543.7 2993.4,556.9 2994.0,580.4 2994.6,575.2 2995.2,559.7 2995.9,556.5 2996.5,551.4 2997.1,525.6 2997.7,544.0 2998.3,547.1 2999.0,537.7 2999.6,563.8 3000.2,571.8 3000.8,579.3 3001.4,564.3 3002.1,572.8 3002.7,547.4 3003.3,555.8 3003.9,566.3 3004.6,582.0 3005.2,564.9 3005.8,559.7 3006.4,568.7 3007.0,560.7 3007.7,570.1 3008.3,559.0 3008.9,570.6 3009.5,568.8 3010.1,539.5 3010.8,530.7 3011.4,553.6 3012.0,535.8 3012.6,522.5 3013.3,535.5 3013.9,557.3 3014.5,568.1 3015.1,562.0 3015.7,570.3 3016.4,596.5 3017.0,584.4 3017.6,535.0 3018.2,539.6 3018.8,557.7 3019.5,549.1 3020.1,571.9 3020.7,554.2 3021.3,541.2 3022.0,544.0 3022.6,562.3 3023.2,544.1 3023.8,523.2 3024.4,534.6 3025.1,561.4 3025.7,513.2 3026.3,521.9 3026.9,520.9 3027.5,556.0 3028.2,569.1 3028.8,541.5 3029.4,521.8 3030.0,527.2 3030.7,566.7 3031.3,574.2 3031.9,543.9 3032.5,550.3 3033.1,531.6 3033.8,562.3 3034.4,556.9 3035.0,563.9 3035.6,573.3 3036.3,577.4 3036.9,576.9 3037.5,570.2 3038.1,557.8 3038.7,514.8 3039.4,533.8 3040.0,548.4 3040.6,554.5 3041.2,540.9 3041.8,537.9 3042.5,551.6 3043.1,567.3 3043.7,536.2 3044.3,569.5 3045.0,574.8 3045.6,570.7 3046.2,567.4 3046.8,547.5 3047.4,567.1 3048.1,539.1 3048.7,509.2 3049.3,522.2 3049.9,519.2 3050.5,571.4 3051.2,563.2 3051.8,554.4 3052.4,566.0 3053.0,533.6 3053.7,539.5 3054.3,525.9 3054.9,559.1 3055.5,557.7 3056.1,561.1 3056.8,571.7 3057.4,561.6 3058.0,565.8 3058.6,549.2 3059.2,553.2 3059.9,560.6 3060.5,533.5 3061.1,545.5 3061.7,565.0 3062.4,561.4 3063.0,569.1 3063.6,589.5 3064.2,580.1 3064.8,557.5 3065.5,553.0 3066.1,530.2 3066.7,549.7 3067.3,587.0 3067.9,527.5 3068.6,533.2 3069.2,555.0 3069.8,558.4 3070.4,563.2 3071.1,551.0 3071.7,545.9 3072.3,548.7 3072.9,547.2 3073.5,539.1 3074.2,561.9 3074.8,582.0 3075.4,566.3 3076.0,560.4 3076.6,571.5 3077.3,573.1 3077.9,572.8 3078.5,546.4 3079.1,584.6 3079.8,574.5 3080.4,557.5 3081.0,573.4 3081.6,578.4 3082.2,556.3 3082.9,565.5 3083.5,559.2 3084.1,557.7 3084.7,538.6 3085.3,550.1 3086.0,546.9 3086.6,544.0 3087.2,554.9 3087.8,578.4 3088.5,561.7 3089.1,585.6 3089.7,551.5 3090.3,534.2 3090.9,574.6 3091.6,572.3 3092.2,562.0 3092.8,561.3 3093.4,538.8 3094.0,530.2 3094.7,529.1 3095.3,514.6 3095.9,505.2 3096.5,554.2 3097.2,546.5 3097.8,521.9 3098.4,542.0 3099.0,553.5 3099.6,560.7 3100.3,572.1 3100.9,558.3 3101.5,562.6 3102.1,562.8 3102.8,578.1 3103.4,553.6 3104.0,537.3 3104.6,542.7 3105.2,537.1 3105.9,523.9 3106.5,577.5 3107.1,541.6 3107.7,564.3 3108.3,565.9 3109.0,544.4 3109.6,546.7 3110.2,574.0 3110.8,561.2 3111.5,577.3 3112.1,583.6 3112.7,546.2 3113.3,583.4 3113.9,550.1 3114.6,576.0 3115.2,560.0 3115.8,569.5 3116.4,554.9 3117.0,576.1 3117.7,578.6 3118.3,499.1 3118.9,547.6 3119.5,543.1 3120.2,547.1 3120.8,561.0 3121.4,531.6 3122.0,540.2 3122.6,504.8 3123.3,534.6 3123.9,569.5 3124.5,541.3 3125.1,553.2 3125.7,519.2 3126.4,532.7 3127.0,535.7 3127.6,570.3 3128.2,514.0 3128.9,540.3 3129.5,539.5 3130.1,525.5 3130.7,517.6 3131.3,550.8 3132.0,557.1 3132.6,524.3 3133.2,546.9 3133.8,534.3 3134.4,550.4 3135.1,551.0 3135.7,543.9 3136.3,550.8 3136.9,525.0 3137.6,546.8 3138.2,545.4 3138.8,561.4 3139.4,556.9 3140.0,589.1 3140.7,549.4 3141.3,551.8 3141.9,551.4 3142.5,546.7 3143.1,557.1 3143.8,532.2 3144.4,583.5 3145.0,558.3 3145.6,516.1 3146.3,524.7 3146.9,531.2 3147.5,561.7 3148.1,551.7 3148.7,558.5 3149.4,580.9 3150.0,566.7 3150.6,567.8 3151.2,543.8 3151.8,561.3 3152.5,542.7 3153.1,543.9 3153.7,525.2 3154.3,545.5 3155.0,524.2 3155.6,549.4 3156.2,574.1 3156.8,554.4 3157.4,533.1 3158.1,594.0 3158.7,564.8 3159.3,561.1 3159.9,545.2 3160.6,528.0 3161.2,523.7 3161.8,515.0 3162.4,513.7 3163.0,531.3 3163.7,555.4 3164.3,538.3 3164.9,557.9 3165.5,544.3 3166.1,550.5 3166.8,559.8 3167.4,545.4 3168.0,568.6 3168.6,551.2 3169.3,572.0 3169.9,519.4 3170.5,525.4 3171.1,515.4 3171.7,548.9 3172.4,569.1 3173.0,561.6 3173.6,543.3 3174.2,556.8 3174.8,538.9 3175.5,537.1 3176.1,565.7 3176.7,545.7 3177.3,575.3 3178.0,562.6 3178.6,575.3 3179.2,513.2 3179.8,538.6 3180.4,536.9 3181.1,574.6 3181.7,555.0 3182.3,562.3 3182.9,573.3 3183.5,561.1 3184.2,542.5 3184.8,546.9 3185.4,535.7 3186.0,538.8 3186.7,533.9 3187.3,549.8 3187.9,543.7 3188.5,547.0 3189.1,540.4 3189.8,530.5 3190.4,556.5 3191.0,523.5 3191.6,513.7 3192.2,507.3 3192.9,501.7 3193.5,551.4 3194.1,526.4 3194.7,566.9 3195.4,553.0 3196.0,522.7 3196.6,554.3 3197.2,581.8 3197.8,565.8 3198.5,530.1 3199.1,546.3 3199.7,517.8 3200.3,539.2 3200.9,563.3 3201.6,510.4 3202.2,586.7 3202.8,543.7 3203.4,534.6 3204.1,544.2 3204.7,544.4 3204.7,688.6 3204.1,709.6 3203.4,690.9 3202.8,644.5 3202.2,657.1 3201.6,658.2 3200.9,639.0 3200.3,629.8 3199.7,697.2 3199.1,658.8 3198.5,656.1 3197.8,616.7 3197.2,652.9 3196.6,655.8 3196.0,686.6 3195.4,671.6 3194.7,678.3 3194.1,690.8 3193.5,672.3 3192.9,681.0 3192.2,706.7 3191.6,710.4 3191.0,671.4 3190.4,673.2 3189.8,665.0 3189.1,627.9 3188.5,665.9 3187.9,677.4 3187.3,639.2 3186.7,648.6 3186.0,645.3 3185.4,655.6 3184.8,629.8 3184.2,651.2 3183.5,613.9 3182.9,616.3 3182.3,659.5 3181.7,640.4 3181.1,641.9 3180.4,660.6 3179.8,634.7 3179.2,665.2 3178.6,674.1 3178.0,671.5 3177.3,632.6 3176.7,678.3 3176.1,662.8 3175.5,651.4 3174.8,656.6 3174.2,658.8 3173.6,638.1 3173.0,646.7 3172.4,620.0 3171.7,634.5 3171.1,660.5 3170.5,659.0 3169.9,644.1 3169.3,645.0 3168.6,671.2 3168.0,659.1 3167.4,661.4 3166.8,665.8 3166.1,654.4 3165.5,651.2 3164.9,631.0 3164.3,664.0 3163.7,631.0 3163.0,673.7 3162.4,664.5 3161.8,664.1 3161.2,705.5 3160.6,658.1 3159.9,645.3 3159.3,633.8 3158.7,634.0 3158.1,643.5 3157.4,644.3 3156.8,636.6 3156.2,639.0 3155.6,672.5 3155.0,652.9 3154.3,646.8 3153.7,637.5 3153.1,695.8 3152.5,646.6 3151.8,626.1 3151.2,674.1 3150.6,630.2 3150.0,640.9 3149.4,612.1 3148.7,643.6 3148.1,648.2 3147.5,649.0 3146.9,657.7 3146.3,672.9 3145.6,692.8 3145.0,657.2 3144.4,665.0 3143.8,671.3 3143.1,624.3 3142.5,650.7 3141.9,656.4 3141.3,630.5 3140.7,639.4 3140.0,625.0 3139.4,635.3 3138.8,611.6 3138.2,610.8 3137.6,625.4 3136.9,638.2 3136.3,633.3 3135.7,651.8 3135.1,646.8 3134.4,672.3 3133.8,672.1 3133.2,644.7 3132.6,673.7 3132.0,629.0 3131.3,650.8 3130.7,626.4 3130.1,636.9 3129.5,670.8 3128.9,671.8 3128.2,679.2 3127.6,634.4 3127.0,670.7 3126.4,663.2 3125.7,696.6 3125.1,645.4 3124.5,644.2 3123.9,654.9 3123.3,666.3 3122.6,671.8 3122.0,645.2 3121.4,680.9 3120.8,625.7 3120.2,724.5 3119.5,689.6 3118.9,677.3 3118.3,672.2 3117.7,632.9 3117.0,632.7 3116.4,666.5 3115.8,649.1 3115.2,655.0 3114.6,649.0 3113.9,655.1 3113.3,619.1 3112.7,636.8 3112.1,626.0 3111.5,632.2 3110.8,643.0 3110.2,631.1 3109.6,650.5 3109.0,640.7 3108.3,658.7 3107.7,660.7 3107.1,645.3 3106.5,674.3 3105.9,629.7 3105.2,644.0 3104.6,661.3 3104.0,629.4 3103.4,618.8 3102.8,618.3 3102.1,656.3 3101.5,625.1 3100.9,646.8 3100.3,618.9 3099.6,670.9 3099.0,601.6 3098.4,631.2 3097.8,650.5 3097.2,639.0 3096.5,667.5 3095.9,682.4 3095.3,680.4 3094.7,712.9 3094.0,706.7 3093.4,655.3 3092.8,648.3 3092.2,659.2 3091.6,634.2 3090.9,624.8 3090.3,654.2 3089.7,650.6 3089.1,626.8 3088.5,644.2 3087.8,634.0 3087.2,641.4 3086.6,669.6 3086.0,645.6 3085.3,641.5 3084.7,654.4 3084.1,641.2 3083.5,632.7 3082.9,632.9 3082.2,635.8 3081.6,611.2 3081.0,640.1 3080.4,629.4 3079.8,634.4 3079.1,625.2 3078.5,634.2 3077.9,635.8 3077.3,623.0 3076.6,621.6 3076.0,652.8 3075.4,617.7 3074.8,633.9 3074.2,630.8 3073.5,641.0 3072.9,610.5 3072.3,622.3 3071.7,663.9 3071.1,666.0 3070.4,648.9 3069.8,619.7 3069.2,649.0 3068.6,663.3 3067.9,671.3 3067.3,633.1 3066.7,675.3 3066.1,647.7 3065.5,647.3 3064.8,673.4 3064.2,657.2 3063.6,636.8 3063.0,633.2 3062.4,636.2 3061.7,641.5 3061.1,658.0 3060.5,640.3 3059.9,630.7 3059.2,633.4 3058.6,660.3 3058.0,630.7 3057.4,652.3 3056.8,637.4 3056.1,633.4 3055.5,642.2 3054.9,649.0 3054.3,658.4 3053.7,665.1 3053.0,655.2 3052.4,614.0 3051.8,645.9 3051.2,636.9 3050.5,656.5 3049.9,668.9 3049.3,657.0 3048.7,672.3 3048.1,686.0 3047.4,620.9 3046.8,627.3 3046.2,629.8 3045.6,614.5 3045.0,654.0 3044.3,633.0 3043.7,653.5 3043.1,651.7 3042.5,655.6 3041.8,647.3 3041.2,637.0 3040.6,648.8 3040.0,675.5 3039.4,666.1 3038.7,646.1 3038.1,661.0 3037.5,655.7 3036.9,637.5 3036.3,643.6 3035.6,656.6 3035.0,652.8 3034.4,661.0 3033.8,662.2 3033.1,685.5 3032.5,625.4 3031.9,679.6 3031.3,662.2 3030.7,699.4 3030.0,665.4 3029.4,696.0 3028.8,669.0 3028.2,655.4 3027.5,660.5 3026.9,634.6 3026.3,668.5 3025.7,676.0 3025.1,659.0 3024.4,665.9 3023.8,633.5 3023.2,651.5 3022.6,626.7 3022.0,638.3 3021.3,659.7 3020.7,660.7 3020.1,647.4 3019.5,690.5 3018.8,660.0 3018.2,664.2 3017.6,657.2 3017.0,633.9 3016.4,627.8 3015.7,623.4 3015.1,663.7 3014.5,659.8 3013.9,656.3 3013.3,679.7 3012.6,651.4 3012.0,654.6 3011.4,665.0 3010.8,673.4 3010.1,623.5 3009.5,643.6 3008.9,629.1 3008.3,638.0 3007.7,628.2 3007.0,650.4 3006.4,663.0 3005.8,652.7 3005.2,637.9 3004.6,639.4 3003.9,649.7 3003.3,638.0 3002.7,668.1 3002.1,642.8 3001.4,639.1 3000.8,635.5 3000.2,650.1 2999.6,637.8 2999.0,659.4 2998.3,638.2 2997.7,664.4 2997.1,658.4 2996.5,619.0 2995.9,639.8 2995.2,627.5 2994.6,618.3 2994.0,633.9 2993.4,646.8 2992.7,631.6 2992.1,667.3 2991.5,627.3 2990.9,656.6 2990.3,665.1 2989.6,654.1 2989.0,644.9 2988.4,647.0 2987.8,655.6 2987.2,641.9 2986.5,636.0 2985.9,626.8 2985.3,611.9 2984.7,626.0 2984.0,601.6 2983.4,622.4 2982.8,660.3 2982.2,666.0 2981.6,664.9 2980.9,629.6 2980.3,637.2 2979.7,627.1 2979.1,629.9 2978.5,628.1 2977.8,635.8 2977.2,628.0 2976.6,634.6 2976.0,601.6 2975.3,626.1 2974.7,659.3 2974.1,635.4 2973.5,628.0 2972.9,660.4 2972.2,626.2 2971.6,651.3 2971.0,673.3 2970.4,639.4 2969.7,613.0 2969.1,636.5 2968.5,629.9 2967.9,671.9 2967.3,642.6 2966.6,673.2 2966.0,665.7 2965.4,652.5 2964.8,672.7 2964.2,640.4 2963.5,625.0 2962.9,620.6 2962.3,646.0 2961.7,646.6 2961.0,648.6 2960.4,636.4 2959.8,653.4 2959.2,654.6 2958.6,661.8 2957.9,659.3 2957.3,650.7 2956.7,616.2 2956.1,659.7 2955.5,632.7 2954.8,645.6 2954.2,658.2 2953.6,649.5 2953.0,614.9 2952.3,618.7 2951.7,620.0 2951.1,660.3 2950.5,640.1 2949.9,660.5 2949.2,640.1 2948.6,654.4 2948.0,637.4 2947.4,658.3 2946.8,671.9 2946.1,651.4 2945.5,670.2 2944.9,645.6 2944.3,689.9 2943.6,645.4 2943.0,705.7 2942.4,680.0 2941.8,629.6 2941.2,645.3 2940.5,624.9 2939.9,651.4 2939.3,633.2 2938.7,644.5 2938.1,637.9 2937.4,621.4 2936.8,654.8 2936.2,630.0 2935.6,668.4 2934.9,645.7 2934.3,663.6 2933.7,623.1 2933.1,656.0 2932.5,681.3 2931.8,658.8 2931.2,633.8 2930.6,639.9 2930.0,673.9 2929.4,657.2 2928.7,640.6 2928.1,637.6 2927.5,620.3 2926.9,620.1 2926.2,655.8 2925.6,665.0 2925.0,650.7 2924.4,639.1 2923.8,648.7 2923.1,658.9 2922.5,648.7 2921.9,637.7 2921.3,614.1 2920.7,618.1 2920.0,628.8 2919.4,610.2 2918.8,622.7 2918.2,626.4 2917.5,645.9 2916.9,645.0 2916.3,641.1 2915.7,639.2 2915.1,659.2 2914.4,676.2 2913.8,671.6 2913.2,680.3 2912.6,652.4 2911.9,652.2 2911.3,630.1 2910.7,659.2 2910.1,699.1 2909.5,636.5 2908.8,647.1 2908.2,662.3 2907.6,638.4 2907.0,641.1 2906.4,686.7 2905.7,672.7 2905.1,648.9 2904.5,672.1 2903.9,686.7 2903.2,650.2 2902.6,683.6 2902.0,678.5 2901.4,666.0 2900.8,654.0 2900.1,647.5 2899.5,654.3 2898.9,655.3 2898.3,626.1 2897.7,662.2 2897.0,615.1 2896.4,652.1 2895.8,656.6 2895.2,685.3 2894.5,642.5 2893.9,645.2 2893.3,633.8 2892.7,636.9 2892.1,623.3 2891.4,655.5 2890.8,652.2 2890.2,660.0 2889.6,678.7 2889.0,641.6 2888.3,640.8 2887.7,637.4 2887.1,639.7 2886.5,651.4 2885.8,676.1 2885.2,689.2 2884.6,655.6 2884.0,643.6 2883.4,620.6 2882.7,625.4 2882.1,654.6 2881.5,615.7 2880.9,645.7 2880.3,662.5 2879.6,662.8 2879.0,689.8 2878.4,657.7 2877.8,660.4 2877.1,692.2 2876.5,668.8 2875.9,636.5 2875.3,640.0 2874.7,650.9 2874.0,664.4 2873.4,660.2 2872.8,696.2 2872.2,685.5 2871.6,674.3 2870.9,677.3 2870.3,645.1 2869.7,654.0 2869.1,650.5 2868.4,660.2 2867.8,650.9 2867.2,708.9 2866.6,640.6 2866.0,637.4 2865.3,676.5 2864.7,653.8 2864.1,656.7 2863.5,682.8 2862.9,665.9 2862.2,689.7 2861.6,657.2 2861.0,663.5 2860.4,653.2 2859.7,694.6 2859.1,657.9 2858.5,660.2 2857.9,651.7 2857.3,634.9 2856.6,640.1 2856.0,623.0 2855.4,666.2 2854.8,652.3 2854.2,650.8 2853.5,641.9 2852.9,680.8 2852.3,683.3 2851.7,656.2 2851.0,631.4 2850.4,655.4 2849.8,639.5 2849.2,643.2 2848.6,659.5 2847.9,623.4 2847.3,643.3 2846.7,638.5 2846.1,647.4 2845.4,652.5 2844.8,680.5 2844.2,653.7 2843.6,657.0 2843.0,642.5 2842.3,630.4 2841.7,631.0 2841.1,636.5 2840.5,648.5 2839.9,657.3 2839.2,667.8 2838.6,664.9 2838.0,653.3 2837.4,669.4 2836.7,676.8 2836.1,641.7 2835.5,613.1 2834.9,611.7 2834.3,663.1 2833.6,706.4 2833.0,694.3 2832.4,674.8 2831.8,652.9 2831.2,679.6 2830.5,672.3 2829.9,668.5 2829.3,657.4 2828.7,667.7 2828.0,638.3 2827.4,676.3 2826.8,672.2 2826.2,651.0 2825.6,630.2 2824.9,626.0 2824.3,663.7 2823.7,655.7 2823.1,647.5 2822.5,648.0 2821.8,654.5 2821.2,626.9 2820.6,642.4 2820.0,660.8 2819.3,630.4 2818.7,617.9 2818.1,623.3 2817.5,642.5 2816.9,659.5 2816.2,635.6 2815.6,654.5 2815.0,664.7 2814.4,660.2 2813.8,646.9 2813.1,637.0 2812.5,650.9 2811.9,675.8 2811.3,624.5 2810.6,644.2 2810.0,634.4 2809.4,652.0 2808.8,622.4 2808.2,640.0 2807.5,627.9 2806.9,640.3 2806.3,656.2 2805.7,618.9 2805.1,651.4 2804.4,644.3 2803.8,656.3 2803.2,646.0 2802.6,657.2 2801.9,656.4 2801.3,657.3 2800.7,675.0 2800.1,652.3 2799.5,644.4 2798.8,669.4 2798.2,629.0 2797.6,655.4 2797.0,655.9 2796.4,676.8 2795.7,667.1 2795.1,652.6 2794.5,658.1 2793.9,624.4 2793.2,666.9 2792.6,705.5 2792.0,673.7 2791.4,677.5 2790.8,651.5 2790.1,651.2 2789.5,690.3 2788.9,644.8 2788.3,653.3 2787.6,642.1 2787.0,613.0 2786.4,630.7 2785.8,645.1 2785.2,662.7 2784.5,698.9 2783.9,663.2 2783.3,654.5 2782.7,674.3 2782.1,679.4 2781.4,676.7 2780.8,695.8 2780.2,723.6 2779.6,704.2 2778.9,698.9 2778.3,679.2 2777.7,675.5 2777.1,659.1 2776.5,644.3 2775.8,670.5 2775.2,668.9 2774.6,655.8 2774.0,647.8 2773.4,676.7 2772.7,685.9 2772.1,644.5 2771.5,650.1 2770.9,640.5 2770.2,621.6 2769.6,610.1 2769.0,621.5 2768.4,645.2 2767.8,628.6 2767.1,615.5 2766.5,631.7 2765.9,601.6 2765.3,624.1 2764.7,624.8 2764.0,641.5 2763.4,651.2 2762.8,648.2 2762.2,651.5 2761.5,635.4 2760.9,630.1 2760.3,642.0 2759.7,695.1 2759.1,666.4 2758.4,646.7 2757.8,653.8 2757.2,627.1 2756.6,659.5 2756.0,635.7 2755.3,657.1 2754.7,633.6 2754.1,630.3 2753.5,644.6 2752.8,617.6 2752.2,657.8 2751.6,665.5 2751.0,650.3 2750.4,664.1 2749.7,661.1 2749.1,665.8 2748.5,648.5 2747.9,625.9 2747.3,627.3 2746.6,646.7 2746.0,640.4 2745.4,644.6 2744.8,648.1 2744.1,640.7 2743.5,647.3 2742.9,667.3 2742.3,667.0 2741.7,620.9 2741.0,623.2 2740.4,657.9 2739.8,699.0 2739.2,655.2 2738.6,644.2 2737.9,685.1 2737.3,662.4 2736.7,640.7 2736.1,643.7 2735.4,639.0 2734.8,680.3 2734.2,661.5 2733.6,615.7 2733.0,664.1 2732.3,649.3 2731.7,601.6 2731.1,671.9 2730.5,684.1 2729.9,657.1 2729.2,634.8 2728.6,645.5 2728.0,641.0 2727.4,649.1 2726.7,655.1 2726.1,630.5 2725.5,634.6 2724.9,643.3 2724.3,634.2 2723.6,637.1 2723.0,643.8 2722.4,656.1 2721.8,665.2 2721.1,641.5 2720.5,629.9 2719.9,659.8 2719.3,667.0 2718.7,690.0 2718.0,645.1 2717.4,654.5 2716.8,664.2 2716.2,642.9 2715.6,635.0 2714.9,626.2 2714.3,660.5 2713.7,669.1 2713.1,658.9 2712.4,678.5 2711.8,674.6 2711.2,662.5 2710.6,680.9 2710.0,677.8 2709.3,660.0 2708.7,655.1 2708.1,657.8 2707.5,645.8 2706.9,634.2 2706.2,641.7 2705.6,642.0 2705.0,649.8 2704.4,633.7 2703.7,634.4 2703.1,646.9 2702.5,640.2 2701.9,640.3 2701.3,636.6 2700.6,652.0 2700.0,643.7 2699.4,641.4 2698.8,653.3 2698.2,664.9 2697.5,651.7 2696.9,656.6 2696.3,637.7 2695.7,637.4 2695.0,630.9 2694.4,628.6 2693.8,627.9 2693.2,652.0 2692.6,659.7 2691.9,661.9 2691.3,660.4 2690.7,675.3 2690.1,670.6 2689.5,685.5 2688.8,639.7 2688.2,647.0 2687.6,639.0 2687.0,647.8 2686.3,624.0 2685.7,638.3 2685.1,635.4 2684.5,669.8 2683.9,700.7 2683.2,695.0 2682.6,701.3 2682.0,645.8 2681.4,634.4 2680.8,673.6 2680.1,638.7 2679.5,644.5 2678.9,635.5 2678.3,601.6 2677.6,633.1 2677.0,626.3 2676.4,637.7 2675.8,628.8 2675.2,630.4 2674.5,636.1 2673.9,642.2 2673.3,664.6 2672.7,678.6 2672.1,663.4 2671.4,651.0 2670.8,643.0 2670.2,626.3 2669.6,636.4 2668.9,650.3 2668.3,624.5 2667.7,633.5 2667.1,682.4 2666.5,620.5 2665.8,616.2 2665.2,623.8 2664.6,654.3 2664.0,626.8 2663.3,636.9 2662.7,633.6 2662.1,613.5 2661.5,651.0 2660.9,651.2 2660.2,647.6 2659.6,646.6 2659.0,650.5 2658.4,642.1 2657.8,631.5 2657.1,643.4 2656.5,628.5 2655.9,633.3 2655.3,654.6 2654.6,619.4 2654.0,620.3 2653.4,619.9 2652.8,641.9 2652.2,624.1 2651.5,646.6 2650.9,622.8 2650.3,642.9 2649.7,640.0 2649.1,648.8 2648.4,638.4 2647.8,638.9 2647.2,646.2 2646.6,625.8 2645.9,660.9 2645.3,662.1 2644.7,633.5 2644.1,641.1 2643.5,655.6 2642.8,639.5 2642.2,631.5 2641.6,628.0 2641.0,640.7 2640.4,651.5 2639.7,624.0 2639.1,604.3 2638.5,640.3 2637.9,626.0 2637.2,621.6 2636.6,630.5 2636.0,616.1 2635.4,620.1 2634.8,628.7 2634.1,629.0 2633.5,622.4 2632.9,643.3 2632.3,636.6 2631.7,675.9 2631.0,681.1 2630.4,640.6 2629.8,619.9 2629.2,659.9 2628.5,647.2 2627.9,644.2 2627.3,640.7 2626.7,651.7 2626.1,658.0 2625.4,628.1 2624.8,627.6 2624.2,635.4 2623.6,658.0 2623.0,659.7 2622.3,649.3 2621.7,669.6 2621.1,648.1 2620.5,635.4 2619.8,652.3 2619.2,601.6 2618.6,634.2 2618.0,648.1 2617.4,626.6 2616.7,624.5 2616.1,643.3 2615.5,638.6 2614.9,649.0 2614.3,644.0 2613.6,673.0 2613.0,637.4 2612.4,667.3 2611.8,666.5 2611.1,628.2 2610.5,640.4 2609.9,652.6 2609.3,629.5 2608.7,641.7 2608.0,654.7 2607.4,657.6 2606.8,666.5 2606.2,636.6 2605.6,652.8 2604.9,692.3 2604.3,656.4 2603.7,689.6 2603.1,692.9 2602.4,646.6 2601.8,660.9 2601.2,671.9 2600.6,659.5 2600.0,654.8 2599.3,663.1 2598.7,641.5 2598.1,646.4 2597.5,647.0 2596.8,648.2 2596.2,615.0 2595.6,646.0 2595.0,639.5 2594.4,637.6 2593.7,625.3 2593.1,649.4 2592.5,644.7 2591.9,650.0 2591.3,634.2 2590.6,632.7 2590.0,636.0 2589.4,620.3 2588.8,650.0 2588.1,630.9 2587.5,648.0 2586.9,671.0 2586.3,622.0 2585.7,656.5 2585.0,668.3 2584.4,663.3 2583.8,637.7 2583.2,621.3 2582.6,650.6 2581.9,639.1 2581.3,653.7 2580.7,636.6 2580.1,649.8 2579.4,684.6 2578.8,643.7 2578.2,647.9 2577.6,663.7 2577.0,667.2 2576.3,632.4 2575.7,624.7 2575.1,612.8 2574.5,622.0 2573.9,676.9 2573.2,659.3 2572.6,629.0 2572.0,620.1 2571.4,621.4 2570.7,645.9 2570.1,639.6 2569.5,622.5 2568.9,634.3 2568.3,622.8 2567.6,625.2 2567.0,636.4 2566.4,653.0 2565.8,656.2 2565.2,652.7 2564.5,646.5 2563.9,619.2 2563.3,625.7 2562.7,650.8 2562.0,658.6 2561.4,647.2 2560.8,631.6 2560.2,628.1 2559.6,616.8 2558.9,644.9 2558.3,655.0 2557.7,644.5 2557.1,632.6 2556.5,650.5 2555.8,614.9 2555.2,619.6 2554.6,642.6 2554.0,632.1 2553.3,614.1 2552.7,638.2 2552.1,655.1 2551.5,680.3 2550.9,683.6 2550.2,674.7 2549.6,639.2 2549.0,642.0 2548.4,648.0 2547.8,659.5 2547.1,674.0 2546.5,689.2 2545.9,633.6 2545.3,667.7 2544.6,698.2 2544.0,676.5 2543.4,650.9 2542.8,668.6 2542.2,654.5 2541.5,662.0 2540.9,660.7 2540.3,690.1 2539.7,667.3 2539.1,636.4 2538.4,629.0 2537.8,693.1 2537.2,681.7 2536.6,669.1 2535.9,640.2 2535.3,648.9 2534.7,642.4 2534.1,650.8 2533.5,653.7 2532.8,658.9 2532.2,644.2 2531.6,641.1 2531.0,632.8 2530.3,641.4 2529.7,655.7 2529.1,636.9 2528.5,646.3 2527.9,638.9 2527.2,662.1 2526.6,641.7 2526.0,637.2 2525.4,632.0 2524.8,663.7 2524.1,681.8 2523.5,632.7 2522.9,637.8 2522.3,648.6 2521.6,660.2 2521.0,636.4 2520.4,644.3 2519.8,674.3 2519.2,625.1 2518.5,681.5 2517.9,673.1 2517.3,647.8 2516.7,660.6 2516.1,616.5 2515.4,625.9 2514.8,626.5 2514.2,618.9 2513.6,643.2 2512.9,635.2 2512.3,681.9 2511.7,618.7 2511.1,639.1 2510.5,649.8 2509.8,652.8 2509.2,630.7 2508.6,624.6 2508.0,630.3 2507.4,629.4 2506.7,628.7 2506.1,621.0 2505.5,623.3 2504.9,617.0 2504.2,649.1 2503.6,657.5 2503.0,663.7 2502.4,659.6 2501.8,660.3 2501.1,619.0 2500.5,641.2 2499.9,641.1 2499.3,658.6 2498.7,665.2 2498.0,625.6 2497.4,666.8 2496.8,651.1 2496.2,671.1 2495.5,659.6 2494.9,633.9 2494.3,639.8 2493.7,648.7 2493.1,618.3 2492.4,636.5 2491.8,609.5 2491.2,634.8 2490.6,653.6 2490.0,651.8 2489.3,647.7 2488.7,659.0 2488.1,685.4 2487.5,636.9 2486.8,625.0 2486.2,679.0 2485.6,668.2 2485.0,643.0 2484.4,624.1 2483.7,647.2 2483.1,647.1 2482.5,645.2 2481.9,667.2 2481.3,632.3 2480.6,660.9 2480.0,618.4 2479.4,631.9 2478.8,654.3 2478.1,661.3 2477.5,678.2 2476.9,680.5 2476.3,638.5 2475.7,633.0 2475.0,619.2 2474.4,601.6 2473.8,616.5 2473.2,648.5 2472.5,638.0 2471.9,620.3 2471.3,630.5 2470.7,612.0 2470.1,640.0 2469.4,637.3 2468.8,625.4 2468.2,601.6 2467.6,632.3 2467.0,628.6 2466.3,617.5 2465.7,624.1 2465.1,609.1 2464.5,645.0 2463.8,648.0 2463.2,712.9 2462.6,705.9 2462.0,632.2 2461.4,637.0 2460.7,650.7 2460.1,679.9 2459.5,681.3 2458.9,617.8 2458.3,667.6 2457.6,677.8 2457.0,655.6 2456.4,644.0 2455.8,634.6 2455.1,635.9 2454.5,658.5 2453.9,619.6 2453.3,633.8 2452.7,601.6 2452.0,639.5 2451.4,640.6 2450.8,636.3 2450.2,623.5 2449.6,621.5 2448.9,641.7 2448.3,623.4 2447.7,648.4 2447.1,670.3 2446.4,616.9 2445.8,639.1 2445.2,656.4 2444.6,645.1 2444.0,640.9 2443.3,645.4 2442.7,656.7 2442.1,655.7 2441.5,642.4 2440.9,650.4 2440.2,646.5 2439.6,646.2 2439.0,638.4 2438.4,683.3 2437.7,655.9 2437.1,627.4 2436.5,628.8 2435.9,633.9 2435.3,626.1 2434.6,638.2 2434.0,634.4 2433.4,614.2 2432.8,634.9 2432.2,639.1 2431.5,644.7 2430.9,641.4 2430.3,650.9 2429.7,659.2 2429.0,649.6 2428.4,619.9 2427.8,627.7 2427.2,630.6 2426.6,645.9 2425.9,640.7 2425.3,621.2 2424.7,626.8 2424.1,641.3 2423.5,619.2 2422.8,677.3 2422.2,622.2 2421.6,655.4 2421.0,647.1 2420.3,644.0 2419.7,655.7 2419.1,638.7 2418.5,656.3 2417.9,615.1 2417.2,622.4 2416.6,650.0 2416.0,634.0 2415.4,615.9 2414.8,638.9 2414.1,645.4 2413.5,639.4 2412.9,646.8 2412.3,653.5 2411.6,662.7 2411.0,631.0 2410.4,641.5 2409.8,658.1 2409.2,659.4 2408.5,636.8 2407.9,627.3 2407.3,696.0 2406.7,683.1 2406.0,699.4 2405.4,673.6 2404.8,670.2 2404.2,708.1 2403.6,654.6 2402.9,669.9 2402.3,703.7 2401.7,695.3 2401.1,685.4 2400.5,652.9 2399.8,683.8 2399.2,686.5 2398.6,624.5 2398.0,635.4 2397.3,638.2 2396.7,642.7 2396.1,664.4 2395.5,644.4 2394.9,640.5 2394.2,649.6 2393.6,646.8 2393.0,673.5 2392.4,654.8 2391.8,642.7 2391.1,650.2 2390.5,662.5 2389.9,660.5 2389.3,661.0 2388.6,661.2 2388.0,663.8 2387.4,650.0 2386.8,622.6 2386.2,623.5 2385.5,629.9 2384.9,653.5 2384.3,644.0 2383.7,616.6 2383.1,637.1 2382.4,601.8 2381.8,624.4 2381.2,656.0 2380.6,628.1 2379.9,636.5 2379.3,642.1 2378.7,634.2 2378.1,676.9 2377.5,671.8 2376.8,651.5 2376.2,610.7 2375.6,613.1 2375.0,638.9 2374.4,625.3 2373.7,641.1 2373.1,647.8 2372.5,650.1 2371.9,657.0 2371.2,657.1 2370.6,667.1 2370.0,660.5 2369.4,640.2 2368.8,640.2 2368.1,634.4 2367.5,617.2 2366.9,630.8 2366.3,618.2 2365.7,637.1 2365.0,630.5 2364.4,629.0 2363.8,627.6 2363.2,638.3 2362.5,623.1 2361.9,615.0 2361.3,634.4 2360.7,630.8 2360.1,630.6 2359.4,612.2 2358.8,631.2 2358.2,634.8 2357.6,636.8 2357.0,660.7 2356.3,636.2 2355.7,641.6 2355.1,648.8 2354.5,620.0 2353.8,633.3 2353.2,625.2 2352.6,634.6 2352.0,646.0 2351.4,640.4 2350.7,619.7 2350.1,617.3 2349.5,636.7 2348.9,638.7 2348.2,667.4 2347.6,627.9 2347.0,639.5 2346.4,668.0 2345.8,668.5 2345.1,645.7 2344.5,648.6 2343.9,638.7 2343.3,652.1 2342.7,605.1 2342.0,631.8 2341.4,625.5 2340.8,641.5 2340.2,625.7 2339.5,638.9 2338.9,662.9 2338.3,617.6 2337.7,625.7 2337.1,642.6 2336.4,638.8 2335.8,637.9 2335.2,641.5 2334.6,613.1 2334.0,629.9 2333.3,627.2 2332.7,661.0 2332.1,632.2 2331.5,627.3 2330.8,657.6 2330.2,604.1 2329.6,643.4 2329.0,642.4 2328.4,672.3 2327.7,666.7 2327.1,663.1 2326.5,658.9 2325.9,662.3 2325.3,643.7 2324.6,647.5 2324.0,639.6 2323.4,605.3 2322.8,638.6 2322.1,653.6 2321.5,663.7 2320.9,644.4 2320.3,628.0 2319.7,646.8 2319.0,639.3 2318.4,643.0 2317.8,624.1 2317.2,635.4 2316.6,638.8 2315.9,630.6 2315.3,653.6 2314.7,634.4 2314.1,657.2 2313.4,664.4 2312.8,667.8 2312.2,657.2 2311.6,673.9 2311.0,664.4 2310.3,677.3 2309.7,655.1 2309.1,636.5 2308.5,652.0 2307.9,620.9 2307.2,635.5 2306.6,629.4 2306.0,645.0 2305.4,657.4 2304.7,647.3 2304.1,666.8 2303.5,706.8 2302.9,694.7 2302.3,676.1 2301.6,672.0 2301.0,691.5 2300.4,666.8 2299.8,682.3 2299.2,628.5 2298.5,654.8 2297.9,634.5 2297.3,647.1 2296.7,644.7 2296.0,664.3 2295.4,662.8 2294.8,629.5 2294.2,639.6 2293.6,647.3 2292.9,671.0 2292.3,644.3 2291.7,634.1 2291.1,654.3 2290.4,644.0 2289.8,605.7 2289.2,628.2 2288.6,615.8 2288.0,609.9 2287.3,633.4 2286.7,636.7 2286.1,627.7 2285.5,637.7 2284.9,625.4 2284.2,634.5 2283.6,660.6 2283.0,634.1 2282.4,626.5 2281.7,621.0 2281.1,650.7 2280.5,639.1 2279.9,623.9 2279.3,637.0 2278.6,631.6 2278.0,648.0 2277.4,641.8 2276.8,619.7 2276.2,630.3 2275.5,639.7 2274.9,623.1 2274.3,643.6 2273.7,633.3 2273.0,651.4 2272.4,642.8 2271.8,654.5 2271.2,662.0 2270.6,661.5 2269.9,628.6 2269.3,651.9 2268.7,638.2 2268.1,660.3 2267.5,633.9 2266.8,632.5 2266.2,655.5 2265.6,645.3 2265.0,611.3 2264.3,630.3 2263.7,619.6 2263.1,633.3 2262.5,610.6 2261.9,632.6 2261.2,640.7 2260.6,632.7 2260.0,634.3 2259.4,605.8 2258.8,646.8 2258.1,635.0 2257.5,649.1 2256.9,631.2 2256.3,633.1 2255.6,610.4 2255.0,619.0 2254.4,625.9 2253.8,637.5 2253.2,628.6 2252.5,637.3 2251.9,632.4 2251.3,636.3 2250.7,646.3 2250.1,612.6 2249.4,632.4 2248.8,622.4 2248.2,610.1 2247.6,623.1 2246.9,639.1 2246.3,619.3 2245.7,636.1 2245.1,647.5 2244.5,624.3 2243.8,636.7 2243.2,640.7 2242.6,619.8 2242.0,619.7 2241.4,634.8 2240.7,623.2 2240.1,641.9 2239.5,626.8 2238.9,643.1 2238.2,650.7 2237.6,660.5 2237.0,625.5 2236.4,672.9 2235.8,648.1 2235.1,658.8 2234.5,642.8 2233.9,635.9 2233.3,627.0 2232.7,633.0 2232.0,629.8 2231.4,622.8 2230.8,646.0 2230.2,650.8 2229.5,684.1 2228.9,653.4 2228.3,636.7 2227.7,639.8 2227.1,621.1 2226.4,643.3 2225.8,641.3 2225.2,649.3 2224.6,634.9 2223.9,650.8 2223.3,629.6 2222.7,654.7 2222.1,634.9 2221.5,612.8 2220.8,657.1 2220.2,651.1 2219.6,667.7 2219.0,626.8 2218.4,639.7 2217.7,632.8 2217.1,612.6 2216.5,645.8 2215.9,648.8 2215.2,630.5 2214.6,662.6 2214.0,651.4 2213.4,633.0 2212.8,646.2 2212.1,653.1 2211.5,624.1 2210.9,696.1 2210.3,687.1 2209.7,642.1 2209.0,619.3 2208.4,635.0 2207.8,623.9 2207.2,631.8 2206.5,632.3 2205.9,613.9 2205.3,625.8 2204.7,615.4 2204.1,635.5 2203.4,610.4 2202.8,631.9 2202.2,652.4 2201.6,640.0 2201.0,631.3 2200.3,629.0 2199.7,645.1 2199.1,618.8 2198.5,666.4 2197.8,645.9 2197.2,635.4 2196.6,643.3 2196.0,647.6 2195.4,675.1 2194.7,656.7 2194.1,656.3 2193.5,633.6 2192.9,667.4 2192.3,648.8 2191.6,630.3 2191.0,647.2 2190.4,627.1 2189.8,652.9 2189.1,640.7 2188.5,622.8 2187.9,651.9 2187.3,639.1 2186.7,638.7 2186.0,637.2 2185.4,632.6 2184.8,622.9 2184.2,642.8 2183.6,637.9 2182.9,644.3 2182.3,661.5 2181.7,635.6 2181.1,646.6 2180.4,652.7 2179.8,639.7 2179.2,639.1 2178.6,609.4 2178.0,658.8 2177.3,661.3 2176.7,634.7 2176.1,632.8 2175.5,652.5 2174.9,619.7 2174.2,634.0 2173.6,624.8 2173.0,638.2 2172.4,621.2 2171.7,625.2 2171.1,634.1 2170.5,658.9 2169.9,640.9 2169.3,649.2 2168.6,633.1 2168.0,664.1 2167.4,640.6 2166.8,655.2 2166.2,651.2 2165.5,638.9 2164.9,662.3 2164.3,635.9 2163.7,660.5 2163.0,644.5 2162.4,688.4 2161.8,632.9 2161.2,651.9 2160.6,652.7 2159.9,640.6 2159.3,627.2 2158.7,665.1 2158.1,651.0 2157.4,633.1 2156.8,648.2 2156.2,633.8 2155.6,640.4 2155.0,650.1 2154.3,646.3 2153.7,645.6 2153.1,656.7 2152.5,614.1 2151.9,643.5 2151.2,618.0 2150.6,655.0 2150.0,636.9 2149.4,636.7 2148.7,658.4 2148.1,690.0 2147.5,640.3 2146.9,631.0 2146.3,644.3 2145.6,711.2 2145.0,703.8 2144.4,671.5 2143.8,662.7 2143.2,628.9 2142.5,637.4 2141.9,659.3 2141.3,637.4 2140.7,679.0 2140.0,653.4 2139.4,620.8 2138.8,639.4 2138.2,632.6 2137.6,632.7 2136.9,640.4 2136.3,631.7 2135.7,652.7 2135.1,675.1 2134.5,642.8 2133.8,666.1 2133.2,643.4 2132.6,657.7 2132.0,637.1 2131.3,644.9 2130.7,650.6 2130.1,681.3 2129.5,622.3 2128.9,628.8 2128.2,634.8 2127.6,633.1 2127.0,635.8 2126.4,655.6 2125.8,682.7 2125.1,656.4 2124.5,672.5 2123.9,629.7 2123.3,636.0 2122.6,643.0 2122.0,667.1 2121.4,656.0 2120.8,608.0 2120.2,617.4 2119.5,649.5 2118.9,618.0 2118.3,616.7 2117.7,618.9 2117.1,637.2 2116.4,676.1 2115.8,672.1 2115.2,682.5 2114.6,670.2 2113.9,656.7 2113.3,650.7 2112.7,651.6 2112.1,637.8 2111.5,641.2 2110.8,629.8 2110.2,681.4 2109.6,666.2 2109.0,679.1 2108.4,624.9 2107.7,651.2 2107.1,625.3 2106.5,647.6 2105.9,654.4 2105.2,682.3 2104.6,669.9 2104.0,642.8 2103.4,682.8 2102.8,645.2 2102.1,666.7 2101.5,654.4 2100.9,636.3 2100.3,681.2 2099.6,669.4 2099.0,677.0 2098.4,667.9 2097.8,659.5 2097.2,652.2 2096.5,671.1 2095.9,678.9 2095.3,664.3 2094.7,643.7 2094.1,646.7 2093.4,647.6 2092.8,610.1 2092.2,619.8 2091.6,631.0 2090.9,642.6 2090.3,610.3 2089.7,616.6 2089.1,629.0 2088.5,631.3 2087.8,619.7 2087.2,618.7 2086.6,635.0 2086.0,634.5 2085.4,630.1 2084.7,646.5 2084.1,643.6 2083.5,641.6 2082.9,644.5 2082.2,629.8 2081.6,654.2 2081.0,670.9 2080.4,652.0 2079.8,638.5 2079.1,650.2 2078.5,650.9 2077.9,621.1 2077.3,642.5 2076.7,650.9 2076.0,661.2 2075.4,639.0 2074.8,650.5 2074.2,652.2 2073.5,657.8 2072.9,668.9 2072.3,639.0 2071.7,640.1 2071.1,630.7 2070.4,633.0 2069.8,669.7 2069.2,632.9 2068.6,665.1 2068.0,632.0 2067.3,606.8 2066.7,631.6 2066.1,646.1 2065.5,641.8 2064.8,629.2 2064.2,625.8 2063.6,644.6 2063.0,641.3 2062.4,635.2 2061.7,613.3 2061.1,649.8 2060.5,674.0 2059.9,644.7 2059.3,641.5 2058.6,651.4 2058.0,657.1 2057.4,642.9 2056.8,648.6 2056.1,662.0 2055.5,627.4 2054.9,642.0 2054.3,662.1 2053.7,650.2 2053.0,637.8 2052.4,624.7 2051.8,603.7 2051.2,642.0 2050.6,628.2 2049.9,643.0 2049.3,651.5 2048.7,630.6 2048.1,627.2 2047.4,626.9 2046.8,677.8 2046.2,656.3 2045.6,664.8 2045.0,682.9 2044.3,662.6 2043.7,661.8 2043.1,639.7 2042.5,633.1 2041.8,629.9 2041.2,663.8 2040.6,636.9 2040.0,635.6 2039.4,627.1 2038.7,622.2 2038.1,636.2 2037.5,632.0 2036.9,640.6 2036.3,619.1 2035.6,635.5 2035.0,609.9 2034.4,623.9 2033.8,662.0 2033.1,638.4 2032.5,637.3 2031.9,639.5 2031.3,643.6 2030.7,641.8 2030.0,643.8 2029.4,648.9 2028.8,646.2 2028.2,678.8 2027.6,624.9 2026.9,628.7 2026.3,630.4 2025.7,634.6 2025.1,624.4 2024.4,621.6 2023.8,642.1 2023.2,649.0 2022.6,662.7 2022.0,641.3 2021.3,643.7 2020.7,659.1 2020.1,617.4 2019.5,634.5 2018.9,631.0 2018.2,637.7 2017.6,651.6 2017.0,631.2 2016.4,639.7 2015.7,629.5 2015.1,656.1 2014.5,634.4 2013.9,631.1 2013.3,629.0 2012.6,639.2 2012.0,624.1 2011.4,625.6 2010.8,627.3 2010.2,625.8 2009.5,637.1 2008.9,618.3 2008.3,612.2 2007.7,622.0 2007.0,601.6 2006.4,628.4 2005.8,621.9 2005.2,644.5 2004.6,658.8 2003.9,631.5 2003.3,648.6 2002.7,619.1 2002.1,645.3 2001.5,632.1 2000.8,626.9 2000.2,641.9 1999.6,624.5 1999.0,614.8 1998.3,625.8 1997.7,619.8 1997.1,622.1 1996.5,627.6 1995.9,644.4 1995.2,662.5 1994.6,643.6 1994.0,654.0 1993.4,683.6 1992.8,643.3 1992.1,682.4 1991.5,620.4 1990.9,622.1 1990.3,639.4 1989.6,619.4 1989.0,618.2 1988.4,638.3 1987.8,618.6 1987.2,632.7 1986.5,614.4 1985.9,630.2 1985.3,657.8 1984.7,620.6 1984.1,652.3 1983.4,635.4 1982.8,639.7 1982.2,627.5 1981.6,641.0 1980.9,655.0 1980.3,638.5 1979.7,618.1 1979.1,657.0 1978.5,651.7 1977.8,634.7 1977.2,639.1 1976.6,638.7 1976.0,646.8 1975.3,635.6 1974.7,654.0 1974.1,630.1 1973.5,640.4 1972.9,659.1 1972.2,657.1 1971.6,641.8 1971.0,662.1 1970.4,642.3 1969.8,639.4 1969.1,650.7 1968.5,654.2 1967.9,654.4 1967.3,621.3 1966.6,647.8 1966.0,646.1 1965.4,649.0 1964.8,652.4 1964.2,637.3 1963.5,624.0 1962.9,628.8 1962.3,614.8 1961.7,637.6 1961.1,632.1 1960.4,640.4 1959.8,625.6 1959.2,618.5 1958.6,620.4 1957.9,620.4 1957.3,631.8 1956.7,633.6 1956.1,638.4 1955.5,616.1 1954.8,631.8 1954.2,631.4 1953.6,628.6 1953.0,621.0 1952.4,665.6 1951.7,665.2 1951.1,659.5 1950.5,645.7 1949.9,671.7 1949.2,652.4 1948.6,618.3 1948.0,618.1 1947.4,634.8 1946.8,626.1 1946.1,635.7 1945.5,657.6 1944.9,642.4 1944.3,628.0 1943.7,631.8 1943.0,623.3 1942.4,624.6 1941.8,634.5 1941.2,629.7 1940.5,643.7 1939.9,639.1 1939.3,625.2 1938.7,642.7 1938.1,639.9 1937.4,638.2 1936.8,648.9 1936.2,614.9 1935.6,635.3 1935.0,661.2 1934.3,651.4 1933.7,626.0 1933.1,661.3 1932.5,608.9 1931.8,623.3 1931.2,629.5 1930.6,655.2 1930.0,650.8 1929.4,665.0 1928.7,625.0 1928.1,626.1 1927.5,627.1 1926.9,645.2 1926.3,615.7 1925.6,634.8 1925.0,635.0 1924.4,649.0 1923.8,663.6 1923.1,661.7 1922.5,665.3 1921.9,664.7 1921.3,663.4 1920.7,661.3 1920.0,651.4 1919.4,630.6 1918.8,654.4 1918.2,640.7 1917.5,650.9 1916.9,661.7 1916.3,647.2 1915.7,641.6 1915.1,644.1 1914.4,649.6 1913.8,650.4 1913.2,640.2 1912.6,667.5 1912.0,678.7 1911.3,671.9 1910.7,641.9 1910.1,639.1 1909.5,652.4 1908.8,647.9 1908.2,648.0 1907.6,639.3 1907.0,639.3 1906.4,683.4 1905.7,640.3 1905.1,639.1 1904.5,618.6 1903.9,639.4 1903.3,632.6 1902.6,641.8 1902.0,648.4 1901.4,617.0 1900.8,636.1 1900.1,626.6 1899.5,635.0 1898.9,631.8 1898.3,653.2 1897.7,645.6 1897.0,618.3 1896.4,642.6 1895.8,639.8 1895.2,646.7 1894.6,625.4 1893.9,618.2 1893.3,619.8 1892.7,633.3 1892.1,632.1 1891.4,622.7 1890.8,631.1 1890.2,623.6 1889.6,643.6 1889.0,630.5 1888.3,668.4 1887.7,650.2 1887.1,618.3 1886.5,635.5 1885.9,635.9 1885.2,627.7 1884.6,641.0 1884.0,661.5 1883.4,649.6 1882.7,623.3 1882.1,629.5 1881.5,628.1 1880.9,635.4 1880.3,617.1 1879.6,608.0 1879.0,637.3 1878.4,633.7 1877.8,628.7 1877.2,636.4 1876.5,627.5 1875.9,625.1 1875.3,619.6 1874.7,619.8 1874.0,620.7 1873.4,614.8 1872.8,628.8 1872.2,618.4 1871.6,653.2 1870.9,631.9 1870.3,630.5 1869.7,612.7 1869.1,610.9 1868.5,623.1 1867.8,621.0 1867.2,643.7 1866.6,630.4 1866.0,638.5 1865.3,601.6 1864.7,631.8 1864.1,657.2 1863.5,637.0 1862.9,650.7 1862.2,662.6 1861.6,629.9 1861.0,641.3 1860.4,642.1 1859.8,625.6 1859.1,639.9 1858.5,622.0 1857.9,623.4 1857.3,635.5 1856.6,648.8 1856.0,649.3 1855.4,616.3" fill="#3a9fff" stroke="#3a9fff" stroke-width="0.7" stroke-linejoin="round"/>
</g>
<polyline points="2079.1,681.8 2079.8,710.1 2080.4,690.3 2081.0,677.3 2081.6,703.5 2082.2,704.8 2082.9,721.4 2083.5,732.7 2084.1,721.4 2084.7,721.4 2085.4,732.7 2086.0,698.5 2086.6,658.4 2087.2,641.0 2087.8,599.8 2088.5,594.2 2089.1,524.2 2089.7,492.7 2090.3,439.5 2090.9,485.2 2091.6,473.8 2092.2,536.1 2092.8,583.3 2093.4,583.9 2094.1,644.8 2094.7,633.7 2095.3,590.1 2095.9,592.6 2096.5,512.8 2097.2,508.8 2097.8,486.8 2098.4,439.5 2099.0,475.9 2099.6,456.4 2100.3,509.7 2100.9,505.4 2101.5,509.7 2102.1,478.8 2102.8,475.0 2103.4,491.6 2104.0,475.0 2104.6,492.9 2105.2,510.1 2105.9,560.0 2106.5,563.8 2107.1,563.8 2107.7,533.3 2108.4,528.6 2109.0,545.0 2109.6,579.9 2110.2,563.9 2110.8,622.3 2111.5,631.9 2112.1,644.6 2112.7,665.8 2113.3,683.1 2113.9,683.1 2114.6,667.9 2115.2,673.0 2115.8,658.4 2116.4,668.8 2117.1,658.4 2117.7,617.2 2118.3,542.5 2118.9,529.1 2119.5,494.4 2120.2,532.2 2120.8,532.2 2121.4,524.0 2122.0,517.8 2122.6,471.0 2123.3,497.9 2123.9,529.9 2124.5,547.0 2125.1,599.8 2125.8,652.0 2126.4,683.7 2127.0,742.6 2127.6,728.8 2128.2,728.8 2128.9,665.5 2129.5,636.7 2130.1,625.9 2130.7,653.4 2131.3,654.8 2132.0,673.9 2132.6,682.2 2133.2,669.8 2133.8,702.5 2134.5,632.9 2135.1,578.7 2135.7,512.9 2136.3,524.3 2136.9,542.0 2137.6,568.1 2138.2,575.1 2138.8,590.8 2139.4,518.1 2140.0,478.5 2140.7,411.5 2141.3,456.2 2141.9,469.4 2142.5,501.9 2143.2,563.5 2143.8,580.0 2144.4,580.0 2145.0,544.5 2145.6,557.3 2146.3,538.1 2146.9,552.5 2147.5,538.1 2148.1,561.1 2148.7,576.8 2149.4,612.0 2150.0,648.9 2150.6,620.5 2151.2,597.2 2151.9,578.4 2152.5,556.0 2153.1,511.5 2153.7,525.7 2154.3,544.7 2155.0,533.2 2155.6,559.3 2156.2,543.8 2156.8,504.9 2157.4,484.1 2158.1,465.1 2158.7,474.3 2159.3,510.5 2159.9,550.3 2160.6,563.8 2161.2,547.9 2161.8,514.3 2162.4,512.5 2163.0,467.8 2163.7,483.6 2164.3,529.0 2164.9,561.6 2165.5,563.8 2166.2,563.8 2166.8,527.8 2167.4,526.0 2168.0,517.3 2168.6,482.7 2169.3,498.9 2169.9,502.7 2170.5,509.7 2171.1,532.2 2171.7,587.0 2172.4,597.4 2173.0,627.7 2173.6,594.7 2174.2,549.0 2174.9,511.1 2175.5,480.0 2176.1,480.0 2176.7,502.3 2177.3,518.5 2178.0,545.3 2178.6,598.7 2179.2,599.8 2179.8,599.8 2180.4,640.8 2181.1,640.8 2181.7,607.0 2182.3,620.8 2182.9,585.9 2183.6,597.2 2184.2,578.4 2184.8,557.9 2185.4,594.7 2186.0,626.2 2186.7,644.8 2187.3,676.3 2187.9,676.8 2188.5,693.9 2189.1,678.8 2189.8,693.9 2190.4,654.3 2191.0,661.0 2191.6,636.0 2192.3,625.9 2192.9,613.3 2193.5,613.3 2194.1,661.2 2194.7,666.3 2195.4,645.8 2196.0,674.1 2196.6,664.7 2197.2,694.8 2197.8,671.2 2198.5,608.3 2199.1,604.1 2199.7,589.7 2200.3,519.6 2201.0,545.8 2201.6,521.4 2202.2,522.9 2202.8,545.8 2203.4,545.8 2204.1,527.7 2204.7,545.8 2205.3,545.8 2205.9,527.7 2206.5,552.4 2207.2,595.7 2207.8,623.3 2208.4,678.6 2209.0,711.0 2209.7,711.0 2210.3,689.2 2210.9,660.6 2211.5,660.5 2212.1,634.1 2212.8,636.4 2213.4,617.4 2214.0,634.3 2214.6,651.6 2215.2,652.7 2215.9,672.8 2216.5,661.8 2217.1,702.5 2217.7,678.9 2218.4,665.1 2219.0,621.8 2219.6,599.8 2220.2,574.3 2220.8,531.4 2221.5,487.3 2222.1,460.6 2222.7,493.1 2223.3,499.3 2223.9,542.9 2224.6,568.0 2225.2,585.6 2225.8,633.1 2226.4,624.3 2227.1,613.1 2227.7,586.3 2228.3,578.9 2228.9,592.8 2229.5,540.8 2230.2,540.8 2230.8,580.2 2231.4,646.1 2232.0,679.1 2232.7,679.1 2233.3,671.7 2233.9,679.1 2234.5,661.0 2235.1,653.8 2235.8,675.3 2236.4,680.6 2237.0,701.8 2237.6,702.5 2238.2,740.4 2238.9,746.6 2239.5,722.6 2240.1,690.4 2240.7,658.7 2241.4,643.9 2242.0,643.9 2242.6,668.6 2243.2,672.7 2243.8,716.0 2244.5,746.3 2245.1,754.6 2245.7,784.0 2246.3,759.4 2246.9,752.4 2247.6,713.0 2248.2,709.8 2248.8,711.8 2249.4,673.6 2250.1,667.4 2250.7,689.7 2251.3,699.8 2251.9,701.1 2252.5,651.0 2253.2,647.8 2253.8,645.4 2254.4,576.8 2255.0,596.9 2255.6,605.6 2256.3,643.2 2256.9,658.6 2257.5,689.9 2258.1,742.9 2258.8,739.2 2259.4,776.8 2260.0,816.4 2260.6,836.3 2261.2,836.0 2261.9,816.3 2262.5,798.0 2263.1,780.0 2263.7,786.8 2264.3,780.0 2265.0,756.4 2265.6,697.9 2266.2,639.0 2266.8,680.3 2267.5,681.6 2268.1,712.4 2268.7,669.0 2269.3,627.1 2269.9,581.3 2270.6,630.5 2271.2,667.0 2271.8,686.3 2272.4,712.4 2273.0,712.4 2273.7,732.7 2274.3,759.7 2274.9,759.7 2275.5,658.2 2276.2,671.0 2276.8,631.4 2277.4,570.5 2278.0,575.9 2278.6,601.0 2279.3,637.3 2279.9,644.8 2280.5,653.0 2281.1,684.7 2281.7,710.6 2282.4,654.2 2283.0,610.4 2283.6,557.5 2284.2,570.6 2284.9,575.7 2285.5,603.0 2286.1,613.3 2286.7,613.3 2287.3,610.4 2288.0,562.7 2288.6,543.5 2289.2,561.7 2289.8,587.6 2290.4,582.8 2291.1,653.0 2291.7,670.1 2292.3,655.6 2292.9,626.1 2293.6,580.7 2294.2,533.1 2294.8,545.3 2295.4,556.5 2296.0,619.5 2296.7,626.4 2297.3,555.9 2297.9,559.3 2298.5,561.2 2299.2,501.6 2299.8,529.0 2300.4,575.5 2301.0,575.5 2301.6,557.7 2302.3,546.5 2302.9,509.7 2303.5,477.5 2304.1,480.7 2304.7,449.1 2305.4,442.8 2306.0,418.3 2306.6,458.9 2307.2,484.1 2307.9,532.2 2308.5,586.0 2309.1,566.6 2309.7,607.9 2310.3,574.8 2311.0,504.4 2311.6,486.7 2312.2,524.3 2312.8,548.0 2313.4,525.9 2314.1,564.0 2314.7,577.3 2315.3,530.5 2315.9,521.1 2316.6,500.5 2317.2,462.0 2317.8,531.6 2318.4,539.8 2319.0,550.0 2319.7,584.6 2320.3,599.8 2320.9,640.5 2321.5,662.7 2322.1,679.4 2322.8,707.0 2323.4,703.9 2324.0,707.0 2324.6,689.9 2325.3,620.9 2325.9,557.4 2326.5,481.3 2327.1,481.3 2327.7,520.4 2328.4,532.2 2329.0,590.8 2329.6,590.8 2330.2,573.5 2330.8,588.3 2331.5,528.8 2332.1,548.1 2332.7,526.4 2333.3,582.2 2334.0,601.6 2334.6,638.3 2335.2,714.2 2335.8,714.2 2336.4,665.1 2337.1,619.0 2337.7,607.7 2338.3,586.3 2338.9,621.8 2339.5,702.0 2340.2,697.9 2340.8,738.1 2341.4,749.3 2342.0,732.1 2342.7,704.4 2343.3,658.8 2343.9,642.8 2344.5,587.2 2345.1,624.3 2345.8,645.0 2346.4,675.9 2347.0,689.9 2347.6,701.8 2348.2,701.8 2348.9,712.6 2349.5,733.6 2350.1,708.1 2350.7,686.9 2351.4,662.8 2352.0,649.3 2352.6,622.3 2353.2,633.4 2353.8,631.6 2354.5,699.2 2355.1,713.3 2355.7,685.4 2356.3,615.9 2357.0,570.0 2357.6,508.9 2358.2,518.3 2358.8,432.4 2359.4,374.6 2360.1,415.0 2360.7,461.2 2361.3,496.5 2361.9,512.2 2362.5,529.5 2363.2,586.3 2363.8,549.6 2364.4,507.0 2365.0,479.0 2365.7,433.2 2366.3,475.6 2366.9,504.4 2367.5,513.3 2368.1,543.0 2368.8,593.7 2369.4,643.6 2370.0,664.2 2370.6,693.9 2371.2,632.9 2371.9,595.9 2372.5,563.9 2373.1,507.3 2373.7,485.2 2374.4,433.6 2375.0,457.1 2375.6,528.1 2376.2,536.7 2376.8,592.8 2377.5,594.1 2378.1,640.3 2378.7,620.4 2379.3,580.3 2379.9,582.0 2380.6,564.6 2381.2,542.6 2381.8,515.1 2382.4,497.1 2383.1,476.4 2383.7,516.9 2384.3,519.9 2384.9,540.6 2385.5,589.3 2386.2,599.8 2386.8,607.8 2387.4,616.6 2388.0,652.5 2388.6,685.7 2389.3,676.6 2389.9,693.9 2390.5,693.9 2391.1,665.9 2391.8,668.9 2392.4,667.9 2393.0,644.8 2393.6,688.2 2394.2,686.1 2394.9,693.1 2395.5,734.1 2396.1,773.7 2396.7,793.0 2397.3,793.0 2398.0,777.5 2398.6,694.7 2399.2,695.3 2399.8,679.3 2400.5,632.2 2401.1,673.0 2401.7,687.3 2402.3,728.0 2402.9,707.2 2403.6,771.2 2404.2,781.8 2404.8,749.9 2405.4,708.1 2406.0,689.9 2406.7,689.9 2407.3,705.1 2407.9,721.8 2408.5,745.7 2409.2,729.0 2409.8,725.8 2410.4,708.6 2411.0,667.4 2411.6,704.9 2412.3,683.0 2412.9,729.1 2413.5,719.5 2414.1,669.1 2414.8,632.7 2415.4,577.3 2416.0,535.5 2416.6,539.2 2417.2,512.0 2417.9,435.4 2418.5,449.0 2419.1,461.3 2419.7,474.6 2420.3,502.2 2421.0,504.4 2421.6,532.2 2422.2,535.5 2422.8,551.2 2423.5,551.2 2424.1,538.2 2424.7,551.2 2425.3,608.3 2425.9,618.4 2426.6,619.1 2427.2,629.9 2427.8,666.0 2428.4,641.6 2429.0,637.6 2429.7,564.2 2430.3,564.2 2430.9,566.7 2431.5,590.7 2432.2,606.6 2432.8,632.7 2433.4,576.8 2434.0,509.7 2434.6,518.6 2435.3,545.8 2435.9,535.3 2436.5,470.5 2437.1,470.5 2437.7,479.5 2438.4,516.6 2439.0,532.2 2439.6,467.0 2440.2,421.5 2440.9,366.5 2441.5,378.9 2442.1,397.7 2442.7,437.4 2443.3,475.4 2444.0,472.7 2444.6,489.7 2445.2,532.2 2445.8,519.7 2446.4,492.6 2447.1,505.7 2447.7,478.1 2448.3,491.6 2448.9,469.6 2449.6,498.6 2450.2,544.8 2450.8,562.6 2451.4,640.8 2452.0,624.3 2452.7,624.0 2453.3,617.0 2453.9,597.0 2454.5,542.1 2455.1,569.4 2455.8,548.5 2456.4,559.4 2457.0,601.8 2457.6,586.6 2458.3,624.7 2458.9,626.0 2459.5,659.3 2460.1,613.7 2460.7,613.3 2461.4,558.1 2462.0,544.7 2462.6,509.0 2463.2,482.7 2463.8,494.2 2464.5,509.8 2465.1,518.7 2465.7,485.7 2466.3,502.4 2467.0,454.0 2467.6,453.0 2468.2,534.8 2468.8,565.2 2469.4,640.5 2470.1,645.3 2470.7,733.1 2471.3,718.9 2471.9,675.2 2472.5,672.7 2473.2,637.4 2473.8,639.7 2474.4,608.5 2475.0,577.3 2475.7,556.2 2476.3,513.7 2476.9,503.4 2477.5,470.0 2478.1,477.1 2478.8,451.8 2479.4,422.2 2480.0,392.2 2480.6,401.5 2481.3,422.1 2481.9,426.8 2482.5,453.7 2483.1,463.3 2483.7,508.9 2484.4,594.5 2485.0,616.0 2485.6,558.3 2486.2,559.8 2486.8,528.0 2487.5,526.4 2488.1,463.7 2488.7,507.7 2489.3,467.9 2490.0,425.9 2490.6,425.9 2491.2,464.7 2491.8,460.2 2492.4,459.3 2493.1,415.6 2493.7,430.2 2494.3,469.8 2494.9,509.2 2495.5,530.0 2496.2,532.2 2496.8,550.7 2497.4,572.9 2498.0,588.5 2498.7,588.2 2499.3,536.2 2499.9,509.7 2500.5,501.9 2501.1,486.7 2501.8,496.0 2502.4,492.9 2503.0,469.6 2503.6,487.8 2504.2,523.7 2504.9,554.8 2505.5,554.8 2506.1,592.3 2506.7,632.8 2507.4,710.1 2508.0,691.2 2508.6,650.0 2509.2,591.7 2509.8,585.4 2510.5,526.4 2511.1,545.8 2511.7,533.8 2512.3,545.8 2512.9,527.6 2513.6,524.3 2514.2,503.0 2514.8,482.7 2515.4,492.1 2516.1,563.9 2516.7,548.2 2517.3,599.8 2517.9,628.8 2518.5,638.2 2519.2,693.5 2519.8,739.4 2520.4,711.9 2521.0,670.9 2521.6,592.7 2522.3,586.3 2522.9,604.6 2523.5,620.4 2524.1,661.6 2524.8,688.1 2525.4,688.1 2526.0,602.5 2526.6,607.3 2527.2,509.7 2527.9,509.7 2528.5,454.6 2529.1,408.8 2529.7,390.4 2530.3,414.7 2531.0,404.6 2531.6,444.0 2532.2,479.3 2532.8,495.3 2533.5,495.3 2534.1,521.4 2534.7,586.6 2535.3,599.5 2535.9,661.1 2536.6,660.5 2537.2,646.4 2537.8,622.3 2538.4,630.8 2539.1,644.6 2539.7,685.4 2540.3,685.4 2540.9,685.4 2541.5,685.4 2542.2,647.8 2542.8,613.7 2543.4,599.8 2544.0,592.6 2544.6,592.2 2545.3,522.2 2545.9,537.7 2546.5,517.4 2547.1,544.7 2547.8,563.0 2548.4,543.3 2549.0,586.3 2549.6,582.8 2550.2,561.1 2550.9,566.0 2551.5,633.0 2552.1,646.8 2552.7,683.1 2553.3,647.7 2554.0,638.9 2554.6,588.3 2555.2,564.2 2555.8,583.7 2556.5,624.3 2557.1,657.2 2557.7,660.7 2558.3,695.0 2558.9,716.0 2559.6,695.0 2560.2,698.9 2560.8,643.7 2561.4,632.7 2562.0,608.8 2562.7,617.0 2563.3,626.0 2563.9,659.8 2564.5,694.0 2565.2,682.2 2565.8,721.4 2566.4,716.9 2567.0,713.4 2567.6,672.0 2568.3,672.0 2568.9,647.1 2569.5,622.3 2570.1,610.4 2570.7,583.5 2571.4,583.3 2572.0,583.2 2572.6,562.0 2573.2,577.9 2573.9,571.1 2574.5,592.3 2575.1,610.5 2575.7,602.1 2576.3,625.3 2577.0,640.8 2577.6,640.8 2578.2,602.4 2578.8,587.8 2579.4,573.0 2580.1,562.9 2580.7,546.7 2581.3,561.0 2581.9,561.1 2582.6,574.1 2583.2,577.3 2583.8,565.4 2584.4,537.6 2585.0,524.2 2585.7,512.0 2586.3,543.1 2586.9,588.5 2587.5,644.8 2588.1,699.2 2588.8,750.3 2589.4,806.1 2590.0,789.7 2590.6,806.1 2591.3,797.0 2591.9,790.7 2592.5,780.0 2593.1,773.4 2593.7,764.2 2594.4,760.6 2595.0,705.0 2595.6,649.3 2596.2,659.9 2596.8,675.2 2597.5,694.2 2598.1,698.1 2598.7,690.4 2599.3,725.9 2600.0,725.9 2600.6,651.7 2601.2,629.7 2601.8,606.7 2602.4,550.3 2603.1,519.6 2603.7,546.1 2604.3,549.9 2604.9,572.8 2605.6,657.8 2606.2,648.0 2606.8,692.1 2607.4,689.1 2608.0,662.5 2608.7,628.8 2609.3,646.3 2609.9,622.3 2610.5,638.9 2611.1,686.9 2611.8,669.6 2612.4,696.5 2613.0,711.9 2613.6,656.1 2614.3,655.8 2614.9,649.8 2615.5,614.4 2616.1,595.8 2616.7,574.1 2617.4,628.9 2618.0,660.2 2618.6,709.7 2619.2,703.5 2619.8,763.3 2620.5,755.3 2621.1,726.0 2621.7,692.9 2622.3,644.8 2623.0,656.1 2623.6,667.4 2624.2,646.2 2624.8,673.7 2625.4,596.3 2626.1,525.8 2626.7,430.8 2627.3,372.3 2627.9,393.5 2628.5,417.4 2629.2,451.2 2629.8,501.7 2630.4,518.7" fill="none" stroke="#999999" stroke-width="6" stroke-linejoin="round" stroke-linecap="round"/>
<path d="M1855.4 599.8H3204.7" stroke="#1f85ec" stroke-width="5.6" stroke-linecap="round" fill="none"/>
<path d="M1855.4 599.8H3204.7" stroke="#2a78c8" stroke-width="1" fill="none"/>
<path d="M1929.98 366.40v-15.5M1929.98 850.60v15.5M2004.56 366.40v-15.5M2004.56 850.60v15.5M2079.14 366.40v-15.5M2079.14 850.60v15.5M2228.30 366.40v-15.5M2228.30 850.60v15.5M2302.88 366.40v-15.5M2302.88 850.60v15.5M2377.46 366.40v-15.5M2377.46 850.60v15.5M2526.62 366.40v-15.5M2526.62 850.60v15.5M2601.20 366.40v-15.5M2601.20 850.60v15.5M2675.78 366.40v-15.5M2675.78 850.60v15.5M2824.94 366.40v-15.5M2824.94 850.60v15.5M2899.52 366.40v-15.5M2899.52 850.60v15.5M2974.10 366.40v-15.5M2974.10 850.60v15.5M3123.26 366.40v-15.5M3123.26 850.60v15.5M3197.84 366.40v-15.5M3197.84 850.60v15.5M1851.80 847.52h-15.5M3208.40 847.52h15.5M1851.80 825.00h-15.5M3208.40 825.00h15.5M1851.80 802.48h-15.5M3208.40 802.48h15.5M1851.80 757.44h-15.5M3208.40 757.44h15.5M1851.80 734.92h-15.5M3208.40 734.92h15.5M1851.80 712.40h-15.5M3208.40 712.40h15.5M1851.80 667.36h-15.5M3208.40 667.36h15.5M1851.80 644.84h-15.5M3208.40 644.84h15.5M1851.80 622.32h-15.5M3208.40 622.32h15.5M1851.80 577.28h-15.5M3208.40 577.28h15.5M1851.80 554.76h-15.5M3208.40 554.76h15.5M1851.80 532.24h-15.5M3208.40 532.24h15.5M1851.80 487.20h-15.5M3208.40 487.20h15.5M1851.80 464.68h-15.5M3208.40 464.68h15.5M1851.80 442.16h-15.5M3208.40 442.16h15.5M1851.80 397.12h-15.5M3208.40 397.12h15.5M1851.80 374.60h-15.5M3208.40 374.60h15.5" stroke="#909090" stroke-width="1.2" fill="none"/>
<path d="M1855.40 366.40v-31M1855.40 850.60v31M2153.72 366.40v-31M2153.72 850.60v31M2452.04 366.40v-31M2452.04 850.60v31M2750.36 366.40v-31M2750.36 850.60v31M3048.68 366.40v-31M3048.68 850.60v31M1851.80 779.96h-31M3208.40 779.96h31M1851.80 689.88h-31M3208.40 689.88h31M1851.80 599.80h-31M3208.40 599.80h31M1851.80 509.72h-31M3208.40 509.72h31M1851.80 419.64h-31M3208.40 419.64h31" stroke="#3c3c3c" stroke-width="1.4" fill="none"/>
<rect x="1851.80" y="366.40" width="1356.60" height="484.20" fill="none" stroke="#505050" stroke-width="1.3"/>
<text transform="translate(1793.80 433.54) scale(1 1.025)" font-size="40.1" text-anchor="end">0.40</text>
<text transform="translate(1793.80 523.62) scale(1 1.025)" font-size="40.1" text-anchor="end">0.20</text>
<text transform="translate(1793.80 613.70) scale(1 1.025)" font-size="40.1" text-anchor="end">0.00</text>
<text transform="translate(1793.80 703.78) scale(1 1.025)" font-size="40.1" text-anchor="end">-0.20</text>
<text transform="translate(1793.80 793.86) scale(1 1.025)" font-size="40.1" text-anchor="end">-0.40</text>
<text transform="translate(1855.10 939.30) scale(1 1.025)" font-size="40.0" text-anchor="middle">1920</text>
<text transform="translate(2153.42 939.30) scale(1 1.025)" font-size="40.0" text-anchor="middle">1960</text>
<text transform="translate(2451.74 939.30) scale(1 1.025)" font-size="40.0" text-anchor="middle">2000</text>
<text transform="translate(2750.06 939.30) scale(1 1.025)" font-size="40.0" text-anchor="middle">2040</text>
<text transform="translate(3048.38 939.30) scale(1 1.025)" font-size="40.0" text-anchor="middle">2080</text>
<text transform="translate(2530.60 1016.20) scale(1 1.06)" font-size="53.0" text-anchor="middle">Time</text>
<text transform="translate(1849.40 313.80) scale(1 1.055)" font-size="46.5" fill="#698b69">CESM1-LR (10 Members)</text>
<text transform="translate(3193.40 315.80) scale(1 1.02)" font-size="36.0" text-anchor="end">-0.09/-0/0.04 C 181yr</text>
<text transform="translate(3193.80 298.00) scale(1 1.1)" font-size="19.5">-1</text>
<text transform="translate(1882.30 820.10) scale(1 1.02)" font-size="36.6">65%</text>
</g>
<g id="panel3">
<clipPath id="cp2"><rect x="164.6" y="1148.7" width="1356.6" height="484.2"/></clipPath>
<g clip-path="url(#cp2)">
<polygon points="168.2,1327.9 168.8,1318.0 169.4,1331.5 170.1,1301.1 170.7,1313.3 171.3,1322.0 171.9,1325.4 172.6,1322.2 173.2,1326.5 173.8,1321.8 174.4,1308.7 175.0,1327.6 175.7,1328.7 176.3,1326.9 176.9,1307.6 177.5,1315.2 178.1,1306.8 178.8,1280.5 179.4,1299.6 180.0,1297.1 180.6,1280.8 181.3,1284.4 181.9,1305.4 182.5,1291.2 183.1,1309.5 183.7,1312.1 184.4,1326.9 185.0,1316.7 185.6,1291.5 186.2,1315.2 186.8,1308.5 187.5,1322.8 188.1,1320.4 188.7,1309.3 189.3,1303.2 190.0,1305.5 190.6,1315.6 191.2,1320.8 191.8,1324.1 192.4,1334.9 193.1,1313.7 193.7,1306.3 194.3,1322.1 194.9,1291.7 195.5,1266.1 196.2,1287.5 196.8,1296.5 197.4,1319.4 198.0,1333.9 198.7,1311.0 199.3,1347.3 199.9,1340.6 200.5,1329.7 201.1,1329.9 201.8,1324.9 202.4,1342.3 203.0,1312.4 203.6,1332.9 204.2,1339.5 204.9,1347.6 205.5,1326.5 206.1,1328.2 206.7,1333.4 207.4,1307.2 208.0,1320.7 208.6,1328.9 209.2,1305.7 209.8,1319.9 210.5,1320.0 211.1,1326.1 211.7,1320.3 212.3,1320.4 212.9,1306.3 213.6,1320.7 214.2,1328.9 214.8,1321.6 215.4,1330.1 216.1,1332.0 216.7,1332.2 217.3,1327.3 217.9,1302.8 218.5,1297.5 219.2,1288.9 219.8,1322.6 220.4,1314.7 221.0,1312.7 221.6,1305.7 222.3,1311.3 222.9,1322.1 223.5,1324.1 224.1,1321.5 224.8,1340.6 225.4,1328.2 226.0,1334.4 226.6,1319.3 227.2,1315.3 227.9,1328.9 228.5,1316.8 229.1,1313.0 229.7,1300.1 230.3,1303.6 231.0,1302.6 231.6,1314.7 232.2,1279.6 232.8,1314.3 233.5,1321.4 234.1,1303.7 234.7,1316.7 235.3,1338.2 235.9,1301.7 236.6,1305.3 237.2,1282.8 237.8,1311.2 238.4,1293.8 239.1,1302.8 239.7,1295.7 240.3,1267.5 240.9,1316.2 241.5,1326.4 242.2,1308.2 242.8,1333.7 243.4,1305.3 244.0,1332.6 244.6,1330.4 245.3,1327.4 245.9,1317.8 246.5,1319.3 247.1,1325.6 247.8,1316.9 248.4,1317.8 249.0,1303.9 249.6,1317.9 250.2,1331.1 250.9,1339.7 251.5,1337.4 252.1,1291.2 252.7,1292.6 253.3,1279.9 254.0,1291.6 254.6,1297.5 255.2,1304.4 255.8,1329.0 256.5,1307.8 257.1,1302.9 257.7,1299.4 258.3,1318.3 258.9,1304.6 259.6,1284.9 260.2,1285.7 260.8,1319.1 261.4,1273.0 262.0,1306.5 262.7,1316.7 263.3,1327.6 263.9,1301.6 264.5,1314.1 265.2,1301.5 265.8,1303.9 266.4,1316.6 267.0,1313.9 267.6,1300.0 268.3,1301.4 268.9,1306.3 269.5,1323.8 270.1,1323.4 270.7,1305.1 271.4,1301.8 272.0,1306.3 272.6,1300.8 273.2,1311.6 273.9,1308.5 274.5,1311.5 275.1,1325.0 275.7,1344.5 276.3,1322.0 277.0,1317.2 277.6,1330.8 278.2,1331.3 278.8,1329.5 279.4,1332.2 280.1,1327.1 280.7,1335.4 281.3,1336.5 281.9,1310.0 282.6,1327.2 283.2,1303.2 283.8,1305.1 284.4,1293.2 285.0,1308.9 285.7,1313.0 286.3,1328.0 286.9,1309.1 287.5,1330.1 288.1,1336.4 288.8,1309.6 289.4,1321.4 290.0,1308.0 290.6,1313.2 291.3,1314.8 291.9,1311.9 292.5,1282.0 293.1,1291.1 293.7,1325.9 294.4,1321.7 295.0,1329.7 295.6,1332.7 296.2,1320.3 296.9,1334.8 297.5,1315.2 298.1,1320.4 298.7,1321.7 299.3,1324.4 300.0,1334.9 300.6,1318.3 301.2,1280.6 301.8,1311.9 302.4,1321.1 303.1,1328.7 303.7,1304.6 304.3,1311.7 304.9,1327.1 305.6,1314.1 306.2,1305.3 306.8,1309.1 307.4,1301.7 308.0,1307.1 308.7,1306.2 309.3,1306.2 309.9,1310.5 310.5,1317.8 311.1,1308.3 311.8,1305.9 312.4,1333.7 313.0,1326.0 313.6,1315.0 314.3,1304.9 314.9,1291.5 315.5,1277.9 316.1,1291.1 316.7,1306.1 317.4,1304.6 318.0,1292.5 318.6,1323.1 319.2,1323.8 319.8,1299.8 320.5,1325.0 321.1,1313.4 321.7,1290.8 322.3,1321.6 323.0,1295.6 323.6,1289.6 324.2,1295.7 324.8,1314.5 325.4,1318.7 326.1,1331.1 326.7,1303.6 327.3,1309.6 327.9,1314.9 328.5,1323.3 329.2,1315.3 329.8,1302.8 330.4,1296.9 331.0,1312.1 331.7,1312.7 332.3,1303.0 332.9,1306.8 333.5,1315.6 334.1,1310.2 334.8,1318.0 335.4,1295.9 336.0,1283.5 336.6,1303.0 337.2,1312.8 337.9,1334.7 338.5,1338.7 339.1,1323.6 339.7,1333.0 340.4,1313.7 341.0,1324.4 341.6,1320.7 342.2,1285.9 342.8,1287.2 343.5,1286.5 344.1,1300.8 344.7,1303.5 345.3,1292.4 345.9,1320.7 346.6,1301.3 347.2,1304.1 347.8,1319.2 348.4,1297.1 349.1,1291.4 349.7,1324.4 350.3,1312.8 350.9,1294.3 351.5,1290.1 352.2,1306.0 352.8,1310.2 353.4,1294.3 354.0,1319.9 354.6,1299.2 355.3,1299.6 355.9,1309.8 356.5,1288.5 357.1,1318.2 357.8,1324.2 358.4,1293.6 359.0,1316.4 359.6,1323.3 360.2,1315.2 360.9,1325.7 361.5,1319.3 362.1,1299.1 362.7,1283.0 363.4,1303.9 364.0,1278.1 364.6,1313.7 365.2,1321.7 365.8,1311.8 366.5,1303.3 367.1,1300.6 367.7,1290.9 368.3,1310.0 368.9,1327.9 369.6,1320.3 370.2,1330.5 370.8,1325.3 371.4,1313.6 372.1,1311.8 372.7,1311.8 373.3,1293.6 373.9,1275.8 374.5,1272.6 375.2,1286.3 375.8,1311.3 376.4,1322.9 377.0,1314.2 377.6,1328.5 378.3,1315.0 378.9,1331.8 379.5,1310.8 380.1,1327.1 380.8,1307.2 381.4,1268.8 382.0,1322.6 382.6,1303.9 383.2,1319.7 383.9,1314.8 384.5,1298.9 385.1,1325.1 385.7,1334.7 386.3,1313.8 387.0,1338.6 387.6,1321.4 388.2,1328.4 388.8,1323.6 389.5,1327.4 390.1,1327.0 390.7,1309.3 391.3,1307.7 391.9,1316.6 392.6,1318.6 393.2,1314.1 393.8,1300.2 394.4,1300.2 395.0,1305.0 395.7,1328.8 396.3,1324.3 396.9,1301.6 397.5,1293.4 398.2,1295.6 398.8,1319.3 399.4,1326.4 400.0,1313.8 400.6,1319.8 401.3,1333.5 401.9,1323.2 402.5,1325.1 403.1,1319.0 403.7,1315.1 404.4,1310.6 405.0,1316.6 405.6,1303.0 406.2,1300.1 406.9,1294.6 407.5,1321.9 408.1,1318.2 408.7,1332.4 409.3,1313.5 410.0,1294.5 410.6,1316.5 411.2,1317.1 411.8,1336.0 412.4,1325.3 413.1,1309.0 413.7,1336.1 414.3,1329.2 414.9,1308.3 415.6,1329.3 416.2,1323.7 416.8,1305.2 417.4,1315.6 418.0,1324.2 418.7,1313.3 419.3,1327.4 419.9,1326.7 420.5,1327.6 421.2,1328.5 421.8,1323.1 422.4,1328.2 423.0,1317.8 423.6,1313.5 424.3,1313.9 424.9,1317.6 425.5,1302.1 426.1,1312.1 426.7,1288.5 427.4,1288.2 428.0,1307.5 428.6,1299.1 429.2,1302.4 429.9,1312.9 430.5,1320.4 431.1,1306.5 431.7,1308.3 432.3,1292.6 433.0,1297.9 433.6,1312.4 434.2,1307.2 434.8,1320.7 435.4,1319.9 436.1,1328.1 436.7,1328.4 437.3,1322.3 437.9,1331.8 438.6,1312.9 439.2,1315.3 439.8,1305.9 440.4,1322.5 441.0,1310.8 441.7,1324.4 442.3,1330.6 442.9,1319.2 443.5,1335.9 444.1,1313.2 444.8,1312.0 445.4,1323.9 446.0,1333.0 446.6,1317.9 447.3,1296.8 447.9,1302.4 448.5,1311.6 449.1,1297.2 449.7,1297.8 450.4,1329.0 451.0,1320.3 451.6,1307.8 452.2,1313.1 452.8,1323.3 453.5,1305.3 454.1,1308.3 454.7,1296.3 455.3,1280.7 456.0,1293.3 456.6,1312.3 457.2,1328.0 457.8,1323.0 458.4,1331.7 459.1,1326.2 459.7,1342.7 460.3,1335.4 460.9,1309.5 461.5,1332.8 462.2,1315.1 462.8,1323.3 463.4,1310.1 464.0,1309.9 464.7,1307.4 465.3,1327.1 465.9,1335.6 466.5,1315.5 467.1,1324.7 467.8,1310.9 468.4,1313.5 469.0,1306.3 469.6,1318.0 470.2,1316.7 470.9,1312.2 471.5,1288.2 472.1,1292.4 472.7,1312.0 473.4,1294.2 474.0,1289.7 474.6,1311.5 475.2,1301.6 475.8,1317.2 476.5,1298.9 477.1,1316.4 477.7,1298.6 478.3,1308.7 479.0,1301.9 479.6,1323.7 480.2,1312.2 480.8,1329.6 481.4,1309.2 482.1,1318.2 482.7,1326.5 483.3,1334.3 483.9,1312.8 484.5,1329.2 485.2,1303.0 485.8,1299.6 486.4,1308.1 487.0,1339.8 487.7,1301.0 488.3,1299.4 488.9,1332.0 489.5,1328.7 490.1,1334.5 490.8,1327.9 491.4,1313.7 492.0,1312.0 492.6,1303.8 493.2,1311.0 493.9,1327.9 494.5,1318.9 495.1,1307.0 495.7,1302.7 496.4,1309.7 497.0,1313.3 497.6,1310.6 498.2,1316.0 498.8,1314.7 499.5,1296.4 500.1,1302.1 500.7,1315.8 501.3,1299.3 501.9,1331.2 502.6,1316.0 503.2,1303.1 503.8,1331.9 504.4,1317.9 505.1,1311.6 505.7,1314.7 506.3,1304.6 506.9,1307.4 507.5,1297.3 508.2,1280.0 508.8,1306.4 509.4,1298.9 510.0,1283.2 510.6,1311.9 511.3,1316.3 511.9,1334.7 512.5,1333.5 513.1,1321.6 513.8,1307.3 514.4,1300.5 515.0,1314.1 515.6,1312.8 516.2,1312.8 516.9,1303.4 517.5,1332.6 518.1,1323.5 518.7,1326.8 519.3,1311.9 520.0,1311.4 520.6,1333.8 521.2,1299.3 521.8,1302.7 522.5,1312.0 523.1,1316.2 523.7,1315.4 524.3,1295.4 524.9,1308.7 525.6,1304.0 526.2,1261.8 526.8,1265.4 527.4,1284.9 528.0,1287.3 528.7,1319.9 529.3,1320.7 529.9,1307.0 530.5,1303.6 531.2,1310.0 531.8,1302.9 532.4,1302.6 533.0,1310.6 533.6,1329.8 534.3,1335.5 534.9,1319.0 535.5,1321.5 536.1,1317.8 536.7,1315.2 537.4,1312.1 538.0,1304.4 538.6,1303.2 539.2,1306.9 539.9,1290.5 540.5,1303.7 541.1,1298.7 541.7,1277.6 542.3,1333.4 543.0,1313.3 543.6,1330.9 544.2,1324.1 544.8,1324.9 545.5,1313.6 546.1,1324.4 546.7,1306.9 547.3,1327.3 547.9,1319.8 548.6,1321.1 549.2,1318.6 549.8,1341.4 550.4,1338.9 551.0,1333.0 551.7,1327.4 552.3,1320.5 552.9,1334.7 553.5,1326.5 554.2,1324.3 554.8,1318.4 555.4,1294.6 556.0,1323.8 556.6,1324.7 557.3,1318.3 557.9,1335.3 558.5,1307.9 559.1,1318.0 559.7,1321.0 560.4,1287.6 561.0,1330.8 561.6,1330.9 562.2,1326.3 562.9,1326.7 563.5,1321.3 564.1,1313.3 564.7,1315.1 565.3,1307.8 566.0,1290.0 566.6,1302.0 567.2,1311.1 567.8,1311.4 568.4,1324.2 569.1,1319.6 569.7,1317.1 570.3,1292.0 570.9,1291.4 571.6,1255.2 572.2,1318.1 572.8,1305.8 573.4,1286.5 574.0,1296.8 574.7,1308.6 575.3,1316.1 575.9,1331.1 576.5,1346.6 577.1,1339.0 577.8,1326.0 578.4,1313.6 579.0,1313.3 579.6,1328.8 580.3,1326.0 580.9,1330.3 581.5,1317.3 582.1,1297.1 582.7,1314.7 583.4,1331.6 584.0,1309.6 584.6,1317.8 585.2,1305.9 585.8,1326.1 586.5,1315.3 587.1,1309.7 587.7,1318.8 588.3,1319.6 589.0,1326.8 589.6,1336.7 590.2,1309.0 590.8,1310.7 591.4,1321.3 592.1,1321.9 592.7,1325.0 593.3,1314.4 593.9,1313.3 594.5,1319.5 595.2,1312.2 595.8,1314.6 596.4,1324.4 597.0,1320.8 597.7,1304.2 598.3,1293.7 598.9,1320.0 599.5,1335.4 600.1,1324.8 600.8,1347.4 601.4,1330.5 602.0,1327.7 602.6,1312.8 603.2,1324.5 603.9,1282.9 604.5,1312.8 605.1,1318.1 605.7,1320.8 606.4,1296.7 607.0,1315.3 607.6,1316.6 608.2,1326.5 608.8,1332.2 609.5,1323.9 610.1,1344.6 610.7,1325.7 611.3,1319.2 612.0,1315.4 612.6,1292.7 613.2,1282.0 613.8,1283.4 614.4,1286.0 615.1,1311.3 615.7,1292.1 616.3,1320.5 616.9,1323.5 617.5,1328.8 618.2,1324.5 618.8,1328.2 619.4,1314.3 620.0,1322.8 620.7,1325.8 621.3,1345.4 621.9,1284.7 622.5,1310.3 623.1,1322.4 623.8,1327.5 624.4,1324.4 625.0,1307.3 625.6,1310.3 626.2,1314.9 626.9,1297.9 627.5,1315.0 628.1,1321.4 628.7,1328.3 629.4,1306.7 630.0,1308.7 630.6,1319.1 631.2,1297.0 631.8,1302.2 632.5,1293.0 633.1,1287.1 633.7,1320.3 634.3,1313.4 634.9,1300.6 635.6,1294.8 636.2,1309.2 636.8,1288.9 637.4,1300.4 638.1,1298.2 638.7,1281.5 639.3,1291.2 639.9,1287.3 640.5,1306.9 641.2,1304.5 641.8,1300.4 642.4,1320.3 643.0,1300.3 643.6,1307.0 644.3,1324.8 644.9,1308.9 645.5,1292.2 646.1,1291.8 646.8,1291.5 647.4,1293.5 648.0,1305.1 648.6,1316.8 649.2,1324.2 649.9,1326.0 650.5,1327.3 651.1,1325.0 651.7,1324.4 652.3,1304.5 653.0,1304.7 653.6,1320.3 654.2,1315.1 654.8,1318.0 655.5,1311.4 656.1,1322.5 656.7,1309.8 657.3,1312.8 657.9,1321.1 658.6,1314.7 659.2,1292.1 659.8,1303.8 660.4,1329.5 661.0,1331.8 661.7,1302.3 662.3,1305.4 662.9,1310.5 663.5,1308.7 664.2,1295.2 664.8,1298.0 665.4,1306.5 666.0,1318.2 666.6,1324.2 667.3,1312.1 667.9,1302.3 668.5,1289.0 669.1,1288.7 669.8,1306.7 670.4,1310.0 671.0,1308.3 671.6,1286.2 672.2,1309.5 672.9,1320.5 673.5,1314.7 674.1,1294.2 674.7,1304.4 675.3,1307.8 676.0,1302.0 676.6,1326.3 677.2,1316.3 677.8,1317.9 678.5,1316.3 679.1,1312.0 679.7,1301.6 680.3,1306.0 680.9,1306.0 681.6,1304.6 682.2,1313.1 682.8,1313.2 683.4,1319.5 684.0,1315.4 684.7,1301.5 685.3,1306.8 685.9,1281.2 686.5,1293.2 687.2,1295.7 687.8,1319.6 688.4,1317.7 689.0,1314.2 689.6,1308.9 690.3,1327.8 690.9,1308.0 691.5,1329.1 692.1,1315.3 692.7,1339.6 693.4,1316.6 694.0,1312.8 694.6,1292.2 695.2,1306.0 695.9,1321.6 696.5,1287.9 697.1,1265.4 697.7,1297.4 698.3,1303.6 699.0,1328.4 699.6,1285.4 700.2,1277.4 700.8,1325.2 701.4,1315.1 702.1,1309.4 702.7,1303.5 703.3,1316.2 703.9,1307.3 704.6,1326.4 705.2,1332.2 705.8,1325.8 706.4,1313.4 707.0,1322.1 707.7,1314.6 708.3,1305.7 708.9,1304.3 709.5,1305.5 710.1,1295.9 710.8,1301.9 711.4,1292.5 712.0,1280.1 712.6,1294.9 713.3,1309.6 713.9,1308.5 714.5,1310.8 715.1,1340.7 715.7,1333.5 716.4,1325.8 717.0,1299.4 717.6,1321.3 718.2,1313.1 718.8,1290.7 719.5,1292.6 720.1,1321.9 720.7,1318.8 721.3,1308.0 722.0,1298.4 722.6,1301.8 723.2,1319.9 723.8,1309.8 724.4,1315.6 725.1,1319.7 725.7,1316.6 726.3,1302.9 726.9,1310.1 727.5,1308.3 728.2,1284.4 728.8,1290.0 729.4,1315.7 730.0,1322.1 730.7,1306.7 731.3,1317.3 731.9,1331.1 732.5,1318.3 733.1,1318.4 733.8,1307.0 734.4,1301.1 735.0,1318.1 735.6,1305.6 736.3,1320.7 736.9,1309.7 737.5,1333.4 738.1,1342.3 738.7,1334.6 739.4,1326.2 740.0,1336.9 740.6,1314.0 741.2,1301.7 741.8,1306.0 742.5,1316.1 743.1,1315.1 743.7,1305.2 744.3,1312.2 745.0,1316.5 745.6,1326.1 746.2,1323.0 746.8,1308.7 747.4,1301.9 748.1,1299.7 748.7,1304.3 749.3,1321.1 749.9,1299.5 750.5,1311.4 751.2,1296.4 751.8,1281.5 752.4,1289.6 753.0,1299.6 753.7,1310.5 754.3,1325.0 754.9,1305.2 755.5,1293.9 756.1,1308.4 756.8,1303.2 757.4,1274.2 758.0,1307.1 758.6,1317.3 759.2,1311.0 759.9,1316.4 760.5,1309.0 761.1,1320.5 761.7,1309.2 762.4,1299.7 763.0,1334.2 763.6,1329.0 764.2,1300.4 764.8,1327.8 765.5,1302.6 766.1,1305.6 766.7,1319.6 767.3,1311.7 767.9,1297.7 768.6,1309.7 769.2,1320.5 769.8,1300.3 770.4,1331.4 771.1,1332.6 771.7,1303.0 772.3,1316.3 772.9,1294.1 773.5,1326.5 774.2,1298.2 774.8,1318.7 775.4,1286.2 776.0,1284.9 776.6,1291.3 777.3,1304.5 777.9,1320.4 778.5,1323.3 779.1,1318.5 779.8,1296.8 780.4,1311.7 781.0,1343.2 781.6,1320.0 782.2,1322.2 782.9,1325.0 783.5,1304.2 784.1,1310.5 784.7,1294.6 785.3,1307.1 786.0,1323.2 786.6,1300.4 787.2,1312.0 787.8,1337.3 788.5,1332.1 789.1,1330.9 789.7,1321.4 790.3,1338.9 790.9,1311.8 791.6,1330.3 792.2,1310.6 792.8,1314.7 793.4,1325.4 794.1,1322.4 794.7,1308.9 795.3,1325.6 795.9,1316.2 796.5,1294.0 797.2,1296.8 797.8,1299.1 798.4,1298.2 799.0,1324.9 799.6,1300.0 800.3,1308.9 800.9,1304.0 801.5,1302.1 802.1,1292.8 802.8,1292.0 803.4,1306.6 804.0,1315.0 804.6,1291.9 805.2,1325.1 805.9,1281.1 806.5,1310.9 807.1,1316.8 807.7,1300.0 808.3,1288.2 809.0,1294.9 809.6,1307.6 810.2,1318.0 810.8,1309.3 811.5,1326.1 812.1,1298.6 812.7,1289.1 813.3,1309.6 813.9,1296.4 814.6,1306.8 815.2,1318.8 815.8,1322.6 816.4,1308.8 817.0,1285.2 817.7,1304.7 818.3,1310.7 818.9,1289.2 819.5,1290.8 820.2,1284.3 820.8,1299.6 821.4,1312.5 822.0,1319.9 822.6,1305.1 823.3,1318.9 823.9,1291.6 824.5,1312.6 825.1,1313.3 825.7,1289.0 826.4,1273.9 827.0,1283.6 827.6,1276.5 828.2,1274.5 828.9,1279.4 829.5,1303.4 830.1,1332.0 830.7,1327.6 831.3,1323.5 832.0,1313.2 832.6,1298.1 833.2,1313.1 833.8,1247.3 834.4,1316.8 835.1,1289.3 835.7,1285.2 836.3,1313.8 836.9,1320.2 837.6,1304.6 838.2,1301.7 838.8,1295.7 839.4,1277.5 840.0,1299.2 840.7,1284.8 841.3,1296.2 841.9,1289.6 842.5,1303.7 843.1,1281.2 843.8,1285.2 844.4,1288.6 845.0,1331.0 845.6,1327.6 846.3,1316.3 846.9,1325.4 847.5,1302.0 848.1,1312.7 848.7,1277.7 849.4,1316.6 850.0,1334.8 850.6,1334.4 851.2,1299.6 851.9,1290.1 852.5,1290.5 853.1,1307.2 853.7,1304.2 854.3,1318.6 855.0,1311.1 855.6,1332.1 856.2,1298.2 856.8,1304.4 857.4,1295.8 858.1,1290.8 858.7,1317.2 859.3,1326.3 859.9,1331.2 860.6,1293.6 861.2,1297.6 861.8,1277.4 862.4,1317.1 863.0,1288.2 863.7,1286.1 864.3,1308.9 864.9,1306.8 865.5,1309.0 866.1,1312.3 866.8,1307.2 867.4,1306.0 868.0,1297.7 868.6,1299.2 869.3,1286.8 869.9,1304.9 870.5,1294.0 871.1,1310.0 871.7,1303.0 872.4,1308.9 873.0,1281.2 873.6,1282.8 874.2,1292.8 874.8,1283.0 875.5,1295.5 876.1,1293.1 876.7,1299.0 877.3,1287.7 878.0,1321.3 878.6,1300.2 879.2,1330.3 879.8,1303.6 880.4,1304.5 881.1,1337.6 881.7,1317.6 882.3,1312.3 882.9,1320.9 883.5,1326.4 884.2,1331.7 884.8,1317.0 885.4,1319.6 886.0,1299.8 886.7,1323.0 887.3,1330.1 887.9,1312.7 888.5,1316.6 889.1,1325.7 889.8,1304.2 890.4,1300.3 891.0,1300.1 891.6,1304.0 892.2,1300.0 892.9,1311.3 893.5,1299.0 894.1,1326.1 894.7,1322.5 895.4,1319.2 896.0,1322.2 896.6,1306.6 897.2,1312.3 897.8,1292.7 898.5,1285.3 899.1,1297.5 899.7,1288.1 900.3,1300.5 900.9,1313.2 901.6,1290.9 902.2,1304.4 902.8,1328.6 903.4,1313.0 904.1,1288.0 904.7,1278.9 905.3,1318.7 905.9,1299.2 906.5,1306.0 907.2,1312.4 907.8,1289.3 908.4,1287.5 909.0,1328.6 909.6,1308.0 910.3,1317.7 910.9,1337.6 911.5,1322.6 912.1,1313.9 912.8,1312.4 913.4,1307.2 914.0,1316.1 914.6,1303.2 915.2,1311.8 915.9,1322.3 916.5,1316.4 917.1,1308.0 917.7,1312.2 918.4,1329.1 919.0,1316.1 919.6,1296.8 920.2,1313.7 920.8,1310.3 921.5,1306.1 922.1,1290.3 922.7,1269.2 923.3,1291.6 923.9,1291.9 924.6,1319.5 925.2,1318.2 925.8,1313.1 926.4,1282.3 927.1,1298.4 927.7,1314.1 928.3,1306.6 928.9,1294.2 929.5,1309.3 930.2,1315.0 930.8,1325.5 931.4,1319.3 932.0,1324.2 932.6,1325.7 933.3,1296.3 933.9,1317.5 934.5,1300.3 935.1,1312.6 935.8,1303.8 936.4,1308.4 937.0,1311.3 937.6,1305.4 938.2,1310.3 938.9,1315.6 939.5,1309.0 940.1,1330.2 940.7,1324.0 941.3,1298.4 942.0,1315.1 942.6,1330.4 943.2,1323.0 943.8,1308.6 944.5,1301.4 945.1,1292.0 945.7,1269.4 946.3,1268.2 946.9,1284.5 947.6,1285.4 948.2,1282.7 948.8,1326.5 949.4,1303.1 950.0,1321.2 950.7,1322.8 951.3,1316.6 951.9,1316.1 952.5,1315.6 953.2,1307.3 953.8,1282.4 954.4,1282.0 955.0,1298.2 955.6,1303.7 956.3,1299.4 956.9,1287.4 957.5,1301.9 958.1,1266.2 958.7,1310.4 959.4,1317.5 960.0,1288.2 960.6,1300.0 961.2,1328.9 961.9,1323.1 962.5,1309.1 963.1,1295.9 963.7,1310.7 964.3,1308.4 965.0,1318.0 965.6,1299.1 966.2,1323.2 966.8,1276.8 967.4,1255.6 968.1,1296.2 968.7,1277.9 969.3,1300.2 969.9,1307.9 970.6,1304.4 971.2,1301.2 971.8,1295.9 972.4,1297.5 973.0,1295.2 973.7,1303.9 974.3,1306.5 974.9,1319.6 975.5,1298.1 976.1,1322.9 976.8,1326.9 977.4,1317.8 978.0,1309.7 978.6,1322.2 979.3,1294.0 979.9,1313.6 980.5,1324.8 981.1,1282.0 981.7,1316.1 982.4,1311.8 983.0,1322.1 983.6,1316.6 984.2,1313.2 984.9,1318.7 985.5,1301.1 986.1,1304.9 986.7,1313.2 987.3,1297.6 988.0,1301.1 988.6,1290.6 989.2,1331.1 989.8,1322.8 990.4,1342.0 991.1,1304.7 991.7,1305.7 992.3,1313.7 992.9,1284.4 993.6,1285.2 994.2,1304.4 994.8,1320.9 995.4,1291.1 996.0,1318.7 996.7,1305.4 997.3,1309.3 997.9,1329.4 998.5,1318.2 999.1,1328.2 999.8,1309.0 1000.4,1314.1 1001.0,1314.2 1001.6,1322.4 1002.3,1332.1 1002.9,1331.2 1003.5,1285.1 1004.1,1316.0 1004.7,1296.0 1005.4,1306.6 1006.0,1303.8 1006.6,1321.3 1007.2,1297.5 1007.8,1328.3 1008.5,1308.4 1009.1,1301.3 1009.7,1283.0 1010.3,1289.0 1011.0,1333.7 1011.6,1288.2 1012.2,1257.5 1012.8,1281.3 1013.4,1284.0 1014.1,1289.4 1014.7,1297.8 1015.3,1272.9 1015.9,1288.5 1016.5,1271.8 1017.2,1289.7 1017.8,1302.6 1018.4,1296.7 1019.0,1317.8 1019.7,1338.5 1020.3,1331.9 1020.9,1310.9 1021.5,1313.9 1022.1,1292.5 1022.8,1295.3 1023.4,1313.2 1024.0,1309.8 1024.6,1298.8 1025.2,1315.0 1025.9,1283.5 1026.5,1315.4 1027.1,1310.3 1027.7,1300.4 1028.4,1288.6 1029.0,1302.4 1029.6,1301.6 1030.2,1288.5 1030.8,1297.6 1031.5,1307.1 1032.1,1292.3 1032.7,1284.5 1033.3,1288.5 1033.9,1264.9 1034.6,1242.8 1035.2,1254.0 1035.8,1297.6 1036.4,1314.5 1037.1,1281.6 1037.7,1315.2 1038.3,1325.7 1038.9,1310.1 1039.5,1299.4 1040.2,1308.1 1040.8,1319.2 1041.4,1331.7 1042.0,1319.1 1042.7,1319.6 1043.3,1332.9 1043.9,1333.3 1044.5,1325.7 1045.1,1318.8 1045.8,1285.2 1046.4,1297.5 1047.0,1303.8 1047.6,1321.3 1048.2,1289.5 1048.9,1281.7 1049.5,1318.0 1050.1,1312.9 1050.7,1293.7 1051.4,1293.4 1052.0,1310.1 1052.6,1318.7 1053.2,1303.4 1053.8,1295.8 1054.5,1308.3 1055.1,1300.3 1055.7,1288.5 1056.3,1288.8 1056.9,1318.4 1057.6,1330.6 1058.2,1313.1 1058.8,1305.3 1059.4,1287.5 1060.1,1319.5 1060.7,1300.4 1061.3,1304.2 1061.9,1268.2 1062.5,1297.1 1063.2,1287.1 1063.8,1317.3 1064.4,1311.5 1065.0,1297.9 1065.6,1293.7 1066.3,1277.1 1066.9,1268.3 1067.5,1248.2 1068.1,1289.6 1068.8,1288.9 1069.4,1264.5 1070.0,1290.4 1070.6,1269.9 1071.2,1283.5 1071.9,1307.4 1072.5,1296.4 1073.1,1311.1 1073.7,1300.7 1074.3,1303.2 1075.0,1340.2 1075.6,1314.1 1076.2,1307.1 1076.8,1288.7 1077.5,1283.8 1078.1,1261.1 1078.7,1284.5 1079.3,1295.1 1079.9,1292.9 1080.6,1304.8 1081.2,1302.6 1081.8,1288.2 1082.4,1307.3 1083.0,1302.5 1083.7,1292.1 1084.3,1304.5 1084.9,1299.4 1085.5,1315.8 1086.2,1314.5 1086.8,1312.5 1087.4,1299.2 1088.0,1308.5 1088.6,1317.6 1089.3,1297.0 1089.9,1282.2 1090.5,1299.9 1091.1,1306.9 1091.7,1299.1 1092.4,1297.1 1093.0,1322.9 1093.6,1282.6 1094.2,1269.0 1094.9,1282.7 1095.5,1294.7 1096.1,1283.2 1096.7,1306.9 1097.3,1262.7 1098.0,1299.3 1098.6,1274.0 1099.2,1273.0 1099.8,1279.0 1100.5,1274.5 1101.1,1299.0 1101.7,1282.9 1102.3,1246.2 1102.9,1263.9 1103.6,1291.8 1104.2,1283.9 1104.8,1281.1 1105.4,1307.4 1106.0,1302.5 1106.7,1310.5 1107.3,1310.4 1107.9,1322.6 1108.5,1336.7 1109.2,1293.0 1109.8,1293.8 1110.4,1308.4 1111.0,1289.5 1111.6,1293.3 1112.3,1270.6 1112.9,1271.1 1113.5,1230.7 1114.1,1269.7 1114.7,1299.2 1115.4,1290.5 1116.0,1277.9 1116.6,1275.4 1117.2,1269.9 1117.9,1299.6 1118.5,1298.6 1119.1,1313.6 1119.7,1306.8 1120.3,1307.6 1121.0,1299.5 1121.6,1309.4 1122.2,1316.4 1122.8,1294.2 1123.4,1305.1 1124.1,1307.9 1124.7,1313.4 1125.3,1306.2 1125.9,1286.4 1126.6,1299.3 1127.2,1286.7 1127.8,1291.6 1128.4,1315.5 1129.0,1303.2 1129.7,1297.7 1130.3,1320.6 1130.9,1308.8 1131.5,1298.1 1132.1,1282.9 1132.8,1308.4 1133.4,1325.7 1134.0,1316.9 1134.6,1314.4 1135.3,1308.7 1135.9,1311.6 1136.5,1300.1 1137.1,1296.0 1137.7,1288.2 1138.4,1267.8 1139.0,1264.4 1139.6,1283.2 1140.2,1274.1 1140.8,1264.2 1141.5,1307.8 1142.1,1279.0 1142.7,1308.1 1143.3,1270.6 1144.0,1289.1 1144.6,1275.6 1145.2,1292.7 1145.8,1322.2 1146.4,1313.2 1147.1,1292.3 1147.7,1298.6 1148.3,1297.7 1148.9,1265.2 1149.5,1290.2 1150.2,1292.0 1150.8,1283.2 1151.4,1312.9 1152.0,1290.2 1152.7,1269.5 1153.3,1272.6 1153.9,1296.7 1154.5,1274.6 1155.1,1300.5 1155.8,1284.2 1156.4,1278.3 1157.0,1304.4 1157.6,1308.9 1158.2,1318.3 1158.9,1307.3 1159.5,1295.4 1160.1,1234.5 1160.7,1286.4 1161.4,1296.8 1162.0,1322.7 1162.6,1307.4 1163.2,1314.3 1163.8,1288.9 1164.5,1293.1 1165.1,1297.1 1165.7,1299.7 1166.3,1307.3 1167.0,1315.4 1167.6,1307.6 1168.2,1304.5 1168.8,1288.3 1169.4,1295.5 1170.1,1297.5 1170.7,1291.4 1171.3,1306.6 1171.9,1305.5 1172.5,1309.7 1173.2,1292.6 1173.8,1312.3 1174.4,1314.6 1175.0,1310.5 1175.7,1309.0 1176.3,1313.9 1176.9,1291.6 1177.5,1305.4 1178.1,1304.7 1178.8,1306.3 1179.4,1305.2 1180.0,1308.1 1180.6,1303.1 1181.2,1310.2 1181.9,1300.9 1182.5,1300.4 1183.1,1286.5 1183.7,1300.8 1184.4,1268.6 1185.0,1281.8 1185.6,1319.8 1186.2,1319.3 1186.8,1287.5 1187.5,1279.0 1188.1,1306.7 1188.7,1297.6 1189.3,1324.0 1189.9,1298.6 1190.6,1281.2 1191.2,1273.4 1191.8,1300.6 1192.4,1301.8 1193.1,1308.8 1193.7,1285.1 1194.3,1301.0 1194.9,1303.9 1195.5,1308.6 1196.2,1288.9 1196.8,1308.8 1197.4,1285.2 1198.0,1293.4 1198.6,1257.8 1199.3,1301.2 1199.9,1295.5 1200.5,1281.1 1201.1,1246.0 1201.8,1250.8 1202.4,1269.4 1203.0,1271.5 1203.6,1306.4 1204.2,1285.9 1204.9,1288.0 1205.5,1309.0 1206.1,1297.0 1206.7,1279.4 1207.3,1306.4 1208.0,1306.4 1208.6,1304.6 1209.2,1314.4 1209.8,1299.1 1210.5,1299.1 1211.1,1315.6 1211.7,1320.4 1212.3,1321.4 1212.9,1298.8 1213.6,1288.6 1214.2,1319.4 1214.8,1294.6 1215.4,1281.0 1216.0,1279.3 1216.7,1296.0 1217.3,1301.1 1217.9,1284.3 1218.5,1305.1 1219.2,1292.3 1219.8,1302.3 1220.4,1292.5 1221.0,1306.3 1221.6,1311.8 1222.3,1318.4 1222.9,1287.2 1223.5,1291.9 1224.1,1299.5 1224.7,1295.5 1225.4,1280.2 1226.0,1292.4 1226.6,1292.4 1227.2,1286.3 1227.9,1282.9 1228.5,1311.2 1229.1,1306.3 1229.7,1303.8 1230.3,1290.2 1231.0,1296.0 1231.6,1284.0 1232.2,1304.5 1232.8,1273.7 1233.5,1293.9 1234.1,1319.1 1234.7,1322.5 1235.3,1308.8 1235.9,1308.9 1236.6,1299.3 1237.2,1309.6 1237.8,1307.6 1238.4,1319.9 1239.0,1332.7 1239.7,1314.5 1240.3,1315.5 1240.9,1267.6 1241.5,1308.9 1242.2,1274.8 1242.8,1291.6 1243.4,1279.5 1244.0,1248.0 1244.6,1279.9 1245.3,1287.3 1245.9,1291.3 1246.5,1322.5 1247.1,1295.2 1247.7,1278.1 1248.4,1284.9 1249.0,1257.0 1249.6,1298.5 1250.2,1318.5 1250.9,1313.9 1251.5,1306.2 1252.1,1314.7 1252.7,1301.4 1253.3,1290.3 1254.0,1300.1 1254.6,1310.7 1255.2,1333.1 1255.8,1288.3 1256.4,1296.6 1257.1,1286.1 1257.7,1279.4 1258.3,1290.6 1258.9,1277.9 1259.6,1286.4 1260.2,1316.1 1260.8,1304.6 1261.4,1298.1 1262.0,1304.5 1262.7,1327.8 1263.3,1319.5 1263.9,1281.8 1264.5,1284.9 1265.1,1286.8 1265.8,1299.6 1266.4,1303.9 1267.0,1294.0 1267.6,1274.4 1268.3,1248.8 1268.9,1256.0 1269.5,1251.0 1270.1,1310.7 1270.7,1297.7 1271.4,1262.6 1272.0,1296.6 1272.6,1302.4 1273.2,1236.9 1273.8,1287.0 1274.5,1305.2 1275.1,1302.8 1275.7,1280.0 1276.3,1328.5 1277.0,1302.3 1277.6,1295.3 1278.2,1293.6 1278.8,1294.7 1279.4,1312.4 1280.1,1308.7 1280.7,1299.6 1281.3,1308.3 1281.9,1306.7 1282.5,1323.9 1283.2,1304.9 1283.8,1315.1 1284.4,1304.2 1285.0,1290.8 1285.7,1295.5 1286.3,1316.5 1286.9,1325.6 1287.5,1318.9 1288.1,1301.8 1288.8,1309.0 1289.4,1320.4 1290.0,1292.3 1290.6,1319.0 1291.3,1297.6 1291.9,1316.0 1292.5,1316.6 1293.1,1325.1 1293.7,1308.4 1294.4,1315.3 1295.0,1309.8 1295.6,1316.8 1296.2,1301.3 1296.8,1292.4 1297.5,1301.0 1298.1,1298.1 1298.7,1293.7 1299.3,1302.1 1300.0,1309.3 1300.6,1285.8 1301.2,1272.4 1301.8,1316.6 1302.4,1268.7 1303.1,1304.3 1303.7,1284.4 1304.3,1299.4 1304.9,1310.2 1305.5,1285.1 1306.2,1302.1 1306.8,1298.4 1307.4,1255.2 1308.0,1292.0 1308.7,1282.3 1309.3,1310.1 1309.9,1300.7 1310.5,1290.5 1311.1,1278.5 1311.8,1293.3 1312.4,1298.4 1313.0,1295.2 1313.6,1303.0 1314.2,1308.7 1314.9,1281.5 1315.5,1293.7 1316.1,1287.7 1316.7,1291.2 1317.4,1284.6 1318.0,1296.5 1318.6,1334.6 1319.2,1296.8 1319.8,1283.9 1320.5,1296.8 1321.1,1283.2 1321.7,1287.7 1322.3,1277.5 1322.9,1264.4 1323.6,1256.5 1324.2,1272.5 1324.8,1279.3 1325.4,1249.0 1326.1,1230.3 1326.7,1238.8 1327.3,1268.1 1327.9,1292.1 1328.5,1279.0 1329.2,1313.3 1329.8,1308.0 1330.4,1305.0 1331.0,1301.0 1331.6,1322.7 1332.3,1314.5 1332.9,1285.8 1333.5,1283.2 1334.1,1273.6 1334.8,1294.5 1335.4,1287.0 1336.0,1302.5 1336.6,1307.1 1337.2,1281.9 1337.9,1316.3 1338.5,1277.5 1339.1,1276.4 1339.7,1264.3 1340.3,1264.5 1341.0,1272.6 1341.6,1271.8 1342.2,1263.3 1342.8,1298.4 1343.5,1313.2 1344.1,1330.6 1344.7,1290.3 1345.3,1290.9 1345.9,1290.4 1346.6,1300.2 1347.2,1282.6 1347.8,1280.0 1348.4,1296.7 1349.1,1307.9 1349.7,1292.8 1350.3,1293.7 1350.9,1266.5 1351.5,1273.9 1352.2,1257.1 1352.8,1279.5 1353.4,1299.8 1354.0,1310.3 1354.6,1297.6 1355.3,1281.2 1355.9,1296.9 1356.5,1273.8 1357.1,1239.6 1357.8,1288.6 1358.4,1264.3 1359.0,1279.9 1359.6,1294.1 1360.2,1314.3 1360.9,1284.2 1361.5,1276.5 1362.1,1287.1 1362.7,1262.5 1363.3,1259.0 1364.0,1302.2 1364.6,1278.6 1365.2,1271.6 1365.8,1241.5 1366.5,1259.8 1367.1,1270.0 1367.7,1287.8 1368.3,1260.2 1368.9,1273.2 1369.6,1267.4 1370.2,1284.7 1370.8,1303.5 1371.4,1298.0 1372.0,1267.0 1372.7,1244.1 1373.3,1204.8 1373.9,1257.3 1374.5,1246.2 1375.2,1266.8 1375.8,1252.6 1376.4,1302.7 1377.0,1290.4 1377.6,1308.4 1378.3,1312.8 1378.9,1267.2 1379.5,1275.8 1380.1,1294.5 1380.7,1305.3 1381.4,1299.6 1382.0,1288.3 1382.6,1280.6 1383.2,1274.0 1383.9,1270.5 1384.5,1282.3 1385.1,1258.6 1385.7,1296.3 1386.3,1285.8 1387.0,1256.0 1387.6,1250.5 1388.2,1289.5 1388.8,1296.9 1389.4,1275.2 1390.1,1278.3 1390.7,1282.5 1391.3,1279.9 1391.9,1253.5 1392.6,1268.5 1393.2,1286.7 1393.8,1273.1 1394.4,1266.8 1395.0,1248.2 1395.7,1290.4 1396.3,1294.7 1396.9,1277.7 1397.5,1246.3 1398.1,1262.0 1398.8,1288.8 1399.4,1300.5 1400.0,1284.3 1400.6,1265.5 1401.3,1268.6 1401.9,1256.2 1402.5,1232.6 1403.1,1248.8 1403.7,1264.8 1404.4,1278.3 1405.0,1252.7 1405.6,1272.9 1406.2,1270.1 1406.8,1296.6 1407.5,1263.4 1408.1,1286.9 1408.7,1278.8 1409.3,1300.3 1410.0,1299.5 1410.6,1308.5 1411.2,1310.7 1411.8,1289.2 1412.4,1285.1 1413.1,1250.0 1413.7,1263.5 1414.3,1289.4 1414.9,1260.1 1415.6,1270.4 1416.2,1256.2 1416.8,1282.7 1417.4,1290.8 1418.0,1283.9 1418.7,1283.4 1419.3,1234.0 1419.9,1255.8 1420.5,1271.5 1421.1,1253.0 1421.8,1276.7 1422.4,1293.4 1423.0,1279.1 1423.6,1294.1 1424.3,1306.2 1424.9,1284.4 1425.5,1307.2 1426.1,1289.7 1426.7,1306.8 1427.4,1256.0 1428.0,1261.4 1428.6,1300.8 1429.2,1252.4 1429.8,1289.8 1430.5,1326.0 1431.1,1309.3 1431.7,1284.0 1432.3,1268.2 1433.0,1304.4 1433.6,1315.7 1434.2,1294.8 1434.8,1300.4 1435.4,1272.3 1436.1,1299.9 1436.7,1300.3 1437.3,1317.6 1437.9,1290.4 1438.5,1296.6 1439.2,1316.9 1439.8,1288.9 1440.4,1255.0 1441.0,1276.3 1441.7,1272.2 1442.3,1260.2 1442.9,1279.0 1443.5,1284.5 1444.1,1266.8 1444.8,1302.7 1445.4,1283.5 1446.0,1312.6 1446.6,1310.5 1447.2,1321.2 1447.9,1297.2 1448.5,1293.9 1449.1,1273.8 1449.7,1303.3 1450.4,1297.7 1451.0,1287.0 1451.6,1305.1 1452.2,1274.3 1452.8,1290.6 1453.5,1283.8 1454.1,1293.1 1454.7,1290.1 1455.3,1287.5 1455.9,1296.0 1456.6,1282.8 1457.2,1283.7 1457.8,1268.5 1458.4,1249.9 1459.1,1270.1 1459.7,1294.1 1460.3,1319.0 1460.9,1300.4 1461.5,1320.8 1462.2,1274.8 1462.8,1292.4 1463.4,1280.7 1464.0,1303.8 1464.6,1230.8 1465.3,1217.6 1465.9,1207.1 1466.5,1242.0 1467.1,1256.8 1467.8,1265.0 1468.4,1259.9 1469.0,1262.0 1469.6,1289.3 1470.2,1283.2 1470.9,1242.9 1471.5,1296.8 1472.1,1269.7 1472.7,1288.9 1473.4,1270.1 1474.0,1265.8 1474.6,1252.7 1475.2,1230.9 1475.8,1240.3 1476.5,1282.1 1477.1,1291.0 1477.7,1273.3 1478.3,1280.2 1478.9,1305.4 1479.6,1271.9 1480.2,1276.5 1480.8,1266.3 1481.4,1261.8 1482.1,1295.8 1482.7,1298.9 1483.3,1269.4 1483.9,1296.5 1484.5,1274.9 1485.2,1272.2 1485.8,1302.9 1486.4,1297.7 1487.0,1307.2 1487.6,1258.1 1488.3,1284.4 1488.9,1282.2 1489.5,1259.7 1490.1,1286.2 1490.8,1294.1 1491.4,1288.0 1492.0,1269.4 1492.6,1286.3 1493.2,1272.5 1493.9,1282.8 1494.5,1269.9 1495.1,1276.3 1495.7,1286.0 1496.3,1292.7 1497.0,1302.4 1497.6,1280.5 1498.2,1298.4 1498.8,1266.6 1499.5,1303.9 1500.1,1264.8 1500.7,1293.0 1501.3,1294.8 1501.9,1294.0 1502.6,1277.1 1503.2,1310.3 1503.8,1289.6 1504.4,1317.8 1505.0,1314.7 1505.7,1307.1 1506.3,1310.2 1506.9,1281.5 1507.5,1295.0 1508.2,1298.6 1508.8,1300.4 1509.4,1297.1 1510.0,1292.0 1510.6,1247.4 1511.3,1231.1 1511.9,1207.7 1512.5,1243.9 1513.1,1251.6 1513.7,1236.2 1514.4,1296.8 1515.0,1284.0 1515.6,1286.3 1516.2,1298.4 1516.9,1282.7 1517.5,1273.9 1517.5,1506.7 1516.9,1518.5 1516.2,1477.9 1515.6,1496.9 1515.0,1491.6 1514.4,1501.2 1513.7,1515.6 1513.1,1525.1 1512.5,1526.9 1511.9,1514.8 1511.3,1531.2 1510.6,1520.5 1510.0,1512.7 1509.4,1506.3 1508.8,1513.4 1508.2,1506.8 1507.5,1471.3 1506.9,1490.8 1506.3,1489.1 1505.7,1499.2 1505.0,1473.2 1504.4,1486.7 1503.8,1499.0 1503.2,1535.9 1502.6,1462.4 1501.9,1469.6 1501.3,1496.9 1500.7,1502.3 1500.1,1517.6 1499.5,1505.8 1498.8,1518.6 1498.2,1497.1 1497.6,1510.1 1497.0,1517.3 1496.3,1542.2 1495.7,1511.7 1495.1,1502.1 1494.5,1528.2 1493.9,1467.3 1493.2,1506.1 1492.6,1501.7 1492.0,1532.9 1491.4,1561.5 1490.8,1522.2 1490.1,1505.8 1489.5,1488.4 1488.9,1535.1 1488.3,1532.2 1487.6,1544.4 1487.0,1534.2 1486.4,1499.5 1485.8,1507.9 1485.2,1507.3 1484.5,1530.6 1483.9,1520.7 1483.3,1521.5 1482.7,1504.7 1482.1,1500.2 1481.4,1511.9 1480.8,1516.2 1480.2,1533.6 1479.6,1548.4 1478.9,1503.8 1478.3,1494.2 1477.7,1534.1 1477.1,1516.6 1476.5,1516.0 1475.8,1539.4 1475.2,1546.8 1474.6,1504.7 1474.0,1495.3 1473.4,1525.5 1472.7,1507.0 1472.1,1518.1 1471.5,1502.3 1470.9,1494.4 1470.2,1494.2 1469.6,1506.1 1469.0,1531.1 1468.4,1497.8 1467.8,1479.1 1467.1,1517.8 1466.5,1523.0 1465.9,1543.3 1465.3,1533.3 1464.6,1563.2 1464.0,1488.0 1463.4,1466.8 1462.8,1461.5 1462.2,1511.0 1461.5,1469.0 1460.9,1496.6 1460.3,1490.6 1459.7,1506.3 1459.1,1486.8 1458.4,1534.9 1457.8,1523.9 1457.2,1519.7 1456.6,1506.0 1455.9,1493.7 1455.3,1505.4 1454.7,1488.4 1454.1,1489.2 1453.5,1481.5 1452.8,1521.7 1452.2,1541.4 1451.6,1514.9 1451.0,1502.7 1450.4,1498.1 1449.7,1507.6 1449.1,1536.3 1448.5,1531.2 1447.9,1490.5 1447.2,1477.6 1446.6,1496.9 1446.0,1480.0 1445.4,1509.2 1444.8,1513.6 1444.1,1523.2 1443.5,1522.7 1442.9,1528.3 1442.3,1520.7 1441.7,1520.6 1441.0,1521.3 1440.4,1495.6 1439.8,1498.9 1439.2,1508.3 1438.5,1521.4 1437.9,1503.7 1437.3,1489.7 1436.7,1492.9 1436.1,1499.0 1435.4,1493.0 1434.8,1503.9 1434.2,1489.5 1433.6,1501.2 1433.0,1488.7 1432.3,1511.5 1431.7,1506.9 1431.1,1479.5 1430.5,1475.9 1429.8,1521.7 1429.2,1551.9 1428.6,1528.2 1428.0,1503.3 1427.4,1511.6 1426.7,1488.1 1426.1,1485.0 1425.5,1476.5 1424.9,1484.4 1424.3,1483.8 1423.6,1495.6 1423.0,1495.2 1422.4,1490.1 1421.8,1509.5 1421.1,1529.6 1420.5,1518.6 1419.9,1531.9 1419.3,1497.9 1418.7,1522.0 1418.0,1527.1 1417.4,1541.3 1416.8,1534.5 1416.2,1549.4 1415.6,1520.9 1414.9,1497.2 1414.3,1505.4 1413.7,1512.0 1413.1,1504.1 1412.4,1495.4 1411.8,1481.4 1411.2,1478.3 1410.6,1543.8 1410.0,1532.7 1409.3,1493.7 1408.7,1520.8 1408.1,1490.6 1407.5,1532.4 1406.8,1542.4 1406.2,1553.6 1405.6,1548.7 1405.0,1554.6 1404.4,1540.9 1403.7,1521.7 1403.1,1536.7 1402.5,1546.9 1401.9,1530.7 1401.3,1554.9 1400.6,1531.4 1400.0,1518.5 1399.4,1524.7 1398.8,1537.7 1398.1,1540.5 1397.5,1523.8 1396.9,1530.3 1396.3,1517.2 1395.7,1500.2 1395.0,1507.1 1394.4,1588.6 1393.8,1556.5 1393.2,1518.9 1392.6,1545.4 1391.9,1514.8 1391.3,1504.8 1390.7,1520.2 1390.1,1525.0 1389.4,1563.3 1388.8,1489.0 1388.2,1510.4 1387.6,1537.8 1387.0,1518.0 1386.3,1525.8 1385.7,1515.1 1385.1,1542.3 1384.5,1564.6 1383.9,1519.6 1383.2,1522.7 1382.6,1509.3 1382.0,1516.2 1381.4,1504.7 1380.7,1498.1 1380.1,1517.7 1379.5,1561.5 1378.9,1520.8 1378.3,1481.8 1377.6,1502.7 1377.0,1499.3 1376.4,1530.5 1375.8,1511.8 1375.2,1489.4 1374.5,1509.2 1373.9,1493.0 1373.3,1521.5 1372.7,1532.1 1372.0,1500.7 1371.4,1514.4 1370.8,1511.3 1370.2,1515.5 1369.6,1531.1 1368.9,1551.0 1368.3,1555.9 1367.7,1519.4 1367.1,1508.8 1366.5,1515.0 1365.8,1500.5 1365.2,1500.2 1364.6,1476.9 1364.0,1499.0 1363.3,1519.7 1362.7,1558.3 1362.1,1534.1 1361.5,1522.2 1360.9,1505.5 1360.2,1519.8 1359.6,1522.3 1359.0,1528.9 1358.4,1507.7 1357.8,1515.9 1357.1,1509.0 1356.5,1512.1 1355.9,1487.0 1355.3,1479.0 1354.6,1479.4 1354.0,1475.8 1353.4,1497.2 1352.8,1505.7 1352.2,1509.7 1351.5,1507.0 1350.9,1490.5 1350.3,1480.8 1349.7,1512.5 1349.1,1482.5 1348.4,1477.1 1347.8,1491.8 1347.2,1484.2 1346.6,1489.2 1345.9,1477.5 1345.3,1494.4 1344.7,1490.7 1344.1,1457.5 1343.5,1482.7 1342.8,1526.7 1342.2,1556.0 1341.6,1518.5 1341.0,1531.2 1340.3,1543.9 1339.7,1532.1 1339.1,1521.8 1338.5,1525.8 1337.9,1486.9 1337.2,1500.1 1336.6,1494.2 1336.0,1497.4 1335.4,1482.3 1334.8,1478.5 1334.1,1480.8 1333.5,1488.6 1332.9,1472.0 1332.3,1459.1 1331.6,1499.0 1331.0,1498.4 1330.4,1478.5 1329.8,1502.7 1329.2,1502.4 1328.5,1504.6 1327.9,1452.9 1327.3,1508.7 1326.7,1523.6 1326.1,1550.2 1325.4,1512.6 1324.8,1508.8 1324.2,1488.2 1323.6,1508.6 1322.9,1519.6 1322.3,1534.8 1321.7,1543.0 1321.1,1510.6 1320.5,1500.9 1319.8,1508.6 1319.2,1491.0 1318.6,1461.8 1318.0,1464.5 1317.4,1488.3 1316.7,1525.5 1316.1,1513.8 1315.5,1531.2 1314.9,1506.0 1314.2,1497.1 1313.6,1490.5 1313.0,1489.1 1312.4,1473.2 1311.8,1472.2 1311.1,1520.1 1310.5,1505.8 1309.9,1495.7 1309.3,1494.7 1308.7,1496.6 1308.0,1495.7 1307.4,1490.9 1306.8,1493.6 1306.2,1521.3 1305.5,1517.7 1304.9,1523.1 1304.3,1526.3 1303.7,1471.0 1303.1,1479.4 1302.4,1480.4 1301.8,1485.9 1301.2,1519.3 1300.6,1525.2 1300.0,1518.9 1299.3,1532.4 1298.7,1518.2 1298.1,1470.0 1297.5,1483.6 1296.8,1497.8 1296.2,1484.3 1295.6,1461.1 1295.0,1452.5 1294.4,1462.3 1293.7,1473.6 1293.1,1481.9 1292.5,1512.4 1291.9,1449.4 1291.3,1481.8 1290.6,1482.2 1290.0,1487.4 1289.4,1485.7 1288.8,1483.6 1288.1,1453.1 1287.5,1508.3 1286.9,1475.1 1286.3,1492.3 1285.7,1480.8 1285.0,1489.5 1284.4,1490.4 1283.8,1496.6 1283.2,1491.3 1282.5,1467.2 1281.9,1509.8 1281.3,1455.9 1280.7,1483.9 1280.1,1508.9 1279.4,1512.0 1278.8,1493.4 1278.2,1514.4 1277.6,1487.1 1277.0,1492.4 1276.3,1512.6 1275.7,1517.1 1275.1,1496.7 1274.5,1476.7 1273.8,1495.7 1273.2,1519.3 1272.6,1500.1 1272.0,1508.3 1271.4,1517.7 1270.7,1492.6 1270.1,1513.1 1269.5,1527.8 1268.9,1561.5 1268.3,1528.1 1267.6,1507.2 1267.0,1478.7 1266.4,1499.0 1265.8,1494.0 1265.1,1476.5 1264.5,1475.0 1263.9,1479.1 1263.3,1473.6 1262.7,1461.3 1262.0,1481.3 1261.4,1504.2 1260.8,1511.7 1260.2,1494.9 1259.6,1488.7 1258.9,1525.3 1258.3,1520.1 1257.7,1533.5 1257.1,1529.8 1256.4,1539.9 1255.8,1499.4 1255.2,1484.7 1254.6,1492.1 1254.0,1499.7 1253.3,1493.5 1252.7,1540.4 1252.1,1512.8 1251.5,1507.2 1250.9,1482.4 1250.2,1503.8 1249.6,1516.3 1249.0,1482.1 1248.4,1486.9 1247.7,1493.8 1247.1,1495.1 1246.5,1457.3 1245.9,1504.3 1245.3,1508.3 1244.6,1481.7 1244.0,1486.4 1243.4,1501.3 1242.8,1493.6 1242.2,1546.6 1241.5,1538.4 1240.9,1485.8 1240.3,1504.9 1239.7,1501.0 1239.0,1470.1 1238.4,1496.7 1237.8,1507.3 1237.2,1502.0 1236.6,1494.2 1235.9,1479.2 1235.3,1490.7 1234.7,1459.1 1234.1,1479.4 1233.5,1467.6 1232.8,1508.2 1232.2,1465.1 1231.6,1495.5 1231.0,1466.0 1230.3,1505.3 1229.7,1535.9 1229.1,1512.4 1228.5,1500.0 1227.9,1518.5 1227.2,1502.0 1226.6,1483.1 1226.0,1501.7 1225.4,1493.0 1224.7,1485.7 1224.1,1507.5 1223.5,1465.2 1222.9,1479.5 1222.3,1467.8 1221.6,1491.4 1221.0,1508.5 1220.4,1508.7 1219.8,1490.3 1219.2,1471.2 1218.5,1498.4 1217.9,1468.9 1217.3,1478.4 1216.7,1469.5 1216.0,1505.1 1215.4,1487.9 1214.8,1481.5 1214.2,1481.9 1213.6,1468.6 1212.9,1531.4 1212.3,1478.7 1211.7,1463.9 1211.1,1496.3 1210.5,1492.1 1209.8,1489.2 1209.2,1471.0 1208.6,1503.3 1208.0,1489.1 1207.3,1474.1 1206.7,1504.1 1206.1,1493.2 1205.5,1488.5 1204.9,1495.1 1204.2,1469.4 1203.6,1479.0 1203.0,1519.7 1202.4,1520.2 1201.8,1513.1 1201.1,1507.9 1200.5,1513.4 1199.9,1509.3 1199.3,1500.9 1198.6,1518.3 1198.0,1504.6 1197.4,1496.2 1196.8,1499.5 1196.2,1479.2 1195.5,1465.9 1194.9,1474.6 1194.3,1504.3 1193.7,1483.9 1193.1,1495.5 1192.4,1482.0 1191.8,1480.8 1191.2,1490.6 1190.6,1491.3 1189.9,1493.5 1189.3,1496.9 1188.7,1498.5 1188.1,1487.0 1187.5,1505.6 1186.8,1525.7 1186.2,1475.2 1185.6,1460.9 1185.0,1485.6 1184.4,1487.6 1183.7,1492.3 1183.1,1482.4 1182.5,1502.4 1181.9,1512.1 1181.2,1484.5 1180.6,1485.4 1180.0,1475.7 1179.4,1467.7 1178.8,1464.7 1178.1,1482.5 1177.5,1453.2 1176.9,1476.6 1176.3,1516.8 1175.7,1496.7 1175.0,1506.2 1174.4,1504.8 1173.8,1469.0 1173.2,1470.1 1172.5,1466.4 1171.9,1482.9 1171.3,1495.3 1170.7,1484.9 1170.1,1488.3 1169.4,1502.2 1168.8,1487.0 1168.2,1475.3 1167.6,1457.4 1167.0,1473.9 1166.3,1489.0 1165.7,1510.4 1165.1,1498.5 1164.5,1502.6 1163.8,1489.2 1163.2,1474.3 1162.6,1453.5 1162.0,1497.2 1161.4,1482.5 1160.7,1475.6 1160.1,1478.5 1159.5,1512.3 1158.9,1484.2 1158.2,1500.6 1157.6,1498.6 1157.0,1509.9 1156.4,1521.0 1155.8,1501.2 1155.1,1496.9 1154.5,1496.8 1153.9,1477.1 1153.3,1484.2 1152.7,1484.8 1152.0,1510.3 1151.4,1558.2 1150.8,1567.9 1150.2,1524.7 1149.5,1508.0 1148.9,1502.7 1148.3,1509.1 1147.7,1519.2 1147.1,1533.5 1146.4,1508.2 1145.8,1479.1 1145.2,1506.4 1144.6,1507.8 1144.0,1527.6 1143.3,1515.6 1142.7,1478.8 1142.1,1515.0 1141.5,1490.0 1140.8,1496.8 1140.2,1541.3 1139.6,1515.9 1139.0,1511.9 1138.4,1498.8 1137.7,1522.8 1137.1,1495.4 1136.5,1494.5 1135.9,1511.7 1135.3,1534.4 1134.6,1507.5 1134.0,1472.0 1133.4,1465.9 1132.8,1485.4 1132.1,1508.9 1131.5,1494.4 1130.9,1489.2 1130.3,1492.6 1129.7,1452.3 1129.0,1485.3 1128.4,1492.2 1127.8,1499.2 1127.2,1522.3 1126.6,1503.8 1125.9,1502.8 1125.3,1509.3 1124.7,1530.4 1124.1,1483.8 1123.4,1494.1 1122.8,1485.1 1122.2,1460.4 1121.6,1461.9 1121.0,1475.9 1120.3,1450.1 1119.7,1473.3 1119.1,1482.8 1118.5,1488.0 1117.9,1487.8 1117.2,1523.2 1116.6,1507.9 1116.0,1510.0 1115.4,1537.9 1114.7,1523.0 1114.1,1507.0 1113.5,1522.0 1112.9,1495.7 1112.3,1479.1 1111.6,1476.2 1111.0,1473.7 1110.4,1543.3 1109.8,1534.0 1109.2,1487.9 1108.5,1477.5 1107.9,1479.7 1107.3,1468.7 1106.7,1464.6 1106.0,1478.4 1105.4,1475.7 1104.8,1526.4 1104.2,1511.3 1103.6,1482.6 1102.9,1512.5 1102.3,1489.3 1101.7,1491.2 1101.1,1492.2 1100.5,1503.5 1099.8,1532.4 1099.2,1502.0 1098.6,1533.8 1098.0,1479.9 1097.3,1527.6 1096.7,1541.5 1096.1,1532.2 1095.5,1522.4 1094.9,1503.5 1094.2,1518.0 1093.6,1469.7 1093.0,1461.2 1092.4,1497.0 1091.7,1494.3 1091.1,1501.6 1090.5,1471.0 1089.9,1482.6 1089.3,1503.6 1088.6,1488.4 1088.0,1495.7 1087.4,1488.3 1086.8,1503.6 1086.2,1494.5 1085.5,1515.8 1084.9,1502.0 1084.3,1496.5 1083.7,1492.7 1083.0,1491.3 1082.4,1485.7 1081.8,1510.2 1081.2,1483.6 1080.6,1502.6 1079.9,1514.9 1079.3,1480.3 1078.7,1526.3 1078.1,1545.5 1077.5,1514.3 1076.8,1486.6 1076.2,1506.9 1075.6,1484.1 1075.0,1475.8 1074.3,1482.3 1073.7,1506.6 1073.1,1498.4 1072.5,1487.7 1071.9,1490.2 1071.2,1495.3 1070.6,1513.9 1070.0,1494.0 1069.4,1514.9 1068.8,1502.8 1068.1,1509.5 1067.5,1553.1 1066.9,1522.0 1066.3,1529.8 1065.6,1514.0 1065.0,1490.4 1064.4,1486.3 1063.8,1504.8 1063.2,1484.2 1062.5,1470.1 1061.9,1478.8 1061.3,1468.3 1060.7,1471.6 1060.1,1495.8 1059.4,1491.1 1058.8,1473.8 1058.2,1458.8 1057.6,1453.8 1056.9,1465.1 1056.3,1469.3 1055.7,1534.9 1055.1,1519.8 1054.5,1511.8 1053.8,1494.4 1053.2,1520.0 1052.6,1506.7 1052.0,1493.3 1051.4,1504.5 1050.7,1518.2 1050.1,1518.9 1049.5,1477.1 1048.9,1464.2 1048.2,1465.6 1047.6,1481.0 1047.0,1521.0 1046.4,1472.0 1045.8,1498.3 1045.1,1471.9 1044.5,1480.2 1043.9,1509.6 1043.3,1449.7 1042.7,1478.8 1042.0,1453.9 1041.4,1464.4 1040.8,1469.6 1040.2,1484.8 1039.5,1482.1 1038.9,1486.5 1038.3,1479.6 1037.7,1472.8 1037.1,1490.6 1036.4,1468.0 1035.8,1478.9 1035.2,1489.6 1034.6,1482.1 1033.9,1487.8 1033.3,1480.6 1032.7,1488.5 1032.1,1484.6 1031.5,1500.0 1030.8,1503.1 1030.2,1492.5 1029.6,1475.6 1029.0,1503.4 1028.4,1455.2 1027.7,1473.6 1027.1,1489.2 1026.5,1493.9 1025.9,1488.4 1025.2,1491.4 1024.6,1495.0 1024.0,1488.2 1023.4,1484.9 1022.8,1488.3 1022.1,1495.9 1021.5,1469.8 1020.9,1481.0 1020.3,1460.8 1019.7,1450.5 1019.0,1493.9 1018.4,1480.4 1017.8,1483.4 1017.2,1505.3 1016.5,1537.2 1015.9,1527.5 1015.3,1489.9 1014.7,1540.6 1014.1,1545.5 1013.4,1502.4 1012.8,1502.3 1012.2,1507.7 1011.6,1493.6 1011.0,1473.3 1010.3,1504.2 1009.7,1510.4 1009.1,1489.0 1008.5,1490.2 1007.8,1481.5 1007.2,1475.0 1006.6,1464.3 1006.0,1495.8 1005.4,1495.1 1004.7,1504.4 1004.1,1502.0 1003.5,1508.6 1002.9,1462.9 1002.3,1457.3 1001.6,1464.5 1001.0,1456.1 1000.4,1486.6 999.8,1502.9 999.1,1483.1 998.5,1490.5 997.9,1477.2 997.3,1488.6 996.7,1474.8 996.0,1456.6 995.4,1474.8 994.8,1480.8 994.2,1503.3 993.6,1461.4 992.9,1453.6 992.3,1474.6 991.7,1465.3 991.1,1461.0 990.4,1463.7 989.8,1464.6 989.2,1506.1 988.6,1488.4 988.0,1481.0 987.3,1503.3 986.7,1461.0 986.1,1476.4 985.5,1466.7 984.9,1482.1 984.2,1456.3 983.6,1457.9 983.0,1460.8 982.4,1481.3 981.7,1490.3 981.1,1466.1 980.5,1461.8 979.9,1474.3 979.3,1472.2 978.6,1484.5 978.0,1476.0 977.4,1469.7 976.8,1486.2 976.1,1476.8 975.5,1461.6 974.9,1473.9 974.3,1461.2 973.7,1481.7 973.0,1490.3 972.4,1488.6 971.8,1493.3 971.2,1510.5 970.6,1512.6 969.9,1510.5 969.3,1499.8 968.7,1511.6 968.1,1486.6 967.4,1501.7 966.8,1485.7 966.2,1531.5 965.6,1497.5 965.0,1489.6 964.3,1464.8 963.7,1475.3 963.1,1476.4 962.5,1457.3 961.9,1463.9 961.2,1476.4 960.6,1453.8 960.0,1476.6 959.4,1486.0 958.7,1485.3 958.1,1484.3 957.5,1483.0 956.9,1509.8 956.3,1477.2 955.6,1451.2 955.0,1473.4 954.4,1481.2 953.8,1484.2 953.2,1490.9 952.5,1468.1 951.9,1471.6 951.3,1468.3 950.7,1462.0 950.0,1497.7 949.4,1485.8 948.8,1501.7 948.2,1506.7 947.6,1510.1 946.9,1511.3 946.3,1533.1 945.7,1519.9 945.1,1524.8 944.5,1556.4 943.8,1506.9 943.2,1503.9 942.6,1469.0 942.0,1463.9 941.3,1479.7 940.7,1469.7 940.1,1458.6 939.5,1470.9 938.9,1477.4 938.2,1466.6 937.6,1490.1 937.0,1483.2 936.4,1479.1 935.8,1495.7 935.1,1482.2 934.5,1477.6 933.9,1488.5 933.3,1485.9 932.6,1484.8 932.0,1463.6 931.4,1451.9 930.8,1465.3 930.2,1448.8 929.5,1462.2 928.9,1490.0 928.3,1497.9 927.7,1482.8 927.1,1475.5 926.4,1487.7 925.8,1489.8 925.2,1476.8 924.6,1487.6 923.9,1506.6 923.3,1478.8 922.7,1477.6 922.1,1490.5 921.5,1452.2 920.8,1468.5 920.2,1464.4 919.6,1458.6 919.0,1440.3 918.4,1462.4 917.7,1484.8 917.1,1478.5 916.5,1492.1 915.9,1458.0 915.2,1483.1 914.6,1480.6 914.0,1492.0 913.4,1487.5 912.8,1468.0 912.1,1500.9 911.5,1440.8 910.9,1495.8 910.3,1468.5 909.6,1492.1 909.0,1466.0 908.4,1471.5 907.8,1483.3 907.2,1483.0 906.5,1468.3 905.9,1469.2 905.3,1459.5 904.7,1481.9 904.1,1469.8 903.4,1469.2 902.8,1473.7 902.2,1493.5 901.6,1458.5 900.9,1455.8 900.3,1484.8 899.7,1465.3 899.1,1479.6 898.5,1490.6 897.8,1463.0 897.2,1469.2 896.6,1471.8 896.0,1470.7 895.4,1463.7 894.7,1457.9 894.1,1483.7 893.5,1476.8 892.9,1489.4 892.2,1524.4 891.6,1498.9 891.0,1477.0 890.4,1476.1 889.8,1481.0 889.1,1472.3 888.5,1477.3 887.9,1490.7 887.3,1486.7 886.7,1452.9 886.0,1496.2 885.4,1478.7 884.8,1463.7 884.2,1465.6 883.5,1481.4 882.9,1480.5 882.3,1453.4 881.7,1477.0 881.1,1478.9 880.4,1483.6 879.8,1462.7 879.2,1473.0 878.6,1498.2 878.0,1507.1 877.3,1480.1 876.7,1506.0 876.1,1480.5 875.5,1478.8 874.8,1494.8 874.2,1501.2 873.6,1487.6 873.0,1488.6 872.4,1486.5 871.7,1496.8 871.1,1472.0 870.5,1479.7 869.9,1463.6 869.3,1487.2 868.6,1491.3 868.0,1526.9 867.4,1531.4 866.8,1515.4 866.1,1500.2 865.5,1504.8 864.9,1490.8 864.3,1503.1 863.7,1499.2 863.0,1500.8 862.4,1484.6 861.8,1488.3 861.2,1500.5 860.6,1486.0 859.9,1475.4 859.3,1459.7 858.7,1473.0 858.1,1480.7 857.4,1494.3 856.8,1459.0 856.2,1456.7 855.6,1467.2 855.0,1490.2 854.3,1479.2 853.7,1468.6 853.1,1466.6 852.5,1500.4 851.9,1479.1 851.2,1465.2 850.6,1478.8 850.0,1484.8 849.4,1479.2 848.7,1492.2 848.1,1502.8 847.5,1477.0 846.9,1465.3 846.3,1460.5 845.6,1487.7 845.0,1466.8 844.4,1476.7 843.8,1467.3 843.1,1516.8 842.5,1497.3 841.9,1492.5 841.3,1468.7 840.7,1475.2 840.0,1512.6 839.4,1498.5 838.8,1510.8 838.2,1482.7 837.6,1479.6 836.9,1466.6 836.3,1502.3 835.7,1477.4 835.1,1485.2 834.4,1484.2 833.8,1487.1 833.2,1507.5 832.6,1470.2 832.0,1490.9 831.3,1470.8 830.7,1469.3 830.1,1464.0 829.5,1485.7 828.9,1506.8 828.2,1517.7 827.6,1535.8 827.0,1477.7 826.4,1482.4 825.7,1484.5 825.1,1478.3 824.5,1497.4 823.9,1481.0 823.3,1464.9 822.6,1462.5 822.0,1497.8 821.4,1487.8 820.8,1525.4 820.2,1486.3 819.5,1485.0 818.9,1500.1 818.3,1478.7 817.7,1480.3 817.0,1486.4 816.4,1493.8 815.8,1462.0 815.2,1486.8 814.6,1446.1 813.9,1495.7 813.3,1485.6 812.7,1488.0 812.1,1463.2 811.5,1472.8 810.8,1487.6 810.2,1486.5 809.6,1466.0 809.0,1476.3 808.3,1462.7 807.7,1490.9 807.1,1478.1 806.5,1461.8 805.9,1464.2 805.2,1499.0 804.6,1483.3 804.0,1478.3 803.4,1472.3 802.8,1491.3 802.1,1492.1 801.5,1470.6 800.9,1479.1 800.3,1494.2 799.6,1514.9 799.0,1491.5 798.4,1514.2 797.8,1505.0 797.2,1548.2 796.5,1502.1 795.9,1481.7 795.3,1471.5 794.7,1456.9 794.1,1464.1 793.4,1456.0 792.8,1463.6 792.2,1455.8 791.6,1488.3 790.9,1456.7 790.3,1468.0 789.7,1466.0 789.1,1463.6 788.5,1473.8 787.8,1454.9 787.2,1485.1 786.6,1450.9 786.0,1483.4 785.3,1497.8 784.7,1487.8 784.1,1504.9 783.5,1510.0 782.9,1505.1 782.2,1495.4 781.6,1488.6 781.0,1485.0 780.4,1466.4 779.8,1473.9 779.1,1455.7 778.5,1442.4 777.9,1459.6 777.3,1470.9 776.6,1452.8 776.0,1489.8 775.4,1482.1 774.8,1468.5 774.2,1479.4 773.5,1474.1 772.9,1481.8 772.3,1454.3 771.7,1452.5 771.1,1463.5 770.4,1464.9 769.8,1466.0 769.2,1465.7 768.6,1474.5 767.9,1483.0 767.3,1471.4 766.7,1480.5 766.1,1488.2 765.5,1460.1 764.8,1455.4 764.2,1474.8 763.6,1455.6 763.0,1452.0 762.4,1490.4 761.7,1465.6 761.1,1475.2 760.5,1501.5 759.9,1476.8 759.2,1481.4 758.6,1492.7 758.0,1484.8 757.4,1473.8 756.8,1490.7 756.1,1478.1 755.5,1517.3 754.9,1494.6 754.3,1474.9 753.7,1464.5 753.0,1491.9 752.4,1506.2 751.8,1498.5 751.2,1496.6 750.5,1485.8 749.9,1502.3 749.3,1473.8 748.7,1479.2 748.1,1456.9 747.4,1471.7 746.8,1474.4 746.2,1485.1 745.6,1485.9 745.0,1483.0 744.3,1469.9 743.7,1473.3 743.1,1487.8 742.5,1490.1 741.8,1474.8 741.2,1456.8 740.6,1454.2 740.0,1443.4 739.4,1450.8 738.7,1466.6 738.1,1454.1 737.5,1468.3 736.9,1464.0 736.3,1459.8 735.6,1463.7 735.0,1485.2 734.4,1461.9 733.8,1496.3 733.1,1475.5 732.5,1472.5 731.9,1475.7 731.3,1477.6 730.7,1490.4 730.0,1492.5 729.4,1460.9 728.8,1505.7 728.2,1485.6 727.5,1461.2 726.9,1473.4 726.3,1451.3 725.7,1481.7 725.1,1508.0 724.4,1464.7 723.8,1472.7 723.2,1471.0 722.6,1471.4 722.0,1484.8 721.3,1470.4 720.7,1466.6 720.1,1476.7 719.5,1488.2 718.8,1473.8 718.2,1491.6 717.6,1501.3 717.0,1464.5 716.4,1478.0 715.7,1467.2 715.1,1469.1 714.5,1501.7 713.9,1490.7 713.3,1508.3 712.6,1504.2 712.0,1488.8 711.4,1518.3 710.8,1476.7 710.1,1509.9 709.5,1494.0 708.9,1506.5 708.3,1506.1 707.7,1505.4 707.0,1470.7 706.4,1459.9 705.8,1470.4 705.2,1460.8 704.6,1459.3 703.9,1486.7 703.3,1453.0 702.7,1484.7 702.1,1471.5 701.4,1448.9 700.8,1495.3 700.2,1487.8 699.6,1467.4 699.0,1473.3 698.3,1489.6 697.7,1493.2 697.1,1501.2 696.5,1510.9 695.9,1494.6 695.2,1481.3 694.6,1503.9 694.0,1502.0 693.4,1456.7 692.7,1452.6 692.1,1474.7 691.5,1473.4 690.9,1469.8 690.3,1510.7 689.6,1442.9 689.0,1469.4 688.4,1468.2 687.8,1480.6 687.2,1496.0 686.5,1463.6 685.9,1497.2 685.3,1501.2 684.7,1496.9 684.0,1476.3 683.4,1467.5 682.8,1456.6 682.2,1478.2 681.6,1478.3 680.9,1483.8 680.3,1483.5 679.7,1480.5 679.1,1472.2 678.5,1514.6 677.8,1490.8 677.2,1505.3 676.6,1486.9 676.0,1504.9 675.3,1496.3 674.7,1496.1 674.1,1476.4 673.5,1461.0 672.9,1477.0 672.2,1483.6 671.6,1465.6 671.0,1480.0 670.4,1451.7 669.8,1478.6 669.1,1485.3 668.5,1480.2 667.9,1479.3 667.3,1472.3 666.6,1460.7 666.0,1471.7 665.4,1456.8 664.8,1486.2 664.2,1497.7 663.5,1496.4 662.9,1461.5 662.3,1466.3 661.7,1501.0 661.0,1469.2 660.4,1473.7 659.8,1486.1 659.2,1490.0 658.6,1497.0 657.9,1514.6 657.3,1485.7 656.7,1465.4 656.1,1458.9 655.5,1463.8 654.8,1489.7 654.2,1472.7 653.6,1456.9 653.0,1467.3 652.3,1456.6 651.7,1483.8 651.1,1459.3 650.5,1488.4 649.9,1471.9 649.2,1484.9 648.6,1459.4 648.0,1471.4 647.4,1480.7 646.8,1465.3 646.1,1476.4 645.5,1503.8 644.9,1534.1 644.3,1537.0 643.6,1517.9 643.0,1514.6 642.4,1479.3 641.8,1472.1 641.2,1480.6 640.5,1472.5 639.9,1537.6 639.3,1530.1 638.7,1558.6 638.1,1526.2 637.4,1494.8 636.8,1482.8 636.2,1493.6 635.6,1507.4 634.9,1518.4 634.3,1491.7 633.7,1472.1 633.1,1476.2 632.5,1478.4 631.8,1478.0 631.2,1472.1 630.6,1470.9 630.0,1473.0 629.4,1462.4 628.7,1458.0 628.1,1476.5 627.5,1453.0 626.9,1470.5 626.2,1468.1 625.6,1471.8 625.0,1479.2 624.4,1482.1 623.8,1487.2 623.1,1500.3 622.5,1513.3 621.9,1489.8 621.3,1441.4 620.7,1449.4 620.0,1449.4 619.4,1455.8 618.8,1466.2 618.2,1480.2 617.5,1475.9 616.9,1472.6 616.3,1497.2 615.7,1477.4 615.1,1482.2 614.4,1484.5 613.8,1487.7 613.2,1497.3 612.6,1484.5 612.0,1472.2 611.3,1466.2 610.7,1461.3 610.1,1460.4 609.5,1476.3 608.8,1450.5 608.2,1462.8 607.6,1453.5 607.0,1455.7 606.4,1471.0 605.7,1479.3 605.1,1482.3 604.5,1478.2 603.9,1492.7 603.2,1476.9 602.6,1446.4 602.0,1439.1 601.4,1443.4 600.8,1445.4 600.1,1451.2 599.5,1452.2 598.9,1450.0 598.3,1474.1 597.7,1469.6 597.0,1461.7 596.4,1464.6 595.8,1450.7 595.2,1472.7 594.5,1479.0 593.9,1460.9 593.3,1472.8 592.7,1466.0 592.1,1437.4 591.4,1471.8 590.8,1485.1 590.2,1477.0 589.6,1452.6 589.0,1455.4 588.3,1462.9 587.7,1471.6 587.1,1467.6 586.5,1449.7 585.8,1464.9 585.2,1474.8 584.6,1457.5 584.0,1493.5 583.4,1477.0 582.7,1490.9 582.1,1484.9 581.5,1482.5 580.9,1449.9 580.3,1479.5 579.6,1455.8 579.0,1472.2 578.4,1480.9 577.8,1471.8 577.1,1455.9 576.5,1454.3 575.9,1457.9 575.3,1480.0 574.7,1479.1 574.0,1465.2 573.4,1452.4 572.8,1466.7 572.2,1465.4 571.6,1482.9 570.9,1521.9 570.3,1472.0 569.7,1483.7 569.1,1503.4 568.4,1471.3 567.8,1483.8 567.2,1481.3 566.6,1479.6 566.0,1475.3 565.3,1466.6 564.7,1461.6 564.1,1484.0 563.5,1489.8 562.9,1481.6 562.2,1482.6 561.6,1462.2 561.0,1456.3 560.4,1459.3 559.7,1468.9 559.1,1477.5 558.5,1492.4 557.9,1455.1 557.3,1450.5 556.6,1463.3 556.0,1459.2 555.4,1492.3 554.8,1470.4 554.2,1463.7 553.5,1491.2 552.9,1463.7 552.3,1455.1 551.7,1450.3 551.0,1454.2 550.4,1447.1 549.8,1453.1 549.2,1453.1 548.6,1461.5 547.9,1469.9 547.3,1463.7 546.7,1476.1 546.1,1471.2 545.5,1462.9 544.8,1463.3 544.2,1454.1 543.6,1455.0 543.0,1479.1 542.3,1467.0 541.7,1482.1 541.1,1472.5 540.5,1486.1 539.9,1493.7 539.2,1481.5 538.6,1484.7 538.0,1476.3 537.4,1472.2 536.7,1473.8 536.1,1460.3 535.5,1484.4 534.9,1444.6 534.3,1448.1 533.6,1472.3 533.0,1467.6 532.4,1478.5 531.8,1479.0 531.2,1474.4 530.5,1486.0 529.9,1461.9 529.3,1479.8 528.7,1484.6 528.0,1474.2 527.4,1462.5 526.8,1477.9 526.2,1491.1 525.6,1485.6 524.9,1454.4 524.3,1474.6 523.7,1461.6 523.1,1473.4 522.5,1457.7 521.8,1466.1 521.2,1458.7 520.6,1463.5 520.0,1461.6 519.3,1454.2 518.7,1438.4 518.1,1440.7 517.5,1491.2 516.9,1487.2 516.2,1470.8 515.6,1493.5 515.0,1500.8 514.4,1499.0 513.8,1490.3 513.1,1490.1 512.5,1491.4 511.9,1491.5 511.3,1493.9 510.6,1506.4 510.0,1515.6 509.4,1489.0 508.8,1501.2 508.2,1511.0 507.5,1514.6 506.9,1496.0 506.3,1483.4 505.7,1457.2 505.1,1439.1 504.4,1443.1 503.8,1451.8 503.2,1475.3 502.6,1459.2 501.9,1447.2 501.3,1454.1 500.7,1477.5 500.1,1490.0 499.5,1475.7 498.8,1475.4 498.2,1470.2 497.6,1456.9 497.0,1482.0 496.4,1491.9 495.7,1465.7 495.1,1481.2 494.5,1469.1 493.9,1472.8 493.2,1488.3 492.6,1527.9 492.0,1480.7 491.4,1503.7 490.8,1483.8 490.1,1502.2 489.5,1474.8 488.9,1467.6 488.3,1488.4 487.7,1487.6 487.0,1479.4 486.4,1466.7 485.8,1467.3 485.2,1466.9 484.5,1474.1 483.9,1472.4 483.3,1478.3 482.7,1451.2 482.1,1452.1 481.4,1467.1 480.8,1468.5 480.2,1468.8 479.6,1461.5 479.0,1458.6 478.3,1464.8 477.7,1495.4 477.1,1489.1 476.5,1488.5 475.8,1502.3 475.2,1473.5 474.6,1498.0 474.0,1471.7 473.4,1471.6 472.7,1471.0 472.1,1502.1 471.5,1476.3 470.9,1449.0 470.2,1460.7 469.6,1462.1 469.0,1487.0 468.4,1477.3 467.8,1473.6 467.1,1482.8 466.5,1475.0 465.9,1477.4 465.3,1454.5 464.7,1476.9 464.0,1478.0 463.4,1462.1 462.8,1467.3 462.2,1469.0 461.5,1439.8 460.9,1448.6 460.3,1454.7 459.7,1448.3 459.1,1453.2 458.4,1471.8 457.8,1473.1 457.2,1495.5 456.6,1474.3 456.0,1489.5 455.3,1483.3 454.7,1479.3 454.1,1476.4 453.5,1439.8 452.8,1473.8 452.2,1464.8 451.6,1463.7 451.0,1499.8 450.4,1491.3 449.7,1483.2 449.1,1498.5 448.5,1507.1 447.9,1498.1 447.3,1478.7 446.6,1465.3 446.0,1477.3 445.4,1465.4 444.8,1481.0 444.1,1511.8 443.5,1474.9 442.9,1467.7 442.3,1480.8 441.7,1461.1 441.0,1478.6 440.4,1466.3 439.8,1463.0 439.2,1473.9 438.6,1466.5 437.9,1463.3 437.3,1463.3 436.7,1451.3 436.1,1457.6 435.4,1472.0 434.8,1458.8 434.2,1462.2 433.6,1479.1 433.0,1458.1 432.3,1488.9 431.7,1483.0 431.1,1466.5 430.5,1481.1 429.9,1488.8 429.2,1502.6 428.6,1517.4 428.0,1495.7 427.4,1474.2 426.7,1493.3 426.1,1481.6 425.5,1464.6 424.9,1495.1 424.3,1457.2 423.6,1465.9 423.0,1460.8 422.4,1445.0 421.8,1489.9 421.2,1482.0 420.5,1457.5 419.9,1460.9 419.3,1467.8 418.7,1470.8 418.0,1456.3 417.4,1473.3 416.8,1487.1 416.2,1468.4 415.6,1461.4 414.9,1464.3 414.3,1469.3 413.7,1492.2 413.1,1460.6 412.4,1492.3 411.8,1470.3 411.2,1481.8 410.6,1495.2 410.0,1475.8 409.3,1467.7 408.7,1453.4 408.1,1465.7 407.5,1472.6 406.9,1487.5 406.2,1502.5 405.6,1508.1 405.0,1471.1 404.4,1448.3 403.7,1456.1 403.1,1457.3 402.5,1451.0 401.9,1452.8 401.3,1467.6 400.6,1493.5 400.0,1472.9 399.4,1474.7 398.8,1466.8 398.2,1484.1 397.5,1487.9 396.9,1470.8 396.3,1478.7 395.7,1469.6 395.0,1455.1 394.4,1479.3 393.8,1483.1 393.2,1493.9 392.6,1470.6 391.9,1477.5 391.3,1491.8 390.7,1487.9 390.1,1471.4 389.5,1466.5 388.8,1446.6 388.2,1469.4 387.6,1454.2 387.0,1474.4 386.3,1437.2 385.7,1461.1 385.1,1461.9 384.5,1459.4 383.9,1470.1 383.2,1474.4 382.6,1469.2 382.0,1464.8 381.4,1474.6 380.8,1488.6 380.1,1479.7 379.5,1488.7 378.9,1451.4 378.3,1460.3 377.6,1456.9 377.0,1464.3 376.4,1455.9 375.8,1472.0 375.2,1475.7 374.5,1479.6 373.9,1490.6 373.3,1515.7 372.7,1473.1 372.1,1485.1 371.4,1459.7 370.8,1456.3 370.2,1467.5 369.6,1437.7 368.9,1475.2 368.3,1472.0 367.7,1484.5 367.1,1513.8 366.5,1512.7 365.8,1466.9 365.2,1490.1 364.6,1502.6 364.0,1496.4 363.4,1511.5 362.7,1543.8 362.1,1513.7 361.5,1493.7 360.9,1461.5 360.2,1473.1 359.6,1470.4 359.0,1479.2 358.4,1493.7 357.8,1472.4 357.1,1482.4 356.5,1507.7 355.9,1497.5 355.3,1492.1 354.6,1500.7 354.0,1513.8 353.4,1484.0 352.8,1478.0 352.2,1477.6 351.5,1480.0 350.9,1484.4 350.3,1483.9 349.7,1483.6 349.1,1492.5 348.4,1488.5 347.8,1475.9 347.2,1501.3 346.6,1542.1 345.9,1499.2 345.3,1523.4 344.7,1515.1 344.1,1516.8 343.5,1510.9 342.8,1521.5 342.2,1500.0 341.6,1499.5 341.0,1472.4 340.4,1481.0 339.7,1469.6 339.1,1455.2 338.5,1468.1 337.9,1500.7 337.2,1465.8 336.6,1498.4 336.0,1476.0 335.4,1479.6 334.8,1466.2 334.1,1477.1 333.5,1480.1 332.9,1477.4 332.3,1479.2 331.7,1489.0 331.0,1488.8 330.4,1504.8 329.8,1476.3 329.2,1466.2 328.5,1462.7 327.9,1517.3 327.3,1482.2 326.7,1477.2 326.1,1468.4 325.4,1444.3 324.8,1448.2 324.2,1466.7 323.6,1478.4 323.0,1474.9 322.3,1480.2 321.7,1489.7 321.1,1471.3 320.5,1448.6 319.8,1449.8 319.2,1463.8 318.6,1466.5 318.0,1476.9 317.4,1464.6 316.7,1459.8 316.1,1482.0 315.5,1489.3 314.9,1493.2 314.3,1501.7 313.6,1483.5 313.0,1468.3 312.4,1455.8 311.8,1470.1 311.1,1470.1 310.5,1466.4 309.9,1502.6 309.3,1462.5 308.7,1489.8 308.0,1471.4 307.4,1467.2 306.8,1469.0 306.2,1485.3 305.6,1499.9 304.9,1491.0 304.3,1477.7 303.7,1491.1 303.1,1467.4 302.4,1463.2 301.8,1474.8 301.2,1463.3 300.6,1464.8 300.0,1488.6 299.3,1475.7 298.7,1433.8 298.1,1460.5 297.5,1474.5 296.9,1482.6 296.2,1467.1 295.6,1472.6 295.0,1485.0 294.4,1487.5 293.7,1457.9 293.1,1484.5 292.5,1475.8 291.9,1474.5 291.3,1477.8 290.6,1477.3 290.0,1471.3 289.4,1470.7 288.8,1471.5 288.1,1480.1 287.5,1456.9 286.9,1460.6 286.3,1470.0 285.7,1487.6 285.0,1456.2 284.4,1469.3 283.8,1464.6 283.2,1469.6 282.6,1469.2 281.9,1480.0 281.3,1464.6 280.7,1484.9 280.1,1464.1 279.4,1486.1 278.8,1470.1 278.2,1460.8 277.6,1452.5 277.0,1465.2 276.3,1440.2 275.7,1453.4 275.1,1488.6 274.5,1479.7 273.9,1452.1 273.2,1473.8 272.6,1470.2 272.0,1488.5 271.4,1470.0 270.7,1473.5 270.1,1456.6 269.5,1484.6 268.9,1479.4 268.3,1481.8 267.6,1498.9 267.0,1477.1 266.4,1471.6 265.8,1472.2 265.2,1490.5 264.5,1455.2 263.9,1456.1 263.3,1461.1 262.7,1485.6 262.0,1488.5 261.4,1487.4 260.8,1478.0 260.2,1484.2 259.6,1507.9 258.9,1490.8 258.3,1484.5 257.7,1478.8 257.1,1485.0 256.5,1458.3 255.8,1468.8 255.2,1453.5 254.6,1464.6 254.0,1501.2 253.3,1507.3 252.7,1479.7 252.1,1474.5 251.5,1475.8 250.9,1458.9 250.2,1473.7 249.6,1476.9 249.0,1494.0 248.4,1485.8 247.8,1475.0 247.1,1492.8 246.5,1472.7 245.9,1469.0 245.3,1465.4 244.6,1488.2 244.0,1486.4 243.4,1490.4 242.8,1483.1 242.2,1466.6 241.5,1476.4 240.9,1483.0 240.3,1481.1 239.7,1494.4 239.1,1470.4 238.4,1472.7 237.8,1490.8 237.2,1496.6 236.6,1503.3 235.9,1491.3 235.3,1495.0 234.7,1445.4 234.1,1473.7 233.5,1478.3 232.8,1465.8 232.2,1474.0 231.6,1473.4 231.0,1485.9 230.3,1473.4 229.7,1476.1 229.1,1478.6 228.5,1492.2 227.9,1483.8 227.2,1490.4 226.6,1482.0 226.0,1477.7 225.4,1434.8 224.8,1448.9 224.1,1451.4 223.5,1467.7 222.9,1487.9 222.3,1485.6 221.6,1479.6 221.0,1492.5 220.4,1486.2 219.8,1472.6 219.2,1493.1 218.5,1481.2 217.9,1479.5 217.3,1481.7 216.7,1483.0 216.1,1484.3 215.4,1450.1 214.8,1459.8 214.2,1449.7 213.6,1448.0 212.9,1510.9 212.3,1475.4 211.7,1491.1 211.1,1457.0 210.5,1473.6 209.8,1475.4 209.2,1458.0 208.6,1467.1 208.0,1486.5 207.4,1487.7 206.7,1465.8 206.1,1459.3 205.5,1453.9 204.9,1445.3 204.2,1469.3 203.6,1448.5 203.0,1451.7 202.4,1460.6 201.8,1454.5 201.1,1458.0 200.5,1450.6 199.9,1454.9 199.3,1467.4 198.7,1477.5 198.0,1462.1 197.4,1456.9 196.8,1461.2 196.2,1461.0 195.5,1475.2 194.9,1476.3 194.3,1476.7 193.7,1469.0 193.1,1454.8 192.4,1461.6 191.8,1448.9 191.2,1467.7 190.6,1495.1 190.0,1478.0 189.3,1508.2 188.7,1477.7 188.1,1474.7 187.5,1451.9 186.8,1474.7 186.2,1471.9 185.6,1481.8 185.0,1486.6 184.4,1474.9 183.7,1484.3 183.1,1471.3 182.5,1471.2 181.9,1492.4 181.3,1484.1 180.6,1486.7 180.0,1486.0 179.4,1483.6 178.8,1513.2 178.1,1499.7 177.5,1477.0 176.9,1506.0 176.3,1471.9 175.7,1449.4 175.0,1448.7 174.4,1475.6 173.8,1446.5 173.2,1459.3 172.6,1454.8 171.9,1449.8 171.3,1455.2 170.7,1457.5 170.1,1472.1 169.4,1448.6 168.8,1473.5 168.2,1482.0" fill="#a3d1ff" stroke="#a3d1ff" stroke-width="0.7" stroke-linejoin="round"/>
<polygon points="168.2,1348.6 168.8,1346.0 169.4,1359.0 170.1,1356.4 170.7,1356.5 171.3,1357.9 171.9,1362.0 172.6,1354.6 173.2,1345.5 173.8,1352.1 174.4,1354.1 175.0,1349.6 175.7,1359.7 176.3,1353.2 176.9,1349.2 177.5,1358.0 178.1,1341.0 178.8,1336.6 179.4,1334.5 180.0,1331.7 180.6,1354.3 181.3,1350.4 181.9,1339.7 182.5,1346.0 183.1,1353.5 183.7,1353.0 184.4,1344.3 185.0,1348.3 185.6,1356.9 186.2,1352.4 186.8,1358.3 187.5,1354.9 188.1,1344.0 188.7,1339.5 189.3,1343.7 190.0,1336.1 190.6,1343.9 191.2,1350.3 191.8,1352.6 192.4,1352.8 193.1,1353.4 193.7,1356.6 194.3,1343.5 194.9,1341.9 195.5,1357.6 196.2,1336.0 196.8,1369.2 197.4,1361.9 198.0,1356.2 198.7,1337.8 199.3,1351.1 199.9,1348.6 200.5,1346.2 201.1,1357.3 201.8,1354.8 202.4,1360.4 203.0,1364.3 203.6,1367.6 204.2,1352.2 204.9,1360.7 205.5,1353.1 206.1,1347.6 206.7,1349.2 207.4,1345.2 208.0,1352.0 208.6,1338.4 209.2,1358.6 209.8,1338.4 210.5,1346.9 211.1,1351.6 211.7,1345.3 212.3,1342.0 212.9,1342.9 213.6,1344.3 214.2,1367.3 214.8,1350.5 215.4,1354.2 216.1,1352.8 216.7,1339.5 217.3,1347.4 217.9,1355.5 218.5,1343.7 219.2,1337.6 219.8,1345.7 220.4,1350.8 221.0,1333.2 221.6,1349.0 222.3,1333.6 222.9,1347.1 223.5,1352.8 224.1,1350.1 224.8,1361.1 225.4,1368.2 226.0,1360.6 226.6,1338.3 227.2,1358.3 227.9,1346.3 228.5,1341.0 229.1,1346.6 229.7,1362.3 230.3,1349.4 231.0,1330.0 231.6,1340.5 232.2,1346.7 232.8,1350.9 233.5,1336.4 234.1,1342.5 234.7,1340.4 235.3,1349.2 235.9,1345.0 236.6,1343.9 237.2,1338.8 237.8,1332.6 238.4,1337.3 239.1,1346.5 239.7,1344.8 240.3,1362.2 240.9,1347.0 241.5,1343.7 242.2,1342.1 242.8,1335.8 243.4,1343.4 244.0,1342.0 244.6,1349.0 245.3,1341.6 245.9,1342.9 246.5,1351.3 247.1,1346.4 247.8,1361.1 248.4,1346.3 249.0,1338.5 249.6,1346.3 250.2,1348.4 250.9,1355.4 251.5,1346.2 252.1,1339.2 252.7,1344.0 253.3,1341.8 254.0,1349.7 254.6,1359.3 255.2,1352.4 255.8,1368.8 256.5,1355.5 257.1,1349.3 257.7,1356.8 258.3,1350.0 258.9,1341.0 259.6,1351.0 260.2,1348.0 260.8,1340.0 261.4,1335.1 262.0,1345.7 262.7,1331.7 263.3,1335.2 263.9,1346.2 264.5,1353.6 265.2,1349.0 265.8,1358.9 266.4,1352.9 267.0,1359.0 267.6,1339.3 268.3,1336.1 268.9,1350.8 269.5,1349.3 270.1,1344.3 270.7,1356.6 271.4,1341.2 272.0,1353.1 272.6,1356.4 273.2,1343.4 273.9,1350.1 274.5,1338.2 275.1,1346.8 275.7,1358.6 276.3,1362.4 277.0,1359.9 277.6,1358.4 278.2,1349.4 278.8,1352.4 279.4,1353.6 280.1,1358.8 280.7,1342.3 281.3,1353.7 281.9,1340.9 282.6,1352.9 283.2,1350.7 283.8,1349.6 284.4,1339.0 285.0,1350.4 285.7,1367.2 286.3,1350.1 286.9,1355.8 287.5,1352.6 288.1,1348.3 288.8,1348.4 289.4,1353.9 290.0,1356.5 290.6,1360.6 291.3,1352.4 291.9,1339.8 292.5,1351.2 293.1,1351.3 293.7,1357.4 294.4,1351.7 295.0,1353.3 295.6,1350.8 296.2,1348.9 296.9,1349.5 297.5,1347.3 298.1,1347.8 298.7,1354.6 299.3,1336.7 300.0,1350.6 300.6,1334.6 301.2,1352.0 301.8,1353.0 302.4,1350.0 303.1,1353.2 303.7,1352.7 304.3,1328.8 304.9,1336.0 305.6,1336.8 306.2,1353.4 306.8,1354.3 307.4,1344.9 308.0,1356.3 308.7,1354.3 309.3,1348.2 309.9,1345.6 310.5,1344.4 311.1,1361.7 311.8,1353.7 312.4,1358.7 313.0,1351.4 313.6,1341.9 314.3,1357.9 314.9,1348.7 315.5,1355.1 316.1,1357.7 316.7,1347.2 317.4,1343.8 318.0,1345.5 318.6,1362.2 319.2,1349.6 319.8,1357.3 320.5,1356.3 321.1,1356.4 321.7,1345.1 322.3,1353.5 323.0,1359.5 323.6,1358.1 324.2,1351.9 324.8,1356.9 325.4,1363.1 326.1,1349.6 326.7,1352.5 327.3,1345.6 327.9,1335.9 328.5,1346.3 329.2,1354.0 329.8,1355.6 330.4,1347.5 331.0,1355.2 331.7,1339.7 332.3,1341.1 332.9,1353.3 333.5,1338.0 334.1,1337.5 334.8,1350.2 335.4,1345.6 336.0,1359.9 336.6,1337.6 337.2,1346.3 337.9,1344.5 338.5,1347.4 339.1,1344.6 339.7,1352.1 340.4,1346.2 341.0,1343.1 341.6,1342.4 342.2,1351.7 342.8,1328.9 343.5,1338.8 344.1,1337.6 344.7,1334.4 345.3,1342.9 345.9,1337.4 346.6,1335.8 347.2,1336.4 347.8,1331.3 348.4,1347.6 349.1,1340.2 349.7,1336.3 350.3,1347.9 350.9,1350.0 351.5,1348.6 352.2,1346.1 352.8,1345.6 353.4,1337.3 354.0,1342.2 354.6,1354.9 355.3,1350.2 355.9,1342.9 356.5,1342.5 357.1,1345.6 357.8,1352.9 358.4,1350.3 359.0,1343.7 359.6,1356.8 360.2,1357.5 360.9,1353.5 361.5,1353.5 362.1,1350.4 362.7,1338.2 363.4,1328.6 364.0,1331.1 364.6,1341.6 365.2,1350.1 365.8,1345.3 366.5,1331.9 367.1,1335.1 367.7,1337.9 368.3,1347.4 368.9,1357.6 369.6,1362.7 370.2,1355.7 370.8,1356.8 371.4,1359.1 372.1,1343.9 372.7,1348.2 373.3,1332.0 373.9,1349.5 374.5,1355.1 375.2,1352.8 375.8,1360.6 376.4,1361.9 377.0,1369.1 377.6,1361.6 378.3,1347.4 378.9,1350.0 379.5,1347.6 380.1,1356.2 380.8,1342.7 381.4,1342.5 382.0,1346.1 382.6,1333.8 383.2,1340.6 383.9,1360.3 384.5,1363.3 385.1,1363.3 385.7,1368.5 386.3,1362.5 387.0,1357.3 387.6,1360.8 388.2,1342.3 388.8,1362.0 389.5,1356.7 390.1,1346.0 390.7,1352.8 391.3,1346.1 391.9,1345.9 392.6,1342.9 393.2,1331.1 393.8,1336.6 394.4,1336.5 395.0,1353.9 395.7,1351.6 396.3,1364.7 396.9,1346.8 397.5,1347.1 398.2,1345.1 398.8,1336.7 399.4,1348.3 400.0,1346.2 400.6,1345.7 401.3,1356.4 401.9,1366.8 402.5,1353.4 403.1,1359.2 403.7,1339.9 404.4,1355.1 405.0,1355.6 405.6,1349.8 406.2,1351.7 406.9,1338.8 407.5,1341.2 408.1,1353.0 408.7,1360.9 409.3,1337.2 410.0,1363.0 410.6,1339.5 411.2,1340.8 411.8,1349.4 412.4,1348.8 413.1,1355.8 413.7,1355.7 414.3,1356.5 414.9,1347.7 415.6,1358.8 416.2,1358.6 416.8,1344.0 417.4,1347.5 418.0,1355.9 418.7,1345.0 419.3,1364.4 419.9,1346.4 420.5,1368.1 421.2,1360.6 421.8,1343.6 422.4,1347.0 423.0,1354.4 423.6,1361.4 424.3,1339.5 424.9,1337.0 425.5,1357.1 426.1,1343.5 426.7,1326.1 427.4,1347.3 428.0,1338.7 428.6,1327.6 429.2,1329.4 429.9,1342.6 430.5,1342.9 431.1,1355.3 431.7,1349.0 432.3,1334.6 433.0,1356.0 433.6,1356.1 434.2,1354.2 434.8,1362.9 435.4,1360.7 436.1,1347.5 436.7,1345.0 437.3,1349.8 437.9,1355.6 438.6,1328.3 439.2,1357.7 439.8,1355.9 440.4,1347.4 441.0,1342.0 441.7,1351.6 442.3,1353.7 442.9,1361.8 443.5,1346.6 444.1,1332.9 444.8,1337.4 445.4,1358.6 446.0,1345.6 446.6,1354.4 447.3,1355.8 447.9,1345.6 448.5,1338.6 449.1,1344.3 449.7,1354.8 450.4,1354.6 451.0,1347.5 451.6,1362.5 452.2,1357.6 452.8,1350.8 453.5,1359.6 454.1,1353.7 454.7,1348.7 455.3,1342.7 456.0,1318.0 456.6,1351.0 457.2,1344.1 457.8,1350.3 458.4,1353.3 459.1,1368.6 459.7,1349.8 460.3,1361.9 460.9,1379.2 461.5,1364.9 462.2,1353.9 462.8,1347.8 463.4,1355.1 464.0,1353.8 464.7,1337.8 465.3,1347.4 465.9,1356.8 466.5,1346.3 467.1,1348.0 467.8,1347.1 468.4,1364.8 469.0,1342.1 469.6,1349.8 470.2,1358.6 470.9,1344.0 471.5,1353.4 472.1,1339.4 472.7,1355.7 473.4,1337.0 474.0,1362.2 474.6,1339.7 475.2,1352.1 475.8,1353.4 476.5,1338.5 477.1,1345.0 477.7,1356.7 478.3,1374.4 479.0,1367.4 479.6,1354.6 480.2,1355.8 480.8,1346.3 481.4,1355.3 482.1,1349.2 482.7,1358.7 483.3,1351.8 483.9,1343.7 484.5,1359.7 485.2,1361.3 485.8,1350.2 486.4,1353.7 487.0,1343.8 487.7,1337.0 488.3,1328.9 488.9,1353.1 489.5,1348.4 490.1,1343.2 490.8,1351.8 491.4,1344.1 492.0,1347.2 492.6,1329.6 493.2,1333.9 493.9,1335.7 494.5,1350.5 495.1,1361.0 495.7,1361.1 496.4,1348.2 497.0,1350.4 497.6,1341.9 498.2,1351.9 498.8,1339.3 499.5,1347.2 500.1,1353.9 500.7,1342.2 501.3,1353.3 501.9,1360.2 502.6,1362.9 503.2,1366.9 503.8,1356.7 504.4,1347.9 505.1,1359.1 505.7,1360.4 506.3,1359.2 506.9,1343.1 507.5,1346.0 508.2,1357.1 508.8,1347.2 509.4,1328.9 510.0,1323.2 510.6,1338.0 511.3,1341.3 511.9,1351.3 512.5,1350.0 513.1,1353.8 513.8,1344.2 514.4,1338.3 515.0,1341.0 515.6,1332.5 516.2,1335.2 516.9,1356.2 517.5,1342.0 518.1,1366.9 518.7,1368.0 519.3,1352.7 520.0,1356.6 520.6,1347.1 521.2,1353.7 521.8,1360.4 522.5,1354.9 523.1,1346.2 523.7,1352.3 524.3,1347.7 524.9,1355.3 525.6,1352.7 526.2,1353.2 526.8,1357.6 527.4,1351.8 528.0,1343.0 528.7,1351.3 529.3,1346.3 529.9,1354.0 530.5,1360.1 531.2,1331.9 531.8,1342.5 532.4,1343.5 533.0,1332.1 533.6,1365.1 534.3,1376.4 534.9,1367.9 535.5,1355.2 536.1,1351.5 536.7,1336.4 537.4,1337.8 538.0,1345.1 538.6,1353.3 539.2,1345.4 539.9,1345.0 540.5,1354.0 541.1,1352.4 541.7,1353.1 542.3,1347.9 543.0,1352.9 543.6,1342.1 544.2,1346.7 544.8,1358.7 545.5,1357.0 546.1,1354.8 546.7,1334.5 547.3,1340.7 547.9,1350.3 548.6,1349.5 549.2,1358.1 549.8,1365.2 550.4,1372.6 551.0,1354.7 551.7,1353.2 552.3,1348.5 552.9,1350.2 553.5,1352.9 554.2,1351.4 554.8,1350.4 555.4,1345.6 556.0,1358.6 556.6,1352.2 557.3,1366.0 557.9,1362.7 558.5,1345.2 559.1,1343.7 559.7,1349.7 560.4,1354.7 561.0,1355.0 561.6,1348.4 562.2,1346.4 562.9,1351.7 563.5,1344.4 564.1,1335.5 564.7,1336.1 565.3,1344.3 566.0,1357.4 566.6,1347.4 567.2,1342.6 567.8,1345.8 568.4,1351.9 569.1,1361.6 569.7,1357.0 570.3,1347.6 570.9,1317.6 571.6,1336.1 572.2,1367.7 572.8,1353.7 573.4,1344.7 574.0,1363.6 574.7,1348.3 575.3,1330.5 575.9,1357.4 576.5,1361.1 577.1,1365.1 577.8,1357.6 578.4,1352.7 579.0,1334.8 579.6,1353.8 580.3,1356.3 580.9,1349.5 581.5,1343.4 582.1,1340.3 582.7,1360.2 583.4,1349.4 584.0,1352.5 584.6,1361.8 585.2,1356.4 585.8,1347.2 586.5,1352.3 587.1,1352.6 587.7,1339.1 588.3,1342.2 589.0,1355.4 589.6,1351.1 590.2,1343.1 590.8,1346.9 591.4,1346.6 592.1,1348.6 592.7,1350.1 593.3,1352.6 593.9,1349.9 594.5,1338.4 595.2,1350.2 595.8,1356.8 596.4,1359.7 597.0,1354.1 597.7,1343.1 598.3,1361.0 598.9,1352.6 599.5,1371.1 600.1,1357.3 600.8,1359.1 601.4,1363.9 602.0,1359.0 602.6,1352.7 603.2,1357.0 603.9,1350.3 604.5,1343.0 605.1,1345.6 605.7,1348.2 606.4,1348.7 607.0,1360.5 607.6,1341.0 608.2,1368.3 608.8,1360.2 609.5,1349.8 610.1,1363.3 610.7,1354.5 611.3,1346.4 612.0,1341.8 612.6,1345.1 613.2,1328.7 613.8,1336.4 614.4,1337.7 615.1,1332.3 615.7,1339.5 616.3,1340.5 616.9,1353.6 617.5,1360.3 618.2,1348.5 618.8,1358.2 619.4,1371.8 620.0,1338.4 620.7,1361.1 621.3,1355.9 621.9,1344.9 622.5,1340.3 623.1,1348.4 623.8,1356.8 624.4,1340.7 625.0,1331.4 625.6,1336.9 626.2,1351.3 626.9,1357.9 627.5,1349.4 628.1,1350.8 628.7,1351.6 629.4,1359.4 630.0,1342.7 630.6,1343.0 631.2,1331.9 631.8,1335.6 632.5,1336.5 633.1,1332.2 633.7,1358.9 634.3,1348.8 634.9,1336.2 635.6,1355.3 636.2,1353.2 636.8,1362.1 637.4,1332.2 638.1,1335.5 638.7,1332.0 639.3,1338.3 639.9,1341.0 640.5,1335.2 641.2,1333.9 641.8,1363.5 642.4,1348.1 643.0,1345.6 643.6,1349.7 644.3,1338.7 644.9,1340.2 645.5,1358.8 646.1,1361.4 646.8,1353.4 647.4,1356.1 648.0,1348.4 648.6,1350.2 649.2,1350.3 649.9,1347.1 650.5,1361.1 651.1,1360.7 651.7,1357.4 652.3,1353.2 653.0,1357.0 653.6,1359.1 654.2,1347.2 654.8,1345.2 655.5,1352.3 656.1,1352.2 656.7,1346.8 657.3,1342.9 657.9,1339.6 658.6,1352.1 659.2,1346.2 659.8,1346.9 660.4,1345.9 661.0,1355.5 661.7,1346.1 662.3,1352.2 662.9,1351.7 663.5,1333.5 664.2,1331.4 664.8,1341.8 665.4,1347.2 666.0,1351.3 666.6,1341.6 667.3,1359.4 667.9,1360.8 668.5,1362.6 669.1,1360.4 669.8,1353.4 670.4,1355.6 671.0,1354.0 671.6,1336.0 672.2,1347.7 672.9,1339.8 673.5,1358.5 674.1,1359.0 674.7,1353.7 675.3,1356.5 676.0,1343.4 676.6,1348.9 677.2,1356.2 677.8,1351.5 678.5,1344.2 679.1,1344.1 679.7,1357.8 680.3,1340.8 680.9,1344.7 681.6,1357.5 682.2,1327.8 682.8,1352.5 683.4,1341.4 684.0,1361.9 684.7,1333.6 685.3,1341.8 685.9,1350.3 686.5,1356.4 687.2,1339.3 687.8,1343.6 688.4,1352.1 689.0,1361.6 689.6,1351.8 690.3,1340.1 690.9,1358.5 691.5,1344.6 692.1,1354.7 692.7,1354.7 693.4,1354.1 694.0,1352.1 694.6,1338.2 695.2,1337.4 695.9,1345.6 696.5,1349.4 697.1,1341.7 697.7,1343.1 698.3,1349.2 699.0,1349.7 699.6,1341.8 700.2,1348.3 700.8,1337.5 701.4,1355.7 702.1,1357.0 702.7,1346.7 703.3,1342.2 703.9,1351.1 704.6,1348.7 705.2,1348.3 705.8,1361.3 706.4,1358.5 707.0,1357.9 707.7,1339.6 708.3,1333.9 708.9,1344.6 709.5,1339.1 710.1,1337.7 710.8,1338.9 711.4,1330.6 712.0,1334.9 712.6,1336.4 713.3,1343.9 713.9,1343.3 714.5,1344.3 715.1,1351.7 715.7,1348.6 716.4,1337.1 717.0,1337.3 717.6,1357.7 718.2,1357.6 718.8,1352.9 719.5,1333.7 720.1,1366.6 720.7,1350.9 721.3,1349.1 722.0,1347.8 722.6,1350.2 723.2,1351.0 723.8,1357.1 724.4,1345.1 725.1,1359.3 725.7,1353.7 726.3,1359.2 726.9,1338.4 727.5,1349.4 728.2,1345.5 728.8,1343.1 729.4,1339.9 730.0,1355.3 730.7,1351.2 731.3,1347.9 731.9,1355.7 732.5,1347.8 733.1,1352.3 733.8,1354.5 734.4,1344.3 735.0,1341.3 735.6,1364.6 736.3,1356.0 736.9,1358.0 737.5,1353.5 738.1,1355.5 738.7,1359.7 739.4,1353.9 740.0,1362.3 740.6,1360.9 741.2,1351.1 741.8,1347.7 742.5,1343.9 743.1,1335.9 743.7,1340.6 744.3,1345.9 745.0,1353.5 745.6,1358.3 746.2,1348.0 746.8,1340.3 747.4,1334.4 748.1,1349.9 748.7,1357.5 749.3,1342.5 749.9,1345.8 750.5,1336.3 751.2,1346.3 751.8,1337.3 752.4,1345.5 753.0,1338.5 753.7,1324.9 754.3,1339.4 754.9,1343.9 755.5,1324.7 756.1,1347.3 756.8,1343.6 757.4,1344.8 758.0,1362.2 758.6,1352.1 759.2,1338.1 759.9,1350.1 760.5,1338.2 761.1,1345.4 761.7,1337.2 762.4,1371.0 763.0,1351.5 763.6,1349.9 764.2,1348.4 764.8,1353.7 765.5,1351.2 766.1,1353.3 766.7,1337.0 767.3,1343.7 767.9,1349.1 768.6,1337.7 769.2,1350.4 769.8,1348.3 770.4,1349.3 771.1,1356.6 771.7,1371.5 772.3,1355.0 772.9,1350.0 773.5,1347.0 774.2,1344.2 774.8,1354.6 775.4,1357.6 776.0,1339.1 776.6,1349.7 777.3,1343.3 777.9,1344.4 778.5,1356.0 779.1,1357.9 779.8,1346.4 780.4,1355.8 781.0,1353.6 781.6,1352.4 782.2,1355.4 782.9,1364.7 783.5,1360.6 784.1,1341.3 784.7,1348.6 785.3,1336.0 786.0,1337.1 786.6,1348.0 787.2,1346.3 787.8,1341.1 788.5,1351.6 789.1,1358.5 789.7,1353.3 790.3,1357.9 790.9,1342.0 791.6,1342.2 792.2,1348.7 792.8,1341.9 793.4,1357.4 794.1,1353.6 794.7,1351.9 795.3,1359.3 795.9,1347.7 796.5,1340.7 797.2,1320.8 797.8,1324.2 798.4,1342.8 799.0,1330.4 799.6,1337.1 800.3,1338.7 800.9,1340.6 801.5,1355.9 802.1,1344.3 802.8,1336.2 803.4,1349.9 804.0,1347.9 804.6,1348.4 805.2,1352.1 805.9,1351.2 806.5,1359.1 807.1,1342.3 807.7,1339.9 808.3,1337.1 809.0,1349.7 809.6,1333.1 810.2,1349.0 810.8,1341.8 811.5,1353.1 812.1,1353.8 812.7,1344.7 813.3,1341.7 813.9,1348.7 814.6,1347.0 815.2,1361.8 815.8,1350.0 816.4,1345.2 817.0,1335.9 817.7,1346.4 818.3,1332.4 818.9,1333.8 819.5,1331.3 820.2,1332.5 820.8,1345.3 821.4,1345.8 822.0,1349.7 822.6,1352.1 823.3,1346.2 823.9,1334.9 824.5,1336.6 825.1,1349.5 825.7,1343.1 826.4,1334.5 827.0,1350.9 827.6,1339.4 828.2,1335.3 828.9,1330.2 829.5,1347.6 830.1,1352.8 830.7,1356.3 831.3,1347.9 832.0,1355.6 832.6,1351.8 833.2,1340.5 833.8,1348.6 834.4,1358.6 835.1,1345.4 835.7,1341.9 836.3,1339.8 836.9,1334.0 837.6,1330.1 838.2,1342.9 838.8,1333.6 839.4,1333.6 840.0,1333.7 840.7,1344.5 841.3,1336.6 841.9,1344.5 842.5,1336.8 843.1,1338.1 843.8,1350.5 844.4,1354.9 845.0,1352.1 845.6,1334.8 846.3,1332.7 846.9,1353.7 847.5,1337.9 848.1,1340.4 848.7,1330.5 849.4,1342.8 850.0,1353.0 850.6,1357.0 851.2,1338.7 851.9,1343.2 852.5,1342.3 853.1,1350.9 853.7,1333.2 854.3,1348.7 855.0,1352.0 855.6,1352.3 856.2,1359.7 856.8,1350.2 857.4,1335.5 858.1,1337.6 858.7,1338.9 859.3,1333.8 859.9,1355.7 860.6,1343.3 861.2,1330.2 861.8,1341.9 862.4,1331.2 863.0,1350.0 863.7,1340.5 864.3,1343.3 864.9,1354.7 865.5,1337.3 866.1,1348.1 866.8,1338.1 867.4,1336.7 868.0,1329.3 868.6,1348.1 869.3,1346.1 869.9,1349.7 870.5,1320.6 871.1,1341.1 871.7,1350.0 872.4,1348.7 873.0,1336.2 873.6,1338.1 874.2,1339.4 874.8,1359.5 875.5,1361.7 876.1,1344.3 876.7,1337.5 877.3,1339.7 878.0,1341.7 878.6,1342.7 879.2,1361.9 879.8,1359.7 880.4,1352.6 881.1,1346.0 881.7,1342.9 882.3,1351.4 882.9,1369.4 883.5,1342.9 884.2,1355.7 884.8,1339.8 885.4,1344.4 886.0,1349.4 886.7,1347.2 887.3,1353.7 887.9,1344.5 888.5,1350.6 889.1,1345.3 889.8,1343.4 890.4,1342.3 891.0,1336.7 891.6,1327.3 892.2,1337.4 892.9,1335.7 893.5,1321.0 894.1,1352.3 894.7,1345.9 895.4,1339.8 896.0,1351.6 896.6,1354.3 897.2,1343.7 897.8,1353.3 898.5,1333.3 899.1,1357.0 899.7,1344.4 900.3,1336.4 900.9,1349.9 901.6,1366.3 902.2,1359.4 902.8,1352.0 903.4,1332.2 904.1,1338.1 904.7,1346.4 905.3,1350.9 905.9,1356.4 906.5,1353.9 907.2,1347.0 907.8,1349.1 908.4,1362.3 909.0,1353.6 909.6,1334.6 910.3,1352.7 910.9,1353.7 911.5,1356.4 912.1,1352.0 912.8,1354.6 913.4,1347.0 914.0,1350.7 914.6,1347.0 915.2,1330.0 915.9,1363.4 916.5,1358.2 917.1,1341.1 917.7,1341.4 918.4,1354.4 919.0,1366.3 919.6,1373.9 920.2,1348.9 920.8,1351.7 921.5,1345.7 922.1,1341.6 922.7,1345.1 923.3,1347.5 923.9,1333.0 924.6,1344.2 925.2,1338.3 925.8,1332.0 926.4,1343.6 927.1,1353.7 927.7,1335.5 928.3,1338.6 928.9,1339.7 929.5,1351.2 930.2,1369.2 930.8,1352.1 931.4,1353.1 932.0,1355.1 932.6,1343.0 933.3,1338.8 933.9,1344.8 934.5,1352.6 935.1,1346.2 935.8,1340.8 936.4,1323.9 937.0,1324.3 937.6,1341.1 938.2,1343.2 938.9,1360.7 939.5,1346.4 940.1,1349.2 940.7,1339.2 941.3,1353.5 942.0,1370.4 942.6,1346.5 943.2,1351.1 943.8,1328.5 944.5,1318.3 945.1,1331.8 945.7,1307.5 946.3,1322.0 946.9,1343.6 947.6,1313.4 948.2,1320.4 948.8,1336.8 949.4,1352.1 950.0,1347.3 950.7,1351.8 951.3,1356.2 951.9,1364.2 952.5,1345.9 953.2,1342.8 953.8,1350.8 954.4,1328.5 955.0,1354.0 955.6,1351.6 956.3,1331.6 956.9,1338.9 957.5,1341.0 958.1,1329.4 958.7,1341.9 959.4,1332.9 960.0,1338.2 960.6,1364.4 961.2,1345.2 961.9,1360.4 962.5,1347.8 963.1,1355.8 963.7,1338.8 964.3,1354.6 965.0,1341.8 965.6,1332.0 966.2,1339.4 966.8,1352.5 967.4,1346.1 968.1,1351.1 968.7,1347.4 969.3,1326.9 969.9,1338.9 970.6,1329.0 971.2,1316.0 971.8,1331.0 972.4,1337.2 973.0,1351.9 973.7,1352.1 974.3,1345.5 974.9,1355.1 975.5,1361.8 976.1,1346.5 976.8,1341.7 977.4,1334.4 978.0,1351.0 978.6,1335.0 979.3,1353.4 979.9,1352.8 980.5,1356.9 981.1,1352.3 981.7,1345.9 982.4,1345.1 983.0,1336.9 983.6,1341.5 984.2,1337.9 984.9,1332.3 985.5,1341.0 986.1,1340.8 986.7,1351.7 987.3,1351.2 988.0,1341.3 988.6,1349.7 989.2,1361.4 989.8,1360.6 990.4,1353.0 991.1,1345.4 991.7,1353.6 992.3,1339.8 992.9,1354.4 993.6,1353.5 994.2,1344.0 994.8,1332.2 995.4,1353.4 996.0,1359.0 996.7,1349.7 997.3,1358.3 997.9,1348.7 998.5,1338.4 999.1,1342.3 999.8,1339.1 1000.4,1331.0 1001.0,1348.6 1001.6,1352.8 1002.3,1359.9 1002.9,1347.0 1003.5,1338.0 1004.1,1338.0 1004.7,1327.3 1005.4,1358.7 1006.0,1344.8 1006.6,1349.3 1007.2,1351.4 1007.8,1347.7 1008.5,1348.4 1009.1,1338.3 1009.7,1341.8 1010.3,1362.0 1011.0,1357.2 1011.6,1350.3 1012.2,1322.4 1012.8,1331.4 1013.4,1349.0 1014.1,1344.2 1014.7,1318.6 1015.3,1350.5 1015.9,1347.3 1016.5,1347.2 1017.2,1348.7 1017.8,1345.9 1018.4,1327.3 1019.0,1344.7 1019.7,1351.2 1020.3,1344.8 1020.9,1352.9 1021.5,1338.3 1022.1,1344.9 1022.8,1348.6 1023.4,1349.3 1024.0,1339.7 1024.6,1345.7 1025.2,1333.0 1025.9,1353.6 1026.5,1341.1 1027.1,1335.7 1027.7,1361.8 1028.4,1347.0 1029.0,1339.8 1029.6,1344.0 1030.2,1352.3 1030.8,1341.0 1031.5,1343.7 1032.1,1345.6 1032.7,1339.3 1033.3,1345.2 1033.9,1334.9 1034.6,1366.5 1035.2,1325.2 1035.8,1340.0 1036.4,1356.4 1037.1,1347.1 1037.7,1342.9 1038.3,1339.1 1038.9,1356.2 1039.5,1348.2 1040.2,1335.3 1040.8,1354.8 1041.4,1344.1 1042.0,1359.3 1042.7,1347.0 1043.3,1349.4 1043.9,1348.6 1044.5,1344.4 1045.1,1338.8 1045.8,1352.6 1046.4,1350.9 1047.0,1350.6 1047.6,1334.8 1048.2,1346.2 1048.9,1355.3 1049.5,1353.1 1050.1,1350.4 1050.7,1346.0 1051.4,1349.3 1052.0,1342.4 1052.6,1340.4 1053.2,1341.7 1053.8,1346.6 1054.5,1342.6 1055.1,1326.8 1055.7,1351.0 1056.3,1349.8 1056.9,1344.9 1057.6,1364.2 1058.2,1354.0 1058.8,1348.3 1059.4,1353.1 1060.1,1361.8 1060.7,1342.2 1061.3,1347.4 1061.9,1356.8 1062.5,1345.8 1063.2,1341.0 1063.8,1337.6 1064.4,1339.5 1065.0,1339.4 1065.6,1343.7 1066.3,1323.4 1066.9,1310.6 1067.5,1316.4 1068.1,1339.7 1068.8,1318.6 1069.4,1304.7 1070.0,1326.4 1070.6,1350.4 1071.2,1334.0 1071.9,1337.3 1072.5,1337.9 1073.1,1332.5 1073.7,1354.8 1074.3,1348.0 1075.0,1346.1 1075.6,1355.1 1076.2,1335.2 1076.8,1347.5 1077.5,1338.7 1078.1,1341.4 1078.7,1313.3 1079.3,1336.2 1079.9,1340.5 1080.6,1325.1 1081.2,1336.1 1081.8,1348.3 1082.4,1343.7 1083.0,1325.9 1083.7,1338.4 1084.3,1337.3 1084.9,1341.1 1085.5,1345.6 1086.2,1336.0 1086.8,1342.2 1087.4,1354.4 1088.0,1349.3 1088.6,1347.5 1089.3,1354.8 1089.9,1353.0 1090.5,1359.2 1091.1,1347.7 1091.7,1359.0 1092.4,1361.1 1093.0,1357.7 1093.6,1331.3 1094.2,1336.6 1094.9,1311.8 1095.5,1329.4 1096.1,1324.0 1096.7,1329.8 1097.3,1332.9 1098.0,1339.4 1098.6,1350.0 1099.2,1323.6 1099.8,1323.1 1100.5,1326.3 1101.1,1344.4 1101.7,1349.0 1102.3,1360.2 1102.9,1324.4 1103.6,1320.0 1104.2,1342.5 1104.8,1331.2 1105.4,1342.1 1106.0,1360.1 1106.7,1341.9 1107.3,1357.3 1107.9,1352.2 1108.5,1359.8 1109.2,1342.1 1109.8,1340.9 1110.4,1333.4 1111.0,1350.5 1111.6,1349.0 1112.3,1342.8 1112.9,1328.0 1113.5,1360.7 1114.1,1345.2 1114.7,1335.5 1115.4,1339.8 1116.0,1355.9 1116.6,1341.3 1117.2,1329.4 1117.9,1340.7 1118.5,1345.1 1119.1,1343.8 1119.7,1350.2 1120.3,1348.3 1121.0,1337.8 1121.6,1334.4 1122.2,1342.9 1122.8,1346.1 1123.4,1355.1 1124.1,1344.5 1124.7,1332.3 1125.3,1337.2 1125.9,1326.1 1126.6,1319.9 1127.2,1334.3 1127.8,1348.4 1128.4,1363.5 1129.0,1351.3 1129.7,1341.0 1130.3,1341.5 1130.9,1334.4 1131.5,1334.6 1132.1,1328.2 1132.8,1355.0 1133.4,1344.0 1134.0,1352.9 1134.6,1337.7 1135.3,1335.0 1135.9,1343.1 1136.5,1351.7 1137.1,1322.1 1137.7,1327.4 1138.4,1344.7 1139.0,1334.7 1139.6,1320.6 1140.2,1357.3 1140.8,1333.0 1141.5,1357.8 1142.1,1345.8 1142.7,1346.7 1143.3,1351.3 1144.0,1321.3 1144.6,1328.5 1145.2,1339.8 1145.8,1343.0 1146.4,1328.4 1147.1,1328.0 1147.7,1338.1 1148.3,1328.8 1148.9,1346.6 1149.5,1330.0 1150.2,1332.0 1150.8,1317.3 1151.4,1342.4 1152.0,1332.7 1152.7,1346.0 1153.3,1352.9 1153.9,1357.6 1154.5,1343.1 1155.1,1337.7 1155.8,1352.5 1156.4,1345.2 1157.0,1349.1 1157.6,1348.4 1158.2,1356.2 1158.9,1349.2 1159.5,1343.1 1160.1,1350.3 1160.7,1347.7 1161.4,1352.0 1162.0,1341.4 1162.6,1333.5 1163.2,1340.1 1163.8,1353.0 1164.5,1320.4 1165.1,1349.0 1165.7,1332.9 1166.3,1360.4 1167.0,1342.9 1167.6,1352.7 1168.2,1338.2 1168.8,1340.4 1169.4,1339.1 1170.1,1333.3 1170.7,1347.7 1171.3,1346.4 1171.9,1341.6 1172.5,1344.0 1173.2,1344.1 1173.8,1350.4 1174.4,1345.3 1175.0,1346.8 1175.7,1330.9 1176.3,1337.3 1176.9,1348.7 1177.5,1346.0 1178.1,1347.9 1178.8,1352.7 1179.4,1352.1 1180.0,1351.3 1180.6,1342.1 1181.2,1346.3 1181.9,1341.0 1182.5,1347.9 1183.1,1338.7 1183.7,1352.9 1184.4,1348.4 1185.0,1340.9 1185.6,1356.8 1186.2,1343.6 1186.8,1326.4 1187.5,1318.5 1188.1,1331.3 1188.7,1333.9 1189.3,1339.0 1189.9,1354.9 1190.6,1359.3 1191.2,1356.6 1191.8,1345.3 1192.4,1345.8 1193.1,1340.8 1193.7,1352.9 1194.3,1327.9 1194.9,1352.1 1195.5,1365.7 1196.2,1357.3 1196.8,1342.8 1197.4,1332.9 1198.0,1331.4 1198.6,1333.1 1199.3,1323.7 1199.9,1339.8 1200.5,1326.2 1201.1,1313.3 1201.8,1333.1 1202.4,1324.2 1203.0,1348.5 1203.6,1340.4 1204.2,1352.8 1204.9,1334.1 1205.5,1335.7 1206.1,1346.3 1206.7,1326.8 1207.3,1353.6 1208.0,1338.6 1208.6,1340.7 1209.2,1347.7 1209.8,1349.9 1210.5,1352.1 1211.1,1344.9 1211.7,1347.3 1212.3,1350.2 1212.9,1340.7 1213.6,1336.6 1214.2,1348.9 1214.8,1337.0 1215.4,1362.2 1216.0,1347.7 1216.7,1352.5 1217.3,1357.0 1217.9,1355.7 1218.5,1354.6 1219.2,1355.7 1219.8,1353.3 1220.4,1349.2 1221.0,1342.0 1221.6,1328.5 1222.3,1353.5 1222.9,1339.7 1223.5,1334.6 1224.1,1336.8 1224.7,1329.8 1225.4,1326.7 1226.0,1331.0 1226.6,1347.3 1227.2,1334.4 1227.9,1351.9 1228.5,1330.9 1229.1,1345.5 1229.7,1351.1 1230.3,1346.5 1231.0,1342.1 1231.6,1345.2 1232.2,1343.2 1232.8,1346.2 1233.5,1361.2 1234.1,1344.0 1234.7,1361.3 1235.3,1350.5 1235.9,1345.7 1236.6,1342.2 1237.2,1329.6 1237.8,1348.8 1238.4,1346.6 1239.0,1350.7 1239.7,1330.5 1240.3,1333.4 1240.9,1356.6 1241.5,1334.2 1242.2,1328.4 1242.8,1323.1 1243.4,1329.4 1244.0,1344.7 1244.6,1327.0 1245.3,1324.5 1245.9,1336.4 1246.5,1349.4 1247.1,1337.5 1247.7,1337.2 1248.4,1326.0 1249.0,1351.2 1249.6,1333.9 1250.2,1342.3 1250.9,1348.8 1251.5,1335.3 1252.1,1327.9 1252.7,1330.0 1253.3,1341.2 1254.0,1332.5 1254.6,1344.6 1255.2,1345.9 1255.8,1329.0 1256.4,1329.8 1257.1,1316.6 1257.7,1322.3 1258.3,1326.1 1258.9,1335.5 1259.6,1340.9 1260.2,1342.7 1260.8,1329.9 1261.4,1337.8 1262.0,1351.4 1262.7,1354.3 1263.3,1340.0 1263.9,1337.7 1264.5,1358.9 1265.1,1339.8 1265.8,1331.6 1266.4,1326.4 1267.0,1319.1 1267.6,1329.7 1268.3,1318.2 1268.9,1330.4 1269.5,1331.5 1270.1,1338.8 1270.7,1326.8 1271.4,1333.6 1272.0,1334.4 1272.6,1340.0 1273.2,1330.8 1273.8,1352.7 1274.5,1340.5 1275.1,1333.4 1275.7,1335.6 1276.3,1345.6 1277.0,1336.7 1277.6,1321.5 1278.2,1324.2 1278.8,1340.4 1279.4,1341.6 1280.1,1343.9 1280.7,1341.9 1281.3,1341.3 1281.9,1353.0 1282.5,1363.1 1283.2,1337.6 1283.8,1336.6 1284.4,1346.3 1285.0,1343.1 1285.7,1344.3 1286.3,1336.0 1286.9,1343.4 1287.5,1349.3 1288.1,1356.4 1288.8,1352.1 1289.4,1351.5 1290.0,1339.7 1290.6,1340.6 1291.3,1349.6 1291.9,1345.3 1292.5,1330.4 1293.1,1340.7 1293.7,1352.7 1294.4,1367.2 1295.0,1345.7 1295.6,1342.5 1296.2,1338.0 1296.8,1344.9 1297.5,1341.0 1298.1,1342.9 1298.7,1331.8 1299.3,1326.6 1300.0,1329.5 1300.6,1330.7 1301.2,1338.2 1301.8,1345.8 1302.4,1367.6 1303.1,1362.6 1303.7,1346.5 1304.3,1334.1 1304.9,1332.0 1305.5,1345.5 1306.2,1335.8 1306.8,1337.6 1307.4,1349.4 1308.0,1341.6 1308.7,1335.4 1309.3,1341.3 1309.9,1334.0 1310.5,1335.6 1311.1,1317.9 1311.8,1331.4 1312.4,1336.6 1313.0,1343.5 1313.6,1352.3 1314.2,1333.6 1314.9,1327.3 1315.5,1328.2 1316.1,1340.7 1316.7,1332.0 1317.4,1311.4 1318.0,1330.2 1318.6,1352.2 1319.2,1333.3 1319.8,1337.0 1320.5,1333.0 1321.1,1315.6 1321.7,1316.0 1322.3,1332.4 1322.9,1324.7 1323.6,1352.7 1324.2,1351.5 1324.8,1362.9 1325.4,1352.6 1326.1,1337.5 1326.7,1334.8 1327.3,1339.7 1327.9,1346.5 1328.5,1332.7 1329.2,1347.1 1329.8,1336.2 1330.4,1347.4 1331.0,1320.0 1331.6,1336.7 1332.3,1346.8 1332.9,1357.7 1333.5,1344.4 1334.1,1360.1 1334.8,1345.8 1335.4,1339.3 1336.0,1330.7 1336.6,1324.8 1337.2,1360.6 1337.9,1345.9 1338.5,1352.6 1339.1,1318.9 1339.7,1325.7 1340.3,1324.6 1341.0,1333.9 1341.6,1343.6 1342.2,1344.0 1342.8,1331.9 1343.5,1353.7 1344.1,1354.8 1344.7,1342.9 1345.3,1333.7 1345.9,1352.7 1346.6,1341.8 1347.2,1338.3 1347.8,1316.4 1348.4,1351.3 1349.1,1332.3 1349.7,1334.7 1350.3,1336.0 1350.9,1327.0 1351.5,1323.3 1352.2,1325.5 1352.8,1354.2 1353.4,1354.1 1354.0,1345.4 1354.6,1348.3 1355.3,1324.0 1355.9,1324.7 1356.5,1317.7 1357.1,1346.8 1357.8,1331.0 1358.4,1328.9 1359.0,1324.3 1359.6,1334.9 1360.2,1336.3 1360.9,1331.8 1361.5,1348.3 1362.1,1327.1 1362.7,1337.4 1363.3,1336.5 1364.0,1344.9 1364.6,1339.4 1365.2,1342.5 1365.8,1340.7 1366.5,1331.4 1367.1,1320.1 1367.7,1315.9 1368.3,1312.0 1368.9,1320.4 1369.6,1328.0 1370.2,1342.0 1370.8,1331.2 1371.4,1338.8 1372.0,1342.4 1372.7,1344.4 1373.3,1342.5 1373.9,1303.3 1374.5,1310.7 1375.2,1324.3 1375.8,1328.1 1376.4,1332.6 1377.0,1351.4 1377.6,1347.3 1378.3,1335.2 1378.9,1328.9 1379.5,1325.3 1380.1,1325.5 1380.7,1334.2 1381.4,1329.2 1382.0,1328.1 1382.6,1321.8 1383.2,1339.6 1383.9,1312.3 1384.5,1319.8 1385.1,1310.2 1385.7,1346.4 1386.3,1350.6 1387.0,1339.6 1387.6,1346.4 1388.2,1336.7 1388.8,1330.6 1389.4,1341.2 1390.1,1327.8 1390.7,1330.2 1391.3,1350.1 1391.9,1346.2 1392.6,1312.2 1393.2,1354.9 1393.8,1331.0 1394.4,1338.1 1395.0,1334.9 1395.7,1332.7 1396.3,1334.2 1396.9,1329.6 1397.5,1328.4 1398.1,1341.5 1398.8,1321.2 1399.4,1342.2 1400.0,1334.5 1400.6,1322.1 1401.3,1301.2 1401.9,1296.8 1402.5,1334.5 1403.1,1313.9 1403.7,1315.5 1404.4,1323.7 1405.0,1330.8 1405.6,1337.1 1406.2,1323.6 1406.8,1345.9 1407.5,1323.6 1408.1,1326.9 1408.7,1331.2 1409.3,1350.0 1410.0,1330.1 1410.6,1343.3 1411.2,1333.0 1411.8,1356.9 1412.4,1334.4 1413.1,1341.9 1413.7,1334.0 1414.3,1324.5 1414.9,1330.7 1415.6,1337.6 1416.2,1333.0 1416.8,1329.0 1417.4,1341.7 1418.0,1328.2 1418.7,1330.8 1419.3,1325.9 1419.9,1339.7 1420.5,1324.0 1421.1,1329.5 1421.8,1342.9 1422.4,1334.0 1423.0,1330.7 1423.6,1342.9 1424.3,1337.5 1424.9,1343.5 1425.5,1330.8 1426.1,1335.8 1426.7,1345.5 1427.4,1345.9 1428.0,1317.8 1428.6,1325.0 1429.2,1329.7 1429.8,1360.9 1430.5,1352.0 1431.1,1342.5 1431.7,1327.1 1432.3,1342.3 1433.0,1336.0 1433.6,1342.9 1434.2,1343.3 1434.8,1337.4 1435.4,1333.1 1436.1,1330.1 1436.7,1337.7 1437.3,1350.3 1437.9,1338.5 1438.5,1348.1 1439.2,1331.4 1439.8,1347.1 1440.4,1333.9 1441.0,1324.1 1441.7,1337.4 1442.3,1335.7 1442.9,1329.2 1443.5,1329.9 1444.1,1348.2 1444.8,1337.5 1445.4,1331.8 1446.0,1350.3 1446.6,1332.7 1447.2,1343.9 1447.9,1343.5 1448.5,1323.8 1449.1,1316.0 1449.7,1329.2 1450.4,1333.6 1451.0,1320.0 1451.6,1327.5 1452.2,1325.7 1452.8,1340.4 1453.5,1343.0 1454.1,1323.8 1454.7,1342.1 1455.3,1344.7 1455.9,1348.5 1456.6,1336.3 1457.2,1335.3 1457.8,1328.8 1458.4,1313.8 1459.1,1335.3 1459.7,1329.1 1460.3,1343.5 1460.9,1343.4 1461.5,1338.9 1462.2,1333.3 1462.8,1351.5 1463.4,1342.9 1464.0,1339.2 1464.6,1312.2 1465.3,1315.8 1465.9,1341.9 1466.5,1321.3 1467.1,1305.1 1467.8,1312.7 1468.4,1319.6 1469.0,1338.4 1469.6,1335.8 1470.2,1328.6 1470.9,1344.1 1471.5,1343.0 1472.1,1325.1 1472.7,1341.0 1473.4,1326.4 1474.0,1348.3 1474.6,1335.1 1475.2,1328.5 1475.8,1342.4 1476.5,1330.7 1477.1,1335.8 1477.7,1338.9 1478.3,1337.5 1478.9,1332.9 1479.6,1344.4 1480.2,1315.7 1480.8,1333.8 1481.4,1335.7 1482.1,1335.7 1482.7,1328.7 1483.3,1336.4 1483.9,1324.4 1484.5,1330.5 1485.2,1345.5 1485.8,1331.8 1486.4,1345.9 1487.0,1328.4 1487.6,1337.3 1488.3,1349.3 1488.9,1323.3 1489.5,1321.9 1490.1,1334.1 1490.8,1324.3 1491.4,1328.6 1492.0,1313.4 1492.6,1321.7 1493.2,1313.4 1493.9,1329.0 1494.5,1325.9 1495.1,1327.2 1495.7,1334.0 1496.3,1322.2 1497.0,1322.6 1497.6,1339.4 1498.2,1341.6 1498.8,1324.3 1499.5,1357.3 1500.1,1347.2 1500.7,1342.3 1501.3,1331.7 1501.9,1351.8 1502.6,1352.3 1503.2,1338.6 1503.8,1348.5 1504.4,1350.2 1505.0,1356.1 1505.7,1346.5 1506.3,1344.6 1506.9,1344.1 1507.5,1328.8 1508.2,1334.0 1508.8,1336.0 1509.4,1324.2 1510.0,1351.0 1510.6,1344.5 1511.3,1331.1 1511.9,1352.8 1512.5,1335.0 1513.1,1306.4 1513.7,1326.5 1514.4,1324.6 1515.0,1342.7 1515.6,1330.1 1516.2,1331.9 1516.9,1337.0 1517.5,1319.0 1517.5,1448.3 1516.9,1439.2 1516.2,1426.4 1515.6,1464.3 1515.0,1459.9 1514.4,1444.4 1513.7,1444.3 1513.1,1472.6 1512.5,1458.3 1511.9,1460.2 1511.3,1493.1 1510.6,1465.8 1510.0,1447.5 1509.4,1453.5 1508.8,1436.9 1508.2,1435.0 1507.5,1440.5 1506.9,1455.8 1506.3,1446.6 1505.7,1457.6 1505.0,1439.2 1504.4,1447.0 1503.8,1457.3 1503.2,1461.3 1502.6,1440.3 1501.9,1442.2 1501.3,1439.0 1500.7,1451.8 1500.1,1462.5 1499.5,1448.7 1498.8,1453.4 1498.2,1472.2 1497.6,1446.5 1497.0,1459.5 1496.3,1441.7 1495.7,1445.1 1495.1,1441.7 1494.5,1444.8 1493.9,1452.7 1493.2,1464.1 1492.6,1454.8 1492.0,1454.1 1491.4,1433.2 1490.8,1448.1 1490.1,1440.2 1489.5,1448.8 1488.9,1447.3 1488.3,1451.5 1487.6,1446.9 1487.0,1450.4 1486.4,1448.6 1485.8,1428.9 1485.2,1446.4 1484.5,1467.1 1483.9,1446.1 1483.3,1450.8 1482.7,1419.2 1482.1,1427.3 1481.4,1446.8 1480.8,1471.2 1480.2,1437.1 1479.6,1427.2 1478.9,1443.0 1478.3,1456.6 1477.7,1450.4 1477.1,1453.1 1476.5,1457.4 1475.8,1434.0 1475.2,1456.9 1474.6,1438.4 1474.0,1438.6 1473.4,1448.2 1472.7,1445.7 1472.1,1444.1 1471.5,1451.9 1470.9,1438.1 1470.2,1441.0 1469.6,1450.3 1469.0,1452.7 1468.4,1462.2 1467.8,1447.2 1467.1,1452.1 1466.5,1452.5 1465.9,1480.1 1465.3,1476.1 1464.6,1442.8 1464.0,1440.5 1463.4,1434.1 1462.8,1429.7 1462.2,1438.4 1461.5,1436.4 1460.9,1439.8 1460.3,1438.0 1459.7,1435.9 1459.1,1451.3 1458.4,1446.6 1457.8,1443.9 1457.2,1455.4 1456.6,1418.7 1455.9,1423.7 1455.3,1442.0 1454.7,1449.5 1454.1,1437.4 1453.5,1453.1 1452.8,1444.3 1452.2,1477.9 1451.6,1457.6 1451.0,1446.1 1450.4,1440.3 1449.7,1437.7 1449.1,1455.5 1448.5,1456.3 1447.9,1436.4 1447.2,1447.1 1446.6,1455.1 1446.0,1447.5 1445.4,1452.6 1444.8,1447.4 1444.1,1454.6 1443.5,1458.6 1442.9,1458.3 1442.3,1470.7 1441.7,1466.9 1441.0,1473.2 1440.4,1461.8 1439.8,1456.8 1439.2,1458.5 1438.5,1451.4 1437.9,1444.9 1437.3,1436.5 1436.7,1445.2 1436.1,1445.0 1435.4,1450.7 1434.8,1454.2 1434.2,1445.1 1433.6,1425.4 1433.0,1455.5 1432.3,1441.9 1431.7,1453.0 1431.1,1441.5 1430.5,1426.4 1429.8,1454.9 1429.2,1442.3 1428.6,1449.4 1428.0,1459.2 1427.4,1440.3 1426.7,1455.8 1426.1,1436.0 1425.5,1451.3 1424.9,1457.0 1424.3,1450.7 1423.6,1426.9 1423.0,1461.0 1422.4,1453.6 1421.8,1448.1 1421.1,1447.1 1420.5,1460.5 1419.9,1424.3 1419.3,1439.8 1418.7,1449.9 1418.0,1437.8 1417.4,1426.7 1416.8,1430.3 1416.2,1444.3 1415.6,1455.8 1414.9,1456.3 1414.3,1458.8 1413.7,1446.5 1413.1,1448.2 1412.4,1446.8 1411.8,1426.7 1411.2,1423.5 1410.6,1415.2 1410.0,1454.4 1409.3,1434.1 1408.7,1443.1 1408.1,1451.7 1407.5,1448.7 1406.8,1438.5 1406.2,1467.0 1405.6,1475.9 1405.0,1471.4 1404.4,1430.6 1403.7,1442.7 1403.1,1480.5 1402.5,1474.3 1401.9,1478.4 1401.3,1460.3 1400.6,1459.1 1400.0,1464.8 1399.4,1447.4 1398.8,1480.1 1398.1,1458.3 1397.5,1462.0 1396.9,1432.2 1396.3,1450.9 1395.7,1463.5 1395.0,1465.5 1394.4,1430.6 1393.8,1426.7 1393.2,1428.6 1392.6,1454.1 1391.9,1452.3 1391.3,1449.7 1390.7,1461.9 1390.1,1462.3 1389.4,1438.9 1388.8,1446.6 1388.2,1465.3 1387.6,1478.5 1387.0,1457.3 1386.3,1436.5 1385.7,1430.1 1385.1,1463.4 1384.5,1454.0 1383.9,1465.4 1383.2,1461.7 1382.6,1463.9 1382.0,1433.5 1381.4,1429.6 1380.7,1455.3 1380.1,1445.7 1379.5,1446.0 1378.9,1450.1 1378.3,1442.3 1377.6,1461.4 1377.0,1437.7 1376.4,1416.0 1375.8,1435.9 1375.2,1451.1 1374.5,1456.8 1373.9,1466.5 1373.3,1457.0 1372.7,1450.5 1372.0,1461.3 1371.4,1451.7 1370.8,1428.4 1370.2,1437.3 1369.6,1452.9 1368.9,1439.3 1368.3,1466.4 1367.7,1477.0 1367.1,1466.1 1366.5,1450.5 1365.8,1464.5 1365.2,1464.3 1364.6,1432.1 1364.0,1438.2 1363.3,1438.8 1362.7,1439.2 1362.1,1441.5 1361.5,1445.3 1360.9,1460.6 1360.2,1448.3 1359.6,1453.4 1359.0,1436.4 1358.4,1455.6 1357.8,1448.1 1357.1,1470.8 1356.5,1450.9 1355.9,1453.5 1355.3,1435.4 1354.6,1433.5 1354.0,1452.5 1353.4,1447.8 1352.8,1443.3 1352.2,1452.5 1351.5,1474.3 1350.9,1455.0 1350.3,1444.3 1349.7,1444.7 1349.1,1444.2 1348.4,1436.6 1347.8,1462.0 1347.2,1445.5 1346.6,1448.3 1345.9,1444.5 1345.3,1438.7 1344.7,1451.3 1344.1,1423.1 1343.5,1430.6 1342.8,1443.2 1342.2,1442.8 1341.6,1475.8 1341.0,1444.0 1340.3,1457.9 1339.7,1459.5 1339.1,1443.4 1338.5,1435.1 1337.9,1458.8 1337.2,1450.1 1336.6,1446.3 1336.0,1452.2 1335.4,1434.1 1334.8,1450.0 1334.1,1436.6 1333.5,1435.0 1332.9,1452.9 1332.3,1433.4 1331.6,1439.2 1331.0,1435.9 1330.4,1440.5 1329.8,1440.7 1329.2,1424.4 1328.5,1428.1 1327.9,1423.9 1327.3,1435.3 1326.7,1453.4 1326.1,1469.5 1325.4,1452.3 1324.8,1433.5 1324.2,1424.3 1323.6,1441.5 1322.9,1446.1 1322.3,1427.6 1321.7,1443.3 1321.1,1457.2 1320.5,1434.8 1319.8,1456.9 1319.2,1438.2 1318.6,1421.4 1318.0,1429.6 1317.4,1449.9 1316.7,1428.9 1316.1,1451.5 1315.5,1446.6 1314.9,1431.2 1314.2,1432.8 1313.6,1430.7 1313.0,1426.3 1312.4,1446.3 1311.8,1441.5 1311.1,1439.8 1310.5,1429.8 1309.9,1434.7 1309.3,1443.7 1308.7,1445.6 1308.0,1432.5 1307.4,1453.3 1306.8,1447.2 1306.2,1465.9 1305.5,1448.1 1304.9,1430.2 1304.3,1426.8 1303.7,1437.7 1303.1,1425.7 1302.4,1440.4 1301.8,1429.6 1301.2,1440.2 1300.6,1466.6 1300.0,1452.3 1299.3,1467.3 1298.7,1447.5 1298.1,1440.0 1297.5,1453.6 1296.8,1442.9 1296.2,1444.7 1295.6,1443.3 1295.0,1428.9 1294.4,1428.9 1293.7,1424.7 1293.1,1440.1 1292.5,1425.5 1291.9,1430.9 1291.3,1434.4 1290.6,1453.6 1290.0,1447.9 1289.4,1445.8 1288.8,1436.8 1288.1,1441.7 1287.5,1418.5 1286.9,1449.6 1286.3,1433.0 1285.7,1428.5 1285.0,1448.5 1284.4,1446.9 1283.8,1448.4 1283.2,1438.2 1282.5,1421.5 1281.9,1420.4 1281.3,1442.4 1280.7,1434.2 1280.1,1434.8 1279.4,1448.2 1278.8,1445.8 1278.2,1450.3 1277.6,1427.9 1277.0,1432.9 1276.3,1430.0 1275.7,1459.2 1275.1,1455.4 1274.5,1444.7 1273.8,1444.9 1273.2,1440.1 1272.6,1437.0 1272.0,1452.4 1271.4,1454.4 1270.7,1455.7 1270.1,1422.2 1269.5,1472.2 1268.9,1451.1 1268.3,1454.4 1267.6,1439.6 1267.0,1439.3 1266.4,1463.8 1265.8,1445.1 1265.1,1434.5 1264.5,1426.6 1263.9,1427.2 1263.3,1424.9 1262.7,1424.9 1262.0,1439.6 1261.4,1435.7 1260.8,1446.6 1260.2,1423.6 1259.6,1450.2 1258.9,1452.9 1258.3,1464.6 1257.7,1474.6 1257.1,1446.6 1256.4,1430.3 1255.8,1451.8 1255.2,1433.9 1254.6,1433.1 1254.0,1437.3 1253.3,1456.3 1252.7,1460.3 1252.1,1456.2 1251.5,1457.1 1250.9,1427.2 1250.2,1436.4 1249.6,1455.4 1249.0,1451.1 1248.4,1438.8 1247.7,1454.2 1247.1,1443.7 1246.5,1427.7 1245.9,1440.9 1245.3,1432.6 1244.6,1449.1 1244.0,1449.2 1243.4,1457.8 1242.8,1442.8 1242.2,1448.1 1241.5,1430.1 1240.9,1451.0 1240.3,1461.5 1239.7,1463.8 1239.0,1431.6 1238.4,1414.4 1237.8,1429.9 1237.2,1447.8 1236.6,1441.1 1235.9,1423.9 1235.3,1427.5 1234.7,1424.1 1234.1,1431.9 1233.5,1434.1 1232.8,1433.6 1232.2,1441.0 1231.6,1447.2 1231.0,1442.3 1230.3,1437.0 1229.7,1449.6 1229.1,1420.8 1228.5,1446.0 1227.9,1433.1 1227.2,1445.2 1226.6,1449.1 1226.0,1446.1 1225.4,1461.1 1224.7,1436.1 1224.1,1426.9 1223.5,1437.8 1222.9,1454.0 1222.3,1438.1 1221.6,1440.1 1221.0,1446.9 1220.4,1430.9 1219.8,1447.1 1219.2,1442.4 1218.5,1432.7 1217.9,1431.3 1217.3,1431.9 1216.7,1443.2 1216.0,1435.0 1215.4,1420.9 1214.8,1442.0 1214.2,1432.0 1213.6,1436.5 1212.9,1427.1 1212.3,1433.4 1211.7,1420.4 1211.1,1436.1 1210.5,1435.8 1209.8,1426.7 1209.2,1432.5 1208.6,1413.0 1208.0,1443.9 1207.3,1419.3 1206.7,1444.1 1206.1,1448.2 1205.5,1455.7 1204.9,1426.1 1204.2,1430.8 1203.6,1417.6 1203.0,1442.7 1202.4,1443.7 1201.8,1469.5 1201.1,1470.5 1200.5,1454.1 1199.9,1452.0 1199.3,1461.1 1198.6,1473.4 1198.0,1459.7 1197.4,1445.7 1196.8,1442.9 1196.2,1439.2 1195.5,1421.7 1194.9,1439.9 1194.3,1447.2 1193.7,1437.6 1193.1,1462.1 1192.4,1436.5 1191.8,1453.1 1191.2,1439.0 1190.6,1441.3 1189.9,1426.6 1189.3,1427.5 1188.7,1434.4 1188.1,1443.4 1187.5,1450.2 1186.8,1431.9 1186.2,1437.0 1185.6,1417.0 1185.0,1424.8 1184.4,1440.3 1183.7,1433.7 1183.1,1439.8 1182.5,1440.0 1181.9,1446.3 1181.2,1416.5 1180.6,1437.3 1180.0,1437.3 1179.4,1442.2 1178.8,1423.3 1178.1,1423.7 1177.5,1437.2 1176.9,1437.1 1176.3,1438.1 1175.7,1444.1 1175.0,1429.7 1174.4,1443.5 1173.8,1440.5 1173.2,1444.0 1172.5,1433.4 1171.9,1435.2 1171.3,1432.5 1170.7,1439.2 1170.1,1446.2 1169.4,1443.5 1168.8,1444.4 1168.2,1443.7 1167.6,1440.0 1167.0,1437.4 1166.3,1448.6 1165.7,1451.7 1165.1,1438.9 1164.5,1438.2 1163.8,1450.6 1163.2,1438.1 1162.6,1438.2 1162.0,1432.9 1161.4,1436.3 1160.7,1440.2 1160.1,1446.9 1159.5,1445.3 1158.9,1436.9 1158.2,1425.3 1157.6,1432.6 1157.0,1441.9 1156.4,1445.2 1155.8,1434.1 1155.1,1444.1 1154.5,1435.5 1153.9,1436.1 1153.3,1437.9 1152.7,1445.0 1152.0,1447.4 1151.4,1443.5 1150.8,1438.9 1150.2,1429.4 1149.5,1436.3 1148.9,1451.0 1148.3,1448.7 1147.7,1430.1 1147.1,1420.2 1146.4,1436.4 1145.8,1431.8 1145.2,1449.4 1144.6,1443.3 1144.0,1432.6 1143.3,1433.6 1142.7,1442.7 1142.1,1437.6 1141.5,1413.8 1140.8,1436.0 1140.2,1435.6 1139.6,1449.8 1139.0,1428.4 1138.4,1453.6 1137.7,1451.9 1137.1,1446.7 1136.5,1446.0 1135.9,1450.6 1135.3,1449.9 1134.6,1453.4 1134.0,1429.8 1133.4,1450.9 1132.8,1428.3 1132.1,1444.4 1131.5,1438.8 1130.9,1448.1 1130.3,1436.6 1129.7,1433.4 1129.0,1424.6 1128.4,1415.6 1127.8,1425.7 1127.2,1441.7 1126.6,1437.7 1125.9,1444.3 1125.3,1441.6 1124.7,1416.8 1124.1,1443.7 1123.4,1442.6 1122.8,1434.5 1122.2,1439.7 1121.6,1428.8 1121.0,1434.2 1120.3,1436.6 1119.7,1435.4 1119.1,1436.7 1118.5,1434.6 1117.9,1454.2 1117.2,1439.4 1116.6,1428.8 1116.0,1426.2 1115.4,1442.3 1114.7,1441.6 1114.1,1445.8 1113.5,1436.3 1112.9,1460.6 1112.3,1445.8 1111.6,1444.2 1111.0,1436.6 1110.4,1428.8 1109.8,1448.0 1109.2,1456.6 1108.5,1425.6 1107.9,1438.1 1107.3,1421.1 1106.7,1412.8 1106.0,1430.6 1105.4,1437.6 1104.8,1440.1 1104.2,1447.5 1103.6,1431.0 1102.9,1449.5 1102.3,1446.7 1101.7,1438.4 1101.1,1437.5 1100.5,1461.6 1099.8,1449.2 1099.2,1442.2 1098.6,1439.8 1098.0,1444.4 1097.3,1457.9 1096.7,1456.4 1096.1,1465.2 1095.5,1435.8 1094.9,1450.7 1094.2,1439.0 1093.6,1441.8 1093.0,1436.0 1092.4,1437.6 1091.7,1433.8 1091.1,1426.9 1090.5,1441.3 1089.9,1442.8 1089.3,1428.3 1088.6,1428.3 1088.0,1445.2 1087.4,1428.4 1086.8,1420.9 1086.2,1439.3 1085.5,1425.7 1084.9,1421.4 1084.3,1431.2 1083.7,1441.6 1083.0,1443.5 1082.4,1435.5 1081.8,1434.3 1081.2,1441.7 1080.6,1433.1 1079.9,1435.5 1079.3,1456.1 1078.7,1454.2 1078.1,1420.7 1077.5,1421.8 1076.8,1430.3 1076.2,1441.4 1075.6,1436.6 1075.0,1434.9 1074.3,1427.0 1073.7,1438.2 1073.1,1445.8 1072.5,1431.6 1071.9,1446.3 1071.2,1453.8 1070.6,1435.5 1070.0,1441.3 1069.4,1445.3 1068.8,1462.8 1068.1,1445.9 1067.5,1483.6 1066.9,1456.0 1066.3,1445.4 1065.6,1438.6 1065.0,1447.0 1064.4,1441.5 1063.8,1422.4 1063.2,1442.7 1062.5,1440.4 1061.9,1442.4 1061.3,1442.1 1060.7,1440.5 1060.1,1424.0 1059.4,1441.7 1058.8,1431.3 1058.2,1433.0 1057.6,1424.3 1056.9,1437.4 1056.3,1435.1 1055.7,1410.2 1055.1,1437.4 1054.5,1426.8 1053.8,1436.3 1053.2,1431.3 1052.6,1433.1 1052.0,1433.5 1051.4,1425.3 1050.7,1420.8 1050.1,1434.3 1049.5,1418.9 1048.9,1422.7 1048.2,1437.8 1047.6,1433.9 1047.0,1426.6 1046.4,1438.4 1045.8,1435.1 1045.1,1440.4 1044.5,1428.9 1043.9,1424.3 1043.3,1433.9 1042.7,1433.0 1042.0,1435.9 1041.4,1416.0 1040.8,1432.9 1040.2,1437.6 1039.5,1443.9 1038.9,1437.3 1038.3,1429.3 1037.7,1428.7 1037.1,1429.1 1036.4,1427.0 1035.8,1441.0 1035.2,1447.6 1034.6,1447.2 1033.9,1443.6 1033.3,1444.4 1032.7,1437.5 1032.1,1435.2 1031.5,1431.1 1030.8,1442.6 1030.2,1435.4 1029.6,1438.7 1029.0,1448.4 1028.4,1435.9 1027.7,1436.7 1027.1,1435.9 1026.5,1440.5 1025.9,1434.9 1025.2,1421.7 1024.6,1440.1 1024.0,1432.3 1023.4,1433.1 1022.8,1432.9 1022.1,1439.0 1021.5,1434.1 1020.9,1446.1 1020.3,1427.2 1019.7,1420.5 1019.0,1440.0 1018.4,1440.6 1017.8,1419.2 1017.2,1426.8 1016.5,1436.4 1015.9,1439.9 1015.3,1439.6 1014.7,1444.4 1014.1,1444.6 1013.4,1437.9 1012.8,1443.1 1012.2,1456.8 1011.6,1433.5 1011.0,1438.1 1010.3,1443.4 1009.7,1444.6 1009.1,1441.8 1008.5,1440.0 1007.8,1416.4 1007.2,1425.4 1006.6,1425.2 1006.0,1425.7 1005.4,1424.4 1004.7,1450.4 1004.1,1425.8 1003.5,1441.8 1002.9,1428.9 1002.3,1418.8 1001.6,1425.1 1001.0,1428.0 1000.4,1429.9 999.8,1429.6 999.1,1431.8 998.5,1438.4 997.9,1429.0 997.3,1428.4 996.7,1441.5 996.0,1428.6 995.4,1427.6 994.8,1438.4 994.2,1449.0 993.6,1430.4 992.9,1431.9 992.3,1452.7 991.7,1427.9 991.1,1428.9 990.4,1427.2 989.8,1445.4 989.2,1418.2 988.6,1427.7 988.0,1435.8 987.3,1432.7 986.7,1439.3 986.1,1432.4 985.5,1434.7 984.9,1436.7 984.2,1427.3 983.6,1428.7 983.0,1438.6 982.4,1426.8 981.7,1427.1 981.1,1422.5 980.5,1413.1 979.9,1430.0 979.3,1438.5 978.6,1443.5 978.0,1453.5 977.4,1436.0 976.8,1440.3 976.1,1428.1 975.5,1431.5 974.9,1435.7 974.3,1429.3 973.7,1431.4 973.0,1437.2 972.4,1454.7 971.8,1446.9 971.2,1450.2 970.6,1456.8 969.9,1440.2 969.3,1442.2 968.7,1434.9 968.1,1423.3 967.4,1437.8 966.8,1437.3 966.2,1423.9 965.6,1433.2 965.0,1427.7 964.3,1425.1 963.7,1419.2 963.1,1441.3 962.5,1425.0 961.9,1434.2 961.2,1436.0 960.6,1432.2 960.0,1435.3 959.4,1441.0 958.7,1447.0 958.1,1438.4 957.5,1441.0 956.9,1443.3 956.3,1437.0 955.6,1439.6 955.0,1427.7 954.4,1446.5 953.8,1451.3 953.2,1438.8 952.5,1446.3 951.9,1415.9 951.3,1429.5 950.7,1429.0 950.0,1444.4 949.4,1440.3 948.8,1424.5 948.2,1469.8 947.6,1466.4 946.9,1453.2 946.3,1454.2 945.7,1457.4 945.1,1440.2 944.5,1446.1 943.8,1424.3 943.2,1424.0 942.6,1434.5 942.0,1433.0 941.3,1439.6 940.7,1428.6 940.1,1424.3 939.5,1443.5 938.9,1413.2 938.2,1425.5 937.6,1450.4 937.0,1445.4 936.4,1438.5 935.8,1416.5 935.1,1432.3 934.5,1437.8 933.9,1431.8 933.3,1451.5 932.6,1436.1 932.0,1422.5 931.4,1425.2 930.8,1422.5 930.2,1420.9 929.5,1431.9 928.9,1438.6 928.3,1426.0 927.7,1442.9 927.1,1439.4 926.4,1439.7 925.8,1423.6 925.2,1445.0 924.6,1433.2 923.9,1445.0 923.3,1440.3 922.7,1431.8 922.1,1437.1 921.5,1435.9 920.8,1429.6 920.2,1430.0 919.6,1435.2 919.0,1422.7 918.4,1430.3 917.7,1431.2 917.1,1435.1 916.5,1437.4 915.9,1431.5 915.2,1450.8 914.6,1434.8 914.0,1428.2 913.4,1441.9 912.8,1427.6 912.1,1427.7 911.5,1424.6 910.9,1406.4 910.3,1413.4 909.6,1438.5 909.0,1422.5 908.4,1426.3 907.8,1440.8 907.2,1435.5 906.5,1433.1 905.9,1433.7 905.3,1435.3 904.7,1438.9 904.1,1433.3 903.4,1447.7 902.8,1418.6 902.2,1423.8 901.6,1429.6 900.9,1439.1 900.3,1418.8 899.7,1441.3 899.1,1419.7 898.5,1438.1 897.8,1423.6 897.2,1423.9 896.6,1441.4 896.0,1429.6 895.4,1431.7 894.7,1429.5 894.1,1422.7 893.5,1431.5 892.9,1424.9 892.2,1434.8 891.6,1447.6 891.0,1449.8 890.4,1454.9 889.8,1435.5 889.1,1436.4 888.5,1428.3 887.9,1431.1 887.3,1416.2 886.7,1431.3 886.0,1436.6 885.4,1430.1 884.8,1437.1 884.2,1431.6 883.5,1438.8 882.9,1418.0 882.3,1427.1 881.7,1433.0 881.1,1423.2 880.4,1430.5 879.8,1430.6 879.2,1433.8 878.6,1430.3 878.0,1436.4 877.3,1456.8 876.7,1441.2 876.1,1450.1 875.5,1439.9 874.8,1438.5 874.2,1441.7 873.6,1449.8 873.0,1451.4 872.4,1444.8 871.7,1442.2 871.1,1438.7 870.5,1439.4 869.9,1438.9 869.3,1442.9 868.6,1432.3 868.0,1453.9 867.4,1441.3 866.8,1435.4 866.1,1441.9 865.5,1441.5 864.9,1434.9 864.3,1453.1 863.7,1443.5 863.0,1437.8 862.4,1435.5 861.8,1449.5 861.2,1444.6 860.6,1437.7 859.9,1414.1 859.3,1429.9 858.7,1438.2 858.1,1440.7 857.4,1439.6 856.8,1435.3 856.2,1426.5 855.6,1425.2 855.0,1428.9 854.3,1434.0 853.7,1425.0 853.1,1424.2 852.5,1445.4 851.9,1433.9 851.2,1436.8 850.6,1422.1 850.0,1425.7 849.4,1439.0 848.7,1442.8 848.1,1437.3 847.5,1448.3 846.9,1426.5 846.3,1429.9 845.6,1434.2 845.0,1427.1 844.4,1421.8 843.8,1442.2 843.1,1442.0 842.5,1433.9 841.9,1451.0 841.3,1441.2 840.7,1457.6 840.0,1464.4 839.4,1458.0 838.8,1446.6 838.2,1440.1 837.6,1426.3 836.9,1447.6 836.3,1437.7 835.7,1439.9 835.1,1449.7 834.4,1449.3 833.8,1441.6 833.2,1423.9 832.6,1432.4 832.0,1431.5 831.3,1423.4 830.7,1431.0 830.1,1429.0 829.5,1445.8 828.9,1439.9 828.2,1459.5 827.6,1434.7 827.0,1441.7 826.4,1450.9 825.7,1435.4 825.1,1440.4 824.5,1454.8 823.9,1450.7 823.3,1422.9 822.6,1417.0 822.0,1436.3 821.4,1445.6 820.8,1433.3 820.2,1441.0 819.5,1441.8 818.9,1457.2 818.3,1441.3 817.7,1451.2 817.0,1454.4 816.4,1429.1 815.8,1419.5 815.2,1420.8 814.6,1429.1 813.9,1424.6 813.3,1433.2 812.7,1433.5 812.1,1442.5 811.5,1441.3 810.8,1429.4 810.2,1444.3 809.6,1436.7 809.0,1426.7 808.3,1437.2 807.7,1425.1 807.1,1433.7 806.5,1430.7 805.9,1423.5 805.2,1424.0 804.6,1439.4 804.0,1441.1 803.4,1454.4 802.8,1439.1 802.1,1433.0 801.5,1442.6 800.9,1443.8 800.3,1428.7 799.6,1441.1 799.0,1434.0 798.4,1434.4 797.8,1456.4 797.2,1445.8 796.5,1432.6 795.9,1437.2 795.3,1446.9 794.7,1435.6 794.1,1422.9 793.4,1425.0 792.8,1433.1 792.2,1432.9 791.6,1431.6 790.9,1432.6 790.3,1427.6 789.7,1424.6 789.1,1418.8 788.5,1428.4 787.8,1428.9 787.2,1431.1 786.6,1428.9 786.0,1438.2 785.3,1431.8 784.7,1436.4 784.1,1449.7 783.5,1422.4 782.9,1409.8 782.2,1411.9 781.6,1419.6 781.0,1420.9 780.4,1429.6 779.8,1438.1 779.1,1430.3 778.5,1418.3 777.9,1435.0 777.3,1442.1 776.6,1434.2 776.0,1437.3 775.4,1450.8 774.8,1413.5 774.2,1438.2 773.5,1434.1 772.9,1421.4 772.3,1421.3 771.7,1423.4 771.1,1409.2 770.4,1420.1 769.8,1427.7 769.2,1427.1 768.6,1438.1 767.9,1428.8 767.3,1434.9 766.7,1447.8 766.1,1430.1 765.5,1425.6 764.8,1440.1 764.2,1444.9 763.6,1434.5 763.0,1417.9 762.4,1419.8 761.7,1446.3 761.1,1428.2 760.5,1426.2 759.9,1436.9 759.2,1433.0 758.6,1420.1 758.0,1429.6 757.4,1448.9 756.8,1437.7 756.1,1436.4 755.5,1443.8 754.9,1414.9 754.3,1427.7 753.7,1436.3 753.0,1418.7 752.4,1431.8 751.8,1435.8 751.2,1453.4 750.5,1435.0 749.9,1445.5 749.3,1425.1 748.7,1416.4 748.1,1429.8 747.4,1442.4 746.8,1430.3 746.2,1435.4 745.6,1414.6 745.0,1441.4 744.3,1441.3 743.7,1434.7 743.1,1437.4 742.5,1444.3 741.8,1437.8 741.2,1436.2 740.6,1428.9 740.0,1426.7 739.4,1421.1 738.7,1425.1 738.1,1434.6 737.5,1429.4 736.9,1435.9 736.3,1426.0 735.6,1421.2 735.0,1438.9 734.4,1426.7 733.8,1423.8 733.1,1423.5 732.5,1428.2 731.9,1416.4 731.3,1428.3 730.7,1441.0 730.0,1422.2 729.4,1435.5 728.8,1451.3 728.2,1452.3 727.5,1436.7 726.9,1426.1 726.3,1426.9 725.7,1415.6 725.1,1426.4 724.4,1435.4 723.8,1422.3 723.2,1421.4 722.6,1437.3 722.0,1438.5 721.3,1443.9 720.7,1430.4 720.1,1418.8 719.5,1433.2 718.8,1428.9 718.2,1429.8 717.6,1420.0 717.0,1423.1 716.4,1440.1 715.7,1428.4 715.1,1418.5 714.5,1434.8 713.9,1448.7 713.3,1430.5 712.6,1435.4 712.0,1440.8 711.4,1435.8 710.8,1431.8 710.1,1449.0 709.5,1428.8 708.9,1421.0 708.3,1431.2 707.7,1422.2 707.0,1411.0 706.4,1414.0 705.8,1430.5 705.2,1424.9 704.6,1432.7 703.9,1423.6 703.3,1432.5 702.7,1434.0 702.1,1429.5 701.4,1426.1 700.8,1438.6 700.2,1445.3 699.6,1440.7 699.0,1423.8 698.3,1434.8 697.7,1445.6 697.1,1457.4 696.5,1436.7 695.9,1438.5 695.2,1440.2 694.6,1436.5 694.0,1423.2 693.4,1416.5 692.7,1424.4 692.1,1413.3 691.5,1434.0 690.9,1423.8 690.3,1431.0 689.6,1417.3 689.0,1428.6 688.4,1442.5 687.8,1447.7 687.2,1434.7 686.5,1431.0 685.9,1449.6 685.3,1444.3 684.7,1435.5 684.0,1423.0 683.4,1431.6 682.8,1428.4 682.2,1444.0 681.6,1436.8 680.9,1440.7 680.3,1430.8 679.7,1426.2 679.1,1423.0 678.5,1420.0 677.8,1424.1 677.2,1437.9 676.6,1433.2 676.0,1433.5 675.3,1434.4 674.7,1426.4 674.1,1431.2 673.5,1430.5 672.9,1438.6 672.2,1428.6 671.6,1437.1 671.0,1426.9 670.4,1431.9 669.8,1431.6 669.1,1449.1 668.5,1426.0 667.9,1427.2 667.3,1430.1 666.6,1426.3 666.0,1433.7 665.4,1438.9 664.8,1431.3 664.2,1432.4 663.5,1442.0 662.9,1427.4 662.3,1424.3 661.7,1422.8 661.0,1427.7 660.4,1422.4 659.8,1424.8 659.2,1416.7 658.6,1419.6 657.9,1428.8 657.3,1427.3 656.7,1429.8 656.1,1420.4 655.5,1421.1 654.8,1424.1 654.2,1420.7 653.6,1438.0 653.0,1435.2 652.3,1422.8 651.7,1424.3 651.1,1423.9 650.5,1419.5 649.9,1438.3 649.2,1440.1 648.6,1417.9 648.0,1416.3 647.4,1433.9 646.8,1434.6 646.1,1423.2 645.5,1414.6 644.9,1438.3 644.3,1447.9 643.6,1441.2 643.0,1419.4 642.4,1440.4 641.8,1435.9 641.2,1436.7 640.5,1430.2 639.9,1420.9 639.3,1434.5 638.7,1409.6 638.1,1434.9 637.4,1435.4 636.8,1426.3 636.2,1414.1 635.6,1434.6 634.9,1442.4 634.3,1440.9 633.7,1415.9 633.1,1454.1 632.5,1446.9 631.8,1429.8 631.2,1432.9 630.6,1433.6 630.0,1440.2 629.4,1426.0 628.7,1437.2 628.1,1432.4 627.5,1425.2 626.9,1441.7 626.2,1434.5 625.6,1432.7 625.0,1436.0 624.4,1422.9 623.8,1423.9 623.1,1432.5 622.5,1441.3 621.9,1433.9 621.3,1419.3 620.7,1410.6 620.0,1432.3 619.4,1428.5 618.8,1426.8 618.2,1426.8 617.5,1421.2 616.9,1418.4 616.3,1440.8 615.7,1436.1 615.1,1442.4 614.4,1436.2 613.8,1441.4 613.2,1438.4 612.6,1438.4 612.0,1442.8 611.3,1437.9 610.7,1421.3 610.1,1409.9 609.5,1425.6 608.8,1417.5 608.2,1410.7 607.6,1434.7 607.0,1419.4 606.4,1435.9 605.7,1439.4 605.1,1455.1 604.5,1431.9 603.9,1441.2 603.2,1415.3 602.6,1430.5 602.0,1419.5 601.4,1410.5 600.8,1418.9 600.1,1428.6 599.5,1415.4 598.9,1418.3 598.3,1429.6 597.7,1434.8 597.0,1426.1 596.4,1428.7 595.8,1427.2 595.2,1444.0 594.5,1431.0 593.9,1428.5 593.3,1431.6 592.7,1429.9 592.1,1409.3 591.4,1428.6 590.8,1436.6 590.2,1429.1 589.6,1431.2 589.0,1422.2 588.3,1444.0 587.7,1439.3 587.1,1422.9 586.5,1427.5 585.8,1428.2 585.2,1423.5 584.6,1431.6 584.0,1421.8 583.4,1432.5 582.7,1428.1 582.1,1449.7 581.5,1417.4 580.9,1423.6 580.3,1416.1 579.6,1438.2 579.0,1438.0 578.4,1418.9 577.8,1412.0 577.1,1410.1 576.5,1424.3 575.9,1431.2 575.3,1450.3 574.7,1423.1 574.0,1438.1 573.4,1435.8 572.8,1438.0 572.2,1422.5 571.6,1439.1 570.9,1446.1 570.3,1440.9 569.7,1420.3 569.1,1414.9 568.4,1420.8 567.8,1428.5 567.2,1446.4 566.6,1431.6 566.0,1440.7 565.3,1424.6 564.7,1428.9 564.1,1433.5 563.5,1409.6 562.9,1423.1 562.2,1428.2 561.6,1433.8 561.0,1415.1 560.4,1432.1 559.7,1426.7 559.1,1440.8 558.5,1438.8 557.9,1424.5 557.3,1418.5 556.6,1430.4 556.0,1438.3 555.4,1429.1 554.8,1425.6 554.2,1433.4 553.5,1417.5 552.9,1414.2 552.3,1427.3 551.7,1425.8 551.0,1420.4 550.4,1421.6 549.8,1421.1 549.2,1428.4 548.6,1432.9 547.9,1416.1 547.3,1437.4 546.7,1440.1 546.1,1422.8 545.5,1443.4 544.8,1418.8 544.2,1436.0 543.6,1426.0 543.0,1440.1 542.3,1430.6 541.7,1439.3 541.1,1432.1 540.5,1424.6 539.9,1434.7 539.2,1430.5 538.6,1437.2 538.0,1444.2 537.4,1456.8 536.7,1442.2 536.1,1436.6 535.5,1423.1 534.9,1424.4 534.3,1428.8 533.6,1421.6 533.0,1430.3 532.4,1426.1 531.8,1439.0 531.2,1424.2 530.5,1425.2 529.9,1424.6 529.3,1433.4 528.7,1444.2 528.0,1441.8 527.4,1448.1 526.8,1442.4 526.2,1455.9 525.6,1438.5 524.9,1422.5 524.3,1420.0 523.7,1425.7 523.1,1430.1 522.5,1429.8 521.8,1426.8 521.2,1436.5 520.6,1426.3 520.0,1426.7 519.3,1430.7 518.7,1418.2 518.1,1421.0 517.5,1411.5 516.9,1429.5 516.2,1424.7 515.6,1434.5 515.0,1435.5 514.4,1450.3 513.8,1425.0 513.1,1436.4 512.5,1426.1 511.9,1431.1 511.3,1428.8 510.6,1444.5 510.0,1433.9 509.4,1448.9 508.8,1440.0 508.2,1442.7 507.5,1456.9 506.9,1448.0 506.3,1444.8 505.7,1424.1 505.1,1423.0 504.4,1425.0 503.8,1424.4 503.2,1434.4 502.6,1425.3 501.9,1425.8 501.3,1436.7 500.7,1430.3 500.1,1434.5 499.5,1440.0 498.8,1452.5 498.2,1435.4 497.6,1434.7 497.0,1423.5 496.4,1429.6 495.7,1429.0 495.1,1424.4 494.5,1438.7 493.9,1438.1 493.2,1444.3 492.6,1435.4 492.0,1449.4 491.4,1427.6 490.8,1418.6 490.1,1424.7 489.5,1419.3 488.9,1433.4 488.3,1441.6 487.7,1449.7 487.0,1449.9 486.4,1425.3 485.8,1439.2 485.2,1443.0 484.5,1411.5 483.9,1418.1 483.3,1416.3 482.7,1420.9 482.1,1432.2 481.4,1435.0 480.8,1427.4 480.2,1418.3 479.6,1423.2 479.0,1427.6 478.3,1418.1 477.7,1420.6 477.1,1422.8 476.5,1426.7 475.8,1417.8 475.2,1437.6 474.6,1450.4 474.0,1431.9 473.4,1426.5 472.7,1425.7 472.1,1450.5 471.5,1433.4 470.9,1435.1 470.2,1422.0 469.6,1425.6 469.0,1439.0 468.4,1430.3 467.8,1425.3 467.1,1425.4 466.5,1423.1 465.9,1421.7 465.3,1444.1 464.7,1442.0 464.0,1420.4 463.4,1435.8 462.8,1411.3 462.2,1429.7 461.5,1417.9 460.9,1421.2 460.3,1419.8 459.7,1423.5 459.1,1423.5 458.4,1428.6 457.8,1438.4 457.2,1421.6 456.6,1431.0 456.0,1445.2 455.3,1444.7 454.7,1432.7 454.1,1429.5 453.5,1430.6 452.8,1431.1 452.2,1429.4 451.6,1431.8 451.0,1419.4 450.4,1450.2 449.7,1428.6 449.1,1447.9 448.5,1451.5 447.9,1448.9 447.3,1452.3 446.6,1429.5 446.0,1426.3 445.4,1425.4 444.8,1431.7 444.1,1427.4 443.5,1439.2 442.9,1412.4 442.3,1420.2 441.7,1420.8 441.0,1435.9 440.4,1440.4 439.8,1430.6 439.2,1431.7 438.6,1444.0 437.9,1414.5 437.3,1421.2 436.7,1419.5 436.1,1426.1 435.4,1415.5 434.8,1424.8 434.2,1425.4 433.6,1426.2 433.0,1440.7 432.3,1446.9 431.7,1443.5 431.1,1434.0 430.5,1430.5 429.9,1434.7 429.2,1463.5 428.6,1452.0 428.0,1444.5 427.4,1451.5 426.7,1451.3 426.1,1435.9 425.5,1424.3 424.9,1432.3 424.3,1428.6 423.6,1437.8 423.0,1431.0 422.4,1421.8 421.8,1422.3 421.2,1427.7 420.5,1424.5 419.9,1426.3 419.3,1422.2 418.7,1428.4 418.0,1419.7 417.4,1430.4 416.8,1418.9 416.2,1439.8 415.6,1426.9 414.9,1429.4 414.3,1423.6 413.7,1417.0 413.1,1428.1 412.4,1424.6 411.8,1431.2 411.2,1436.0 410.6,1440.7 410.0,1433.4 409.3,1427.3 408.7,1425.7 408.1,1423.1 407.5,1433.9 406.9,1436.9 406.2,1424.7 405.6,1426.1 405.0,1417.7 404.4,1418.8 403.7,1428.4 403.1,1434.4 402.5,1427.3 401.9,1408.5 401.3,1419.9 400.6,1428.7 400.0,1427.2 399.4,1425.5 398.8,1432.7 398.2,1436.3 397.5,1428.0 396.9,1440.6 396.3,1422.2 395.7,1430.3 395.0,1432.6 394.4,1433.0 393.8,1428.2 393.2,1446.4 392.6,1433.0 391.9,1422.9 391.3,1431.6 390.7,1437.8 390.1,1425.4 389.5,1424.7 388.8,1425.8 388.2,1436.0 387.6,1427.1 387.0,1427.0 386.3,1421.4 385.7,1423.0 385.1,1428.0 384.5,1432.7 383.9,1428.0 383.2,1437.5 382.6,1434.7 382.0,1443.6 381.4,1448.5 380.8,1431.5 380.1,1428.9 379.5,1430.1 378.9,1416.8 378.3,1437.3 377.6,1432.3 377.0,1423.5 376.4,1437.0 375.8,1434.6 375.2,1433.8 374.5,1446.4 373.9,1444.4 373.3,1437.9 372.7,1440.5 372.1,1420.4 371.4,1421.2 370.8,1423.7 370.2,1416.2 369.6,1427.2 368.9,1429.1 368.3,1434.8 367.7,1443.2 367.1,1438.6 366.5,1444.2 365.8,1439.8 365.2,1420.4 364.6,1430.8 364.0,1442.9 363.4,1430.0 362.7,1427.0 362.1,1441.9 361.5,1431.8 360.9,1438.4 360.2,1429.4 359.6,1428.5 359.0,1433.2 358.4,1447.4 357.8,1432.2 357.1,1438.4 356.5,1459.8 355.9,1433.1 355.3,1431.5 354.6,1453.8 354.0,1446.8 353.4,1446.2 352.8,1442.0 352.2,1448.0 351.5,1426.4 350.9,1437.9 350.3,1422.1 349.7,1431.1 349.1,1440.9 348.4,1435.5 347.8,1433.2 347.2,1434.5 346.6,1432.3 345.9,1420.7 345.3,1427.6 344.7,1440.8 344.1,1450.7 343.5,1435.4 342.8,1431.9 342.2,1434.4 341.6,1437.5 341.0,1443.3 340.4,1440.5 339.7,1428.9 339.1,1431.0 338.5,1430.1 337.9,1426.4 337.2,1417.9 336.6,1432.1 336.0,1419.4 335.4,1437.7 334.8,1425.9 334.1,1429.7 333.5,1420.1 332.9,1428.3 332.3,1430.4 331.7,1418.7 331.0,1447.1 330.4,1424.8 329.8,1419.2 329.2,1410.2 328.5,1422.3 327.9,1425.6 327.3,1429.1 326.7,1424.5 326.1,1437.2 325.4,1421.6 324.8,1427.9 324.2,1430.0 323.6,1434.4 323.0,1437.0 322.3,1436.2 321.7,1431.4 321.1,1431.4 320.5,1412.9 319.8,1433.7 319.2,1417.1 318.6,1412.6 318.0,1424.3 317.4,1441.9 316.7,1435.9 316.1,1434.9 315.5,1432.1 314.9,1440.5 314.3,1435.0 313.6,1439.9 313.0,1427.5 312.4,1434.4 311.8,1429.6 311.1,1425.9 310.5,1422.9 309.9,1434.4 309.3,1429.3 308.7,1428.5 308.0,1435.6 307.4,1439.2 306.8,1439.2 306.2,1428.1 305.6,1443.8 304.9,1435.3 304.3,1437.7 303.7,1428.2 303.1,1432.1 302.4,1428.0 301.8,1422.5 301.2,1435.5 300.6,1428.7 300.0,1429.7 299.3,1434.4 298.7,1420.8 298.1,1425.2 297.5,1429.6 296.9,1423.1 296.2,1427.8 295.6,1430.1 295.0,1434.3 294.4,1424.4 293.7,1420.6 293.1,1439.4 292.5,1446.8 291.9,1437.0 291.3,1424.1 290.6,1441.1 290.0,1433.9 289.4,1437.1 288.8,1426.7 288.1,1430.2 287.5,1426.4 286.9,1422.3 286.3,1429.5 285.7,1430.7 285.0,1425.7 284.4,1436.9 283.8,1426.8 283.2,1444.3 282.6,1419.4 281.9,1435.9 281.3,1426.8 280.7,1431.1 280.1,1427.9 279.4,1426.9 278.8,1429.5 278.2,1440.2 277.6,1414.8 277.0,1425.2 276.3,1417.2 275.7,1414.4 275.1,1428.0 274.5,1423.8 273.9,1426.2 273.2,1426.1 272.6,1427.1 272.0,1426.5 271.4,1428.1 270.7,1427.8 270.1,1434.6 269.5,1428.5 268.9,1433.9 268.3,1438.2 267.6,1431.1 267.0,1423.2 266.4,1423.5 265.8,1433.1 265.2,1421.3 264.5,1425.9 263.9,1437.9 263.3,1438.7 262.7,1447.3 262.0,1441.3 261.4,1433.8 260.8,1439.4 260.2,1431.2 259.6,1434.9 258.9,1435.3 258.3,1428.7 257.7,1440.5 257.1,1427.9 256.5,1427.8 255.8,1421.3 255.2,1425.4 254.6,1441.4 254.0,1441.9 253.3,1451.0 252.7,1441.9 252.1,1432.7 251.5,1424.4 250.9,1420.8 250.2,1422.7 249.6,1428.6 249.0,1433.5 248.4,1424.7 247.8,1423.9 247.1,1421.4 246.5,1436.9 245.9,1434.5 245.3,1436.6 244.6,1421.7 244.0,1446.7 243.4,1444.6 242.8,1434.4 242.2,1437.7 241.5,1430.9 240.9,1431.1 240.3,1440.2 239.7,1430.5 239.1,1429.3 238.4,1434.2 237.8,1419.5 237.2,1443.0 236.6,1443.4 235.9,1436.3 235.3,1419.2 234.7,1422.0 234.1,1418.1 233.5,1444.6 232.8,1436.4 232.2,1438.4 231.6,1439.2 231.0,1430.4 230.3,1431.8 229.7,1428.8 229.1,1425.7 228.5,1426.3 227.9,1433.7 227.2,1413.8 226.6,1429.4 226.0,1420.9 225.4,1407.5 224.8,1419.7 224.1,1424.0 223.5,1428.5 222.9,1429.7 222.3,1434.0 221.6,1436.6 221.0,1427.8 220.4,1432.9 219.8,1432.9 219.2,1430.7 218.5,1426.7 217.9,1424.6 217.3,1418.1 216.7,1432.0 216.1,1427.3 215.4,1429.1 214.8,1426.8 214.2,1429.7 213.6,1434.5 212.9,1438.7 212.3,1448.3 211.7,1440.2 211.1,1438.5 210.5,1446.4 209.8,1438.0 209.2,1436.6 208.6,1430.0 208.0,1433.1 207.4,1430.5 206.7,1439.9 206.1,1439.5 205.5,1419.5 204.9,1413.4 204.2,1420.2 203.6,1417.5 203.0,1418.8 202.4,1424.9 201.8,1422.9 201.1,1421.0 200.5,1430.0 199.9,1427.8 199.3,1428.4 198.7,1442.7 198.0,1430.3 197.4,1431.0 196.8,1425.0 196.2,1434.3 195.5,1439.0 194.9,1431.7 194.3,1443.1 193.7,1424.0 193.1,1430.2 192.4,1425.9 191.8,1419.1 191.2,1426.2 190.6,1421.4 190.0,1436.8 189.3,1417.9 188.7,1434.4 188.1,1433.7 187.5,1417.0 186.8,1419.2 186.2,1434.8 185.6,1434.8 185.0,1437.1 184.4,1425.2 183.7,1429.3 183.1,1428.8 182.5,1430.6 181.9,1442.3 181.3,1441.5 180.6,1453.4 180.0,1441.6 179.4,1441.1 178.8,1446.1 178.1,1443.5 177.5,1427.1 176.9,1416.5 176.3,1426.2 175.7,1422.9 175.0,1436.2 174.4,1424.3 173.8,1428.5 173.2,1422.6 172.6,1425.9 171.9,1426.5 171.3,1416.8 170.7,1423.8 170.1,1428.7 169.4,1419.2 168.8,1424.9 168.2,1425.5" fill="#3a9fff" stroke="#3a9fff" stroke-width="0.7" stroke-linejoin="round"/>
</g>
<polyline points="391.9,1473.0 392.6,1502.2 393.2,1481.7 393.8,1468.3 394.4,1495.4 395.0,1496.6 395.7,1513.8 396.3,1525.4 396.9,1513.8 397.5,1513.8 398.2,1525.4 398.8,1490.2 399.4,1448.9 400.0,1431.0 400.6,1388.6 401.3,1382.8 401.9,1310.8 402.5,1278.3 403.1,1223.6 403.7,1270.7 404.4,1258.9 405.0,1323.0 405.6,1371.6 406.2,1372.2 406.9,1435.0 407.5,1423.5 408.1,1378.6 408.7,1381.2 409.3,1299.1 410.0,1294.9 410.6,1272.3 411.2,1223.6 411.8,1261.0 412.4,1241.0 413.1,1295.9 413.7,1291.5 414.3,1295.9 414.9,1264.1 415.6,1260.2 416.2,1277.3 416.8,1260.2 417.4,1278.6 418.0,1296.3 418.7,1347.6 419.3,1351.5 419.9,1351.5 420.5,1320.2 421.2,1315.4 421.8,1332.2 422.4,1368.1 423.0,1351.6 423.6,1411.8 424.3,1421.6 424.9,1434.7 425.5,1456.5 426.1,1474.4 426.7,1474.4 427.4,1458.7 428.0,1464.0 428.6,1448.9 429.2,1459.6 429.9,1448.9 430.5,1406.5 431.1,1329.7 431.7,1315.8 432.3,1280.1 433.0,1319.1 433.6,1319.1 434.2,1310.6 434.8,1304.2 435.4,1256.0 436.1,1283.7 436.7,1316.6 437.3,1334.3 437.9,1388.6 438.6,1442.3 439.2,1475.0 439.8,1535.6 440.4,1521.4 441.0,1521.4 441.7,1456.2 442.3,1426.6 442.9,1415.5 443.5,1443.8 444.1,1445.2 444.8,1464.9 445.4,1473.4 446.0,1460.7 446.6,1494.3 447.3,1422.7 447.9,1366.9 448.5,1299.1 449.1,1310.9 449.7,1329.1 450.4,1356.0 451.0,1363.2 451.6,1379.3 452.2,1304.5 452.8,1263.8 453.5,1194.8 454.1,1240.8 454.7,1254.4 455.3,1287.8 456.0,1351.2 456.6,1368.2 457.2,1368.2 457.8,1331.7 458.4,1344.8 459.1,1325.1 459.7,1339.9 460.3,1325.1 460.9,1348.8 461.5,1364.9 462.2,1401.2 462.8,1439.1 463.4,1409.9 464.0,1385.9 464.7,1366.6 465.3,1343.5 465.9,1297.7 466.5,1312.3 467.1,1331.9 467.8,1320.1 468.4,1346.9 469.0,1331.0 469.6,1290.9 470.2,1269.5 470.9,1250.0 471.5,1259.4 472.1,1296.7 472.7,1337.6 473.4,1351.5 474.0,1335.2 474.6,1300.6 475.2,1298.7 475.8,1252.8 476.5,1269.0 477.1,1315.7 477.7,1349.3 478.3,1351.5 479.0,1351.5 479.6,1314.5 480.2,1312.6 480.8,1303.7 481.4,1268.1 482.1,1284.7 482.7,1288.7 483.3,1295.9 483.9,1319.1 484.5,1375.4 485.2,1386.2 485.8,1417.3 486.4,1383.4 487.0,1336.3 487.7,1297.3 488.3,1265.3 488.9,1265.3 489.5,1288.3 490.1,1304.9 490.8,1332.6 491.4,1387.5 492.0,1388.6 492.6,1388.6 493.2,1430.8 493.9,1430.8 494.5,1396.0 495.1,1410.2 495.7,1374.3 496.4,1386.0 497.0,1366.6 497.6,1345.5 498.2,1383.4 498.8,1415.8 499.5,1435.0 500.1,1467.4 500.7,1467.9 501.3,1485.5 501.9,1469.9 502.6,1485.5 503.2,1444.7 503.8,1451.6 504.4,1425.8 505.1,1415.5 505.7,1402.5 506.3,1402.5 506.9,1451.8 507.5,1457.0 508.2,1436.0 508.8,1465.1 509.4,1455.4 510.0,1486.4 510.6,1462.1 511.3,1397.4 511.9,1393.0 512.5,1378.2 513.1,1306.1 513.8,1333.0 514.4,1307.9 515.0,1309.4 515.6,1333.0 516.2,1333.0 516.9,1314.4 517.5,1333.0 518.1,1333.0 518.7,1314.4 519.3,1339.8 520.0,1384.4 520.6,1412.7 521.2,1469.7 521.8,1503.1 522.5,1503.1 523.1,1480.6 523.7,1451.2 524.3,1451.1 524.9,1423.9 525.6,1426.3 526.2,1406.7 526.8,1424.1 527.4,1441.9 528.0,1443.1 528.7,1463.8 529.3,1452.4 529.9,1494.3 530.5,1470.0 531.2,1455.9 531.8,1411.2 532.4,1388.6 533.0,1362.4 533.6,1318.2 534.3,1272.8 534.9,1245.3 535.5,1278.8 536.1,1285.2 536.7,1330.1 537.4,1355.9 538.0,1373.9 538.6,1422.9 539.2,1413.8 539.9,1402.3 540.5,1374.7 541.1,1367.1 541.7,1381.4 542.3,1327.9 543.0,1327.9 543.6,1368.5 544.2,1436.3 544.8,1470.2 545.5,1470.2 546.1,1462.6 546.7,1470.2 547.3,1451.6 547.9,1444.2 548.6,1466.3 549.2,1471.8 549.8,1493.5 550.4,1494.3 551.0,1533.4 551.7,1539.7 552.3,1515.0 552.9,1481.8 553.5,1449.2 554.2,1434.0 554.8,1434.0 555.4,1459.4 556.0,1463.6 556.6,1508.2 557.3,1539.4 557.9,1547.9 558.5,1578.2 559.1,1552.9 559.7,1545.7 560.4,1505.1 561.0,1501.8 561.6,1503.9 562.2,1464.6 562.9,1458.1 563.5,1481.1 564.1,1491.5 564.7,1492.9 565.3,1441.3 566.0,1438.0 566.6,1435.5 567.2,1365.0 567.8,1385.6 568.4,1394.6 569.1,1433.3 569.7,1449.1 570.3,1481.3 570.9,1535.9 571.6,1532.1 572.2,1570.8 572.8,1611.5 573.4,1632.0 574.0,1631.7 574.7,1611.4 575.3,1592.6 575.9,1574.0 576.5,1581.1 577.1,1574.0 577.8,1549.8 578.4,1489.6 579.0,1428.9 579.6,1471.5 580.3,1472.8 580.9,1504.5 581.5,1459.9 582.1,1416.7 582.7,1369.6 583.4,1420.2 584.0,1457.8 584.6,1477.6 585.2,1504.5 585.8,1504.5 586.5,1525.4 587.1,1553.2 587.7,1553.2 588.3,1448.8 589.0,1461.9 589.6,1421.1 590.2,1358.5 590.8,1364.0 591.4,1389.8 592.1,1427.2 592.7,1435.0 593.3,1443.3 593.9,1476.0 594.5,1502.6 595.2,1444.6 595.8,1399.5 596.4,1345.0 597.0,1358.5 597.7,1363.8 598.3,1391.9 598.9,1402.5 599.5,1402.5 600.1,1399.5 600.8,1350.4 601.4,1330.6 602.0,1349.4 602.6,1376.1 603.2,1371.1 603.9,1443.4 604.5,1460.9 605.1,1446.0 605.7,1415.7 606.4,1368.9 607.0,1320.0 607.6,1332.5 608.2,1344.0 608.8,1408.9 609.5,1416.0 610.1,1343.4 610.7,1346.9 611.3,1348.9 612.0,1287.5 612.6,1315.7 613.2,1363.6 613.8,1363.6 614.4,1345.3 615.1,1333.7 615.7,1295.9 616.3,1262.7 616.9,1266.0 617.5,1233.5 618.2,1227.0 618.8,1201.8 619.4,1243.6 620.0,1269.5 620.7,1319.1 621.3,1374.4 621.9,1354.4 622.5,1396.9 623.1,1362.8 623.8,1290.4 624.4,1272.2 625.0,1310.9 625.6,1335.3 626.2,1312.5 626.9,1351.8 627.5,1365.4 628.1,1317.2 628.7,1307.6 629.4,1286.4 630.0,1246.7 630.6,1318.4 631.2,1326.9 631.8,1337.3 632.5,1372.9 633.1,1388.6 633.7,1430.5 634.3,1453.3 634.9,1470.6 635.6,1498.9 636.2,1495.8 636.8,1498.9 637.4,1481.3 638.1,1410.3 638.7,1345.0 639.3,1266.7 639.9,1266.7 640.5,1306.9 641.2,1319.0 641.8,1379.3 642.4,1379.3 643.0,1361.5 643.6,1376.8 644.3,1315.5 644.9,1335.4 645.5,1313.0 646.1,1370.5 646.8,1390.5 647.4,1428.2 648.0,1506.4 648.6,1506.4 649.2,1455.8 649.9,1408.4 650.5,1396.7 651.1,1374.7 651.7,1411.2 652.3,1493.8 653.0,1489.5 653.6,1531.0 654.2,1542.5 654.8,1524.7 655.5,1496.3 656.1,1449.4 656.7,1432.9 657.3,1375.6 657.9,1413.8 658.6,1435.2 659.2,1467.0 659.8,1481.3 660.4,1493.5 661.0,1493.6 661.7,1504.7 662.3,1526.3 662.9,1500.1 663.5,1478.3 664.2,1453.4 664.8,1439.6 665.4,1411.8 666.0,1423.2 666.6,1421.3 667.3,1491.0 667.9,1505.4 668.5,1476.7 669.1,1405.2 669.8,1358.0 670.4,1295.0 671.0,1304.7 671.6,1216.3 672.2,1156.8 672.9,1198.4 673.5,1246.0 674.1,1282.3 674.7,1298.4 675.3,1316.2 676.0,1374.7 676.6,1337.0 677.2,1293.1 677.8,1264.3 678.5,1217.1 679.1,1260.8 679.7,1290.4 680.3,1299.6 680.9,1330.2 681.6,1382.3 682.2,1433.7 682.8,1454.9 683.4,1485.5 684.0,1422.7 684.7,1384.6 685.3,1351.6 685.9,1293.4 686.5,1270.6 687.2,1217.5 687.8,1241.7 688.4,1314.8 689.0,1323.6 689.6,1381.4 690.3,1382.7 690.9,1430.3 691.5,1409.8 692.1,1368.6 692.7,1370.3 693.4,1352.3 694.0,1329.7 694.6,1301.4 695.2,1282.9 695.9,1261.6 696.5,1303.3 697.1,1306.4 697.7,1327.7 698.3,1377.8 699.0,1388.6 699.6,1396.8 700.2,1405.9 700.8,1442.9 701.4,1477.0 702.1,1467.6 702.7,1485.5 703.3,1485.5 703.9,1456.7 704.6,1459.7 705.2,1458.7 705.8,1435.0 706.4,1479.6 707.0,1477.4 707.7,1484.7 708.3,1526.8 708.9,1567.6 709.5,1587.5 710.1,1587.5 710.8,1571.5 711.4,1486.3 712.0,1486.9 712.6,1470.4 713.3,1422.0 713.9,1464.0 714.5,1478.7 715.1,1520.6 715.7,1499.2 716.4,1565.1 717.0,1575.9 717.6,1543.1 718.2,1500.0 718.8,1481.3 719.5,1481.3 720.1,1497.0 720.7,1514.2 721.3,1538.8 722.0,1521.6 722.6,1518.3 723.2,1500.6 723.8,1458.1 724.4,1496.8 725.1,1474.2 725.7,1521.7 726.3,1511.8 726.9,1459.9 727.5,1422.5 728.2,1365.4 728.8,1322.4 729.4,1326.3 730.0,1298.2 730.7,1219.4 731.3,1233.4 731.9,1246.1 732.5,1259.7 733.1,1288.1 733.8,1290.4 734.4,1319.1 735.0,1322.5 735.6,1338.5 736.3,1338.5 736.9,1325.2 737.5,1338.5 738.1,1397.3 738.7,1407.7 739.4,1408.5 740.0,1419.6 740.6,1456.7 741.2,1431.7 741.8,1427.5 742.5,1352.0 743.1,1352.0 743.7,1354.5 744.3,1379.2 745.0,1395.6 745.6,1422.4 746.2,1365.0 746.8,1295.9 747.4,1305.0 748.1,1333.0 748.7,1322.2 749.3,1255.5 749.9,1255.5 750.5,1264.8 751.2,1303.0 751.8,1319.1 752.4,1251.9 753.0,1205.0 753.7,1148.5 754.3,1161.3 754.9,1180.6 755.5,1221.5 756.1,1260.6 756.8,1257.8 757.4,1275.2 758.0,1319.1 758.6,1306.2 759.2,1278.2 759.9,1291.8 760.5,1263.3 761.1,1277.3 761.7,1254.6 762.4,1284.5 763.0,1332.0 763.6,1350.3 764.2,1430.8 764.8,1413.8 765.5,1413.5 766.1,1406.3 766.7,1385.7 767.3,1329.3 767.9,1357.3 768.6,1335.8 769.2,1347.0 769.8,1390.6 770.4,1375.0 771.1,1414.2 771.7,1415.6 772.3,1449.8 772.9,1403.0 773.5,1402.5 774.2,1345.7 774.8,1331.9 775.4,1295.1 776.0,1268.1 776.6,1279.9 777.3,1296.0 777.9,1305.2 778.5,1271.1 779.1,1288.4 779.8,1238.5 780.4,1237.5 781.0,1321.7 781.6,1353.0 782.2,1430.5 782.9,1435.5 783.5,1525.8 784.1,1511.2 784.7,1466.2 785.3,1463.6 786.0,1427.3 786.6,1429.7 787.2,1397.6 787.8,1365.4 788.5,1343.8 789.1,1300.0 789.7,1289.4 790.3,1255.0 790.9,1262.3 791.6,1236.3 792.2,1205.8 792.8,1174.9 793.4,1184.5 794.1,1205.7 794.7,1210.5 795.3,1238.2 795.9,1248.1 796.5,1295.0 797.2,1383.2 797.8,1405.3 798.4,1345.9 799.0,1347.4 799.6,1314.7 800.3,1313.1 800.9,1248.5 801.5,1293.8 802.1,1252.8 802.8,1209.7 803.4,1209.7 804.0,1249.5 804.6,1244.9 805.2,1244.0 805.9,1199.0 806.5,1214.1 807.1,1254.8 807.7,1295.4 808.3,1316.7 809.0,1319.1 809.6,1338.0 810.2,1360.9 810.8,1377.0 811.5,1376.6 812.1,1323.1 812.7,1295.9 813.3,1287.8 813.9,1272.1 814.6,1281.8 815.2,1278.6 815.8,1254.6 816.4,1273.3 817.0,1310.3 817.7,1342.2 818.3,1342.2 818.9,1380.9 819.5,1422.6 820.2,1502.2 820.8,1482.7 821.4,1440.2 822.0,1380.3 822.6,1373.7 823.3,1313.0 823.9,1333.0 824.5,1320.7 825.1,1333.0 825.7,1314.3 826.4,1310.9 827.0,1288.9 827.6,1268.1 828.2,1277.8 828.9,1351.6 829.5,1335.5 830.1,1388.6 830.7,1418.5 831.3,1428.1 832.0,1485.1 832.6,1532.3 833.2,1504.0 833.8,1461.8 834.4,1381.2 835.1,1374.7 835.7,1393.6 836.3,1409.8 836.9,1452.3 837.6,1479.5 838.2,1479.5 838.8,1391.4 839.4,1396.3 840.0,1295.9 840.7,1295.9 841.3,1239.1 841.9,1192.0 842.5,1173.0 843.1,1198.1 843.8,1187.6 844.4,1228.2 845.0,1264.6 845.6,1281.0 846.3,1281.0 846.9,1307.9 847.5,1375.0 848.1,1388.3 848.7,1451.6 849.4,1451.1 850.0,1436.6 850.6,1411.8 851.2,1420.5 851.9,1434.7 852.5,1476.7 853.1,1476.7 853.7,1476.7 854.3,1476.7 855.0,1438.0 855.6,1402.9 856.2,1388.6 856.8,1381.2 857.4,1380.8 858.1,1308.8 858.7,1324.6 859.3,1303.8 859.9,1331.8 860.6,1350.7 861.2,1330.5 861.8,1374.7 862.4,1371.1 863.0,1348.7 863.7,1353.8 864.3,1422.8 864.9,1436.9 865.5,1474.4 866.1,1437.9 866.8,1428.9 867.4,1376.8 868.0,1352.0 868.6,1372.0 869.3,1413.9 869.9,1447.6 870.5,1451.3 871.1,1486.6 871.7,1508.2 872.4,1486.6 873.0,1490.6 873.6,1433.8 874.2,1422.5 874.8,1397.9 875.5,1406.3 876.1,1415.6 876.7,1450.3 877.3,1485.6 878.0,1473.4 878.6,1513.8 879.2,1509.1 879.8,1505.6 880.4,1463.0 881.1,1462.9 881.7,1437.2 882.3,1411.8 882.9,1399.5 883.5,1371.8 884.2,1371.7 884.8,1371.5 885.4,1349.7 886.0,1366.1 886.7,1359.1 887.3,1380.9 887.9,1399.7 888.5,1391.0 889.1,1414.9 889.8,1430.8 890.4,1430.8 891.0,1391.3 891.6,1376.2 892.2,1361.0 892.9,1350.7 893.5,1333.9 894.1,1348.6 894.7,1348.7 895.4,1362.1 896.0,1365.4 896.6,1353.1 897.2,1324.6 897.8,1310.8 898.5,1298.2 899.1,1330.2 899.7,1376.9 900.3,1435.0 900.9,1490.9 901.6,1543.5 902.2,1600.9 902.8,1584.1 903.4,1600.9 904.1,1591.5 904.7,1585.1 905.3,1574.0 905.9,1567.3 906.5,1557.8 907.2,1554.1 907.8,1496.9 908.4,1439.6 909.0,1450.5 909.6,1466.2 910.3,1485.8 910.9,1489.8 911.5,1481.8 912.1,1518.4 912.8,1518.4 913.4,1442.1 914.0,1419.3 914.6,1395.7 915.2,1337.6 915.9,1306.1 916.5,1333.3 917.1,1337.3 917.7,1360.8 918.4,1448.3 919.0,1438.3 919.6,1483.6 920.2,1480.5 920.8,1453.1 921.5,1418.4 922.1,1436.5 922.7,1411.8 923.3,1428.8 923.9,1478.2 924.6,1460.5 925.2,1488.2 925.8,1504.0 926.4,1446.5 927.1,1446.2 927.7,1440.1 928.3,1403.6 928.9,1384.4 929.5,1362.2 930.2,1418.5 930.8,1450.8 931.4,1501.7 932.0,1495.3 932.6,1556.9 933.3,1548.7 933.9,1518.5 934.5,1484.4 935.1,1435.0 935.8,1446.6 936.4,1458.2 937.0,1436.4 937.6,1464.6 938.2,1385.0 938.9,1312.4 939.5,1214.6 940.1,1154.5 940.7,1176.3 941.3,1200.9 942.0,1235.6 942.6,1287.6 943.2,1305.2" fill="none" stroke="#999999" stroke-width="6" stroke-linejoin="round" stroke-linecap="round"/>
<path d="M168.2 1388.6H1517.5" stroke="#1f85ec" stroke-width="5.6" stroke-linecap="round" fill="none"/>
<path d="M168.2 1388.6H1517.5" stroke="#2a78c8" stroke-width="1" fill="none"/>
<path d="M242.78 1148.70v-15.5M242.78 1632.90v15.5M317.36 1148.70v-15.5M317.36 1632.90v15.5M391.94 1148.70v-15.5M391.94 1632.90v15.5M541.10 1148.70v-15.5M541.10 1632.90v15.5M615.68 1148.70v-15.5M615.68 1632.90v15.5M690.26 1148.70v-15.5M690.26 1632.90v15.5M839.42 1148.70v-15.5M839.42 1632.90v15.5M914.00 1148.70v-15.5M914.00 1632.90v15.5M988.58 1148.70v-15.5M988.58 1632.90v15.5M1137.74 1148.70v-15.5M1137.74 1632.90v15.5M1212.32 1148.70v-15.5M1212.32 1632.90v15.5M1286.90 1148.70v-15.5M1286.90 1632.90v15.5M1436.06 1148.70v-15.5M1436.06 1632.90v15.5M1510.64 1148.70v-15.5M1510.64 1632.90v15.5M164.60 1620.40h-15.5M1521.20 1620.40h15.5M164.60 1597.22h-15.5M1521.20 1597.22h15.5M164.60 1550.86h-15.5M1521.20 1550.86h15.5M164.60 1527.68h-15.5M1521.20 1527.68h15.5M164.60 1504.50h-15.5M1521.20 1504.50h15.5M164.60 1458.14h-15.5M1521.20 1458.14h15.5M164.60 1434.96h-15.5M1521.20 1434.96h15.5M164.60 1411.78h-15.5M1521.20 1411.78h15.5M164.60 1365.42h-15.5M1521.20 1365.42h15.5M164.60 1342.24h-15.5M1521.20 1342.24h15.5M164.60 1319.06h-15.5M1521.20 1319.06h15.5M164.60 1272.70h-15.5M1521.20 1272.70h15.5M164.60 1249.52h-15.5M1521.20 1249.52h15.5M164.60 1226.34h-15.5M1521.20 1226.34h15.5M164.60 1179.98h-15.5M1521.20 1179.98h15.5M164.60 1156.80h-15.5M1521.20 1156.80h15.5" stroke="#909090" stroke-width="1.2" fill="none"/>
<path d="M168.20 1148.70v-31M168.20 1632.90v31M466.52 1148.70v-31M466.52 1632.90v31M764.84 1148.70v-31M764.84 1632.90v31M1063.16 1148.70v-31M1063.16 1632.90v31M1361.48 1148.70v-31M1361.48 1632.90v31M164.60 1574.04h-31M1521.20 1574.04h31M164.60 1481.32h-31M1521.20 1481.32h31M164.60 1388.60h-31M1521.20 1388.60h31M164.60 1295.88h-31M1521.20 1295.88h31M164.60 1203.16h-31M1521.20 1203.16h31" stroke="#3c3c3c" stroke-width="1.4" fill="none"/>
<rect x="164.60" y="1148.70" width="1356.60" height="484.20" fill="none" stroke="#505050" stroke-width="1.3"/>
<text transform="translate(106.60 1217.06) scale(1 1.025)" font-size="40.1" text-anchor="end">0.40</text>
<text transform="translate(106.60 1309.78) scale(1 1.025)" font-size="40.1" text-anchor="end">0.20</text>
<text transform="translate(106.60 1402.50) scale(1 1.025)" font-size="40.1" text-anchor="end">0.00</text>
<text transform="translate(106.60 1495.22) scale(1 1.025)" font-size="40.1" text-anchor="end">-0.20</text>
<text transform="translate(106.60 1587.94) scale(1 1.025)" font-size="40.1" text-anchor="end">-0.40</text>
<text transform="translate(167.90 1721.60) scale(1 1.025)" font-size="40.0" text-anchor="middle">1920</text>
<text transform="translate(466.22 1721.60) scale(1 1.025)" font-size="40.0" text-anchor="middle">1960</text>
<text transform="translate(764.54 1721.60) scale(1 1.025)" font-size="40.0" text-anchor="middle">2000</text>
<text transform="translate(1062.86 1721.60) scale(1 1.025)" font-size="40.0" text-anchor="middle">2040</text>
<text transform="translate(1361.18 1721.60) scale(1 1.025)" font-size="40.0" text-anchor="middle">2080</text>
<text transform="translate(843.40 1798.50) scale(1 1.06)" font-size="53.0" text-anchor="middle">Time</text>
<text transform="translate(161.70 1096.10) scale(1 1.055)" font-size="46.5" fill="#cdc673">CESM1-LENS (40 Members)</text>
<text transform="translate(1506.20 1098.10) scale(1 1.02)" font-size="36.0" text-anchor="end">-0.08/0/0.07 C 181yr</text>
<text transform="translate(1506.60 1080.30) scale(1 1.1)" font-size="19.5">-1</text>
<text transform="translate(195.10 1602.40) scale(1 1.02)" font-size="36.6">69%</text>
</g>
<g id="panel4">
<polyline points="2079.1,1466.0 2079.8,1492.5 2080.4,1474.0 2081.0,1461.8 2081.6,1486.3 2082.2,1487.5 2082.9,1503.0 2083.5,1513.5 2084.1,1503.0 2084.7,1503.0 2085.4,1513.5 2086.0,1481.7 2086.6,1444.2 2087.2,1428.0 2087.8,1389.6 2088.5,1384.4 2089.1,1319.1 2089.7,1289.7 2090.3,1240.1 2090.9,1282.7 2091.6,1272.1 2092.2,1330.2 2092.8,1374.2 2093.4,1374.8 2094.1,1431.6 2094.7,1421.2 2095.3,1380.5 2095.9,1382.9 2096.5,1308.5 2097.2,1304.7 2097.8,1284.2 2098.4,1240.1 2099.0,1274.0 2099.6,1255.9 2100.3,1305.6 2100.9,1301.6 2101.5,1305.6 2102.1,1276.8 2102.8,1273.3 2103.4,1288.7 2104.0,1273.3 2104.6,1289.9 2105.2,1306.0 2105.9,1352.5 2106.5,1356.0 2107.1,1356.0 2107.7,1327.6 2108.4,1323.2 2109.0,1338.5 2109.6,1371.1 2110.2,1356.1 2110.8,1410.6 2111.5,1419.5 2112.1,1431.4 2112.7,1451.1 2113.3,1467.3 2113.9,1467.3 2114.6,1453.1 2115.2,1457.9 2115.8,1444.2 2116.4,1453.9 2117.1,1444.2 2117.7,1405.8 2118.3,1336.2 2118.9,1323.6 2119.5,1291.3 2120.2,1326.6 2120.8,1326.6 2121.4,1318.9 2122.0,1313.2 2122.6,1269.5 2123.3,1294.6 2123.9,1324.4 2124.5,1340.4 2125.1,1389.6 2125.8,1438.3 2126.4,1467.9 2127.0,1522.7 2127.6,1509.9 2128.2,1509.9 2128.9,1450.8 2129.5,1424.0 2130.1,1414.0 2130.7,1439.6 2131.3,1440.9 2132.0,1458.7 2132.6,1466.4 2133.2,1454.9 2133.8,1485.4 2134.5,1420.5 2135.1,1369.9 2135.7,1308.5 2136.3,1319.2 2136.9,1335.7 2137.6,1360.1 2138.2,1366.5 2138.8,1381.2 2139.4,1313.4 2140.0,1276.5 2140.7,1214.0 2141.3,1255.7 2141.9,1268.0 2142.5,1298.3 2143.2,1355.7 2143.8,1371.1 2144.4,1371.1 2145.0,1338.0 2145.6,1349.9 2146.3,1332.1 2146.9,1345.5 2147.5,1332.1 2148.1,1353.5 2148.7,1368.1 2149.4,1401.0 2150.0,1435.4 2150.6,1408.9 2151.2,1387.2 2151.9,1369.7 2152.5,1348.8 2153.1,1307.3 2153.7,1320.5 2154.3,1338.3 2155.0,1327.5 2155.6,1351.8 2156.2,1337.4 2156.8,1301.1 2157.4,1281.7 2158.1,1264.0 2158.7,1272.5 2159.3,1306.4 2159.9,1343.4 2160.6,1356.0 2161.2,1341.2 2161.8,1309.9 2162.4,1308.2 2163.0,1266.5 2163.7,1281.2 2164.3,1323.5 2164.9,1354.0 2165.5,1356.0 2166.2,1356.0 2166.8,1322.5 2167.4,1320.8 2168.0,1312.7 2168.6,1280.4 2169.3,1295.5 2169.9,1299.1 2170.5,1305.6 2171.1,1326.6 2171.7,1377.6 2172.4,1387.4 2173.0,1415.6 2173.6,1384.9 2174.2,1342.2 2174.9,1306.9 2175.5,1277.9 2176.1,1277.9 2176.7,1298.7 2177.3,1313.8 2178.0,1338.8 2178.6,1388.6 2179.2,1389.6 2179.8,1389.6 2180.4,1427.8 2181.1,1427.8 2181.7,1396.3 2182.3,1409.2 2182.9,1376.6 2183.6,1387.2 2184.2,1369.7 2184.8,1350.5 2185.4,1384.9 2186.0,1414.2 2186.7,1431.6 2187.3,1461.0 2187.9,1461.4 2188.5,1477.4 2189.1,1463.2 2189.8,1477.4 2190.4,1440.5 2191.0,1446.7 2191.6,1423.3 2192.3,1414.0 2192.9,1402.2 2193.5,1402.2 2194.1,1446.9 2194.7,1451.6 2195.4,1432.5 2196.0,1458.9 2196.6,1450.2 2197.2,1478.2 2197.8,1456.2 2198.5,1397.6 2199.1,1393.6 2199.7,1380.2 2200.3,1314.8 2201.0,1339.2 2201.6,1316.5 2202.2,1317.9 2202.8,1339.2 2203.4,1339.2 2204.1,1322.4 2204.7,1339.2 2205.3,1339.2 2205.9,1322.4 2206.5,1345.4 2207.2,1385.8 2207.8,1411.5 2208.4,1463.1 2209.0,1493.3 2209.7,1493.3 2210.3,1472.9 2210.9,1446.3 2211.5,1446.2 2212.1,1421.6 2212.8,1423.7 2213.4,1406.0 2214.0,1421.8 2214.6,1437.9 2215.2,1439.0 2215.9,1457.7 2216.5,1447.4 2217.1,1485.4 2217.7,1463.4 2218.4,1450.5 2219.0,1410.1 2219.6,1389.6 2220.2,1365.9 2220.8,1325.8 2221.5,1284.7 2222.1,1259.8 2222.7,1290.1 2223.3,1295.9 2223.9,1336.6 2224.6,1359.9 2225.2,1376.3 2225.8,1420.7 2226.4,1412.4 2227.1,1402.0 2227.7,1377.1 2228.3,1370.1 2228.9,1383.1 2229.5,1334.6 2230.2,1334.6 2230.8,1371.4 2231.4,1432.8 2232.0,1463.5 2232.7,1463.5 2233.3,1456.6 2233.9,1463.5 2234.5,1446.7 2235.1,1440.0 2235.8,1460.0 2236.4,1465.0 2237.0,1484.7 2237.6,1485.4 2238.2,1520.7 2238.9,1526.5 2239.5,1504.1 2240.1,1474.1 2240.7,1444.5 2241.4,1430.8 2242.0,1430.8 2242.6,1453.7 2243.2,1457.6 2243.8,1497.9 2244.5,1526.2 2245.1,1533.9 2245.7,1561.4 2246.3,1538.4 2246.9,1531.9 2247.6,1495.2 2248.2,1492.2 2248.8,1494.1 2249.4,1458.4 2250.1,1452.6 2250.7,1473.4 2251.3,1482.9 2251.9,1484.1 2252.5,1437.3 2253.2,1434.4 2253.8,1432.1 2254.4,1368.2 2255.0,1386.9 2255.6,1395.0 2256.3,1430.1 2256.9,1444.5 2257.5,1473.6 2258.1,1523.1 2258.8,1519.6 2259.4,1554.6 2260.0,1591.6 2260.6,1610.1 2261.2,1609.8 2261.9,1591.4 2262.5,1574.4 2263.1,1557.6 2263.7,1564.0 2264.3,1557.6 2265.0,1535.7 2265.6,1481.1 2266.2,1426.1 2266.8,1464.7 2267.5,1465.9 2268.1,1494.6 2268.7,1454.2 2269.3,1415.0 2269.9,1372.4 2270.6,1418.2 2271.2,1452.3 2271.8,1470.2 2272.4,1494.6 2273.0,1494.6 2273.7,1513.5 2274.3,1538.7 2274.9,1538.7 2275.5,1444.1 2276.2,1456.0 2276.8,1419.1 2277.4,1362.3 2278.0,1367.3 2278.6,1390.7 2279.3,1424.5 2279.9,1431.6 2280.5,1439.2 2281.1,1468.8 2281.7,1492.9 2282.4,1440.3 2283.0,1399.5 2283.6,1350.1 2284.2,1362.3 2284.9,1367.1 2285.5,1392.6 2286.1,1402.2 2286.7,1402.2 2287.3,1399.5 2288.0,1355.0 2288.6,1337.1 2289.2,1354.1 2289.8,1378.2 2290.4,1373.7 2291.1,1439.2 2291.7,1455.1 2292.3,1441.6 2292.9,1414.1 2293.6,1371.8 2294.2,1327.4 2294.8,1338.8 2295.4,1349.2 2296.0,1408.0 2296.7,1414.4 2297.3,1348.6 2297.9,1351.8 2298.5,1353.6 2299.2,1298.0 2299.8,1323.6 2300.4,1366.9 2301.0,1366.9 2301.6,1350.3 2302.3,1339.9 2302.9,1305.6 2303.5,1275.6 2304.1,1278.6 2304.7,1249.1 2305.4,1243.2 2306.0,1220.3 2306.6,1258.2 2307.2,1281.7 2307.9,1326.6 2308.5,1376.7 2309.1,1358.7 2309.7,1397.2 2310.3,1366.3 2311.0,1300.6 2311.6,1284.2 2312.2,1319.2 2312.8,1341.3 2313.4,1320.7 2314.1,1356.2 2314.7,1368.6 2315.3,1325.0 2315.9,1316.2 2316.6,1297.0 2317.2,1261.1 2317.8,1326.0 2318.4,1333.7 2319.0,1343.1 2319.7,1375.4 2320.3,1389.6 2320.9,1427.6 2321.5,1448.2 2322.1,1463.8 2322.8,1489.6 2323.4,1486.7 2324.0,1489.6 2324.6,1473.6 2325.3,1409.3 2325.9,1350.1 2326.5,1279.1 2327.1,1279.1 2327.7,1315.6 2328.4,1326.6 2329.0,1381.2 2329.6,1381.2 2330.2,1365.1 2330.8,1378.9 2331.5,1323.4 2332.1,1341.4 2332.7,1321.1 2333.3,1373.2 2334.0,1391.3 2334.6,1425.5 2335.2,1496.3 2335.8,1496.3 2336.4,1450.5 2337.1,1407.5 2337.7,1397.0 2338.3,1377.0 2338.9,1410.1 2339.5,1484.9 2340.2,1481.0 2340.8,1518.6 2341.4,1529.0 2342.0,1512.9 2342.7,1487.2 2343.3,1444.7 2343.9,1429.7 2344.5,1377.8 2345.1,1412.5 2345.8,1431.8 2346.4,1460.6 2347.0,1473.6 2347.6,1484.7 2348.2,1484.7 2348.9,1494.8 2349.5,1514.3 2350.1,1490.6 2350.7,1470.8 2351.4,1448.3 2352.0,1435.8 2352.6,1410.6 2353.2,1420.9 2353.8,1419.2 2354.5,1482.3 2355.1,1495.4 2355.7,1469.4 2356.3,1404.6 2357.0,1361.9 2357.6,1304.8 2358.2,1313.6 2358.8,1233.5 2359.4,1179.6 2360.1,1217.3 2360.7,1260.4 2361.3,1293.3 2361.9,1307.9 2362.5,1324.0 2363.2,1377.0 2363.8,1342.8 2364.4,1303.1 2365.0,1277.0 2365.7,1234.2 2366.3,1273.8 2366.9,1300.6 2367.5,1309.0 2368.1,1336.7 2368.8,1383.9 2369.4,1430.5 2370.0,1449.6 2370.6,1477.4 2371.2,1420.5 2371.9,1386.0 2372.5,1356.1 2373.1,1303.4 2373.7,1282.7 2374.4,1234.6 2375.0,1256.5 2375.6,1322.7 2376.2,1330.8 2376.8,1383.0 2377.5,1384.3 2378.1,1427.4 2378.7,1408.9 2379.3,1371.5 2379.9,1373.0 2380.6,1356.7 2381.2,1336.3 2381.8,1310.6 2382.4,1293.9 2383.1,1274.5 2383.7,1312.3 2384.3,1315.1 2384.9,1334.4 2385.5,1379.8 2386.2,1389.6 2386.8,1397.0 2387.4,1405.3 2388.0,1438.8 2388.6,1469.7 2389.3,1461.2 2389.9,1477.4 2390.5,1477.4 2391.1,1451.3 2391.8,1454.0 2392.4,1453.1 2393.0,1431.6 2393.6,1472.1 2394.2,1470.1 2394.9,1476.6 2395.5,1514.8 2396.1,1551.7 2396.7,1569.8 2397.3,1569.8 2398.0,1555.3 2398.6,1478.1 2399.2,1478.7 2399.8,1463.7 2400.5,1419.8 2401.1,1457.9 2401.7,1471.2 2402.3,1509.2 2402.9,1489.8 2403.6,1549.5 2404.2,1559.3 2404.8,1529.6 2405.4,1490.6 2406.0,1473.6 2406.7,1473.6 2407.3,1487.8 2407.9,1503.4 2408.5,1525.7 2409.2,1510.1 2409.8,1507.1 2410.4,1491.1 2411.0,1452.6 2411.6,1487.6 2412.3,1467.2 2412.9,1510.1 2413.5,1501.2 2414.1,1454.2 2414.8,1420.3 2415.4,1368.6 2416.0,1329.6 2416.6,1333.1 2417.2,1307.7 2417.9,1236.3 2418.5,1249.0 2419.1,1260.5 2419.7,1272.8 2420.3,1298.5 2421.0,1300.6 2421.6,1326.6 2422.2,1329.7 2422.8,1344.2 2423.5,1344.2 2424.1,1332.2 2424.7,1344.2 2425.3,1397.5 2425.9,1406.9 2426.6,1407.6 2427.2,1417.6 2427.8,1451.3 2428.4,1428.6 2429.0,1424.8 2429.7,1356.4 2430.3,1356.4 2430.9,1358.7 2431.5,1381.1 2432.2,1396.0 2432.8,1420.3 2433.4,1368.2 2434.0,1305.6 2434.6,1313.9 2435.3,1339.2 2435.9,1329.5 2436.5,1269.1 2437.1,1269.1 2437.7,1277.5 2438.4,1312.0 2439.0,1326.6 2439.6,1265.8 2440.2,1223.3 2440.9,1172.0 2441.5,1183.7 2442.1,1201.1 2442.7,1238.2 2443.3,1273.6 2444.0,1271.1 2444.6,1286.9 2445.2,1326.6 2445.8,1314.9 2446.4,1289.6 2447.1,1301.9 2447.7,1276.1 2448.3,1288.7 2448.9,1268.2 2449.6,1295.3 2450.2,1338.3 2450.8,1354.9 2451.4,1427.8 2452.0,1412.4 2452.7,1412.2 2453.3,1405.6 2453.9,1387.0 2454.5,1335.8 2455.1,1361.2 2455.8,1341.8 2456.4,1351.9 2457.0,1391.4 2457.6,1377.3 2458.3,1412.8 2458.9,1414.0 2459.5,1445.0 2460.1,1402.6 2460.7,1402.2 2461.4,1350.7 2462.0,1338.2 2462.6,1304.9 2463.2,1280.4 2463.8,1291.1 2464.5,1305.7 2465.1,1314.0 2465.7,1283.2 2466.3,1298.8 2467.0,1253.6 2467.6,1252.7 2468.2,1329.0 2468.8,1357.3 2469.4,1427.6 2470.1,1432.1 2470.7,1513.9 2471.3,1500.7 2471.9,1459.9 2472.5,1457.6 2473.2,1424.6 2473.8,1426.8 2474.4,1397.7 2475.0,1368.6 2475.7,1349.0 2476.3,1309.3 2476.9,1299.7 2477.5,1268.5 2478.1,1275.2 2478.8,1251.6 2479.4,1224.0 2480.0,1196.0 2480.6,1204.7 2481.3,1223.9 2481.9,1228.2 2482.5,1253.4 2483.1,1262.3 2483.7,1304.8 2484.4,1384.7 2485.0,1404.7 2485.6,1350.9 2486.2,1352.3 2486.8,1322.6 2487.5,1321.2 2488.1,1262.7 2488.7,1303.7 2489.3,1266.6 2490.0,1227.5 2490.6,1227.5 2491.2,1263.6 2491.8,1259.4 2492.4,1258.6 2493.1,1217.8 2493.7,1231.5 2494.3,1268.4 2494.9,1305.2 2495.5,1324.5 2496.2,1326.6 2496.8,1343.8 2497.4,1364.5 2498.0,1379.1 2498.7,1378.8 2499.3,1330.3 2499.9,1305.6 2500.5,1298.3 2501.1,1284.1 2501.8,1292.8 2502.4,1289.9 2503.0,1268.2 2503.6,1285.2 2504.2,1318.7 2504.9,1347.6 2505.5,1347.6 2506.1,1382.6 2506.7,1420.4 2507.4,1492.5 2508.0,1474.8 2508.6,1436.4 2509.2,1382.1 2509.8,1376.1 2510.5,1321.1 2511.1,1339.2 2511.7,1328.1 2512.3,1339.2 2512.9,1322.2 2513.6,1319.2 2514.2,1299.3 2514.8,1280.4 2515.4,1289.2 2516.1,1356.1 2516.7,1341.5 2517.3,1389.6 2517.9,1416.7 2518.5,1425.4 2519.2,1477.0 2519.8,1519.8 2520.4,1494.2 2521.0,1455.9 2521.6,1382.9 2522.3,1377.0 2522.9,1394.1 2523.5,1408.8 2524.1,1447.3 2524.8,1471.9 2525.4,1471.9 2526.0,1392.1 2526.6,1396.6 2527.2,1305.6 2527.9,1305.6 2528.5,1254.2 2529.1,1211.5 2529.7,1194.3 2530.3,1217.0 2531.0,1207.5 2531.6,1244.3 2532.2,1277.2 2532.8,1292.2 2533.5,1292.2 2534.1,1316.5 2534.7,1377.3 2535.3,1389.3 2535.9,1446.7 2536.6,1446.2 2537.2,1433.1 2537.8,1410.6 2538.4,1418.5 2539.1,1431.4 2539.7,1469.4 2540.3,1469.4 2540.9,1469.4 2541.5,1469.4 2542.2,1434.4 2542.8,1402.6 2543.4,1389.6 2544.0,1382.9 2544.6,1382.5 2545.3,1317.3 2545.9,1331.7 2546.5,1312.7 2547.1,1338.2 2547.8,1355.3 2548.4,1336.9 2549.0,1377.0 2549.6,1373.8 2550.2,1353.5 2550.9,1358.1 2551.5,1420.5 2552.1,1433.4 2552.7,1467.3 2553.3,1434.3 2554.0,1426.1 2554.6,1378.9 2555.2,1356.4 2555.8,1374.6 2556.5,1412.5 2557.1,1443.1 2557.7,1446.4 2558.3,1478.4 2558.9,1498.0 2559.6,1478.4 2560.2,1482.0 2560.8,1430.5 2561.4,1420.3 2562.0,1398.0 2562.7,1405.6 2563.3,1414.0 2563.9,1445.5 2564.5,1477.4 2565.2,1466.4 2565.8,1503.0 2566.4,1498.8 2567.0,1495.6 2567.6,1457.0 2568.3,1457.0 2568.9,1433.7 2569.5,1410.6 2570.1,1399.5 2570.7,1374.4 2571.4,1374.3 2572.0,1374.1 2572.6,1354.3 2573.2,1369.2 2573.9,1362.8 2574.5,1382.6 2575.1,1399.6 2575.7,1391.8 2576.3,1413.4 2577.0,1427.8 2577.6,1427.8 2578.2,1392.0 2578.8,1378.4 2579.4,1364.6 2580.1,1355.2 2580.7,1340.0 2581.3,1353.4 2581.9,1353.5 2582.6,1365.6 2583.2,1368.6 2583.8,1357.5 2584.4,1331.6 2585.0,1319.1 2585.7,1307.7 2586.3,1336.7 2586.9,1379.0 2587.5,1431.6 2588.1,1482.3 2588.8,1529.9 2589.4,1582.0 2590.0,1566.7 2590.6,1582.0 2591.3,1573.4 2591.9,1567.7 2592.5,1557.6 2593.1,1551.5 2593.7,1542.9 2594.4,1539.5 2595.0,1487.7 2595.6,1435.8 2596.2,1445.7 2596.8,1459.9 2597.5,1477.7 2598.1,1481.3 2598.7,1474.1 2599.3,1507.2 2600.0,1507.2 2600.6,1438.0 2601.2,1417.4 2601.8,1396.1 2602.4,1343.4 2603.1,1314.8 2603.7,1339.5 2604.3,1343.1 2604.9,1364.4 2605.6,1443.7 2606.2,1434.6 2606.8,1475.7 2607.4,1472.9 2608.0,1448.0 2608.7,1416.6 2609.3,1433.0 2609.9,1410.6 2610.5,1426.0 2611.1,1470.8 2611.8,1454.7 2612.4,1479.8 2613.0,1494.2 2613.6,1442.1 2614.3,1441.8 2614.9,1436.2 2615.5,1403.2 2616.1,1385.8 2616.7,1365.7 2617.4,1416.7 2618.0,1445.9 2618.6,1492.0 2619.2,1486.3 2619.8,1542.1 2620.5,1534.6 2621.1,1507.2 2621.7,1476.4 2622.3,1431.6 2623.0,1442.1 2623.6,1452.6 2624.2,1432.9 2624.8,1458.5 2625.4,1386.4 2626.1,1320.6 2626.7,1232.0 2627.3,1177.5 2627.9,1197.3 2628.5,1219.6 2629.2,1251.0 2629.8,1298.1 2630.4,1314.0" fill="none" stroke="#999999" stroke-width="6" stroke-linejoin="round" stroke-linecap="round"/>
<path d="M1855.4 1389.6H3204.7" stroke="#b9bd78" stroke-width="6.8" stroke-linecap="round" fill="none"/>
<path d="M1855.4 1389.6H3204.7" stroke="#d3ca6c" stroke-width="5.4" stroke-linecap="round" fill="none"/>
<path d="M1855.4 1389.6H3204.7" stroke="#77776a" stroke-width="0.9" fill="none"/>
<path d="M1929.98 1148.70v-15.5M1929.98 1632.90v15.5M2004.56 1148.70v-15.5M2004.56 1632.90v15.5M2079.14 1148.70v-15.5M2079.14 1632.90v15.5M2228.30 1148.70v-15.5M2228.30 1632.90v15.5M2302.88 1148.70v-15.5M2302.88 1632.90v15.5M2377.46 1148.70v-15.5M2377.46 1632.90v15.5M2526.62 1148.70v-15.5M2526.62 1632.90v15.5M2601.20 1148.70v-15.5M2601.20 1632.90v15.5M2675.78 1148.70v-15.5M2675.78 1632.90v15.5M2824.94 1148.70v-15.5M2824.94 1632.90v15.5M2899.52 1148.70v-15.5M2899.52 1632.90v15.5M2974.10 1148.70v-15.5M2974.10 1632.90v15.5M3123.26 1148.70v-15.5M3123.26 1632.90v15.5M3197.84 1148.70v-15.5M3197.84 1632.90v15.5M1851.80 1620.60h-15.5M3208.40 1620.60h15.5M1851.80 1599.60h-15.5M3208.40 1599.60h15.5M1851.80 1578.60h-15.5M3208.40 1578.60h15.5M1851.80 1536.60h-15.5M3208.40 1536.60h15.5M1851.80 1515.60h-15.5M3208.40 1515.60h15.5M1851.80 1494.60h-15.5M3208.40 1494.60h15.5M1851.80 1452.60h-15.5M3208.40 1452.60h15.5M1851.80 1431.60h-15.5M3208.40 1431.60h15.5M1851.80 1410.60h-15.5M3208.40 1410.60h15.5M1851.80 1368.60h-15.5M3208.40 1368.60h15.5M1851.80 1347.60h-15.5M3208.40 1347.60h15.5M1851.80 1326.60h-15.5M3208.40 1326.60h15.5M1851.80 1284.60h-15.5M3208.40 1284.60h15.5M1851.80 1263.60h-15.5M3208.40 1263.60h15.5M1851.80 1242.60h-15.5M3208.40 1242.60h15.5M1851.80 1200.60h-15.5M3208.40 1200.60h15.5M1851.80 1179.60h-15.5M3208.40 1179.60h15.5M1851.80 1158.60h-15.5M3208.40 1158.60h15.5" stroke="#909090" stroke-width="1.2" fill="none"/>
<path d="M1855.40 1148.70v-31M1855.40 1632.90v31M2153.72 1148.70v-31M2153.72 1632.90v31M2452.04 1148.70v-31M2452.04 1632.90v31M2750.36 1148.70v-31M2750.36 1632.90v31M3048.68 1148.70v-31M3048.68 1632.90v31M1851.80 1557.60h-31M3208.40 1557.60h31M1851.80 1473.60h-31M3208.40 1473.60h31M1851.80 1389.60h-31M3208.40 1389.60h31M1851.80 1305.60h-31M3208.40 1305.60h31M1851.80 1221.60h-31M3208.40 1221.60h31" stroke="#3c3c3c" stroke-width="1.4" fill="none"/>
<rect x="1851.80" y="1148.70" width="1356.60" height="484.20" fill="none" stroke="#505050" stroke-width="1.3"/>
<text transform="translate(1793.80 1235.50) scale(1 1.025)" font-size="40.1" text-anchor="end">0.40</text>
<text transform="translate(1793.80 1319.50) scale(1 1.025)" font-size="40.1" text-anchor="end">0.20</text>
<text transform="translate(1793.80 1403.50) scale(1 1.025)" font-size="40.1" text-anchor="end">0.00</text>
<text transform="translate(1793.80 1487.50) scale(1 1.025)" font-size="40.1" text-anchor="end">-0.20</text>
<text transform="translate(1793.80 1571.50) scale(1 1.025)" font-size="40.1" text-anchor="end">-0.40</text>
<text transform="translate(1855.10 1721.60) scale(1 1.025)" font-size="40.0" text-anchor="middle">1920</text>
<text transform="translate(2153.42 1721.60) scale(1 1.025)" font-size="40.0" text-anchor="middle">1960</text>
<text transform="translate(2451.74 1721.60) scale(1 1.025)" font-size="40.0" text-anchor="middle">2000</text>
<text transform="translate(2750.06 1721.60) scale(1 1.025)" font-size="40.0" text-anchor="middle">2040</text>
<text transform="translate(3048.38 1721.60) scale(1 1.025)" font-size="40.0" text-anchor="middle">2080</text>
<text transform="translate(2530.60 1798.50) scale(1 1.06)" font-size="53.0" text-anchor="middle">Time</text>
<text transform="translate(1847.90 1096.10) scale(1 1.055)" font-size="46.5" fill="#000">Ensemble Mean Summary</text>
</g>
</svg></body></html>
